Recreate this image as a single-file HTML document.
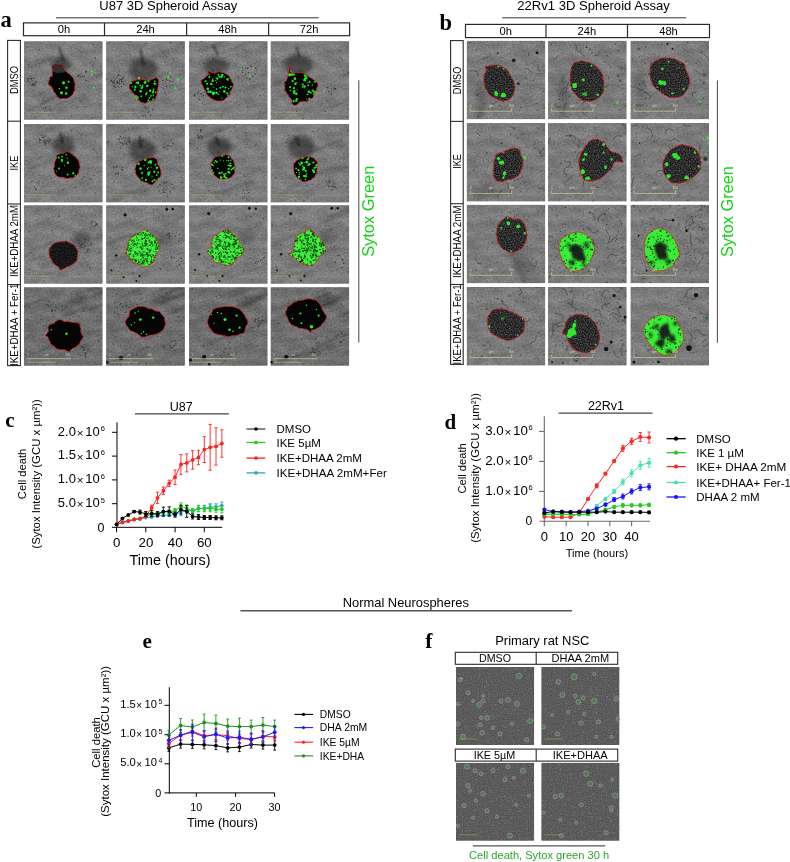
<!DOCTYPE html>
<html><head><meta charset="utf-8"><title>Spheroid assay figure</title>
<style>html,body{margin:0;padding:0;background:#fff;}#fig{position:relative;width:790px;height:862px;overflow:hidden;background:#fff;}svg{display:block;}</style>
</head><body><div id="fig">
<svg width="790" height="862" viewBox="0 0 790 862" font-family="'Liberation Sans', Arial, sans-serif">
<defs>
<filter id="blur2" x="-50%" y="-50%" width="200%" height="200%"><feGaussianBlur stdDeviation="2"/></filter>
<filter id="mtex" x="0" y="0" width="100%" height="100%" color-interpolation-filters="sRGB"><feTurbulence type="fractalNoise" baseFrequency="0.06 0.12" numOctaves="3" seed="2" result="n1"/><feTurbulence type="fractalNoise" baseFrequency="0.55" numOctaves="2" seed="5" result="n2"/><feColorMatrix in="n1" type="matrix" values="1 0 0 0 0 1 0 0 0 0 1 0 0 0 0 0 0 0 0 1" result="g1"/><feColorMatrix in="n2" type="matrix" values="1 0 0 0 0 1 0 0 0 0 1 0 0 0 0 0 0 0 0 1" result="g2"/><feComposite in="g1" in2="g2" operator="arithmetic" k2="0.45" k3="0.55" result="g3"/><feGaussianBlur in="g3" stdDeviation="0.45" result="g"/><feComposite in="SourceGraphic" in2="g" operator="arithmetic" k2="1" k3="0.34" k4="-0.17"/></filter>
<filter id="ntex" x="0" y="0" width="100%" height="100%" color-interpolation-filters="sRGB"><feTurbulence type="fractalNoise" baseFrequency="0.8" numOctaves="1" seed="11" result="n"/><feColorMatrix in="n" type="matrix" values="1 0 0 0 0 1 0 0 0 0 1 0 0 0 0 0 0 0 0 1" result="g"/><feComposite in="SourceGraphic" in2="g" operator="arithmetic" k2="1" k3="0.22" k4="-0.11"/></filter>
<filter id="blur3" x="-50%" y="-50%" width="200%" height="200%"><feGaussianBlur stdDeviation="3"/></filter>
<filter id="blur1" x="-50%" y="-50%" width="200%" height="200%"><feGaussianBlur stdDeviation="1"/></filter>
<filter id="blur03" x="-50%" y="-50%" width="200%" height="200%"><feGaussianBlur stdDeviation="0.3"/></filter>
<filter id="blur05" x="-50%" y="-50%" width="200%" height="200%"><feGaussianBlur stdDeviation="0.5"/></filter>
<filter id="grainA" x="0" y="0" width="100%" height="100%"><feTurbulence type="fractalNoise" baseFrequency="0.8" numOctaves="2" seed="4"/><feColorMatrix type="matrix" values="0 0 0 0 0  0 0 0 0 0  0 0 0 0 0  0 0 0 -1.6 0.75"/></filter>
<filter id="grainL" x="0" y="0" width="100%" height="100%" color-interpolation-filters="sRGB"><feTurbulence type="fractalNoise" baseFrequency="0.8" numOctaves="2" seed="7"/><feColorMatrix type="matrix" values="0 0 0 0 0.46  0 0 0 0 0.46  0 0 0 0 0.46  1.5 0 0 0 -0.5"/></filter>
<filter id="grainK" x="0" y="0" width="100%" height="100%" color-interpolation-filters="sRGB"><feTurbulence type="fractalNoise" baseFrequency="0.7" numOctaves="2" seed="3"/><feGaussianBlur stdDeviation="0.35"/><feColorMatrix type="matrix" values="0 0 0 0 0.03  0 0 0 0 0.1  0 0 0 0 0.03  -4.5 0 0 0 2.45"/></filter>
<filter id="grainD" x="0" y="0" width="100%" height="100%"><feTurbulence type="fractalNoise" baseFrequency="1.1" numOctaves="1" seed="9"/><feColorMatrix type="matrix" values="0 0 0 0 0.7  0 0 0 0 0.7  0 0 0 0 0.7  0 0 0 4 -2.3"/></filter>
<clipPath id="c1"><rect x="0" y="0" width="78.6" height="78.5"/></clipPath><clipPath id="c2"><rect x="0" y="0" width="78.6" height="78.5"/></clipPath><clipPath id="c3"><rect x="0" y="0" width="78.6" height="78.5"/></clipPath><clipPath id="c4"><rect x="0" y="0" width="78.6" height="78.5"/></clipPath><clipPath id="c5"><rect x="0" y="0" width="78.6" height="78.5"/></clipPath><clipPath id="c6"><rect x="0" y="0" width="78.6" height="78.5"/></clipPath><clipPath id="c7"><rect x="0" y="0" width="78.6" height="78.5"/></clipPath><clipPath id="c8"><rect x="0" y="0" width="78.6" height="78.5"/></clipPath><clipPath id="c9"><rect x="0" y="0" width="78.6" height="78.5"/></clipPath><clipPath id="c10"><path d="M32.3,37.23 L34.05,36.85 L36.8,36.52 L39.82,36.22 L41.6,35.83 L43.57,36.45 L45.73,37.56 L47,37.94 L49.11,39.3 L50.99,40.78 L52.05,42.52 L53.21,44.68 L53.9,46.78 L53.53,49.68 L53.3,52.27 L53.02,55.16 L52.13,56.21 L50.04,58.17 L48.49,59.35 L46.76,60.16 L44.4,61.58 L42.74,61.76 L39.99,63.45 L38.49,63.99 L36.34,64.94 L35.5,63.75 L34.92,62.22 L33.15,61.15 L31.46,59.73 L29.7,58.39 L28.18,56.58 L27.53,54.52 L25.93,52.19 L25.08,49.27 L25,46.88 L25.04,45.07 L25.43,42.81 L27.31,41.16 L27.68,39.81 L28.94,39.01 L30.49,38.01 L30.62,37.94Z"/></clipPath><clipPath id="c11"><rect x="0" y="0" width="78.6" height="78.5"/></clipPath><clipPath id="c12"><rect x="0" y="0" width="78.6" height="78.5"/></clipPath><clipPath id="c13"><rect x="0" y="0" width="78.6" height="78.5"/></clipPath><clipPath id="c14"><rect x="0" y="0" width="78.6" height="78.5"/></clipPath><clipPath id="c15"><rect x="0" y="0" width="78.6" height="78.5"/></clipPath><clipPath id="c16"><rect x="0" y="0" width="78.6" height="78.5"/></clipPath><clipPath id="c17"><rect x="0" y="0" width="78.6" height="78.5"/></clipPath><clipPath id="c18"><rect x="0" y="0" width="78.5" height="78.4"/></clipPath><clipPath id="c19"><path d="M18.77,25.58 L19.93,25.65 L21.38,25.39 L23.38,24.49 L25.23,24.33 L27.95,24.1 L29.58,23.78 L31.73,24.53 L33.91,24.87 L35.5,25.88 L37.52,27.19 L38.89,28.05 L41.15,30.07 L42.27,31.94 L43.37,33.79 L44.76,36.1 L45.63,37.85 L47.12,39.95 L47.6,41.86 L47.71,44.14 L48.38,45.86 L48.05,48.04 L47.77,49.96 L47.5,51.27 L46.59,53.54 L46.13,54.75 L44.42,56.73 L42.88,58.33 L41.25,59.22 L38.83,59.69 L36.45,60.69 L34.2,59.93 L31.8,59 L30.06,58.12 L27.85,56.96 L25.32,55.87 L23.39,54.22 L21.65,52.59 L20.81,50.68 L19.73,49.08 L18.36,47.05 L17.7,44.87 L17.47,41.87 L17.22,39.34 L17.23,36.07 L17.53,34.02 L18.66,31.9 L19.21,30.58 L19.53,28.79 L18.86,27.35 L18.22,26.6Z"/></clipPath><clipPath id="c20"><rect x="0" y="0" width="78.5" height="78.4"/></clipPath><clipPath id="c21"><path d="M25.27,22.41 L26.99,21.53 L29.12,20.99 L30.91,20.76 L33.03,19.98 L35.23,20.1 L36.98,21.01 L38.98,21.31 L41.6,21.89 L43.55,23.06 L45.13,23.57 L47.74,25.53 L49.68,26.97 L51,29.01 L52.55,30.93 L53.83,32.54 L54.59,35.22 L54.67,37.33 L55.67,40.02 L55.77,42.53 L55.78,45.81 L55.88,48.14 L55.24,50.03 L54.11,52.44 L53.76,53.9 L52.08,55.76 L50.84,56.8 L49.13,58.14 L47.75,58.86 L45.64,59.49 L43.1,60.43 L40.86,60.39 L38.95,60.32 L37.61,60.03 L35.67,60.15 L33.58,59.41 L32.06,58.42 L30.85,56.93 L29.81,55.84 L28.06,54.26 L26.6,52.48 L25.67,51.37 L23.83,49.43 L23.37,46.53 L22.23,44.46 L22.41,42.3 L21.72,39.26 L22.29,36.26 L21.78,33.83 L22.47,31.98 L22.96,29.29 L22.84,27.5 L23.62,25.88 L24.43,24.33Z"/></clipPath><clipPath id="c22"><rect x="0" y="0" width="78.5" height="78.4"/></clipPath><clipPath id="c23"><path d="M21.16,23.41 L22.91,21.35 L24.94,20.26 L27.89,18.8 L29.87,17.65 L32.33,17.32 L34.81,17.33 L37.62,17.11 L39.37,17.09 L42.26,17.47 L44.49,18.27 L46.08,18.77 L47.73,20.17 L49.61,20.67 L51.98,22.02 L53.54,22.62 L54.19,23.92 L54.9,25.72 L54.95,28.02 L55.91,30.4 L57.22,32.65 L57.94,35.21 L58.73,36.86 L59.49,38.76 L59.23,41.27 L58.8,43.64 L58.13,45.45 L57.43,48.44 L55.95,49.65 L54.39,52.07 L53.59,53.49 L51.85,54.81 L50.16,55.76 L47.71,56.4 L46.1,56.51 L44.37,56.85 L42.04,56.92 L39.99,56.73 L37.62,56.41 L36.2,54.97 L34.07,54.24 L31.8,52.69 L30.08,51.26 L27.83,49.71 L26.05,48.6 L24.78,46.84 L22.95,45.49 L22.05,42.9 L21.16,41.14 L20.06,38.33 L19.57,36.01 L19.39,32.69 L19.48,29.9 L19.61,26.55Z"/></clipPath><clipPath id="c24"><rect x="0" y="0" width="78.5" height="78.4"/></clipPath><clipPath id="c25"><path d="M29.44,31.38 L31.85,30.42 L33.95,29.5 L37.06,28.68 L38.65,27.56 L40.54,27.24 L42.73,26.07 L44.54,25.63 L46.73,25.34 L48.71,24.97 L50.46,25.6 L52.03,26.35 L53.07,27.54 L53.46,28.93 L54.14,31.23 L54.62,33.79 L55.82,35 L56.19,37.14 L56.32,39.27 L56.2,41.49 L55.41,44.63 L55.24,46.55 L54.14,48.43 L53.33,50.21 L52.27,51.59 L51.45,52.94 L49.93,53.56 L47.74,55.01 L46.1,55.66 L44.18,56.4 L41.54,56.36 L39.78,57.48 L37.44,57.86 L35.96,59.09 L33.67,58.46 L32.26,58.52 L30.6,58.04 L29.21,57.29 L28.42,55.86 L27.37,54.64 L26.81,53.07 L26.9,50 L26.21,47.69 L26.97,44.56 L27.22,41.81 L27.15,39.14 L27.58,37.12 L28.33,36.04 L28.7,34.62 L28.82,33.09 L28.67,32.55Z"/></clipPath><clipPath id="c26"><rect x="0" y="0" width="78.5" height="78.4"/></clipPath><clipPath id="c27"><path d="M39.47,20.4 L41.04,18.62 L43.57,16.9 L45.24,16.14 L47.47,16.4 L49.61,16.06 L51.23,17.27 L53.84,18.39 L55.88,19.42 L57.31,21.15 L58.7,23.48 L60.42,25.67 L61.76,27.45 L62.56,28.35 L64.3,28.71 L65.39,29.68 L66.63,29.32 L68.64,30.19 L69.63,30.31 L71.4,31.57 L72.54,32.77 L73.8,34.37 L74.25,36.64 L74.88,38.09 L74.87,39.25 L73.52,39.53 L71.85,38.85 L70.37,38.7 L69.37,38.81 L67.61,38.5 L66.67,39.58 L65.41,40.55 L64.63,43.14 L63.8,44.28 L62.52,46.48 L60.87,47.61 L59.71,49.22 L57.69,51 L55.87,52.99 L53.55,54.83 L51.54,56.08 L49.15,56.59 L47.58,57.33 L45.03,58.32 L43.47,58.34 L41.15,58.31 L39.68,58.1 L37.66,57.57 L35.85,57.05 L34.73,54.96 L34.19,53.27 L33.04,51.48 L32.13,49.45 L31.68,46.41 L30.84,43.6 L30.96,40.65 L30.69,38.19 L31.12,35.3 L32.09,33.1 L32.65,30.63 L33.94,28.4 L36.01,25.73 L37.5,22.39Z"/></clipPath><clipPath id="c28"><rect x="0" y="0" width="78.5" height="78.4"/></clipPath><clipPath id="c29"><path d="M39.93,27.03 L41.57,25.73 L43.73,24.58 L46.41,23.16 L48.3,22.61 L50.14,21.57 L52.58,21.55 L54.16,22.16 L57.26,22.79 L59.33,23.16 L61.79,24.1 L63.7,25.32 L65.22,26.69 L66.52,27.88 L67.33,29.19 L68.39,31.12 L69.41,33.67 L69.85,37.08 L70.69,39.85 L70.66,41.84 L70.01,44.57 L69.44,46.94 L68.38,48.74 L65.95,51.17 L64.55,52.72 L62.45,54.38 L60.27,55.38 L58.12,57.01 L56.49,58.06 L54.55,58.61 L52.07,59.59 L49.78,60.07 L47.77,60.2 L45.76,59.96 L43.66,59.9 L41.84,59.74 L39.93,58.94 L38.82,57.99 L37.05,56.62 L35.78,54.64 L35.12,52.91 L33.47,50.71 L32.75,48.93 L32.61,46.72 L32.45,44.37 L32.24,41.45 L32.73,38.78 L33.8,36.29 L35,33.5 L36.42,31.44 L38.41,28.96Z"/></clipPath><clipPath id="c30"><rect x="0" y="0" width="78.5" height="78.4"/></clipPath><clipPath id="c31"><path d="M36.63,14.57 L38.38,12.83 L39.33,11.86 L40.57,11.41 L42.75,12.43 L43.85,13 L46.27,14.12 L47.5,14.37 L50.19,14.36 L52.11,14.06 L54.19,15.28 L55.38,16.78 L57.2,18.29 L58.23,20.7 L58.85,23.02 L59.87,25.6 L59.78,27.91 L60.57,30 L60.07,32.22 L59.68,34.83 L58.67,37.76 L57.71,39.42 L57.1,41.18 L55.67,43.03 L53.71,44.44 L52.12,45.28 L50.81,46.08 L48.92,46.69 L47.39,47.27 L45.92,47.94 L43.77,47.58 L42.6,47.17 L40.31,46.65 L39.06,45.53 L37.05,45.01 L35.24,43.16 L33.39,41.44 L32.72,39.9 L31.3,37.76 L30.66,35.94 L30.51,32.83 L29.4,29.96 L30.07,27.33 L30.27,24.7 L31.05,21.6 L32.06,19.45 L33.33,17.52 L34.69,15.85Z"/></clipPath><clipPath id="c32"><rect x="0" y="0" width="78.5" height="78.4"/></clipPath><clipPath id="c33"><rect x="0" y="0" width="78.5" height="78.4"/></clipPath><clipPath id="c34"><rect x="0" y="0" width="78.5" height="78.4"/></clipPath><clipPath id="c35"><path d="M24.64,24.05 L25.86,23.09 L27.6,22.36 L29.66,21.82 L31.66,22.16 L33.94,21.48 L35.88,21.83 L38.12,22.34 L40.12,22.97 L41.84,23.84 L44.05,24.97 L46.14,25.26 L47.61,26.6 L49.97,27.21 L51.35,28.5 L52.9,29.3 L54.14,29.78 L56.16,30.11 L57.05,31.25 L57.44,32.97 L57.91,34.82 L58.2,37.16 L57.72,39.53 L57.53,41.93 L57.05,43.8 L56.22,45.58 L54.29,47.16 L52.83,48.66 L51.22,49.63 L48.99,50.86 L47.21,52.05 L44.54,52.91 L42.84,53.18 L40.7,53.14 L38.52,53.01 L36.59,52.03 L34.45,51.3 L32.77,50.64 L30.32,49.51 L28.88,48.41 L26.49,47.45 L25.01,46.25 L23.27,44.71 L22.97,42.92 L21.7,41.08 L21.39,39.08 L20.85,37.46 L20.65,35.77 L20.8,34.56 L20.73,32.52 L21.2,30.71 L21.36,29.45 L22.6,27.54 L23.59,26.03Z"/></clipPath><clipPath id="c36"><rect x="0" y="0" width="78.5" height="78.4"/></clipPath><clipPath id="c37"><path d="M23.15,29.45 L24.92,28.41 L27.01,27.46 L28.94,27.06 L31.64,27.21 L34.11,27.32 L35.94,28.03 L38.67,28.87 L40.44,29.92 L42.31,31.17 L43.88,32.82 L45.92,34.82 L47.17,36.31 L48.65,38.88 L49.29,41.35 L50.34,43.78 L51.04,46.26 L51.45,48.74 L51.75,51.89 L50.76,54.26 L50.7,56.74 L49.19,58.59 L47.8,60.53 L46.47,61.78 L44,63.5 L42.67,64.52 L40.71,65.27 L38.25,65.94 L36.15,65.33 L33.16,65.16 L31.27,64.42 L28.96,64.09 L27,62.54 L25.39,61.42 L23.91,60.49 L22.53,58.67 L21.42,56.25 L20.03,54.87 L19.75,52.06 L18.81,50.75 L18.27,49 L18,47.96 L17.16,47.73 L16.04,46.87 L14.38,46.39 L13.69,45.72 L14.6,45.27 L14.88,43.56 L15.95,42.07 L16.73,40.67 L17.18,38.68 L17.61,36.1 L18.14,35.08 L18.8,33.77 L20.17,31.97 L20.98,31.1 L21.58,30.3Z"/></clipPath><clipPath id="c38"><rect x="0" y="0" width="78.5" height="78.4"/></clipPath><clipPath id="c39"><rect x="0" y="0" width="78.2" height="78.1"/></clipPath><clipPath id="c40"><rect x="0" y="0" width="78.2" height="78.1"/></clipPath><clipPath id="c41"><rect x="0" y="0" width="78.2" height="78.1"/></clipPath><clipPath id="c42"><rect x="0" y="0" width="78.2" height="78.1"/></clipPath>
</defs>
<text x="0.5" y="26.5" font-size="22.5" text-anchor="start" fill="#000" font-family="'Liberation Serif', 'Times New Roman', serif" font-weight="bold">a</text>
<text x="99.3" y="10.2" font-size="13" text-anchor="start" fill="#000" >U87 3D Spheroid Assay</text>
<line x1="56" y1="17.8" x2="318.7" y2="17.8" stroke="#333" stroke-width="1" />
<rect x="23.5" y="22.9" width="326.1" height="12.8" fill="#fff" stroke="#2a2a2a" stroke-width="1.2" />
<line x1="104.5" y1="22.9" x2="104.5" y2="35.7" stroke="#2a2a2a" stroke-width="1.2" />
<line x1="186.6" y1="22.9" x2="186.6" y2="35.7" stroke="#2a2a2a" stroke-width="1.2" />
<line x1="268.6" y1="22.9" x2="268.6" y2="35.7" stroke="#2a2a2a" stroke-width="1.2" />
<text x="64" y="33.4" font-size="11.2" text-anchor="middle" fill="#000" >0h</text>
<text x="145.5" y="33.4" font-size="11.2" text-anchor="middle" fill="#000" >24h</text>
<text x="227.6" y="33.4" font-size="11.2" text-anchor="middle" fill="#000" >48h</text>
<text x="309.1" y="33.4" font-size="11.2" text-anchor="middle" fill="#000" >72h</text>
<rect x="7.6" y="40.4" width="12.8" height="325.2" fill="#fff" stroke="#2a2a2a" stroke-width="1.1" />
<line x1="7.6" y1="121.2" x2="20.4" y2="121.2" stroke="#2a2a2a" stroke-width="1.1" />
<line x1="7.6" y1="204" x2="20.4" y2="204" stroke="#2a2a2a" stroke-width="1.1" />
<line x1="7.6" y1="284.6" x2="20.4" y2="284.6" stroke="#2a2a2a" stroke-width="1.1" />
<text transform="translate(17.8,79.9) rotate(-90)" font-size="10" text-anchor="middle" fill="#000" textLength="28" lengthAdjust="spacingAndGlyphs" >DMSO</text>
<text transform="translate(17.8,163.1) rotate(-90)" font-size="10" text-anchor="middle" fill="#000" textLength="14.8" lengthAdjust="spacingAndGlyphs" >IKE</text>
<text transform="translate(17.8,241) rotate(-90)" font-size="10" text-anchor="middle" fill="#000" textLength="72" lengthAdjust="spacingAndGlyphs" >IKE+DHAA 2mM</text>
<text transform="translate(17.8,324.8) rotate(-90)" font-size="10" text-anchor="middle" fill="#000" textLength="82.5" lengthAdjust="spacingAndGlyphs" >IKE+DHAA + Fer-1</text>
<line x1="358.8" y1="80.3" x2="358.8" y2="342.6" stroke="#555" stroke-width="1.1" />
<text transform="translate(374.3,211.3) rotate(-90)" font-size="16.4" text-anchor="middle" fill="#14d214" >Sytox Green</text>
<g transform="translate(24,41.2)" clip-path="url(#c1)">
<rect x="0" y="0" width="78.6" height="78.5" fill="#7c7c7c" filter="url(#mtex)"/>
<ellipse cx="37.3" cy="23" rx="9" ry="8.05" fill="#000" opacity="0.4" filter="url(#blur2)" transform="rotate(0 37.3 23)"/>
<line x1="56" y1="59.12" x2="96" y2="42.91" stroke="#000" stroke-width="2.017833500585927" opacity="0.1009019777094887" filter="url(#blur1)"/>
<line x1="16.44" y1="61.14" x2="56.44" y2="46.1" stroke="#000" stroke-width="2.4531939083047116" opacity="0.1066705631564025" filter="url(#blur1)"/>
<line x1="61.73" y1="39.37" x2="101.73" y2="24.55" stroke="#000" stroke-width="3.011608408314448" opacity="0.10946951973402654" filter="url(#blur1)"/>
<line x1="2.55" y1="70.96" x2="42.55" y2="49.13" stroke="#000" stroke-width="3.120434471993179" opacity="0.13217327603516663" filter="url(#blur1)"/>
<line x1="7.91" y1="56.93" x2="47.91" y2="35.94" stroke="#000" stroke-width="2.8679678638308825" opacity="0.09777141723621707" filter="url(#blur1)"/>
<line x1="-10.94" y1="33.87" x2="29.06" y2="15.76" stroke="#000" stroke-width="3.326022106475796" opacity="0.13732850942166072" filter="url(#blur1)"/>
<line x1="22.93" y1="67.49" x2="62.93" y2="52.89" stroke="#000" stroke-width="3.110055654026045" opacity="0.10389594430684715" filter="url(#blur1)"/>
<line x1="35.4" y1="6" x2="39.5" y2="20" stroke="#000" stroke-width="2.2" opacity="0.5" filter="url(#blur1)"/>
<g fill="#151515" opacity="0.7"><circle cx="11.06" cy="43.44" r="0.64"/><circle cx="7.89" cy="43.52" r="0.5"/><circle cx="5.43" cy="36.38" r="0.34"/><circle cx="12.5" cy="40.81" r="0.49"/><circle cx="8.02" cy="39.77" r="0.5"/><circle cx="7.57" cy="37.65" r="0.73"/><circle cx="8.71" cy="39.49" r="0.31"/><circle cx="3.32" cy="38.75" r="0.47"/><circle cx="8.68" cy="43.18" r="0.31"/><circle cx="8.59" cy="43.26" r="0.52"/><circle cx="8.25" cy="42.39" r="0.4"/><circle cx="5.39" cy="40.68" r="0.31"/><circle cx="9.95" cy="36.82" r="0.59"/><circle cx="9.95" cy="44.58" r="0.69"/><circle cx="10.09" cy="41.99" r="0.62"/><circle cx="6.83" cy="35.3" r="0.49"/><circle cx="9.97" cy="36.41" r="0.44"/><circle cx="4" cy="37.54" r="0.68"/><circle cx="4.16" cy="39.87" r="0.32"/><circle cx="8.2" cy="44.46" r="0.49"/><circle cx="9.72" cy="43.28" r="0.62"/><circle cx="6.6" cy="37.28" r="0.5"/><circle cx="3.59" cy="39.77" r="0.53"/><circle cx="5.26" cy="42.17" r="0.31"/><circle cx="12.04" cy="41.13" r="0.74"/></g>
<g fill="#151515" opacity="0.7"><circle cx="56.86" cy="32.92" r="0.38"/><circle cx="54.05" cy="34.92" r="0.65"/><circle cx="54.61" cy="33.63" r="0.4"/><circle cx="54.17" cy="34.49" r="0.56"/><circle cx="56.99" cy="35.79" r="0.55"/><circle cx="60.44" cy="34.88" r="0.65"/><circle cx="62.42" cy="29.9" r="0.63"/><circle cx="61.57" cy="30.97" r="0.55"/><circle cx="58.73" cy="35.64" r="0.69"/><circle cx="57.57" cy="33.86" r="0.53"/><circle cx="56.43" cy="35.34" r="0.46"/><circle cx="55.4" cy="33.87" r="0.58"/><circle cx="59.03" cy="35.26" r="0.4"/><circle cx="62.03" cy="39.12" r="0.69"/><circle cx="61.6" cy="29.89" r="0.67"/></g>
<g fill="#151515" opacity="0.7"><circle cx="19.76" cy="67.34" r="0.6"/><circle cx="20.9" cy="60.52" r="0.31"/><circle cx="20.14" cy="56.01" r="0.35"/><circle cx="16.68" cy="56.68" r="0.33"/><circle cx="23.12" cy="64.9" r="0.38"/><circle cx="19.03" cy="66.68" r="0.5"/><circle cx="17.59" cy="64.95" r="0.31"/><circle cx="16.07" cy="63.39" r="0.38"/><circle cx="25.88" cy="64.79" r="0.53"/><circle cx="21.58" cy="66.02" r="0.67"/><circle cx="21.06" cy="60.14" r="0.37"/><circle cx="19.38" cy="56.86" r="0.62"/></g>
<g fill="#222" opacity="0.7"><circle cx="53.3" cy="42.76" r="0.39"/><circle cx="76.68" cy="62.63" r="0.51"/><circle cx="17.54" cy="50.91" r="0.46"/><circle cx="45.26" cy="25.22" r="0.55"/><circle cx="4.62" cy="23.44" r="0.69"/><circle cx="68.82" cy="24.05" r="0.64"/><circle cx="24.39" cy="73.73" r="0.6"/><circle cx="32.71" cy="19.81" r="0.3"/><circle cx="69.07" cy="2.98" r="0.63"/><circle cx="75.63" cy="44.77" r="0.37"/><circle cx="68.21" cy="76.44" r="0.58"/><circle cx="40" cy="29.67" r="0.44"/><circle cx="16.17" cy="52.92" r="0.47"/><circle cx="15.26" cy="8.2" r="0.57"/><circle cx="23.27" cy="39.23" r="0.43"/><circle cx="68.51" cy="70.62" r="0.31"/><circle cx="15.79" cy="25.73" r="0.69"/><circle cx="61.52" cy="26.62" r="0.39"/><circle cx="53.01" cy="65.76" r="0.67"/><circle cx="27.03" cy="69.27" r="0.57"/><circle cx="38.08" cy="77.36" r="0.39"/><circle cx="57.02" cy="6.65" r="0.37"/><circle cx="71.6" cy="16.72" r="0.6"/><circle cx="47.18" cy="66.03" r="0.45"/><circle cx="26.75" cy="22.86" r="0.65"/><circle cx="47.47" cy="74.91" r="0.65"/><circle cx="10.64" cy="43.27" r="0.34"/><circle cx="3.08" cy="5.75" r="0.65"/><circle cx="61.95" cy="65.04" r="0.44"/><circle cx="48.35" cy="61.38" r="0.45"/><circle cx="44.86" cy="17.56" r="0.33"/><circle cx="20.96" cy="69.93" r="0.53"/><circle cx="72.71" cy="35.93" r="0.41"/><circle cx="61.86" cy="64.98" r="0.3"/><circle cx="52.69" cy="7.2" r="0.35"/><circle cx="69.57" cy="3.14" r="0.4"/><circle cx="77.67" cy="33.05" r="0.35"/><circle cx="13.16" cy="18.95" r="0.6"/><circle cx="8.08" cy="71.5" r="0.45"/><circle cx="76.26" cy="71.37" r="0.42"/></g>
<path d="M28.15,24.28 L29.29,23.76 L31.08,22.87 L33.88,23.1 L35.34,23.23 L36.91,23 L38.91,24.37 L39.53,24.45 L38.89,26.2 L39.98,27.34 L40.46,28.45 L41.03,29.28 L42.31,30.15 L43.7,31.7 L46.46,33.6 L47.75,35.54 L49.31,36.87 L49.71,38.4 L50.42,40.85 L51.29,42.89 L50.69,46.06 L50.68,48.7 L49.94,50.12 L49.31,51.84 L48.65,53.27 L46.74,55.07 L45.17,56.22 L43.49,57.06 L41.15,57.29 L39.69,57.24 L37.95,57.37 L36.23,57.82 L34.94,56.45 L33.01,55.71 L32.7,54.28 L31.68,52.68 L30.81,51.13 L29.48,50.63 L29.34,49.26 L28.74,47.85 L27.91,46.16 L26.96,45.12 L26.51,44.77 L25.13,43.56 L24.89,43.85 L23.95,42.94 L24.47,41.83 L24.65,40.51 L25.06,39.02 L25.64,38.35 L25.66,36.98 L25.75,36.14 L26.31,35.6 L28.01,35.18 L28.3,34.51 L28.32,32.46 L28.52,31.18 L28.55,29.34 L28.4,27.79 L27.77,25.7Z" fill="#050505"/>
<path d="M28.59,24.44 L30.62,23.73 L33.64,23.85 L35.95,23.73 L38.03,23.94 L38.94,25.88 L39.1,27.56 L41.32,28.86 L42.12,30.51 L39.53,31.26 L36.14,31.56 L32.36,31.68 L29.28,30.54 L27.87,27.4Z" fill="#303030"/>
<path d="M28.15,24.28 L29.29,23.76 L31.08,22.87 L33.88,23.1 L35.34,23.23 L36.91,23 L38.91,24.37 L39.53,24.45 L38.89,26.2 L39.98,27.34 L40.46,28.45 L41.03,29.28 L42.31,30.15 L43.7,31.7 L46.46,33.6 L47.75,35.54 L49.31,36.87 L49.71,38.4 L50.42,40.85 L51.29,42.89 L50.69,46.06 L50.68,48.7 L49.94,50.12 L49.31,51.84 L48.65,53.27 L46.74,55.07 L45.17,56.22 L43.49,57.06 L41.15,57.29 L39.69,57.24 L37.95,57.37 L36.23,57.82 L34.94,56.45 L33.01,55.71 L32.7,54.28 L31.68,52.68 L30.81,51.13 L29.48,50.63 L29.34,49.26 L28.74,47.85 L27.91,46.16 L26.96,45.12 L26.51,44.77 L25.13,43.56 L24.89,43.85 L23.95,42.94 L24.47,41.83 L24.65,40.51 L25.06,39.02 L25.64,38.35 L25.66,36.98 L25.75,36.14 L26.31,35.6 L28.01,35.18 L28.3,34.51 L28.32,32.46 L28.52,31.18 L28.55,29.34 L28.4,27.79 L27.77,25.7Z" fill="none" stroke="#d81c1c" stroke-width="0.72" stroke-linejoin="round"/>
<circle cx="39.5" cy="41.5" r="1.5" fill="#2af02a"/>
<circle cx="44.6" cy="40.5" r="1" fill="#2af02a"/>
<circle cx="42.5" cy="46.6" r="1.2" fill="#2af02a"/>
<circle cx="37.5" cy="51.6" r="1.5" fill="#2af02a"/>
<circle cx="42.1" cy="52.3" r="1.2" fill="#2af02a"/>
<circle cx="35.4" cy="47.6" r="0.8" fill="#2af02a"/>
<circle cx="67.8" cy="30" r="0.9" fill="#2af02a"/>
<circle cx="67.8" cy="33.4" r="1.1" fill="#2af02a"/>
<circle cx="69.9" cy="46.2" r="1" fill="#2af02a"/>
<g stroke="#c8c070" stroke-width="0.5" opacity="0.8"><line x1="3" y1="71" x2="33" y2="71"/><line x1="3" y1="73.5" x2="24" y2="73.5" stroke-dasharray="1 1"/></g>
</g>
<g transform="translate(106.2,41.2)" clip-path="url(#c2)">
<rect x="0" y="0" width="78.6" height="78.5" fill="#7c7c7c" filter="url(#mtex)"/>
<ellipse cx="37" cy="28" rx="14.4" ry="11.5" fill="#000" opacity="0.4" filter="url(#blur2)" transform="rotate(0 37 28)"/>
<line x1="-7.91" y1="66.1" x2="32.09" y2="46.46" stroke="#000" stroke-width="2.0101380514788434" opacity="0.09963480696735527" filter="url(#blur1)"/>
<line x1="20.45" y1="50.82" x2="60.45" y2="30.94" stroke="#000" stroke-width="1.6877191735484698" opacity="0.062267798121760504" filter="url(#blur1)"/>
<line x1="55.22" y1="33.76" x2="95.22" y2="14.13" stroke="#000" stroke-width="1.5042121067022214" opacity="0.09563097552438413" filter="url(#blur1)"/>
<line x1="44.94" y1="17.84" x2="84.94" y2="-3.61" stroke="#000" stroke-width="3.302854915222967" opacity="0.06244719864268428" filter="url(#blur1)"/>
<line x1="-17.71" y1="42.23" x2="22.29" y2="20.84" stroke="#000" stroke-width="2.262408475376425" opacity="0.07732795177044907" filter="url(#blur1)"/>
<line x1="17.99" y1="2.27" x2="57.99" y2="-11.95" stroke="#000" stroke-width="2.3757751873011443" opacity="0.09966497931054806" filter="url(#blur1)"/>
<line x1="0.98" y1="18.01" x2="40.98" y2="3.82" stroke="#000" stroke-width="2.4192069314754674" opacity="0.08318252916723885" filter="url(#blur1)"/>
<line x1="34.2" y1="8" x2="37.3" y2="24" stroke="#000" stroke-width="2.2" opacity="0.5" filter="url(#blur1)"/>
<g fill="#151515" opacity="0.7"><circle cx="18.56" cy="38.14" r="0.33"/><circle cx="17.51" cy="43.25" r="0.63"/><circle cx="10.12" cy="36.6" r="0.57"/><circle cx="7.82" cy="36.68" r="0.37"/><circle cx="8.02" cy="41.85" r="0.63"/><circle cx="18.82" cy="39.78" r="0.54"/><circle cx="8.59" cy="41.23" r="0.32"/><circle cx="16.7" cy="40.82" r="0.44"/><circle cx="7.18" cy="44.53" r="0.54"/><circle cx="8.84" cy="38.74" r="0.31"/><circle cx="10.82" cy="42.31" r="0.53"/><circle cx="17.75" cy="39.95" r="0.38"/><circle cx="16.9" cy="36.13" r="0.63"/><circle cx="17.09" cy="36.61" r="0.66"/><circle cx="7.79" cy="45.51" r="0.73"/><circle cx="15.22" cy="45.16" r="0.62"/><circle cx="7.05" cy="41.22" r="0.52"/><circle cx="16.41" cy="37.75" r="0.67"/><circle cx="8" cy="45.22" r="0.7"/><circle cx="6.88" cy="41.28" r="0.71"/><circle cx="11.2" cy="35.18" r="0.4"/><circle cx="9.35" cy="45.22" r="0.37"/><circle cx="15.03" cy="38.02" r="0.71"/><circle cx="9.5" cy="46.38" r="0.62"/><circle cx="6.96" cy="39.87" r="0.59"/><circle cx="8.67" cy="37.95" r="0.39"/><circle cx="5.25" cy="39.5" r="0.58"/><circle cx="17.64" cy="42.89" r="0.63"/><circle cx="14.56" cy="38.32" r="0.64"/><circle cx="17.28" cy="42.04" r="0.42"/><circle cx="12.96" cy="46.48" r="0.35"/><circle cx="5.6" cy="39.09" r="0.41"/><circle cx="13.61" cy="46.37" r="0.49"/><circle cx="11.74" cy="38.78" r="0.46"/><circle cx="14.71" cy="45.06" r="0.34"/><circle cx="13.07" cy="39.69" r="0.63"/><circle cx="15.51" cy="40.47" r="0.67"/><circle cx="13.65" cy="42.5" r="0.61"/><circle cx="10.91" cy="40.96" r="0.75"/><circle cx="12.77" cy="41.09" r="0.45"/><circle cx="7.48" cy="36" r="0.35"/><circle cx="11.36" cy="41.05" r="0.5"/><circle cx="12.6" cy="34.01" r="0.71"/><circle cx="12.23" cy="33.5" r="0.62"/><circle cx="8.72" cy="40.57" r="0.6"/><circle cx="11.1" cy="42.04" r="0.5"/><circle cx="13.76" cy="38.23" r="0.56"/><circle cx="8.07" cy="43.13" r="0.36"/><circle cx="15.45" cy="39.11" r="0.57"/><circle cx="11.18" cy="40.45" r="0.55"/><circle cx="13.06" cy="41.29" r="0.32"/><circle cx="13.15" cy="41.84" r="0.59"/><circle cx="5.07" cy="39.64" r="0.72"/><circle cx="15.37" cy="39.88" r="0.5"/><circle cx="11.97" cy="45.38" r="0.58"/><circle cx="13.83" cy="34.39" r="0.42"/><circle cx="7.5" cy="42.36" r="0.3"/><circle cx="16.36" cy="40.99" r="0.35"/><circle cx="11.44" cy="36.61" r="0.34"/><circle cx="13.4" cy="43.06" r="0.4"/></g>
<g fill="#151515" opacity="0.7"><circle cx="57.95" cy="39.47" r="0.44"/><circle cx="60.26" cy="37.85" r="0.71"/><circle cx="66.99" cy="38.82" r="0.5"/><circle cx="57.44" cy="39.67" r="0.32"/><circle cx="58.22" cy="42.14" r="0.38"/><circle cx="66.47" cy="42.99" r="0.46"/><circle cx="56.28" cy="39.31" r="0.57"/><circle cx="60.54" cy="45.77" r="0.47"/><circle cx="66.93" cy="40.59" r="0.35"/><circle cx="60.11" cy="45.17" r="0.6"/><circle cx="66.01" cy="40.4" r="0.48"/><circle cx="59.27" cy="40.24" r="0.56"/><circle cx="64.86" cy="41.43" r="0.47"/><circle cx="63.52" cy="39.34" r="0.64"/><circle cx="63.61" cy="44.24" r="0.48"/><circle cx="56.93" cy="41.19" r="0.48"/><circle cx="63.51" cy="41.45" r="0.34"/><circle cx="64.82" cy="36.11" r="0.73"/><circle cx="61.67" cy="39.12" r="0.6"/><circle cx="62.87" cy="34.97" r="0.52"/></g>
<g fill="#151515" opacity="0.7"><circle cx="36.62" cy="74.22" r="0.66"/><circle cx="39.31" cy="75.76" r="0.51"/><circle cx="46.89" cy="67.98" r="0.72"/><circle cx="42.24" cy="66.26" r="0.4"/><circle cx="35.94" cy="70.29" r="0.49"/><circle cx="36.7" cy="63.08" r="0.56"/><circle cx="41.02" cy="67.74" r="0.46"/><circle cx="43.06" cy="69.96" r="0.49"/><circle cx="42.14" cy="70.96" r="0.7"/><circle cx="46.42" cy="69.54" r="0.36"/><circle cx="38.89" cy="73.69" r="0.6"/><circle cx="37.78" cy="65.19" r="0.54"/><circle cx="44.48" cy="73.81" r="0.73"/><circle cx="40.09" cy="67.52" r="0.53"/><circle cx="39.12" cy="66.04" r="0.7"/></g>
<g fill="#222" opacity="0.7"><circle cx="36.23" cy="55.2" r="0.46"/><circle cx="78.22" cy="61.45" r="0.53"/><circle cx="11.38" cy="34.63" r="0.31"/><circle cx="46.78" cy="69.22" r="0.37"/><circle cx="40.1" cy="37.87" r="0.46"/><circle cx="55.84" cy="73.53" r="0.58"/><circle cx="37.14" cy="75.52" r="0.43"/><circle cx="58.61" cy="51.69" r="0.6"/><circle cx="66.97" cy="17.66" r="0.55"/><circle cx="31.65" cy="52.36" r="0.69"/><circle cx="49.9" cy="0.91" r="0.49"/><circle cx="55.93" cy="69.33" r="0.56"/><circle cx="64.14" cy="1.35" r="0.68"/><circle cx="57.34" cy="47.61" r="0.66"/><circle cx="69.54" cy="7.89" r="0.63"/><circle cx="60.29" cy="15.66" r="0.6"/><circle cx="46.08" cy="15.03" r="0.62"/><circle cx="10.84" cy="48.07" r="0.47"/><circle cx="19.94" cy="44.44" r="0.49"/><circle cx="16.11" cy="75.89" r="0.33"/><circle cx="0.24" cy="38.11" r="0.63"/><circle cx="51.75" cy="59.24" r="0.49"/><circle cx="53.04" cy="26.29" r="0.41"/><circle cx="39.53" cy="2.16" r="0.33"/><circle cx="59.26" cy="13.64" r="0.6"/><circle cx="61.65" cy="31.75" r="0.57"/><circle cx="61.89" cy="67.83" r="0.35"/><circle cx="12.78" cy="29.96" r="0.49"/><circle cx="23.17" cy="0.82" r="0.52"/><circle cx="76" cy="28.77" r="0.52"/><circle cx="30.05" cy="34.76" r="0.65"/><circle cx="24.24" cy="50.95" r="0.49"/><circle cx="42.33" cy="71.8" r="0.33"/><circle cx="64.8" cy="23.88" r="0.56"/><circle cx="62.55" cy="51.29" r="0.46"/><circle cx="66.08" cy="7.3" r="0.55"/><circle cx="30.74" cy="41.64" r="0.64"/><circle cx="62.71" cy="49.36" r="0.42"/><circle cx="18.31" cy="35.92" r="0.39"/><circle cx="21.81" cy="75.18" r="0.34"/></g>
<path d="M23.42,43.38 L23.85,41.79 L25,40.53 L26.77,39.44 L28.77,39.29 L31.51,38.56 L33.34,38.93 L35.06,38.16 L37,38.46 L39.48,38.77 L41.3,39.18 L43.33,39.09 L45.53,38.4 L46.95,37.68 L47.89,37.43 L48.4,36.69 L49.94,36.55 L50.84,36.82 L51.84,37.75 L52.3,39.84 L52.1,43.66 L51.77,46.5 L51.2,49.35 L50.79,50.84 L50.79,52.39 L50.64,54.19 L49.54,56.15 L49.26,58.12 L48.42,58.85 L46.16,59.18 L44.14,60.03 L42.6,60.29 L41.14,60.98 L39.12,62.23 L37.12,61.45 L35.45,61.23 L34.12,60.55 L32.89,59.41 L31.86,58.28 L31.04,56.57 L30.51,54.92 L28.93,54.39 L28.13,52.98 L26.43,51.4 L25.62,49.88 L24.37,48.71 L23.25,47.43 L22.84,45.13Z" fill="#050505"/>
<g fill="#22f022"><circle cx="41.09" cy="44.69" r="1.17"/><circle cx="40.45" cy="51.65" r="0.93"/><circle cx="47.61" cy="48.22" r="0.83"/><circle cx="42.87" cy="60.05" r="0.56"/><circle cx="31.85" cy="57.04" r="0.51"/><circle cx="25.96" cy="45.56" r="0.64"/><circle cx="49.32" cy="42.75" r="0.89"/><circle cx="39.3" cy="40.11" r="0.9"/><circle cx="24.62" cy="41.68" r="1.23"/><circle cx="47.06" cy="49.98" r="1.05"/><circle cx="48.64" cy="40.15" r="0.89"/><circle cx="26.72" cy="39.55" r="0.59"/><circle cx="29.18" cy="46.29" r="1"/><circle cx="43.98" cy="49.57" r="1.23"/><circle cx="46.94" cy="52.65" r="0.67"/><circle cx="33.96" cy="44.19" r="0.84"/><circle cx="35.44" cy="46.78" r="1.14"/><circle cx="46.75" cy="50.99" r="0.88"/><circle cx="31.22" cy="56.2" r="1.29"/><circle cx="29.59" cy="54.6" r="1.06"/><circle cx="39.1" cy="41.74" r="0.66"/><circle cx="39.92" cy="53.11" r="1"/><circle cx="44.71" cy="54.59" r="0.88"/><circle cx="47.09" cy="58" r="0.98"/><circle cx="38.88" cy="41.34" r="1.26"/><circle cx="36.51" cy="44.04" r="0.67"/><circle cx="47.12" cy="54.55" r="0.72"/><circle cx="49.43" cy="51.16" r="0.83"/><circle cx="35.08" cy="55.05" r="0.86"/><circle cx="42.27" cy="39.69" r="1.06"/><circle cx="29.16" cy="45.11" r="0.93"/><circle cx="34.4" cy="50.04" r="1.24"/><circle cx="43.27" cy="56.74" r="0.86"/><circle cx="36.23" cy="45.43" r="0.88"/><circle cx="30.34" cy="41.45" r="0.88"/><circle cx="28.5" cy="48.6" r="0.96"/><circle cx="31.96" cy="40.93" r="0.98"/><circle cx="48.19" cy="42.26" r="0.99"/><circle cx="42.25" cy="59.27" r="1.05"/><circle cx="31.91" cy="41.88" r="1.17"/></g>
<path d="M23.42,43.38 L23.85,41.79 L25,40.53 L26.77,39.44 L28.77,39.29 L31.51,38.56 L33.34,38.93 L35.06,38.16 L37,38.46 L39.48,38.77 L41.3,39.18 L43.33,39.09 L45.53,38.4 L46.95,37.68 L47.89,37.43 L48.4,36.69 L49.94,36.55 L50.84,36.82 L51.84,37.75 L52.3,39.84 L52.1,43.66 L51.77,46.5 L51.2,49.35 L50.79,50.84 L50.79,52.39 L50.64,54.19 L49.54,56.15 L49.26,58.12 L48.42,58.85 L46.16,59.18 L44.14,60.03 L42.6,60.29 L41.14,60.98 L39.12,62.23 L37.12,61.45 L35.45,61.23 L34.12,60.55 L32.89,59.41 L31.86,58.28 L31.04,56.57 L30.51,54.92 L28.93,54.39 L28.13,52.98 L26.43,51.4 L25.62,49.88 L24.37,48.71 L23.25,47.43 L22.84,45.13Z" fill="none" stroke="#d81c1c" stroke-width="0.72" stroke-linejoin="round"/>
<circle cx="63.6" cy="32" r="1.1" fill="#2af02a"/>
<circle cx="62.2" cy="36" r="1.1" fill="#2af02a"/>
<circle cx="71.7" cy="38.5" r="1.2" fill="#2af02a"/>
<circle cx="69.3" cy="47" r="1.1" fill="#2af02a"/>
<circle cx="32.8" cy="36.9" r="1" fill="#c8c030"/>
<g stroke="#c8c070" stroke-width="0.5" opacity="0.8"><line x1="3" y1="71" x2="33" y2="71"/><line x1="3" y1="73.5" x2="24" y2="73.5" stroke-dasharray="1 1"/></g>
</g>
<g transform="translate(189,41.2)" clip-path="url(#c3)">
<rect x="0" y="0" width="78.6" height="78.5" fill="#7c7c7c" filter="url(#mtex)"/>
<ellipse cx="27" cy="25" rx="12.6" ry="8.05" fill="#000" opacity="0.4" filter="url(#blur2)" transform="rotate(0 27 25)"/>
<line x1="66.04" y1="73.93" x2="106.04" y2="61.37" stroke="#000" stroke-width="1.6697439903178433" opacity="0.12683991025035596" filter="url(#blur1)"/>
<line x1="46.24" y1="52.24" x2="86.24" y2="37.16" stroke="#000" stroke-width="2.711888331356925" opacity="0.10854413869126704" filter="url(#blur1)"/>
<line x1="32.31" y1="12.35" x2="72.31" y2="-3.95" stroke="#000" stroke-width="2.287063640410743" opacity="0.11784096649899728" filter="url(#blur1)"/>
<line x1="69.53" y1="74.05" x2="109.53" y2="56.61" stroke="#000" stroke-width="2.389708377451707" opacity="0.08145925933194625" filter="url(#blur1)"/>
<line x1="-16.77" y1="2.14" x2="23.23" y2="-14.51" stroke="#000" stroke-width="2.136930255707355" opacity="0.09040119375205694" filter="url(#blur1)"/>
<line x1="60.26" y1="41.01" x2="100.26" y2="23.4" stroke="#000" stroke-width="1.9722468142301242" opacity="0.06190864633126257" filter="url(#blur1)"/>
<line x1="9.26" y1="10.66" x2="49.26" y2="-6.44" stroke="#000" stroke-width="3.4973671363851038" opacity="0.11395837578766962" filter="url(#blur1)"/>
<line x1="24" y1="4" x2="29" y2="14" stroke="#000" stroke-width="2.2" opacity="0.5" filter="url(#blur1)"/>
<g fill="#151515" opacity="0.7"><circle cx="60.45" cy="35.88" r="0.47"/><circle cx="54.97" cy="26.16" r="0.33"/><circle cx="67.3" cy="30.61" r="0.42"/><circle cx="60.78" cy="37.94" r="0.51"/><circle cx="62.85" cy="25.27" r="0.59"/><circle cx="63.73" cy="35.17" r="0.69"/><circle cx="53.19" cy="29" r="0.6"/><circle cx="66.41" cy="32.73" r="0.57"/><circle cx="59.55" cy="31.34" r="0.69"/><circle cx="53.32" cy="31.16" r="0.7"/><circle cx="58.28" cy="22.52" r="0.48"/><circle cx="61.68" cy="24.94" r="0.72"/><circle cx="61.81" cy="28.28" r="0.36"/><circle cx="61.62" cy="37.69" r="0.5"/><circle cx="56.93" cy="26.86" r="0.53"/><circle cx="56.43" cy="33.11" r="0.56"/><circle cx="53.43" cy="26.16" r="0.61"/><circle cx="66.68" cy="26.8" r="0.75"/><circle cx="58.47" cy="27.16" r="0.69"/><circle cx="67.42" cy="28.32" r="0.56"/><circle cx="59.17" cy="26.42" r="0.67"/><circle cx="56.18" cy="28.1" r="0.33"/><circle cx="64.84" cy="23.68" r="0.34"/><circle cx="61.6" cy="25.13" r="0.37"/><circle cx="58.09" cy="36.75" r="0.69"/></g>
<g fill="#151515" opacity="0.7"><circle cx="14.52" cy="56.29" r="0.32"/><circle cx="9.32" cy="51.62" r="0.7"/><circle cx="14.23" cy="54.48" r="0.75"/><circle cx="9.39" cy="56.55" r="0.57"/><circle cx="12.61" cy="55.52" r="0.48"/><circle cx="8.18" cy="53.48" r="0.32"/><circle cx="12.27" cy="52.52" r="0.73"/><circle cx="12.94" cy="52.77" r="0.51"/><circle cx="5.22" cy="54.39" r="0.57"/><circle cx="5.6" cy="53.28" r="0.72"/><circle cx="6.06" cy="54.83" r="0.62"/><circle cx="10.26" cy="58.28" r="0.74"/><circle cx="5.6" cy="54.41" r="0.31"/><circle cx="6.06" cy="57.32" r="0.31"/><circle cx="6.44" cy="51.83" r="0.33"/></g>
<g fill="#222" opacity="0.7"><circle cx="49.31" cy="36.6" r="0.57"/><circle cx="27.71" cy="55.5" r="0.6"/><circle cx="1.74" cy="4.76" r="0.57"/><circle cx="75.72" cy="19.71" r="0.48"/><circle cx="46.58" cy="25.12" r="0.45"/><circle cx="24.58" cy="28.98" r="0.54"/><circle cx="23.61" cy="29.61" r="0.61"/><circle cx="2.12" cy="44.69" r="0.59"/><circle cx="24.37" cy="17.47" r="0.62"/><circle cx="18.76" cy="14.71" r="0.47"/><circle cx="54.87" cy="7.99" r="0.43"/><circle cx="26.23" cy="65.43" r="0.48"/><circle cx="67.25" cy="13.29" r="0.43"/><circle cx="51.11" cy="69.46" r="0.48"/><circle cx="17.69" cy="9.49" r="0.51"/><circle cx="15" cy="63.33" r="0.64"/><circle cx="14.43" cy="21.87" r="0.62"/><circle cx="50.46" cy="63.29" r="0.44"/><circle cx="10.19" cy="22.92" r="0.62"/><circle cx="21.31" cy="27.19" r="0.47"/><circle cx="32.99" cy="32.15" r="0.67"/><circle cx="12.26" cy="0.37" r="0.68"/><circle cx="69.17" cy="77.47" r="0.47"/><circle cx="74.68" cy="72.8" r="0.39"/><circle cx="58.6" cy="65.68" r="0.57"/><circle cx="40.79" cy="22.69" r="0.44"/><circle cx="17.88" cy="5.34" r="0.54"/><circle cx="22.56" cy="63.6" r="0.32"/><circle cx="71.02" cy="54.46" r="0.67"/><circle cx="70.47" cy="70.62" r="0.53"/><circle cx="1.03" cy="58.51" r="0.37"/><circle cx="23.57" cy="52.04" r="0.51"/><circle cx="32.52" cy="73.71" r="0.54"/><circle cx="26.83" cy="19.82" r="0.64"/><circle cx="37.51" cy="61.41" r="0.44"/><circle cx="15.51" cy="41.97" r="0.63"/><circle cx="13.46" cy="62.15" r="0.67"/><circle cx="63.36" cy="64.64" r="0.3"/><circle cx="49.41" cy="67.71" r="0.32"/><circle cx="21.33" cy="21.08" r="0.51"/></g>
<path d="M19.12,30.37 L20.76,30.2 L21.89,31.13 L23.92,31.57 L26.73,32.06 L27.92,31.1 L30.22,30.61 L32.36,31.22 L34.71,31.52 L36.19,32.23 L37.69,33.27 L39.61,34.07 L40.08,35.08 L41.18,37.13 L42.18,38.76 L42.8,40.62 L43.32,41.38 L44.28,42.48 L44.52,43.69 L43.87,45.42 L42.68,48.5 L41.07,50.52 L40.79,52.57 L40.79,53.33 L39.9,54.99 L37.83,56.12 L35.9,57.91 L34.56,59.09 L32.76,59.53 L30.67,59.76 L28,59.79 L25.8,59.01 L24.46,58.24 L21.89,57.3 L21.12,55.9 L18.93,54.75 L17.82,53.04 L17.26,51.64 L16.54,50.09 L15.5,48.14 L14.69,46.94 L13.97,44.76 L13.45,43.93 L12.17,41.87 L12.19,41.05 L11.94,39.18 L12.95,38.55 L15.01,37.36 L16.07,36.4 L17.24,35.39 L18.04,34.43 L19.67,33.31 L19.48,31.88 L19.12,31.31Z" fill="#050505"/>
<g fill="#22f022"><circle cx="33.9" cy="45.5" r="0.89"/><circle cx="32.89" cy="56.75" r="0.62"/><circle cx="41.8" cy="45.5" r="0.85"/><circle cx="35.36" cy="35.71" r="0.71"/><circle cx="18.43" cy="47.53" r="0.75"/><circle cx="19.51" cy="50.65" r="1.26"/><circle cx="21.58" cy="51.07" r="0.83"/><circle cx="39.75" cy="47.5" r="0.71"/><circle cx="27.56" cy="41.52" r="0.64"/><circle cx="23.69" cy="39.73" r="1.12"/><circle cx="27.57" cy="47.92" r="0.87"/><circle cx="39.13" cy="54.51" r="0.95"/><circle cx="27.62" cy="51.52" r="1.19"/><circle cx="24.98" cy="51.9" r="1.27"/><circle cx="27.17" cy="36.99" r="0.69"/><circle cx="35.32" cy="50.18" r="1.27"/><circle cx="39.76" cy="37.36" r="0.65"/><circle cx="20.37" cy="35.74" r="1.06"/><circle cx="22.15" cy="42.72" r="1.08"/><circle cx="39.11" cy="38.83" r="0.79"/><circle cx="30.85" cy="50.19" r="0.51"/><circle cx="22.85" cy="43.11" r="0.89"/><circle cx="18.79" cy="47.51" r="1.26"/><circle cx="24.68" cy="46.31" r="0.6"/><circle cx="20.89" cy="49.89" r="0.59"/><circle cx="24.13" cy="53.05" r="1.11"/><circle cx="21.57" cy="50.2" r="1.02"/><circle cx="38.2" cy="38.06" r="1.1"/><circle cx="29.41" cy="33.55" r="0.9"/><circle cx="23.41" cy="51.45" r="1.04"/><circle cx="30.39" cy="35.58" r="1.02"/><circle cx="32.5" cy="35.5" r="1.21"/><circle cx="33.29" cy="33.84" r="1.25"/><circle cx="16.55" cy="40.01" r="1.08"/><circle cx="31.41" cy="46.62" r="1.02"/><circle cx="26.85" cy="39.44" r="0.64"/><circle cx="36.52" cy="46.27" r="1.09"/><circle cx="23.65" cy="38.06" r="0.81"/><circle cx="28.38" cy="37.51" r="1.12"/><circle cx="23.48" cy="40.05" r="0.82"/><circle cx="29.58" cy="53.03" r="0.78"/><circle cx="20.75" cy="33.15" r="0.59"/><circle cx="37.32" cy="51.72" r="0.65"/><circle cx="18.1" cy="42.53" r="1.09"/><circle cx="38.52" cy="52.35" r="0.97"/></g>
<path d="M19.12,30.37 L20.76,30.2 L21.89,31.13 L23.92,31.57 L26.73,32.06 L27.92,31.1 L30.22,30.61 L32.36,31.22 L34.71,31.52 L36.19,32.23 L37.69,33.27 L39.61,34.07 L40.08,35.08 L41.18,37.13 L42.18,38.76 L42.8,40.62 L43.32,41.38 L44.28,42.48 L44.52,43.69 L43.87,45.42 L42.68,48.5 L41.07,50.52 L40.79,52.57 L40.79,53.33 L39.9,54.99 L37.83,56.12 L35.9,57.91 L34.56,59.09 L32.76,59.53 L30.67,59.76 L28,59.79 L25.8,59.01 L24.46,58.24 L21.89,57.3 L21.12,55.9 L18.93,54.75 L17.82,53.04 L17.26,51.64 L16.54,50.09 L15.5,48.14 L14.69,46.94 L13.97,44.76 L13.45,43.93 L12.17,41.87 L12.19,41.05 L11.94,39.18 L12.95,38.55 L15.01,37.36 L16.07,36.4 L17.24,35.39 L18.04,34.43 L19.67,33.31 L19.48,31.88 L19.12,31.31Z" fill="none" stroke="#d81c1c" stroke-width="0.72" stroke-linejoin="round"/>
<circle cx="52.2" cy="28.4" r="0.9" fill="#2af02a"/>
<circle cx="60.8" cy="34.8" r="1" fill="#2af02a"/>
<circle cx="59.7" cy="42.5" r="0.8" fill="#2af02a"/>
<g stroke="#c8c070" stroke-width="0.5" opacity="0.8"><line x1="3" y1="71" x2="33" y2="71"/><line x1="3" y1="73.5" x2="24" y2="73.5" stroke-dasharray="1 1"/></g>
</g>
<g transform="translate(270.6,41.2)" clip-path="url(#c4)">
<rect x="0" y="0" width="78.6" height="78.5" fill="#7c7c7c" filter="url(#mtex)"/>
<ellipse cx="27.7" cy="23.3" rx="14.4" ry="10.35" fill="#000" opacity="0.4" filter="url(#blur2)" transform="rotate(0 27.7 23.3)"/>
<line x1="1.42" y1="42.45" x2="41.42" y2="26.75" stroke="#000" stroke-width="2.707840077192389" opacity="0.11005762432864433" filter="url(#blur1)"/>
<line x1="-14.1" y1="1.03" x2="25.9" y2="-19.35" stroke="#000" stroke-width="2.0187080286560155" opacity="0.0787464768837357" filter="url(#blur1)"/>
<line x1="69.61" y1="36.68" x2="109.61" y2="16.32" stroke="#000" stroke-width="2.45270641739867" opacity="0.11112545124353296" filter="url(#blur1)"/>
<line x1="-6.44" y1="49.52" x2="33.56" y2="28.84" stroke="#000" stroke-width="2.5463624207666027" opacity="0.11930014849611922" filter="url(#blur1)"/>
<line x1="40.43" y1="4.99" x2="80.43" y2="-14.59" stroke="#000" stroke-width="2.6821991658626354" opacity="0.08410141276125699" filter="url(#blur1)"/>
<line x1="-17.21" y1="67.51" x2="22.79" y2="50.78" stroke="#000" stroke-width="2.937647848131606" opacity="0.13030502402043853" filter="url(#blur1)"/>
<line x1="44.27" y1="71.85" x2="84.27" y2="55.9" stroke="#000" stroke-width="3.1018175419704566" opacity="0.09556968448406086" filter="url(#blur1)"/>
<line x1="25.7" y1="6" x2="28.8" y2="16" stroke="#000" stroke-width="2.2" opacity="0.5" filter="url(#blur1)"/>
<g fill="#151515" opacity="0.7"><circle cx="60.17" cy="51.92" r="0.48"/><circle cx="60.87" cy="51.28" r="0.48"/><circle cx="64.67" cy="47.35" r="0.64"/><circle cx="60.77" cy="54.33" r="0.42"/><circle cx="60.91" cy="51.73" r="0.4"/><circle cx="64.9" cy="47.6" r="0.66"/><circle cx="60.82" cy="47.49" r="0.44"/><circle cx="56.42" cy="46.33" r="0.68"/><circle cx="61.29" cy="48.79" r="0.57"/><circle cx="57.98" cy="46.24" r="0.38"/><circle cx="58.23" cy="50.3" r="0.72"/><circle cx="62.95" cy="46.68" r="0.44"/><circle cx="63.81" cy="47.54" r="0.7"/><circle cx="62.47" cy="46.51" r="0.49"/><circle cx="56.8" cy="47.71" r="0.37"/></g>
<g fill="#151515" opacity="0.7"><circle cx="8.16" cy="25.09" r="0.32"/><circle cx="14.55" cy="21.36" r="0.43"/><circle cx="5.98" cy="19.11" r="0.45"/><circle cx="12.65" cy="19.95" r="0.49"/><circle cx="11.4" cy="24.56" r="0.42"/><circle cx="6.8" cy="24.08" r="0.44"/><circle cx="4.68" cy="17.95" r="0.35"/><circle cx="12.66" cy="21.08" r="0.64"/><circle cx="7.81" cy="18.06" r="0.45"/><circle cx="11.79" cy="23.65" r="0.32"/></g>
<g fill="#222" opacity="0.7"><circle cx="54.81" cy="70.33" r="0.68"/><circle cx="57.76" cy="75.35" r="0.31"/><circle cx="22.72" cy="75.83" r="0.61"/><circle cx="32.26" cy="74.05" r="0.55"/><circle cx="64.29" cy="23.03" r="0.38"/><circle cx="34.91" cy="10.71" r="0.45"/><circle cx="75.6" cy="26.01" r="0.3"/><circle cx="3.52" cy="13.31" r="0.61"/><circle cx="28.51" cy="22.79" r="0.34"/><circle cx="77.17" cy="33.28" r="0.38"/><circle cx="4.66" cy="4.34" r="0.37"/><circle cx="53.2" cy="11.75" r="0.32"/><circle cx="38.57" cy="19.55" r="0.7"/><circle cx="9.61" cy="41.55" r="0.61"/><circle cx="32.17" cy="77.53" r="0.49"/><circle cx="19.01" cy="32.23" r="0.31"/><circle cx="33.11" cy="19.51" r="0.66"/><circle cx="65.32" cy="39.14" r="0.31"/><circle cx="20" cy="19.03" r="0.38"/><circle cx="18.19" cy="68.27" r="0.36"/><circle cx="4.03" cy="72.85" r="0.53"/><circle cx="77.86" cy="31.63" r="0.66"/><circle cx="51.4" cy="62.08" r="0.6"/><circle cx="38.85" cy="7.29" r="0.38"/><circle cx="68.68" cy="70.63" r="0.67"/><circle cx="26.46" cy="51.57" r="0.62"/><circle cx="50.5" cy="63.96" r="0.51"/><circle cx="51.46" cy="53.85" r="0.41"/><circle cx="72.53" cy="75.07" r="0.33"/><circle cx="76.33" cy="75.5" r="0.57"/><circle cx="3.5" cy="70.57" r="0.35"/><circle cx="76.13" cy="52.37" r="0.32"/><circle cx="13.15" cy="49.86" r="0.53"/><circle cx="58.67" cy="72.81" r="0.39"/><circle cx="0.26" cy="72.41" r="0.31"/><circle cx="68.89" cy="9.1" r="0.62"/><circle cx="61.54" cy="68.91" r="0.52"/><circle cx="69.07" cy="15.83" r="0.57"/><circle cx="25.99" cy="70" r="0.61"/><circle cx="37.06" cy="41.32" r="0.31"/></g>
<path d="M19.13,24.39 L19.95,26.2 L20.22,29.26 L20.56,32.67 L21.99,32.18 L24,32.25 L25.29,31.44 L28.13,31.76 L30.94,31.5 L33.79,32.87 L35.62,33.19 L38.14,35.49 L39.91,36.43 L42.11,37.78 L43.06,38.77 L44.6,39.3 L46.31,40.93 L47.02,42.42 L47.37,44.28 L46.29,46.52 L45.66,48.6 L45.3,50.81 L43.59,52.55 L43.21,54.88 L42.12,56.68 L39.71,57.75 L38.36,58.81 L36.07,60.19 L33.52,60.31 L30.99,60.18 L29.21,60.77 L27.92,61.61 L27.02,63.31 L25.81,63.74 L23.93,64.15 L22.63,63.67 L21.33,62.38 L21.2,61.97 L21.53,60.58 L21.57,58.78 L20.45,57.56 L18.63,56.09 L18.04,54.38 L16.6,52.65 L15.21,50.23 L14.12,49.05 L14.3,46.86 L13.87,44.98 L13.26,42.58 L14.3,40.8 L15.89,39.22 L17.07,36.12 L17.82,32.32 L18.99,27.21Z" fill="#050505"/>
<g fill="#22f022"><circle cx="44.91" cy="40.54" r="0.98"/><circle cx="23.82" cy="33.55" r="0.76"/><circle cx="43.93" cy="40.3" r="0.82"/><circle cx="19.53" cy="45.87" r="1.05"/><circle cx="34.23" cy="38.88" r="1.26"/><circle cx="33.86" cy="36.81" r="0.57"/><circle cx="22.06" cy="33.23" r="1.24"/><circle cx="18.33" cy="33.87" r="0.74"/><circle cx="40.23" cy="51.46" r="0.94"/><circle cx="23.12" cy="59.79" r="1.06"/><circle cx="38.21" cy="50.44" r="1.26"/><circle cx="43.23" cy="53" r="0.95"/><circle cx="36.93" cy="53.16" r="0.94"/><circle cx="42.06" cy="43.64" r="0.55"/><circle cx="21.99" cy="39.95" r="1.05"/><circle cx="26.45" cy="41.21" r="0.52"/><circle cx="32.14" cy="43.35" r="1.07"/><circle cx="26.2" cy="58.09" r="1.17"/><circle cx="23.67" cy="50.11" r="1.22"/><circle cx="34.82" cy="34.56" r="1.19"/><circle cx="35.84" cy="36.61" r="1.22"/><circle cx="34.58" cy="37.88" r="1.17"/><circle cx="43.39" cy="50.57" r="1.06"/><circle cx="33.89" cy="45.35" r="1.29"/><circle cx="37.6" cy="44.2" r="0.94"/><circle cx="33.66" cy="34.33" r="0.66"/><circle cx="41.46" cy="44.64" r="0.5"/><circle cx="42.05" cy="49.18" r="1"/><circle cx="14.43" cy="43.4" r="0.62"/><circle cx="25.53" cy="59.78" r="1.1"/><circle cx="26.51" cy="48.44" r="0.53"/><circle cx="23.45" cy="51.85" r="1.13"/><circle cx="37.3" cy="41.78" r="0.64"/><circle cx="39.04" cy="40.58" r="1"/><circle cx="34.41" cy="34.57" r="0.91"/><circle cx="23.05" cy="60.75" r="0.61"/><circle cx="45.09" cy="50.98" r="1.21"/><circle cx="24.87" cy="42.51" r="1.29"/><circle cx="18.94" cy="34.1" r="1.17"/><circle cx="23.38" cy="46.95" r="1.03"/><circle cx="24.33" cy="37.44" r="1.29"/><circle cx="33.96" cy="38.88" r="1.29"/><circle cx="19.12" cy="32.94" r="1.26"/><circle cx="36.05" cy="57.91" r="0.58"/><circle cx="20.07" cy="29.87" r="0.88"/><circle cx="31.89" cy="45.89" r="0.79"/><circle cx="38.63" cy="57.73" r="1.11"/><circle cx="20.74" cy="33.87" r="0.96"/><circle cx="19.9" cy="49.23" r="0.78"/><circle cx="25.67" cy="52.54" r="1.26"/></g>
<path d="M19.13,24.39 L19.95,26.2 L20.22,29.26 L20.56,32.67 L21.99,32.18 L24,32.25 L25.29,31.44 L28.13,31.76 L30.94,31.5 L33.79,32.87 L35.62,33.19 L38.14,35.49 L39.91,36.43 L42.11,37.78 L43.06,38.77 L44.6,39.3 L46.31,40.93 L47.02,42.42 L47.37,44.28 L46.29,46.52 L45.66,48.6 L45.3,50.81 L43.59,52.55 L43.21,54.88 L42.12,56.68 L39.71,57.75 L38.36,58.81 L36.07,60.19 L33.52,60.31 L30.99,60.18 L29.21,60.77 L27.92,61.61 L27.02,63.31 L25.81,63.74 L23.93,64.15 L22.63,63.67 L21.33,62.38 L21.2,61.97 L21.53,60.58 L21.57,58.78 L20.45,57.56 L18.63,56.09 L18.04,54.38 L16.6,52.65 L15.21,50.23 L14.12,49.05 L14.3,46.86 L13.87,44.98 L13.26,42.58 L14.3,40.8 L15.89,39.22 L17.07,36.12 L17.82,32.32 L18.99,27.21Z" fill="none" stroke="#d81c1c" stroke-width="0.72" stroke-linejoin="round"/>
<circle cx="53.9" cy="49.2" r="0.9" fill="#2af02a"/>
<g stroke="#c8c070" stroke-width="0.5" opacity="0.8"><line x1="3" y1="71" x2="33" y2="71"/><line x1="3" y1="73.5" x2="24" y2="73.5" stroke-dasharray="1 1"/></g>
</g>
<g transform="translate(24,124)" clip-path="url(#c5)">
<rect x="0" y="0" width="78.6" height="78.5" fill="#7c7c7c" filter="url(#mtex)"/>
<ellipse cx="39.5" cy="21" rx="10.8" ry="10.35" fill="#000" opacity="0.4" filter="url(#blur2)" transform="rotate(0 39.5 21)"/>
<line x1="9.14" y1="11.77" x2="49.14" y2="-6.74" stroke="#000" stroke-width="1.6448725733350855" opacity="0.10287056034453515" filter="url(#blur1)"/>
<line x1="12.91" y1="4.52" x2="52.91" y2="-12.55" stroke="#000" stroke-width="1.5749913168839698" opacity="0.09469165469299087" filter="url(#blur1)"/>
<line x1="-13.71" y1="7.08" x2="26.29" y2="-9.17" stroke="#000" stroke-width="3.1537042493440763" opacity="0.06990415689197164" filter="url(#blur1)"/>
<line x1="0.09" y1="48.94" x2="40.09" y2="27.46" stroke="#000" stroke-width="2.6542058972349976" opacity="0.09173443797206242" filter="url(#blur1)"/>
<line x1="67.86" y1="3.63" x2="107.86" y2="-16.95" stroke="#000" stroke-width="2.0792185726633523" opacity="0.071540406668595" filter="url(#blur1)"/>
<line x1="-9.4" y1="24.06" x2="30.6" y2="3.9" stroke="#000" stroke-width="1.861452759847875" opacity="0.10652801309299731" filter="url(#blur1)"/>
<line x1="37.5" y1="29.05" x2="77.5" y2="11.57" stroke="#000" stroke-width="1.6255779499466463" opacity="0.06476809359729861" filter="url(#blur1)"/>
<line x1="36.5" y1="8" x2="38.5" y2="20" stroke="#000" stroke-width="2.2" opacity="0.5" filter="url(#blur1)"/>
<g fill="#151515" opacity="0.7"><circle cx="15.71" cy="16.32" r="0.72"/><circle cx="15.82" cy="15.92" r="0.56"/><circle cx="21.71" cy="18.94" r="0.58"/><circle cx="20.49" cy="13.23" r="0.44"/><circle cx="24.55" cy="17.91" r="0.61"/><circle cx="25.74" cy="16.55" r="0.73"/><circle cx="17.33" cy="11.12" r="0.37"/><circle cx="24.34" cy="15.41" r="0.33"/><circle cx="21.08" cy="17.75" r="0.31"/><circle cx="16.12" cy="15.9" r="0.68"/><circle cx="15.23" cy="14.42" r="0.52"/><circle cx="17.88" cy="11.54" r="0.43"/><circle cx="25.99" cy="14.91" r="0.68"/><circle cx="19.12" cy="11.75" r="0.4"/><circle cx="19.61" cy="16.54" r="0.64"/><circle cx="15.53" cy="18.23" r="0.47"/><circle cx="25.33" cy="13.56" r="0.3"/><circle cx="21.43" cy="20.54" r="0.51"/><circle cx="23.75" cy="14.53" r="0.33"/><circle cx="16.36" cy="11.15" r="0.42"/><circle cx="22.95" cy="16.8" r="0.73"/><circle cx="20.1" cy="12.94" r="0.41"/><circle cx="21.18" cy="15.87" r="0.66"/><circle cx="21.97" cy="19.03" r="0.5"/><circle cx="21.87" cy="19.78" r="0.36"/><circle cx="18.73" cy="13.39" r="0.49"/><circle cx="20.72" cy="18.03" r="0.74"/><circle cx="21.09" cy="11.88" r="0.7"/><circle cx="20.92" cy="18.65" r="0.68"/><circle cx="18.81" cy="13.52" r="0.75"/></g>
<g fill="#151515" opacity="0.7"><circle cx="10.7" cy="62.97" r="0.65"/><circle cx="8.45" cy="62.87" r="0.33"/><circle cx="13.87" cy="62.46" r="0.41"/><circle cx="7.06" cy="57.83" r="0.5"/><circle cx="14.04" cy="58.94" r="0.56"/><circle cx="11.71" cy="58.09" r="0.37"/><circle cx="14.55" cy="57.05" r="0.41"/><circle cx="11.91" cy="64.79" r="0.72"/><circle cx="11.93" cy="65.52" r="0.7"/><circle cx="6.9" cy="57.64" r="0.35"/><circle cx="15.71" cy="61.42" r="0.41"/><circle cx="9.14" cy="57.08" r="0.67"/></g>
<g fill="#151515" opacity="0.7"><circle cx="62.33" cy="53.15" r="0.38"/><circle cx="64.71" cy="53.45" r="0.4"/><circle cx="59.84" cy="52.98" r="0.58"/><circle cx="63.92" cy="60.64" r="0.39"/><circle cx="68.1" cy="55.32" r="0.5"/><circle cx="67.34" cy="55.93" r="0.47"/><circle cx="63.04" cy="54.05" r="0.46"/><circle cx="69.6" cy="51.24" r="0.6"/><circle cx="63.34" cy="50.72" r="0.36"/><circle cx="65.78" cy="55.18" r="0.71"/></g>
<g fill="#222" opacity="0.7"><circle cx="55.1" cy="75.58" r="0.31"/><circle cx="50" cy="37.86" r="0.59"/><circle cx="25.07" cy="78.45" r="0.33"/><circle cx="42.92" cy="57.85" r="0.66"/><circle cx="57.94" cy="55.24" r="0.62"/><circle cx="71.92" cy="27.62" r="0.57"/><circle cx="70.81" cy="68.38" r="0.47"/><circle cx="62.14" cy="67.78" r="0.53"/><circle cx="49.12" cy="30.01" r="0.53"/><circle cx="47.86" cy="6.3" r="0.56"/><circle cx="78.08" cy="69.06" r="0.59"/><circle cx="30.53" cy="57.7" r="0.53"/><circle cx="34.63" cy="65.81" r="0.33"/><circle cx="58.97" cy="2.34" r="0.54"/><circle cx="37.8" cy="18.07" r="0.58"/><circle cx="39.08" cy="48.24" r="0.67"/><circle cx="20.11" cy="0.89" r="0.42"/><circle cx="53.3" cy="15.9" r="0.37"/><circle cx="71.19" cy="51.81" r="0.48"/><circle cx="70.09" cy="25.67" r="0.57"/><circle cx="15.6" cy="33.83" r="0.62"/><circle cx="71.86" cy="69.1" r="0.45"/><circle cx="45.83" cy="24.84" r="0.35"/><circle cx="39.02" cy="65.71" r="0.64"/><circle cx="55.9" cy="74.58" r="0.41"/><circle cx="13.29" cy="35.38" r="0.41"/><circle cx="16.83" cy="32.5" r="0.55"/><circle cx="38.82" cy="24.76" r="0.64"/><circle cx="77.19" cy="35.52" r="0.33"/><circle cx="2.47" cy="68.52" r="0.32"/><circle cx="55.7" cy="44.79" r="0.42"/><circle cx="62.21" cy="1.5" r="0.35"/><circle cx="35.75" cy="1.94" r="0.63"/><circle cx="18.66" cy="11.06" r="0.32"/><circle cx="49.45" cy="35.05" r="0.55"/><circle cx="51.49" cy="63.38" r="0.68"/><circle cx="53.8" cy="15.65" r="0.49"/><circle cx="14.04" cy="0.85" r="0.49"/><circle cx="56.13" cy="14.06" r="0.41"/><circle cx="27.18" cy="54.74" r="0.51"/></g>
<path d="M33.51,30.66 L35.03,30.18 L37.84,29.29 L39.93,29.62 L40.62,28.54 L42.36,28.07 L43.38,27.37 L45.22,28.25 L46.63,29.15 L47.75,30.1 L49.39,31.57 L50.95,32.32 L52.01,33.8 L54.17,35.9 L54.98,38.2 L55.52,40.91 L56.16,43.11 L55.01,46.07 L54.75,48.87 L53.62,50.02 L52.53,51.54 L50.9,52.77 L48.58,54.1 L46.32,53.8 L44.62,54.52 L42.91,54.48 L40.98,54.07 L38.95,53.29 L36.05,53.25 L33.95,52.8 L32.54,51.62 L31.57,50.29 L30.27,48.41 L30.35,47 L29.57,44.67 L30.51,41.82 L30.47,39.2 L31.02,37.61 L31.85,35.47 L32.87,34.42 L32.52,33.18 L32.79,31.46Z" fill="#050505"/>
<g fill="#22f022"><circle cx="43.9" cy="38.6" r="1.17"/><circle cx="42.16" cy="30.82" r="0.8"/><circle cx="51.26" cy="51.82" r="0.83"/><circle cx="38.01" cy="32.57" r="0.93"/><circle cx="34.74" cy="33.54" r="0.98"/><circle cx="38.14" cy="37.02" r="0.93"/><circle cx="32.36" cy="47.22" r="0.59"/><circle cx="43.15" cy="34.17" r="0.64"/><circle cx="43.68" cy="39.23" r="0.76"/><circle cx="40.57" cy="41.74" r="0.61"/><circle cx="35.01" cy="44.51" r="0.95"/><circle cx="43.66" cy="50.48" r="0.93"/><circle cx="49.27" cy="49.38" r="1.13"/><circle cx="37.97" cy="35.92" r="1.15"/></g>
<path d="M33.51,30.66 L35.03,30.18 L37.84,29.29 L39.93,29.62 L40.62,28.54 L42.36,28.07 L43.38,27.37 L45.22,28.25 L46.63,29.15 L47.75,30.1 L49.39,31.57 L50.95,32.32 L52.01,33.8 L54.17,35.9 L54.98,38.2 L55.52,40.91 L56.16,43.11 L55.01,46.07 L54.75,48.87 L53.62,50.02 L52.53,51.54 L50.9,52.77 L48.58,54.1 L46.32,53.8 L44.62,54.52 L42.91,54.48 L40.98,54.07 L38.95,53.29 L36.05,53.25 L33.95,52.8 L32.54,51.62 L31.57,50.29 L30.27,48.41 L30.35,47 L29.57,44.67 L30.51,41.82 L30.47,39.2 L31.02,37.61 L31.85,35.47 L32.87,34.42 L32.52,33.18 L32.79,31.46Z" fill="none" stroke="#d81c1c" stroke-width="0.72" stroke-linejoin="round"/>
<g stroke="#c8c070" stroke-width="0.5" opacity="0.8"><line x1="3" y1="71" x2="33" y2="71"/><line x1="3" y1="73.5" x2="24" y2="73.5" stroke-dasharray="1 1"/></g>
</g>
<g transform="translate(106.2,124)" clip-path="url(#c6)">
<rect x="0" y="0" width="78.6" height="78.5" fill="#7c7c7c" filter="url(#mtex)"/>
<ellipse cx="36" cy="26" rx="13.2" ry="11.5" fill="#000" opacity="0.4" filter="url(#blur2)" transform="rotate(0 36 26)"/>
<line x1="0.4" y1="75.06" x2="40.4" y2="61.8" stroke="#000" stroke-width="2.909633845743216" opacity="0.06681482144406022" filter="url(#blur1)"/>
<line x1="2.27" y1="77.93" x2="42.27" y2="63.84" stroke="#000" stroke-width="2.783736870144214" opacity="0.09673070102179174" filter="url(#blur1)"/>
<line x1="20.78" y1="38.61" x2="60.78" y2="24.69" stroke="#000" stroke-width="3.1610425472659434" opacity="0.06716524987524716" filter="url(#blur1)"/>
<line x1="1.08" y1="1.56" x2="41.08" y2="-13.11" stroke="#000" stroke-width="2.3153277259219145" opacity="0.13216514403293028" filter="url(#blur1)"/>
<line x1="14.12" y1="8.87" x2="54.12" y2="-5.71" stroke="#000" stroke-width="3.483204794142136" opacity="0.06504709445617748" filter="url(#blur1)"/>
<line x1="35.82" y1="29.42" x2="75.82" y2="10.81" stroke="#000" stroke-width="2.1768771742942805" opacity="0.11530404572847779" filter="url(#blur1)"/>
<line x1="24.78" y1="50.68" x2="64.78" y2="29.66" stroke="#000" stroke-width="2.6630730898438797" opacity="0.0713710383216837" filter="url(#blur1)"/>
<line x1="33.2" y1="12" x2="35.2" y2="24" stroke="#000" stroke-width="2.2" opacity="0.5" filter="url(#blur1)"/>
<g fill="#151515" opacity="0.7"><circle cx="13.2" cy="15.77" r="0.6"/><circle cx="18.39" cy="15.49" r="0.47"/><circle cx="17.19" cy="20.34" r="0.61"/><circle cx="14.4" cy="12.33" r="0.6"/><circle cx="20.43" cy="18.15" r="0.37"/><circle cx="19.21" cy="14.19" r="0.67"/><circle cx="22.44" cy="17.25" r="0.45"/><circle cx="13.45" cy="18.11" r="0.31"/><circle cx="23.33" cy="17.14" r="0.53"/><circle cx="23.01" cy="18.22" r="0.73"/><circle cx="20.97" cy="17.54" r="0.36"/><circle cx="16.19" cy="19.37" r="0.37"/><circle cx="17.55" cy="13.72" r="0.38"/><circle cx="19.52" cy="11.52" r="0.49"/><circle cx="14.59" cy="12.65" r="0.47"/><circle cx="23.02" cy="15.97" r="0.74"/><circle cx="22.83" cy="14.27" r="0.46"/><circle cx="14.75" cy="18.78" r="0.6"/><circle cx="20.2" cy="16.91" r="0.46"/><circle cx="12.61" cy="14.62" r="0.53"/><circle cx="23.36" cy="15.96" r="0.49"/><circle cx="15.19" cy="14.66" r="0.49"/><circle cx="13.98" cy="18.41" r="0.35"/><circle cx="15.59" cy="14.22" r="0.61"/><circle cx="21.07" cy="15.72" r="0.45"/><circle cx="17.11" cy="13.96" r="0.51"/><circle cx="18.82" cy="18.08" r="0.51"/><circle cx="22.02" cy="13.93" r="0.73"/><circle cx="20.86" cy="20.01" r="0.46"/><circle cx="19.93" cy="19.82" r="0.71"/></g>
<g fill="#151515" opacity="0.7"><circle cx="15.1" cy="45.13" r="0.65"/><circle cx="10.39" cy="47.47" r="0.3"/><circle cx="16.57" cy="46.17" r="0.74"/><circle cx="16.26" cy="44.96" r="0.31"/><circle cx="9.66" cy="49.78" r="0.67"/><circle cx="10.16" cy="42.79" r="0.54"/><circle cx="7.3" cy="45.67" r="0.42"/><circle cx="17.36" cy="43.13" r="0.37"/><circle cx="10.56" cy="50.42" r="0.43"/><circle cx="16.04" cy="43.51" r="0.61"/><circle cx="11.22" cy="42.34" r="0.43"/><circle cx="11.85" cy="49.96" r="0.61"/><circle cx="15.82" cy="49.16" r="0.49"/><circle cx="12.22" cy="48.95" r="0.74"/><circle cx="7.59" cy="43.26" r="0.71"/></g>
<g fill="#151515" opacity="0.7"><circle cx="66.78" cy="63.35" r="0.49"/><circle cx="53.55" cy="61" r="0.66"/><circle cx="55.87" cy="62.72" r="0.47"/><circle cx="59.47" cy="59.02" r="0.31"/><circle cx="58.11" cy="57.63" r="0.66"/><circle cx="66.1" cy="60.41" r="0.54"/><circle cx="61.2" cy="60.22" r="0.34"/><circle cx="57.3" cy="68.56" r="0.72"/><circle cx="57.8" cy="59.54" r="0.58"/><circle cx="64.14" cy="69.13" r="0.62"/><circle cx="56.88" cy="67.45" r="0.48"/><circle cx="57.05" cy="70.93" r="0.36"/><circle cx="63.77" cy="67.41" r="0.61"/><circle cx="60.39" cy="58.52" r="0.72"/><circle cx="59.08" cy="66.03" r="0.52"/><circle cx="56.82" cy="66.17" r="0.6"/><circle cx="57.88" cy="68.28" r="0.45"/><circle cx="60.66" cy="64.76" r="0.46"/><circle cx="59.33" cy="68.53" r="0.49"/><circle cx="61.42" cy="72.54" r="0.53"/><circle cx="58.97" cy="61.95" r="0.51"/><circle cx="54.24" cy="60.44" r="0.41"/><circle cx="52.84" cy="66.86" r="0.67"/><circle cx="60.83" cy="70.81" r="0.64"/><circle cx="54.81" cy="69.01" r="0.6"/></g>
<g fill="#151515" opacity="0.7"><circle cx="66.4" cy="19.23" r="0.61"/><circle cx="58.98" cy="24.15" r="0.45"/><circle cx="58.4" cy="20" r="0.44"/><circle cx="63.87" cy="22.15" r="0.54"/><circle cx="61.99" cy="21.29" r="0.66"/><circle cx="60.71" cy="25.66" r="0.57"/><circle cx="57.7" cy="23.6" r="0.7"/><circle cx="61.08" cy="21.92" r="0.59"/><circle cx="64.57" cy="16.09" r="0.65"/><circle cx="57.98" cy="22.47" r="0.42"/><circle cx="58.92" cy="22.04" r="0.47"/><circle cx="57.65" cy="23.18" r="0.38"/></g>
<g fill="#222" opacity="0.7"><circle cx="16.12" cy="19.99" r="0.69"/><circle cx="41.09" cy="4.15" r="0.63"/><circle cx="68.66" cy="64.46" r="0.44"/><circle cx="57.74" cy="23.98" r="0.35"/><circle cx="68.01" cy="65.39" r="0.38"/><circle cx="69.15" cy="1.93" r="0.42"/><circle cx="1.02" cy="13.43" r="0.37"/><circle cx="56.26" cy="23.28" r="0.38"/><circle cx="14.47" cy="24.49" r="0.64"/><circle cx="47.7" cy="8.03" r="0.57"/><circle cx="42.15" cy="35.2" r="0.51"/><circle cx="51.21" cy="62.86" r="0.5"/><circle cx="49.95" cy="36.68" r="0.55"/><circle cx="30.53" cy="32.57" r="0.51"/><circle cx="56.2" cy="21.86" r="0.67"/><circle cx="38.64" cy="67.16" r="0.58"/><circle cx="75.17" cy="53.57" r="0.47"/><circle cx="31.9" cy="47.7" r="0.6"/><circle cx="65.95" cy="10.15" r="0.32"/><circle cx="8.5" cy="6.61" r="0.32"/><circle cx="0.66" cy="19.59" r="0.35"/><circle cx="53.86" cy="48.34" r="0.69"/><circle cx="75.5" cy="58.62" r="0.68"/><circle cx="2.21" cy="17.89" r="0.67"/><circle cx="37.37" cy="16.22" r="0.6"/><circle cx="33.29" cy="42.63" r="0.43"/><circle cx="19" cy="6.84" r="0.54"/><circle cx="74.89" cy="77.46" r="0.61"/><circle cx="73.37" cy="28.43" r="0.42"/><circle cx="72.59" cy="47.11" r="0.57"/><circle cx="0.99" cy="17.94" r="0.49"/><circle cx="57.46" cy="64.83" r="0.6"/><circle cx="26.7" cy="29.96" r="0.64"/><circle cx="77.78" cy="38.07" r="0.38"/><circle cx="49.08" cy="42.07" r="0.44"/><circle cx="18.12" cy="30.25" r="0.54"/><circle cx="9.97" cy="42.46" r="0.68"/><circle cx="58.55" cy="19.79" r="0.47"/><circle cx="8.04" cy="57.86" r="0.55"/><circle cx="13.58" cy="43.02" r="0.54"/></g>
<path d="M31.68,38.38 L33.09,37.19 L35.93,36.1 L37.7,35.36 L39.74,34.64 L42.26,34.09 L44.67,33.85 L47.17,33.59 L48.26,33.94 L49.7,34.42 L50.83,35.58 L51.41,37.86 L51.65,40.81 L53.47,42.71 L53.83,44.5 L54.68,46.94 L54.71,48.41 L54.75,50.96 L53.99,52.68 L53.22,54.14 L51.71,55.33 L49.77,56.56 L48.75,58.54 L47.02,59.91 L46.03,60.8 L44.08,60.71 L42.03,59.55 L39.51,58.22 L37.99,58.21 L35.4,57.5 L34,55.35 L32.16,53.52 L30.05,50.8 L29.11,48.15 L28.54,46.03 L29.13,44 L29.42,42.83 L30.03,40.97 L30.74,40.12Z" fill="#050505"/>
<g fill="#22f022"><circle cx="32.37" cy="39.79" r="1.19"/><circle cx="42.39" cy="43.58" r="0.65"/><circle cx="52.41" cy="54.41" r="0.94"/><circle cx="49.28" cy="40.68" r="0.93"/><circle cx="44.72" cy="38.63" r="1.17"/><circle cx="50.54" cy="51.11" r="0.85"/><circle cx="29.1" cy="47.03" r="0.79"/><circle cx="39.02" cy="35.7" r="1.24"/><circle cx="42.22" cy="48.87" r="1.17"/><circle cx="52.03" cy="48.55" r="0.94"/><circle cx="50.74" cy="43.72" r="1.22"/><circle cx="42.37" cy="50.52" r="1.29"/><circle cx="34.3" cy="44.67" r="1.14"/><circle cx="48.11" cy="47.85" r="1.12"/><circle cx="46.29" cy="57.24" r="1.02"/><circle cx="38.06" cy="41.39" r="0.57"/><circle cx="44.34" cy="37.24" r="1.27"/><circle cx="42.5" cy="38.4" r="1.16"/><circle cx="34.39" cy="44.54" r="1.03"/><circle cx="35.94" cy="49.08" r="1.06"/><circle cx="48.24" cy="56.01" r="1.1"/><circle cx="36.02" cy="54.15" r="0.85"/><circle cx="44.85" cy="43.33" r="0.58"/><circle cx="41.38" cy="44.88" r="0.76"/><circle cx="43.38" cy="48.25" r="0.92"/><circle cx="36.37" cy="57.32" r="0.75"/><circle cx="45.87" cy="52.81" r="0.66"/><circle cx="39.83" cy="55.88" r="1.04"/></g>
<path d="M31.68,38.38 L33.09,37.19 L35.93,36.1 L37.7,35.36 L39.74,34.64 L42.26,34.09 L44.67,33.85 L47.17,33.59 L48.26,33.94 L49.7,34.42 L50.83,35.58 L51.41,37.86 L51.65,40.81 L53.47,42.71 L53.83,44.5 L54.68,46.94 L54.71,48.41 L54.75,50.96 L53.99,52.68 L53.22,54.14 L51.71,55.33 L49.77,56.56 L48.75,58.54 L47.02,59.91 L46.03,60.8 L44.08,60.71 L42.03,59.55 L39.51,58.22 L37.99,58.21 L35.4,57.5 L34,55.35 L32.16,53.52 L30.05,50.8 L29.11,48.15 L28.54,46.03 L29.13,44 L29.42,42.83 L30.03,40.97 L30.74,40.12Z" fill="none" stroke="#d81c1c" stroke-width="0.72" stroke-linejoin="round"/>
<g stroke="#c8c070" stroke-width="0.5" opacity="0.8"><line x1="3" y1="71" x2="33" y2="71"/><line x1="3" y1="73.5" x2="24" y2="73.5" stroke-dasharray="1 1"/></g>
</g>
<g transform="translate(189,124)" clip-path="url(#c7)">
<rect x="0" y="0" width="78.6" height="78.5" fill="#7c7c7c" filter="url(#mtex)"/>
<ellipse cx="30.4" cy="23.3" rx="12" ry="10.35" fill="#000" opacity="0.4" filter="url(#blur2)" transform="rotate(0 30.4 23.3)"/>
<line x1="21.67" y1="29.12" x2="61.67" y2="15.73" stroke="#000" stroke-width="3.2331236999726825" opacity="0.06051480432648986" filter="url(#blur1)"/>
<line x1="25.25" y1="70.07" x2="65.25" y2="57.26" stroke="#000" stroke-width="2.6085409363565724" opacity="0.10933200341468949" filter="url(#blur1)"/>
<line x1="-16.32" y1="29.56" x2="23.68" y2="10.53" stroke="#000" stroke-width="2.4040418409000512" opacity="0.11800522948657674" filter="url(#blur1)"/>
<line x1="-5.86" y1="18.56" x2="34.14" y2="5.46" stroke="#000" stroke-width="2.5125381033379646" opacity="0.13390638291298365" filter="url(#blur1)"/>
<line x1="33.14" y1="60.39" x2="73.14" y2="44.55" stroke="#000" stroke-width="2.992190433848857" opacity="0.06813355500635827" filter="url(#blur1)"/>
<line x1="6.21" y1="52.59" x2="46.21" y2="33.33" stroke="#000" stroke-width="2.34351079001391" opacity="0.06701699064527764" filter="url(#blur1)"/>
<line x1="4.01" y1="16.37" x2="44.01" y2="1.56" stroke="#000" stroke-width="3.1190214014529394" opacity="0.07595865768718763" filter="url(#blur1)"/>
<line x1="26.3" y1="12" x2="30.4" y2="22" stroke="#000" stroke-width="2.2" opacity="0.5" filter="url(#blur1)"/>
<g fill="#151515" opacity="0.7"><circle cx="9.77" cy="14.13" r="0.61"/><circle cx="11.26" cy="8.25" r="0.4"/><circle cx="11.43" cy="11.89" r="0.63"/><circle cx="12.49" cy="12.66" r="0.4"/><circle cx="9.09" cy="13.16" r="0.68"/><circle cx="9.53" cy="9.62" r="0.42"/><circle cx="12.82" cy="13.72" r="0.66"/><circle cx="11.57" cy="5.73" r="0.64"/><circle cx="14.23" cy="8.6" r="0.42"/><circle cx="12.05" cy="7.18" r="0.64"/><circle cx="6.99" cy="8.72" r="0.46"/><circle cx="7.47" cy="11.2" r="0.35"/><circle cx="11.89" cy="5.95" r="0.74"/><circle cx="8.65" cy="6.53" r="0.64"/><circle cx="12.72" cy="13.08" r="0.5"/><circle cx="11" cy="12.02" r="0.54"/><circle cx="9.93" cy="13.39" r="0.57"/><circle cx="8.57" cy="11.1" r="0.52"/><circle cx="10.22" cy="12.42" r="0.39"/><circle cx="9.1" cy="11.01" r="0.59"/></g>
<g fill="#151515" opacity="0.7"><circle cx="59.78" cy="68.57" r="0.62"/><circle cx="56.52" cy="69.32" r="0.36"/><circle cx="57.53" cy="63.13" r="0.59"/><circle cx="57.76" cy="74.34" r="0.69"/><circle cx="60.41" cy="65.3" r="0.39"/><circle cx="57.97" cy="66.1" r="0.62"/><circle cx="60.14" cy="75.98" r="0.57"/><circle cx="54.37" cy="66.37" r="0.58"/><circle cx="49.63" cy="67.01" r="0.46"/><circle cx="54.35" cy="65.37" r="0.43"/><circle cx="58.39" cy="75.68" r="0.35"/><circle cx="55.32" cy="72.08" r="0.59"/><circle cx="49.47" cy="67.96" r="0.32"/><circle cx="50.65" cy="71.74" r="0.34"/><circle cx="62.99" cy="70.15" r="0.35"/><circle cx="53.68" cy="73.93" r="0.57"/><circle cx="59.85" cy="72.56" r="0.47"/><circle cx="55.31" cy="69.48" r="0.45"/><circle cx="47.12" cy="70.17" r="0.53"/><circle cx="48.54" cy="71.06" r="0.43"/></g>
<g fill="#222" opacity="0.7"><circle cx="2.49" cy="39.36" r="0.66"/><circle cx="58.04" cy="20.28" r="0.57"/><circle cx="66.74" cy="20.3" r="0.54"/><circle cx="27.95" cy="19.17" r="0.41"/><circle cx="16.02" cy="27.54" r="0.32"/><circle cx="31.25" cy="6.81" r="0.6"/><circle cx="47.14" cy="0.32" r="0.61"/><circle cx="14.97" cy="37.74" r="0.52"/><circle cx="26.16" cy="22.72" r="0.47"/><circle cx="10.77" cy="67.79" r="0.34"/><circle cx="64.73" cy="17.13" r="0.42"/><circle cx="30.52" cy="2.62" r="0.35"/><circle cx="28.38" cy="34.69" r="0.65"/><circle cx="77.8" cy="3.42" r="0.51"/><circle cx="10.17" cy="63.09" r="0.43"/><circle cx="70.18" cy="42.81" r="0.35"/><circle cx="0.39" cy="19.48" r="0.65"/><circle cx="11.77" cy="37.6" r="0.45"/><circle cx="27.11" cy="62.94" r="0.39"/><circle cx="56.46" cy="52.33" r="0.67"/><circle cx="40.86" cy="72.25" r="0.48"/><circle cx="45.06" cy="48.72" r="0.64"/><circle cx="70.55" cy="9.06" r="0.35"/><circle cx="41.96" cy="63.78" r="0.51"/><circle cx="23.54" cy="75.51" r="0.42"/><circle cx="6.83" cy="4.09" r="0.31"/><circle cx="57.14" cy="8.41" r="0.59"/><circle cx="68.09" cy="78.47" r="0.62"/><circle cx="33.35" cy="48.84" r="0.63"/><circle cx="56.28" cy="22.8" r="0.6"/><circle cx="8.6" cy="24.21" r="0.7"/><circle cx="37.04" cy="21.02" r="0.61"/><circle cx="35.38" cy="0.29" r="0.31"/><circle cx="20.36" cy="26.06" r="0.67"/><circle cx="19.44" cy="66.73" r="0.64"/><circle cx="32.71" cy="77.97" r="0.6"/><circle cx="38.05" cy="20.52" r="0.48"/><circle cx="70.9" cy="42.13" r="0.38"/><circle cx="29.52" cy="37.37" r="0.38"/><circle cx="45.03" cy="2.68" r="0.63"/></g>
<path d="M25.98,33 L28.19,32.39 L30.64,31.87 L32.42,31.73 L34.23,31.39 L36.77,31.03 L38.96,30.92 L40.38,31.74 L41.65,32.79 L42.05,34.4 L44.12,35.66 L44.77,37.76 L45.34,39.53 L45.62,41.41 L46.6,43.38 L45.92,45.15 L45.83,47.66 L45.11,50.09 L43.1,52.01 L42.48,53.13 L40.66,53.84 L38.72,54.47 L36.6,54.57 L34.03,55.34 L32.5,54.66 L30.73,54.84 L28.89,54.33 L27.68,52.98 L26.1,51.84 L24.47,50.22 L23.73,48.54 L22.99,46.52 L22.24,45 L22.08,42.38 L21.68,40.36 L22.53,38.6 L23.58,36.99 L24.01,35.12 L25.08,34.49Z" fill="#050505"/>
<g fill="#22f022"><circle cx="25.31" cy="38.85" r="0.74"/><circle cx="31.31" cy="36.11" r="0.63"/><circle cx="35.77" cy="52.49" r="1.03"/><circle cx="39.34" cy="48.03" r="1.14"/><circle cx="23.02" cy="46.08" r="0.92"/><circle cx="34.66" cy="50.01" r="0.64"/><circle cx="39.27" cy="41.33" r="0.84"/><circle cx="27.78" cy="37.8" r="0.96"/><circle cx="35.48" cy="53.06" r="0.72"/><circle cx="39.51" cy="33.29" r="1.02"/><circle cx="41.82" cy="36.28" r="0.74"/><circle cx="24.25" cy="41.7" r="0.58"/><circle cx="39.23" cy="44.97" r="0.84"/><circle cx="39.37" cy="36.62" r="0.77"/><circle cx="42.07" cy="41.85" r="0.84"/><circle cx="34.65" cy="36.87" r="0.62"/><circle cx="30.71" cy="49.27" r="1.1"/><circle cx="24.34" cy="49.04" r="0.95"/><circle cx="37.38" cy="53.95" r="1.14"/><circle cx="36.61" cy="49.72" r="0.89"/><circle cx="35.42" cy="50.88" r="1"/><circle cx="41.36" cy="39.23" r="0.84"/><circle cx="28.84" cy="44.48" r="0.82"/><circle cx="42.46" cy="45.43" r="0.95"/><circle cx="41.19" cy="41.68" r="0.93"/><circle cx="40.38" cy="48.56" r="1.09"/><circle cx="43.88" cy="44.55" r="0.94"/><circle cx="26.37" cy="36.81" r="0.85"/><circle cx="34.11" cy="52.88" r="0.53"/><circle cx="30.39" cy="48.99" r="0.87"/><circle cx="40.89" cy="41.45" r="0.95"/><circle cx="23.1" cy="40.76" r="1.14"/><circle cx="40" cy="44.69" r="0.84"/><circle cx="32.8" cy="48.6" r="0.99"/><circle cx="31.7" cy="52.28" r="0.61"/><circle cx="45.83" cy="45.25" r="0.86"/><circle cx="45" cy="43.43" r="0.91"/><circle cx="37.61" cy="36.77" r="0.59"/><circle cx="32.15" cy="53.75" r="1.2"/><circle cx="33.28" cy="31.8" r="1.16"/></g>
<path d="M25.98,33 L28.19,32.39 L30.64,31.87 L32.42,31.73 L34.23,31.39 L36.77,31.03 L38.96,30.92 L40.38,31.74 L41.65,32.79 L42.05,34.4 L44.12,35.66 L44.77,37.76 L45.34,39.53 L45.62,41.41 L46.6,43.38 L45.92,45.15 L45.83,47.66 L45.11,50.09 L43.1,52.01 L42.48,53.13 L40.66,53.84 L38.72,54.47 L36.6,54.57 L34.03,55.34 L32.5,54.66 L30.73,54.84 L28.89,54.33 L27.68,52.98 L26.1,51.84 L24.47,50.22 L23.73,48.54 L22.99,46.52 L22.24,45 L22.08,42.38 L21.68,40.36 L22.53,38.6 L23.58,36.99 L24.01,35.12 L25.08,34.49Z" fill="none" stroke="#d81c1c" stroke-width="0.72" stroke-linejoin="round"/>
<circle cx="52" cy="51.5" r="0.7" fill="#2af02a"/>
<g stroke="#c8c070" stroke-width="0.5" opacity="0.8"><line x1="3" y1="71" x2="33" y2="71"/><line x1="3" y1="73.5" x2="24" y2="73.5" stroke-dasharray="1 1"/></g>
</g>
<g transform="translate(270.6,124)" clip-path="url(#c8)">
<rect x="0" y="0" width="78.6" height="78.5" fill="#7c7c7c" filter="url(#mtex)"/>
<ellipse cx="30.7" cy="22.8" rx="13.2" ry="11.5" fill="#000" opacity="0.4" filter="url(#blur2)" transform="rotate(0 30.7 22.8)"/>
<line x1="31.43" y1="33.45" x2="71.43" y2="15.67" stroke="#000" stroke-width="1.9121964642790035" opacity="0.12506570010858561" filter="url(#blur1)"/>
<line x1="54.12" y1="50.97" x2="94.12" y2="37.37" stroke="#000" stroke-width="2.541338719279849" opacity="0.08622182492976746" filter="url(#blur1)"/>
<line x1="2.5" y1="74.32" x2="42.5" y2="52.35" stroke="#000" stroke-width="1.589112764900866" opacity="0.12881288298290328" filter="url(#blur1)"/>
<line x1="34.29" y1="29.77" x2="74.29" y2="14.93" stroke="#000" stroke-width="2.849929694269912" opacity="0.09654649208466445" filter="url(#blur1)"/>
<line x1="41.73" y1="51.62" x2="81.73" y2="38.29" stroke="#000" stroke-width="3.035675627887981" opacity="0.13859305992089527" filter="url(#blur1)"/>
<line x1="67.24" y1="47.84" x2="107.24" y2="35.4" stroke="#000" stroke-width="1.508110288316815" opacity="0.07071780216393071" filter="url(#blur1)"/>
<line x1="64.69" y1="23.62" x2="104.69" y2="7.96" stroke="#000" stroke-width="3.296392489078377" opacity="0.08514910439651606" filter="url(#blur1)"/>
<line x1="25.7" y1="12" x2="28.8" y2="22" stroke="#000" stroke-width="2.2" opacity="0.5" filter="url(#blur1)"/>
<g fill="#151515" opacity="0.7"><circle cx="63.94" cy="63.13" r="0.59"/><circle cx="62.91" cy="58.86" r="0.42"/><circle cx="59.51" cy="55.16" r="0.44"/><circle cx="58.48" cy="56.54" r="0.65"/><circle cx="62.09" cy="61.92" r="0.71"/><circle cx="58.08" cy="62.38" r="0.66"/><circle cx="58.43" cy="58.29" r="0.55"/><circle cx="58.75" cy="57.91" r="0.59"/><circle cx="62.49" cy="62.43" r="0.34"/><circle cx="61.68" cy="65.69" r="0.48"/><circle cx="63.97" cy="59.76" r="0.57"/><circle cx="63.46" cy="56.43" r="0.35"/><circle cx="55.95" cy="57.46" r="0.38"/><circle cx="64.65" cy="63.14" r="0.53"/><circle cx="61.4" cy="63.79" r="0.4"/></g>
<g fill="#151515" opacity="0.7"><circle cx="21.06" cy="11.62" r="0.35"/><circle cx="20.62" cy="13.64" r="0.43"/><circle cx="24.24" cy="15.75" r="0.35"/><circle cx="18.5" cy="14.75" r="0.52"/><circle cx="18.56" cy="11.64" r="0.5"/><circle cx="16.71" cy="15.31" r="0.57"/><circle cx="22.85" cy="16.93" r="0.41"/><circle cx="23.21" cy="11.37" r="0.33"/><circle cx="22.61" cy="18.29" r="0.56"/><circle cx="24.17" cy="15.5" r="0.72"/></g>
<g fill="#222" opacity="0.7"><circle cx="33.26" cy="27.28" r="0.53"/><circle cx="73.82" cy="20.69" r="0.42"/><circle cx="14.83" cy="49.33" r="0.49"/><circle cx="20.13" cy="30.45" r="0.31"/><circle cx="24.56" cy="77.16" r="0.53"/><circle cx="22.21" cy="73.49" r="0.44"/><circle cx="19.77" cy="2.76" r="0.36"/><circle cx="15.64" cy="18.06" r="0.65"/><circle cx="20.79" cy="19.52" r="0.54"/><circle cx="72.09" cy="22.87" r="0.6"/><circle cx="28.98" cy="44.05" r="0.54"/><circle cx="74.07" cy="59.44" r="0.5"/><circle cx="66.13" cy="28.77" r="0.45"/><circle cx="75.45" cy="42.86" r="0.61"/><circle cx="24.72" cy="71.85" r="0.55"/><circle cx="19.44" cy="73.29" r="0.49"/><circle cx="26.68" cy="20.63" r="0.34"/><circle cx="15.77" cy="54.34" r="0.36"/><circle cx="20.34" cy="35.12" r="0.52"/><circle cx="29.91" cy="61.63" r="0.4"/><circle cx="28.97" cy="33.36" r="0.35"/><circle cx="17.47" cy="11.5" r="0.59"/><circle cx="11.52" cy="52.44" r="0.39"/><circle cx="50.85" cy="51.54" r="0.44"/><circle cx="73.34" cy="51.56" r="0.52"/><circle cx="3.64" cy="31.91" r="0.41"/><circle cx="36.93" cy="73.27" r="0.65"/><circle cx="4.87" cy="53.39" r="0.67"/><circle cx="42.64" cy="7.6" r="0.65"/><circle cx="33.51" cy="76.97" r="0.65"/><circle cx="65.15" cy="73.1" r="0.33"/><circle cx="62.39" cy="23.96" r="0.35"/><circle cx="29.8" cy="46.23" r="0.3"/><circle cx="35.34" cy="61.56" r="0.5"/><circle cx="41.51" cy="23.26" r="0.69"/><circle cx="19.51" cy="53.47" r="0.56"/><circle cx="0.05" cy="78.22" r="0.39"/><circle cx="77.72" cy="72.87" r="0.66"/><circle cx="67.22" cy="31.22" r="0.48"/><circle cx="27.18" cy="73.48" r="0.31"/></g>
<path d="M27.34,35.86 L29.88,34.73 L32.16,33.91 L34.14,33.34 L36.27,32.55 L37.89,32.79 L40.19,32.72 L41.94,33.8 L43.41,33.93 L44.43,35.76 L45.91,36.69 L46.66,38.11 L46.72,40.24 L46.7,43.45 L46.27,45.6 L46.27,48.66 L44.64,50.78 L44.3,52.42 L43.17,53.62 L41.07,55.17 L39.7,56.13 L37.58,56.57 L36.69,57.18 L35.3,57.64 L34.05,57.55 L32.16,57.66 L30.24,56.31 L28.94,55.33 L27.65,54.33 L26.28,53.22 L24.35,51.62 L23.95,49.73 L23.2,47.55 L23.16,45.27 L23,43.02 L23.04,40.96 L23.33,39.59 L25.14,37.72 L26,36.51Z" fill="#050505"/>
<g fill="#22f022"><circle cx="37.35" cy="41.35" r="0.78"/><circle cx="43.25" cy="46.5" r="0.78"/><circle cx="30.24" cy="55.1" r="0.64"/><circle cx="27.71" cy="52.45" r="0.59"/><circle cx="43.15" cy="38.23" r="0.81"/><circle cx="37.1" cy="35.36" r="1.12"/><circle cx="33.4" cy="51.89" r="1.11"/><circle cx="42.47" cy="38.62" r="0.97"/><circle cx="27.87" cy="46.07" r="1.1"/><circle cx="31.94" cy="45.93" r="0.61"/><circle cx="43.47" cy="48.28" r="1.16"/><circle cx="24.91" cy="51.27" r="0.57"/><circle cx="36.2" cy="38.34" r="1.22"/><circle cx="25.52" cy="44.43" r="0.88"/><circle cx="32.15" cy="34.17" r="1.03"/><circle cx="46.06" cy="41.61" r="1.22"/><circle cx="31.03" cy="39.41" r="0.86"/><circle cx="38" cy="33.54" r="0.86"/><circle cx="31.93" cy="38.68" r="0.58"/><circle cx="35.14" cy="52.2" r="1.24"/><circle cx="44.73" cy="43.25" r="0.64"/><circle cx="45.86" cy="43.18" r="0.77"/><circle cx="42.55" cy="46.56" r="1.26"/><circle cx="35.85" cy="50.04" r="0.74"/><circle cx="28.79" cy="40" r="0.64"/><circle cx="28.76" cy="48.46" r="0.66"/><circle cx="28.07" cy="38.9" r="0.69"/><circle cx="38.64" cy="40.34" r="1.22"/><circle cx="36.27" cy="38.07" r="1.27"/><circle cx="28.45" cy="52.88" r="1.15"/><circle cx="32.98" cy="45.16" r="1.26"/><circle cx="33.71" cy="38.62" r="0.54"/><circle cx="44.01" cy="43.97" r="1.07"/><circle cx="34.97" cy="55.41" r="0.75"/><circle cx="25.94" cy="48.61" r="0.52"/><circle cx="46.07" cy="40.71" r="0.84"/><circle cx="29.9" cy="40.66" r="0.93"/><circle cx="31.14" cy="38.74" r="1.27"/><circle cx="33.41" cy="43.71" r="1.25"/><circle cx="32.18" cy="42.2" r="0.82"/><circle cx="28.61" cy="50.23" r="0.73"/><circle cx="35.08" cy="46.9" r="1.11"/></g>
<path d="M27.34,35.86 L29.88,34.73 L32.16,33.91 L34.14,33.34 L36.27,32.55 L37.89,32.79 L40.19,32.72 L41.94,33.8 L43.41,33.93 L44.43,35.76 L45.91,36.69 L46.66,38.11 L46.72,40.24 L46.7,43.45 L46.27,45.6 L46.27,48.66 L44.64,50.78 L44.3,52.42 L43.17,53.62 L41.07,55.17 L39.7,56.13 L37.58,56.57 L36.69,57.18 L35.3,57.64 L34.05,57.55 L32.16,57.66 L30.24,56.31 L28.94,55.33 L27.65,54.33 L26.28,53.22 L24.35,51.62 L23.95,49.73 L23.2,47.55 L23.16,45.27 L23,43.02 L23.04,40.96 L23.33,39.59 L25.14,37.72 L26,36.51Z" fill="none" stroke="#d81c1c" stroke-width="0.72" stroke-linejoin="round"/>
<g stroke="#c8c070" stroke-width="0.5" opacity="0.8"><line x1="3" y1="71" x2="33" y2="71"/><line x1="3" y1="73.5" x2="24" y2="73.5" stroke-dasharray="1 1"/></g>
</g>
<g transform="translate(24,205.2)" clip-path="url(#c9)">
<rect x="0" y="0" width="78.6" height="78.5" fill="#7c7c7c" filter="url(#mtex)"/>
<ellipse cx="58" cy="33" rx="9" ry="8" fill="#000" opacity="0.3" filter="url(#blur2)" transform="rotate(0 58 33)"/>
<line x1="-10.39" y1="54.8" x2="29.61" y2="36.28" stroke="#000" stroke-width="3.3807047791322358" opacity="0.08168921812482585" filter="url(#blur1)"/>
<line x1="3.02" y1="57.26" x2="43.02" y2="38.67" stroke="#000" stroke-width="2.1059759477767104" opacity="0.11473865024615645" filter="url(#blur1)"/>
<line x1="15.7" y1="60.65" x2="55.7" y2="47.46" stroke="#000" stroke-width="1.9465322326244991" opacity="0.1321170469019759" filter="url(#blur1)"/>
<line x1="12.22" y1="20.31" x2="52.22" y2="0.27" stroke="#000" stroke-width="2.7633278446833596" opacity="0.07197628448072105" filter="url(#blur1)"/>
<line x1="29.62" y1="51.79" x2="69.62" y2="38.14" stroke="#000" stroke-width="2.803396583645594" opacity="0.069842107650533" filter="url(#blur1)"/>
<line x1="10.34" y1="6.49" x2="50.34" y2="-7.55" stroke="#000" stroke-width="3.4559990671557155" opacity="0.09229406391578038" filter="url(#blur1)"/>
<line x1="69.14" y1="34.21" x2="109.14" y2="16.14" stroke="#000" stroke-width="3.24519076408242" opacity="0.11495068006882364" filter="url(#blur1)"/>
<g fill="#151515" opacity="0.7"><circle cx="63.38" cy="45.72" r="0.59"/><circle cx="56.31" cy="40.49" r="0.66"/><circle cx="62.04" cy="34.65" r="0.53"/><circle cx="60.04" cy="40.45" r="0.47"/><circle cx="58.19" cy="38.92" r="0.66"/><circle cx="60.43" cy="43.84" r="0.32"/><circle cx="66.87" cy="39.89" r="0.69"/><circle cx="58.9" cy="39.02" r="0.45"/><circle cx="57.28" cy="40.04" r="0.73"/><circle cx="57.87" cy="42.32" r="0.67"/><circle cx="65.45" cy="45.44" r="0.5"/><circle cx="55.56" cy="38.5" r="0.52"/><circle cx="60.6" cy="41.42" r="0.69"/><circle cx="60.67" cy="47.03" r="0.39"/><circle cx="67.42" cy="38.52" r="0.64"/><circle cx="60.49" cy="33.92" r="0.63"/><circle cx="63.97" cy="43.84" r="0.67"/><circle cx="62.33" cy="47.33" r="0.7"/><circle cx="55.92" cy="42.6" r="0.5"/><circle cx="53.99" cy="45.25" r="0.47"/></g>
<g fill="#151515" opacity="0.7"><circle cx="71.51" cy="20.26" r="0.62"/><circle cx="73.52" cy="19.84" r="0.52"/><circle cx="65.89" cy="18.65" r="0.4"/><circle cx="67.11" cy="17.64" r="0.58"/><circle cx="70.87" cy="21.87" r="0.46"/><circle cx="72.64" cy="18.7" r="0.57"/><circle cx="69.44" cy="21.51" r="0.33"/><circle cx="71.72" cy="15.94" r="0.47"/><circle cx="68.33" cy="16.24" r="0.7"/><circle cx="73.08" cy="19.17" r="0.75"/></g>
<g fill="#222" opacity="0.7"><circle cx="75.57" cy="46.36" r="0.65"/><circle cx="38.59" cy="29.48" r="0.4"/><circle cx="68.86" cy="12.74" r="0.33"/><circle cx="63.3" cy="60.75" r="0.49"/><circle cx="65.79" cy="4.1" r="0.4"/><circle cx="22.78" cy="32.93" r="0.37"/><circle cx="5.46" cy="26.54" r="0.66"/><circle cx="77.3" cy="58.55" r="0.49"/><circle cx="19.82" cy="75.27" r="0.51"/><circle cx="57.27" cy="2.22" r="0.38"/><circle cx="65.89" cy="62.42" r="0.65"/><circle cx="47.27" cy="33.45" r="0.53"/><circle cx="66.76" cy="24.18" r="0.51"/><circle cx="21.69" cy="60.31" r="0.3"/><circle cx="53.86" cy="74.89" r="0.31"/><circle cx="46.66" cy="50.54" r="0.64"/><circle cx="45.93" cy="20.19" r="0.46"/><circle cx="75.35" cy="71.09" r="0.35"/><circle cx="7.45" cy="7.37" r="0.31"/><circle cx="35.12" cy="11.05" r="0.65"/><circle cx="51.51" cy="9.93" r="0.52"/><circle cx="25.49" cy="38.77" r="0.39"/><circle cx="13.05" cy="14.44" r="0.45"/><circle cx="55.8" cy="43.18" r="0.32"/><circle cx="55.87" cy="68.6" r="0.61"/><circle cx="62.15" cy="0.61" r="0.49"/><circle cx="4.99" cy="59.97" r="0.37"/><circle cx="55.92" cy="19.85" r="0.58"/><circle cx="24.65" cy="3.29" r="0.46"/><circle cx="24.32" cy="70.71" r="0.42"/><circle cx="39.55" cy="43.12" r="0.68"/><circle cx="7.75" cy="47.19" r="0.5"/><circle cx="57.74" cy="75.92" r="0.42"/><circle cx="54.98" cy="41.27" r="0.52"/><circle cx="5.01" cy="63.95" r="0.69"/><circle cx="27.92" cy="24.97" r="0.7"/><circle cx="8.46" cy="5.97" r="0.33"/><circle cx="64.01" cy="59.65" r="0.48"/><circle cx="48.84" cy="1.55" r="0.56"/><circle cx="34.79" cy="40.62" r="0.46"/></g>
<path d="M32.3,37.23 L34.05,36.85 L36.8,36.52 L39.82,36.22 L41.6,35.83 L43.57,36.45 L45.73,37.56 L47,37.94 L49.11,39.3 L50.99,40.78 L52.05,42.52 L53.21,44.68 L53.9,46.78 L53.53,49.68 L53.3,52.27 L53.02,55.16 L52.13,56.21 L50.04,58.17 L48.49,59.35 L46.76,60.16 L44.4,61.58 L42.74,61.76 L39.99,63.45 L38.49,63.99 L36.34,64.94 L35.5,63.75 L34.92,62.22 L33.15,61.15 L31.46,59.73 L29.7,58.39 L28.18,56.58 L27.53,54.52 L25.93,52.19 L25.08,49.27 L25,46.88 L25.04,45.07 L25.43,42.81 L27.31,41.16 L27.68,39.81 L28.94,39.01 L30.49,38.01 L30.62,37.94Z" fill="#0c0c0c"/>
<g clip-path="url(#c10)"><rect x="0" y="0" width="78.6" height="78.5" fill="#000" opacity="0.45" filter="url(#grainL)"/></g>
<g fill="#1a7a1a"><circle cx="27.73" cy="44.82" r="0.54"/><circle cx="50.85" cy="46.6" r="0.44"/><circle cx="40.3" cy="37.26" r="0.46"/></g>
<path d="M32.3,37.23 L34.05,36.85 L36.8,36.52 L39.82,36.22 L41.6,35.83 L43.57,36.45 L45.73,37.56 L47,37.94 L49.11,39.3 L50.99,40.78 L52.05,42.52 L53.21,44.68 L53.9,46.78 L53.53,49.68 L53.3,52.27 L53.02,55.16 L52.13,56.21 L50.04,58.17 L48.49,59.35 L46.76,60.16 L44.4,61.58 L42.74,61.76 L39.99,63.45 L38.49,63.99 L36.34,64.94 L35.5,63.75 L34.92,62.22 L33.15,61.15 L31.46,59.73 L29.7,58.39 L28.18,56.58 L27.53,54.52 L25.93,52.19 L25.08,49.27 L25,46.88 L25.04,45.07 L25.43,42.81 L27.31,41.16 L27.68,39.81 L28.94,39.01 L30.49,38.01 L30.62,37.94Z" fill="none" stroke="#d81c1c" stroke-width="0.72" stroke-linejoin="round"/>
<g stroke="#c8c070" stroke-width="0.5" opacity="0.8"><line x1="3" y1="71" x2="33" y2="71"/><line x1="3" y1="73.5" x2="24" y2="73.5" stroke-dasharray="1 1"/></g>
</g>
<g transform="translate(106.2,205.2)" clip-path="url(#c11)">
<rect x="0" y="0" width="78.6" height="78.5" fill="#7c7c7c" filter="url(#mtex)"/>
<ellipse cx="58" cy="33" rx="9" ry="8" fill="#000" opacity="0.2" filter="url(#blur2)" transform="rotate(0 58 33)"/>
<line x1="66.87" y1="0.91" x2="106.87" y2="-18.45" stroke="#000" stroke-width="1.8160254495294963" opacity="0.1389071561330259" filter="url(#blur1)"/>
<line x1="-18.48" y1="68.6" x2="21.52" y2="49.79" stroke="#000" stroke-width="3.2146847649630494" opacity="0.13998529873328958" filter="url(#blur1)"/>
<line x1="1.57" y1="26.37" x2="41.57" y2="7.29" stroke="#000" stroke-width="2.0611633716862743" opacity="0.08106514057179685" filter="url(#blur1)"/>
<line x1="0.57" y1="66.91" x2="40.57" y2="46.17" stroke="#000" stroke-width="3.0952319847549616" opacity="0.07787129658796696" filter="url(#blur1)"/>
<line x1="63.24" y1="39.89" x2="103.24" y2="25.57" stroke="#000" stroke-width="2.4110736227136425" opacity="0.09359002619363152" filter="url(#blur1)"/>
<line x1="-12.89" y1="44.05" x2="27.11" y2="28.45" stroke="#000" stroke-width="2.6392314182990058" opacity="0.13441738944889653" filter="url(#blur1)"/>
<line x1="38.1" y1="31.6" x2="78.1" y2="10.96" stroke="#000" stroke-width="3.4903458217656462" opacity="0.09922052202177703" filter="url(#blur1)"/>
<circle cx="18.9" cy="9.7" r="1.6" fill="#111"/>
<circle cx="60.6" cy="4" r="1.5" fill="#111"/>
<circle cx="66.6" cy="4" r="1.3" fill="#111"/>
<circle cx="10" cy="50.2" r="1.2" fill="#111"/>
<circle cx="5.3" cy="65.2" r="0.9" fill="#111"/>
<circle cx="17.4" cy="71.9" r="1.1" fill="#111"/>
<circle cx="33.2" cy="70.9" r="1.2" fill="#111"/>
<circle cx="30.2" cy="75.9" r="1" fill="#111"/>
<g fill="#151515" opacity="0.7"><circle cx="72.17" cy="54.42" r="0.31"/><circle cx="72.58" cy="54.98" r="0.35"/><circle cx="67.95" cy="52.13" r="0.7"/><circle cx="70.67" cy="60.84" r="0.44"/><circle cx="65.34" cy="51.56" r="0.61"/><circle cx="74.48" cy="52.67" r="0.32"/><circle cx="73.38" cy="51.87" r="0.44"/><circle cx="72.03" cy="60.14" r="0.56"/><circle cx="74.88" cy="52.99" r="0.73"/><circle cx="65.41" cy="52.97" r="0.58"/><circle cx="69.69" cy="60.86" r="0.44"/><circle cx="71.14" cy="49.25" r="0.59"/><circle cx="73.42" cy="59.25" r="0.6"/><circle cx="70.53" cy="56.22" r="0.54"/><circle cx="75.65" cy="56.16" r="0.53"/></g>
<g fill="#151515" opacity="0.7"><circle cx="61.18" cy="29.58" r="0.6"/><circle cx="67.88" cy="28.33" r="0.47"/><circle cx="62.16" cy="28.38" r="0.57"/><circle cx="61.19" cy="28.94" r="0.6"/><circle cx="63.25" cy="29.69" r="0.75"/><circle cx="62.57" cy="33.1" r="0.48"/><circle cx="70.29" cy="27.49" r="0.53"/><circle cx="63.49" cy="31.09" r="0.7"/><circle cx="67.1" cy="33.91" r="0.46"/><circle cx="63.31" cy="33.16" r="0.39"/><circle cx="69.27" cy="31.01" r="0.66"/><circle cx="63.38" cy="27.85" r="0.61"/></g>
<g fill="#222" opacity="0.7"><circle cx="4.09" cy="32.24" r="0.63"/><circle cx="72.39" cy="36.16" r="0.64"/><circle cx="39.18" cy="41.13" r="0.53"/><circle cx="77.91" cy="58.38" r="0.49"/><circle cx="57.16" cy="50.5" r="0.44"/><circle cx="61.64" cy="64.35" r="0.54"/><circle cx="74.1" cy="1.43" r="0.5"/><circle cx="49.88" cy="26.74" r="0.37"/><circle cx="54.4" cy="34.1" r="0.41"/><circle cx="3.29" cy="75.92" r="0.44"/><circle cx="9.28" cy="16.98" r="0.4"/><circle cx="68.08" cy="14.18" r="0.41"/><circle cx="7.65" cy="36.89" r="0.38"/><circle cx="27.05" cy="57.69" r="0.67"/><circle cx="65.56" cy="3.01" r="0.45"/><circle cx="66.73" cy="2.59" r="0.38"/><circle cx="38.51" cy="30.02" r="0.6"/><circle cx="56.45" cy="36.46" r="0.4"/><circle cx="18.14" cy="20.9" r="0.33"/><circle cx="52.33" cy="12.39" r="0.66"/><circle cx="50.77" cy="4.46" r="0.5"/><circle cx="47.45" cy="3.32" r="0.49"/><circle cx="2.35" cy="60.15" r="0.3"/><circle cx="49.67" cy="77.37" r="0.64"/><circle cx="18.34" cy="41.96" r="0.36"/><circle cx="26.9" cy="67.81" r="0.63"/><circle cx="0.72" cy="29.82" r="0.56"/><circle cx="13.79" cy="63.01" r="0.66"/><circle cx="43.34" cy="28.42" r="0.64"/><circle cx="40.31" cy="14.79" r="0.41"/><circle cx="12.51" cy="65.84" r="0.5"/><circle cx="54.76" cy="64.16" r="0.69"/><circle cx="14.97" cy="31.85" r="0.65"/><circle cx="59.87" cy="30.36" r="0.56"/><circle cx="15.33" cy="12.7" r="0.32"/><circle cx="29.84" cy="18.52" r="0.51"/><circle cx="76.2" cy="12" r="0.52"/><circle cx="67.96" cy="46.97" r="0.51"/><circle cx="60.35" cy="1.71" r="0.68"/><circle cx="53.96" cy="63.32" r="0.63"/></g>
<path d="M25.7,30.97 L27.95,29.94 L31.23,28.99 L33.11,27.42 L35.59,25.65 L37.86,24.86 L39.53,24.3 L41.35,24.99 L42.49,26.43 L44.04,27.96 L46.5,29.53 L47.38,30.82 L49,32.35 L50.46,33.66 L51.6,35.61 L52.25,37.81 L52.87,39.47 L53.89,41.92 L53.37,43.04 L53.22,45.54 L51.3,47.19 L50.14,49.41 L49.11,51.22 L49.05,54.06 L47.01,55.68 L46.15,57.65 L43.64,59.31 L42.18,61.21 L40.75,61.41 L39.18,61.16 L37.49,61.71 L35.48,60.62 L32.99,59.25 L30.78,58.35 L29.34,58.08 L27.4,56.84 L26.24,55.83 L24.17,54.5 L23.41,52.03 L21.84,50.79 L21.24,49.36 L19.51,48.73 L18.67,47.51 L19.77,46.15 L20.61,44.11 L21.47,42.78 L21.13,40.56 L21.77,38.54 L22.2,36.24 L23.15,34.55 L24.72,32.87Z" fill="#3cf03c"/>
<g fill="#0a200a" opacity="0.85"><circle cx="26.7" cy="39.85" r="0.42"/><circle cx="39.98" cy="35.82" r="0.78"/><circle cx="23.14" cy="49.75" r="0.74"/><circle cx="31.79" cy="48.58" r="0.49"/><circle cx="51.8" cy="43.31" r="0.44"/><circle cx="22.2" cy="38.17" r="0.61"/><circle cx="36.33" cy="33.8" r="0.59"/><circle cx="34.55" cy="50.39" r="0.67"/><circle cx="26.72" cy="31.02" r="0.82"/><circle cx="37.73" cy="58.86" r="0.69"/><circle cx="30.49" cy="40.4" r="0.75"/><circle cx="26.82" cy="54.34" r="0.57"/><circle cx="38.41" cy="29.78" r="0.85"/><circle cx="51.29" cy="43.43" r="0.85"/><circle cx="42.97" cy="44.43" r="0.44"/><circle cx="34.59" cy="38.7" r="0.39"/><circle cx="40.48" cy="56.28" r="0.56"/><circle cx="28.84" cy="47.23" r="0.79"/><circle cx="24.65" cy="34.86" r="0.7"/><circle cx="29.79" cy="55.43" r="0.6"/><circle cx="45.36" cy="54" r="0.7"/><circle cx="29.49" cy="49.14" r="0.75"/><circle cx="35.19" cy="32.61" r="0.45"/><circle cx="50.3" cy="34.8" r="0.84"/><circle cx="37.18" cy="57.38" r="0.61"/><circle cx="29.61" cy="56.4" r="0.81"/><circle cx="22.83" cy="37.39" r="0.41"/><circle cx="26.72" cy="37.47" r="0.58"/><circle cx="23.95" cy="48.9" r="0.48"/><circle cx="50.02" cy="42.31" r="0.59"/><circle cx="45.64" cy="37.2" r="0.49"/><circle cx="22.99" cy="35.33" r="0.48"/><circle cx="44.57" cy="37.58" r="0.74"/><circle cx="29.41" cy="38.99" r="0.85"/><circle cx="25.69" cy="32.22" r="0.44"/><circle cx="39.26" cy="28.48" r="0.58"/><circle cx="43.98" cy="49.92" r="0.78"/><circle cx="35.82" cy="41.66" r="0.64"/><circle cx="23.48" cy="43.52" r="0.48"/><circle cx="37.73" cy="33.14" r="0.66"/><circle cx="36.41" cy="33.02" r="0.42"/><circle cx="39.66" cy="49.61" r="0.73"/><circle cx="36.55" cy="46" r="0.36"/><circle cx="29.46" cy="54.25" r="0.56"/><circle cx="22.34" cy="40.05" r="0.81"/><circle cx="36.22" cy="56.94" r="0.56"/><circle cx="27.41" cy="53.03" r="0.4"/><circle cx="29.08" cy="46.68" r="0.82"/><circle cx="49" cy="36.49" r="0.5"/><circle cx="31.47" cy="28.85" r="0.5"/><circle cx="46.64" cy="39.74" r="0.76"/><circle cx="45.46" cy="52.13" r="0.62"/><circle cx="26.95" cy="40.41" r="0.4"/><circle cx="31.87" cy="54.87" r="0.62"/><circle cx="37.14" cy="53.44" r="0.4"/><circle cx="31.13" cy="42.38" r="0.62"/><circle cx="42.79" cy="59.35" r="0.79"/><circle cx="37.89" cy="49.88" r="0.65"/><circle cx="39.6" cy="39.11" r="0.58"/><circle cx="45.58" cy="38.25" r="0.85"/><circle cx="43.56" cy="45.62" r="0.55"/><circle cx="45.14" cy="51.35" r="0.77"/><circle cx="28.53" cy="38.84" r="0.83"/><circle cx="32.94" cy="41.77" r="0.38"/><circle cx="26.25" cy="43.85" r="0.38"/><circle cx="45.09" cy="43.56" r="0.42"/><circle cx="21.38" cy="43.43" r="0.82"/><circle cx="29.62" cy="56.6" r="0.53"/><circle cx="47.44" cy="31.64" r="0.63"/><circle cx="37.86" cy="51.32" r="0.48"/><circle cx="39" cy="34.93" r="0.45"/><circle cx="34.51" cy="54.36" r="0.65"/><circle cx="31.16" cy="32.75" r="0.55"/><circle cx="32.73" cy="34.46" r="0.52"/><circle cx="26.68" cy="35.3" r="0.72"/><circle cx="40.69" cy="47.74" r="0.86"/><circle cx="42.13" cy="29.17" r="0.57"/><circle cx="37.14" cy="52.22" r="0.64"/><circle cx="21.95" cy="42.11" r="0.71"/><circle cx="46.33" cy="40.98" r="0.47"/><circle cx="37.09" cy="46.63" r="0.66"/><circle cx="50.26" cy="39.99" r="0.89"/><circle cx="47.71" cy="46.14" r="0.59"/><circle cx="38.48" cy="55.72" r="0.53"/><circle cx="40.9" cy="38.43" r="0.57"/><circle cx="22.24" cy="45.52" r="0.78"/><circle cx="36.24" cy="50.39" r="0.76"/><circle cx="30.33" cy="48.16" r="0.88"/><circle cx="43.87" cy="31.15" r="0.71"/><circle cx="41.38" cy="53.31" r="0.74"/><circle cx="26.05" cy="42.24" r="0.38"/><circle cx="33.69" cy="47.36" r="0.59"/><circle cx="24.72" cy="43.09" r="0.47"/><circle cx="35.93" cy="51.05" r="0.51"/><circle cx="34.4" cy="47.94" r="0.64"/><circle cx="35.67" cy="28.72" r="0.73"/><circle cx="32.62" cy="56.08" r="0.62"/><circle cx="40.27" cy="39.77" r="0.81"/><circle cx="42.89" cy="36.51" r="0.59"/><circle cx="40.64" cy="55.45" r="0.81"/><circle cx="48.88" cy="41.03" r="0.51"/><circle cx="36.82" cy="57.76" r="0.84"/><circle cx="35.51" cy="58.22" r="0.77"/><circle cx="20.1" cy="48" r="0.79"/><circle cx="41.4" cy="43.27" r="0.64"/><circle cx="49.27" cy="37.36" r="0.61"/><circle cx="39.47" cy="34.87" r="0.58"/><circle cx="36.48" cy="56.8" r="0.81"/><circle cx="24.9" cy="43.13" r="0.76"/><circle cx="50.25" cy="44.15" r="0.7"/><circle cx="41.41" cy="49.27" r="0.84"/><circle cx="23.06" cy="51.11" r="0.56"/><circle cx="37.29" cy="42.92" r="0.46"/><circle cx="24.56" cy="45.77" r="0.9"/><circle cx="27.95" cy="38.26" r="0.55"/><circle cx="31.77" cy="28.7" r="0.7"/><circle cx="27.3" cy="49.75" r="0.61"/><circle cx="48.36" cy="52.23" r="0.82"/><circle cx="24.14" cy="54.02" r="0.78"/><circle cx="27.24" cy="39.35" r="0.39"/><circle cx="41.26" cy="56.39" r="0.81"/><circle cx="46.34" cy="30.14" r="0.82"/><circle cx="45.13" cy="54.85" r="0.64"/><circle cx="36.27" cy="29.85" r="0.42"/><circle cx="43.25" cy="35.21" r="0.83"/><circle cx="34.95" cy="50.94" r="0.38"/><circle cx="46.02" cy="31.76" r="0.59"/><circle cx="35.79" cy="36.45" r="0.48"/><circle cx="48.75" cy="35.97" r="0.89"/><circle cx="34.27" cy="42.37" r="0.72"/><circle cx="35.94" cy="34.14" r="0.75"/><circle cx="26.41" cy="38.68" r="0.36"/><circle cx="30.08" cy="54.46" r="0.43"/><circle cx="25.36" cy="39.09" r="0.51"/><circle cx="25.76" cy="53.96" r="0.78"/><circle cx="47.07" cy="50.31" r="0.9"/><circle cx="27.76" cy="50.78" r="0.6"/><circle cx="52.5" cy="40.86" r="0.75"/><circle cx="45.61" cy="36.55" r="0.71"/><circle cx="27.37" cy="51.62" r="0.75"/><circle cx="38.47" cy="46.69" r="0.53"/><circle cx="40.45" cy="29.83" r="0.66"/><circle cx="37.5" cy="55.4" r="0.75"/><circle cx="21.48" cy="45.12" r="0.42"/><circle cx="37.21" cy="49.68" r="0.74"/><circle cx="24.83" cy="43.26" r="0.62"/><circle cx="35.87" cy="52.87" r="0.51"/><circle cx="35.45" cy="33.51" r="0.46"/><circle cx="40.93" cy="30.23" r="0.79"/><circle cx="31.87" cy="28.54" r="0.78"/><circle cx="43.37" cy="45.33" r="0.89"/><circle cx="29.68" cy="55.32" r="0.89"/><circle cx="36.25" cy="27.16" r="0.54"/><circle cx="40.98" cy="43.78" r="0.76"/><circle cx="22.7" cy="39.88" r="0.52"/><circle cx="38.37" cy="32.43" r="0.56"/><circle cx="34.5" cy="58.82" r="0.37"/><circle cx="28.67" cy="29.83" r="0.74"/><circle cx="46.25" cy="57.26" r="0.6"/><circle cx="39.65" cy="53.95" r="0.86"/><circle cx="26.61" cy="50.78" r="0.39"/><circle cx="31.51" cy="58.37" r="0.7"/><circle cx="37.47" cy="40.97" r="0.6"/><circle cx="19.89" cy="47.67" r="0.8"/><circle cx="33.81" cy="27.44" r="0.7"/><circle cx="41.8" cy="32.99" r="0.8"/><circle cx="37.8" cy="53.72" r="0.48"/><circle cx="31.43" cy="49.09" r="0.72"/><circle cx="35.07" cy="49.22" r="0.78"/><circle cx="39.12" cy="31.52" r="0.63"/><circle cx="49.62" cy="48.34" r="0.43"/><circle cx="37.96" cy="55.19" r="0.7"/><circle cx="32.15" cy="28.93" r="0.73"/><circle cx="35.6" cy="54.9" r="0.59"/><circle cx="43.99" cy="29.68" r="0.77"/><circle cx="45.98" cy="49.41" r="0.44"/><circle cx="30.28" cy="34.8" r="0.51"/><circle cx="39.26" cy="37.87" r="0.71"/><circle cx="39.08" cy="40.47" r="0.75"/><circle cx="49.68" cy="33.47" r="0.7"/><circle cx="24.25" cy="40.77" r="0.54"/><circle cx="49.33" cy="43.84" r="0.74"/><circle cx="41.59" cy="44.55" r="0.42"/><circle cx="39.64" cy="28.61" r="0.55"/><circle cx="32.08" cy="35.22" r="0.36"/><circle cx="36.13" cy="59.04" r="0.6"/><circle cx="32.76" cy="38.57" r="0.5"/><circle cx="30.19" cy="31.57" r="0.59"/><circle cx="50.92" cy="37.98" r="0.83"/><circle cx="36.25" cy="48.11" r="0.62"/><circle cx="32.48" cy="57.41" r="0.68"/><circle cx="25.38" cy="35.78" r="0.57"/><circle cx="38.61" cy="38.41" r="0.5"/><circle cx="44.72" cy="56.61" r="0.84"/><circle cx="23.66" cy="44.36" r="0.75"/><circle cx="35.82" cy="44.11" r="0.7"/><circle cx="40.96" cy="30.88" r="0.38"/><circle cx="22.37" cy="48.87" r="0.46"/><circle cx="43.81" cy="39.98" r="0.81"/><circle cx="38.32" cy="56.9" r="0.58"/><circle cx="33.42" cy="59.04" r="0.73"/><circle cx="33.76" cy="56.9" r="0.75"/><circle cx="41.39" cy="25.33" r="0.84"/><circle cx="30.61" cy="31.56" r="0.48"/><circle cx="35.77" cy="43.13" r="0.72"/><circle cx="49.16" cy="50.29" r="0.83"/><circle cx="33.84" cy="29.84" r="0.74"/><circle cx="40.29" cy="38.78" r="0.89"/><circle cx="31.3" cy="38.11" r="0.76"/><circle cx="52.73" cy="41.5" r="0.36"/><circle cx="40.45" cy="48.87" r="0.86"/><circle cx="28" cy="36.19" r="0.73"/><circle cx="30.86" cy="38.35" r="0.37"/><circle cx="31.8" cy="50.52" r="0.46"/><circle cx="33.01" cy="46.29" r="0.68"/><circle cx="41.44" cy="44.37" r="0.73"/><circle cx="46.87" cy="55.72" r="0.35"/><circle cx="51.44" cy="42.24" r="0.9"/><circle cx="45.52" cy="41.59" r="0.37"/><circle cx="43.28" cy="47.01" r="0.72"/><circle cx="38.74" cy="36.51" r="0.48"/><circle cx="40.3" cy="61.07" r="0.37"/><circle cx="24.73" cy="45.31" r="0.59"/><circle cx="28.5" cy="54.79" r="0.79"/><circle cx="44.42" cy="45.22" r="0.81"/><circle cx="47.67" cy="54.89" r="0.83"/><circle cx="37.41" cy="27.55" r="0.69"/><circle cx="44.98" cy="57.81" r="0.85"/><circle cx="38.72" cy="40.52" r="0.59"/><circle cx="36.16" cy="39.8" r="0.75"/><circle cx="27.7" cy="40.61" r="0.71"/><circle cx="38.22" cy="38.32" r="0.71"/><circle cx="32.29" cy="34.91" r="0.78"/><circle cx="50.26" cy="39.57" r="0.43"/><circle cx="43.5" cy="29.45" r="0.59"/><circle cx="41.83" cy="40.82" r="0.51"/><circle cx="34.64" cy="41.51" r="0.67"/><circle cx="39.45" cy="36.13" r="0.72"/><circle cx="40.47" cy="35.31" r="0.35"/><circle cx="25.5" cy="31.89" r="0.44"/><circle cx="26.02" cy="54.84" r="0.65"/><circle cx="28.08" cy="41.27" r="0.38"/><circle cx="41.02" cy="58.12" r="0.53"/><circle cx="31.13" cy="50.31" r="0.47"/><circle cx="35.95" cy="30.37" r="0.45"/><circle cx="23.96" cy="48.63" r="0.84"/><circle cx="39.74" cy="32.85" r="0.65"/><circle cx="45.64" cy="56.45" r="0.65"/><circle cx="50.22" cy="46.61" r="0.78"/><circle cx="35.93" cy="38.62" r="0.5"/><circle cx="38.43" cy="53.15" r="0.37"/><circle cx="41.35" cy="51.07" r="0.85"/><circle cx="41.66" cy="48.67" r="0.73"/><circle cx="42.4" cy="50.26" r="0.72"/><circle cx="48.52" cy="37.66" r="0.87"/><circle cx="20.49" cy="44.82" r="0.82"/><circle cx="36.26" cy="49.13" r="0.44"/><circle cx="53.64" cy="41.63" r="0.48"/><circle cx="40.61" cy="26" r="0.71"/><circle cx="27.58" cy="34.56" r="0.46"/></g>
<path d="M25.7,30.97 L27.95,29.94 L31.23,28.99 L33.11,27.42 L35.59,25.65 L37.86,24.86 L39.53,24.3 L41.35,24.99 L42.49,26.43 L44.04,27.96 L46.5,29.53 L47.38,30.82 L49,32.35 L50.46,33.66 L51.6,35.61 L52.25,37.81 L52.87,39.47 L53.89,41.92 L53.37,43.04 L53.22,45.54 L51.3,47.19 L50.14,49.41 L49.11,51.22 L49.05,54.06 L47.01,55.68 L46.15,57.65 L43.64,59.31 L42.18,61.21 L40.75,61.41 L39.18,61.16 L37.49,61.71 L35.48,60.62 L32.99,59.25 L30.78,58.35 L29.34,58.08 L27.4,56.84 L26.24,55.83 L24.17,54.5 L23.41,52.03 L21.84,50.79 L21.24,49.36 L19.51,48.73 L18.67,47.51 L19.77,46.15 L20.61,44.11 L21.47,42.78 L21.13,40.56 L21.77,38.54 L22.2,36.24 L23.15,34.55 L24.72,32.87Z" fill="none" stroke="#d81c1c" stroke-width="0.72" stroke-linejoin="round"/>
<g stroke="#c8c070" stroke-width="0.5" opacity="0.8"><line x1="3" y1="71" x2="33" y2="71"/><line x1="3" y1="73.5" x2="24" y2="73.5" stroke-dasharray="1 1"/></g>
</g>
<g transform="translate(189,205.2)" clip-path="url(#c12)">
<rect x="0" y="0" width="78.6" height="78.5" fill="#7c7c7c" filter="url(#mtex)"/>
<ellipse cx="58" cy="30" rx="9" ry="8" fill="#000" opacity="0.2" filter="url(#blur2)" transform="rotate(0 58 30)"/>
<line x1="12.54" y1="37.48" x2="52.54" y2="21.31" stroke="#000" stroke-width="2.3935185075678467" opacity="0.0927612583959917" filter="url(#blur1)"/>
<line x1="39.19" y1="20.19" x2="79.19" y2="1.84" stroke="#000" stroke-width="1.52025674725469" opacity="0.08416349638397166" filter="url(#blur1)"/>
<line x1="10.16" y1="11.07" x2="50.16" y2="-8.36" stroke="#000" stroke-width="2.120216504069891" opacity="0.12313935948631208" filter="url(#blur1)"/>
<line x1="66.06" y1="19.77" x2="106.06" y2="-1.16" stroke="#000" stroke-width="3.1152736485905663" opacity="0.11339351751265288" filter="url(#blur1)"/>
<line x1="-17.54" y1="35.63" x2="22.46" y2="17.36" stroke="#000" stroke-width="2.0924513039802" opacity="0.07794684099117005" filter="url(#blur1)"/>
<line x1="7.88" y1="20.14" x2="47.88" y2="0.26" stroke="#000" stroke-width="2.1955610885365724" opacity="0.09384986192985964" filter="url(#blur1)"/>
<line x1="37.87" y1="73.97" x2="77.87" y2="59.04" stroke="#000" stroke-width="1.5880132061660108" opacity="0.13791074996209451" filter="url(#blur1)"/>
<circle cx="19.8" cy="8.5" r="1.6" fill="#111"/>
<circle cx="60.4" cy="3" r="1.5" fill="#111"/>
<circle cx="66.8" cy="3.6" r="1.3" fill="#111"/>
<circle cx="10.1" cy="49" r="1.2" fill="#111"/>
<circle cx="6.1" cy="64.8" r="0.9" fill="#111"/>
<circle cx="18.2" cy="70.9" r="1.1" fill="#111"/>
<circle cx="33.4" cy="70.9" r="1.2" fill="#111"/>
<circle cx="30.4" cy="75.9" r="1" fill="#111"/>
<g fill="#151515" opacity="0.7"><circle cx="75.2" cy="52.34" r="0.7"/><circle cx="73.99" cy="57.31" r="0.49"/><circle cx="67.87" cy="54.59" r="0.39"/><circle cx="67.35" cy="55.96" r="0.5"/><circle cx="71.74" cy="55.27" r="0.62"/><circle cx="66.22" cy="57.04" r="0.63"/><circle cx="69.09" cy="56.11" r="0.65"/><circle cx="65.88" cy="52.42" r="0.58"/><circle cx="73.55" cy="54.34" r="0.64"/><circle cx="66.92" cy="58.33" r="0.6"/><circle cx="69.31" cy="56.62" r="0.51"/><circle cx="69.08" cy="50.48" r="0.5"/><circle cx="68.4" cy="53" r="0.38"/><circle cx="67.59" cy="59.85" r="0.39"/><circle cx="71.42" cy="56.24" r="0.32"/></g>
<g fill="#222" opacity="0.7"><circle cx="21.66" cy="44.97" r="0.63"/><circle cx="26" cy="29.02" r="0.42"/><circle cx="23.96" cy="61.04" r="0.52"/><circle cx="20.31" cy="8.41" r="0.61"/><circle cx="55.58" cy="65.04" r="0.4"/><circle cx="42.87" cy="72.12" r="0.54"/><circle cx="74.31" cy="13.13" r="0.69"/><circle cx="4.4" cy="32.67" r="0.31"/><circle cx="63.63" cy="53.95" r="0.69"/><circle cx="63.27" cy="74.48" r="0.52"/><circle cx="77.67" cy="58.8" r="0.44"/><circle cx="76.59" cy="29.59" r="0.38"/><circle cx="5.96" cy="36.58" r="0.38"/><circle cx="73.38" cy="74.61" r="0.39"/><circle cx="8.14" cy="41.52" r="0.37"/><circle cx="42.73" cy="63.81" r="0.4"/><circle cx="33.15" cy="70.72" r="0.48"/><circle cx="26.94" cy="70.05" r="0.63"/><circle cx="70.36" cy="53.99" r="0.47"/><circle cx="54.47" cy="65.14" r="0.56"/><circle cx="18.74" cy="23.18" r="0.46"/><circle cx="60.65" cy="43.73" r="0.52"/><circle cx="64.97" cy="8.51" r="0.55"/><circle cx="26.13" cy="43.91" r="0.63"/><circle cx="19.52" cy="74.69" r="0.33"/><circle cx="44.17" cy="42.53" r="0.39"/><circle cx="44.08" cy="36.95" r="0.48"/><circle cx="56.46" cy="0.31" r="0.45"/><circle cx="61.75" cy="11.14" r="0.65"/><circle cx="16" cy="53.47" r="0.37"/><circle cx="35.32" cy="33.17" r="0.33"/><circle cx="54.99" cy="37.69" r="0.58"/><circle cx="42.38" cy="43.64" r="0.51"/><circle cx="23.41" cy="70.55" r="0.33"/><circle cx="68.9" cy="67.78" r="0.5"/><circle cx="61.07" cy="52.86" r="0.54"/><circle cx="22.92" cy="25.09" r="0.44"/><circle cx="23.75" cy="75.34" r="0.44"/><circle cx="30.46" cy="32.94" r="0.63"/><circle cx="37.55" cy="43.47" r="0.4"/></g>
<path d="M24.08,31.99 L25.9,30.4 L29.09,28.88 L31.01,27.26 L33.8,25.78 L37.01,24.67 L39.26,24.25 L40.84,25.61 L42.37,26.89 L43.81,29.18 L45.06,30.45 L47.35,31.63 L48.84,33.3 L49.93,34.77 L50.25,37.1 L51.75,38.17 L53.29,40.91 L53.72,42.13 L54.81,44.24 L54.76,46.35 L53.99,48.11 L52.97,49.92 L51.3,51.09 L49.17,51.93 L47.19,54.06 L45.9,55.35 L44.71,57.36 L43.53,59.06 L41.88,59.5 L40.43,60.45 L38.93,60.21 L36.97,60.59 L35.03,59.07 L32.28,58.97 L30.25,57.58 L27.22,57.52 L25.56,56.34 L24.04,54.75 L23.49,52.94 L23.23,51.92 L22.08,50.47 L20.19,49.51 L19.37,48.55 L17.99,47.23 L17.81,45.44 L17.84,43.62 L18.92,43.12 L21.26,43.46 L22.46,42.43 L22.46,41.47 L22.99,39.2 L22.86,37.03 L23.3,36.28 L23.76,34.31Z" fill="#3cf03c"/>
<g fill="#0a200a" opacity="0.85"><circle cx="42.54" cy="34.17" r="0.44"/><circle cx="40.1" cy="26.56" r="0.67"/><circle cx="36.84" cy="43.97" r="0.42"/><circle cx="23.19" cy="47.56" r="0.52"/><circle cx="40.77" cy="51.51" r="0.68"/><circle cx="37.48" cy="31.42" r="0.54"/><circle cx="28.33" cy="42.18" r="0.65"/><circle cx="47.07" cy="34.98" r="0.88"/><circle cx="38.89" cy="57" r="0.43"/><circle cx="43.31" cy="58.67" r="0.72"/><circle cx="41.19" cy="42.85" r="0.5"/><circle cx="41.74" cy="56.07" r="0.46"/><circle cx="45" cy="50.84" r="0.39"/><circle cx="42.33" cy="29.42" r="0.89"/><circle cx="45.9" cy="44.94" r="0.66"/><circle cx="47.34" cy="47.38" r="0.43"/><circle cx="47.29" cy="37.11" r="0.67"/><circle cx="36.77" cy="57.11" r="0.58"/><circle cx="29.88" cy="48.62" r="0.69"/><circle cx="47.56" cy="53.17" r="0.43"/><circle cx="22.98" cy="45.45" r="0.89"/><circle cx="40.52" cy="39.8" r="0.63"/><circle cx="47.76" cy="43.23" r="0.65"/><circle cx="39.76" cy="58.12" r="0.79"/><circle cx="48.86" cy="33.93" r="0.68"/><circle cx="48.26" cy="50.35" r="0.87"/><circle cx="36.61" cy="37.25" r="0.46"/><circle cx="36.34" cy="60" r="0.77"/><circle cx="31.48" cy="56.42" r="0.6"/><circle cx="23.71" cy="44.25" r="0.49"/><circle cx="19.22" cy="45.79" r="0.89"/><circle cx="46.52" cy="51.01" r="0.43"/><circle cx="38.59" cy="47.4" r="0.77"/><circle cx="34.34" cy="26.19" r="0.86"/><circle cx="27.63" cy="51.09" r="0.61"/><circle cx="46.64" cy="36.52" r="0.4"/><circle cx="33.64" cy="41.7" r="0.79"/><circle cx="32.75" cy="48.47" r="0.56"/><circle cx="44.92" cy="30.58" r="0.83"/><circle cx="44.93" cy="52.29" r="0.69"/><circle cx="41.25" cy="57.87" r="0.43"/><circle cx="28.84" cy="43.51" r="0.64"/><circle cx="53.07" cy="47.36" r="0.69"/><circle cx="40.8" cy="58.61" r="0.57"/><circle cx="45.17" cy="46.06" r="0.57"/><circle cx="30.35" cy="29.84" r="0.36"/><circle cx="30.24" cy="35.16" r="0.39"/><circle cx="35.77" cy="37" r="0.86"/><circle cx="46.69" cy="48.42" r="0.82"/><circle cx="40.37" cy="32.52" r="0.89"/><circle cx="33.53" cy="56.45" r="0.49"/><circle cx="21.27" cy="47.04" r="0.73"/><circle cx="23.29" cy="50.79" r="0.76"/><circle cx="44.89" cy="36.59" r="0.65"/><circle cx="39.57" cy="55.14" r="0.38"/><circle cx="31.69" cy="35.69" r="0.79"/><circle cx="33.91" cy="55.71" r="0.55"/><circle cx="21.55" cy="48.6" r="0.53"/><circle cx="38.94" cy="51.42" r="0.6"/><circle cx="44.94" cy="46.77" r="0.82"/><circle cx="45.42" cy="34.51" r="0.63"/><circle cx="46.38" cy="52.77" r="0.75"/><circle cx="37.83" cy="47.53" r="0.37"/><circle cx="35.47" cy="50.66" r="0.85"/><circle cx="49.2" cy="40.22" r="0.48"/><circle cx="50.58" cy="48.14" r="0.46"/><circle cx="39.15" cy="28.23" r="0.89"/><circle cx="39.54" cy="51.82" r="0.79"/><circle cx="27.28" cy="43.24" r="0.44"/><circle cx="40.47" cy="40.04" r="0.78"/><circle cx="26.67" cy="47.42" r="0.51"/><circle cx="37.79" cy="31.96" r="0.75"/><circle cx="33.03" cy="36.1" r="0.62"/><circle cx="41.07" cy="27.16" r="0.83"/><circle cx="27.8" cy="52.31" r="0.42"/><circle cx="49.33" cy="43.46" r="0.62"/><circle cx="36.61" cy="53.71" r="0.38"/><circle cx="19.48" cy="48.46" r="0.35"/><circle cx="36.52" cy="46.96" r="0.82"/><circle cx="29.39" cy="45.33" r="0.37"/><circle cx="38.11" cy="48.46" r="0.81"/><circle cx="35.84" cy="27.44" r="0.79"/><circle cx="49.03" cy="49.72" r="0.52"/><circle cx="53.88" cy="46.89" r="0.52"/><circle cx="46.9" cy="32.4" r="0.48"/><circle cx="49.99" cy="38.67" r="0.66"/><circle cx="43.38" cy="57.05" r="0.47"/><circle cx="26.1" cy="39.66" r="0.41"/><circle cx="21.14" cy="44.87" r="0.38"/><circle cx="27.67" cy="38.36" r="0.4"/><circle cx="24.31" cy="50.76" r="0.38"/><circle cx="27.39" cy="30.25" r="0.54"/><circle cx="24.9" cy="43.75" r="0.48"/><circle cx="25.88" cy="37.25" r="0.6"/><circle cx="51.77" cy="45.37" r="0.66"/><circle cx="44.42" cy="31.1" r="0.79"/><circle cx="46.03" cy="53.84" r="0.6"/><circle cx="37.86" cy="26.97" r="0.6"/><circle cx="41.63" cy="58.77" r="0.84"/><circle cx="30.36" cy="51.74" r="0.82"/><circle cx="53.38" cy="48.98" r="0.53"/><circle cx="38.81" cy="40.9" r="0.84"/><circle cx="40.79" cy="31.54" r="0.44"/><circle cx="46.79" cy="37.82" r="0.47"/><circle cx="38.44" cy="31.36" r="0.64"/><circle cx="30.52" cy="35.85" r="0.73"/><circle cx="27.01" cy="36.3" r="0.66"/><circle cx="29.15" cy="34.16" r="0.52"/><circle cx="35.85" cy="54.06" r="0.45"/><circle cx="44.4" cy="39.95" r="0.66"/><circle cx="36.41" cy="46.16" r="0.45"/><circle cx="40.6" cy="38.86" r="0.78"/><circle cx="39.85" cy="39.08" r="0.89"/><circle cx="22.36" cy="49.32" r="0.4"/><circle cx="28.81" cy="46.87" r="0.36"/><circle cx="44.74" cy="38.4" r="0.85"/><circle cx="38.87" cy="53.72" r="0.54"/><circle cx="31.93" cy="49.71" r="0.77"/><circle cx="43.44" cy="29.71" r="0.58"/><circle cx="29.58" cy="32.66" r="0.41"/><circle cx="43.89" cy="46.98" r="0.39"/><circle cx="45.56" cy="53.53" r="0.74"/><circle cx="41.43" cy="45.74" r="0.55"/><circle cx="45.5" cy="32.76" r="0.5"/><circle cx="49.29" cy="42.06" r="0.76"/><circle cx="49.92" cy="48.47" r="0.55"/><circle cx="33.09" cy="56.41" r="0.73"/><circle cx="30.89" cy="54.31" r="0.77"/><circle cx="44.58" cy="33.94" r="0.72"/><circle cx="42.07" cy="54.78" r="0.63"/><circle cx="52.19" cy="50.42" r="0.47"/><circle cx="39.21" cy="31.39" r="0.69"/><circle cx="30.47" cy="52.95" r="0.81"/><circle cx="31.62" cy="45.66" r="0.48"/><circle cx="31.7" cy="40.21" r="0.74"/><circle cx="36.61" cy="30.1" r="0.71"/><circle cx="36.9" cy="43.34" r="0.6"/><circle cx="49.88" cy="48.03" r="0.71"/><circle cx="36.36" cy="38.85" r="0.58"/><circle cx="42.93" cy="40.17" r="0.39"/><circle cx="31.79" cy="40.84" r="0.46"/><circle cx="26.43" cy="40.5" r="0.51"/><circle cx="27.46" cy="42.12" r="0.77"/><circle cx="34.38" cy="56.75" r="0.7"/><circle cx="42.93" cy="54.25" r="0.81"/><circle cx="47.07" cy="38.47" r="0.85"/><circle cx="40.77" cy="39.2" r="0.81"/><circle cx="37.62" cy="40.95" r="0.45"/><circle cx="34.97" cy="34.66" r="0.48"/><circle cx="37.83" cy="36.34" r="0.38"/><circle cx="26.57" cy="48.21" r="0.67"/><circle cx="27" cy="43.81" r="0.5"/><circle cx="27.99" cy="40.73" r="0.37"/><circle cx="46.31" cy="36.3" r="0.9"/><circle cx="29.98" cy="55.19" r="0.53"/><circle cx="50.89" cy="40.68" r="0.83"/><circle cx="30.56" cy="52.66" r="0.83"/><circle cx="28.97" cy="39.91" r="0.85"/><circle cx="41.93" cy="51.9" r="0.53"/><circle cx="29.71" cy="39.22" r="0.48"/><circle cx="36.46" cy="32.68" r="0.77"/><circle cx="44.63" cy="41.05" r="0.43"/><circle cx="31.49" cy="47.01" r="0.61"/><circle cx="39.45" cy="38.06" r="0.82"/><circle cx="29.2" cy="44.65" r="0.39"/><circle cx="31" cy="37.86" r="0.89"/><circle cx="37.9" cy="41.81" r="0.68"/><circle cx="27.89" cy="34.27" r="0.87"/><circle cx="39.86" cy="44.27" r="0.73"/><circle cx="45.64" cy="30.75" r="0.78"/><circle cx="35.67" cy="29.72" r="0.52"/><circle cx="51.23" cy="42.44" r="0.7"/><circle cx="32.47" cy="50.95" r="0.64"/><circle cx="36.34" cy="25.72" r="0.8"/><circle cx="34.57" cy="31.94" r="0.6"/><circle cx="34.08" cy="43.52" r="0.71"/><circle cx="30.12" cy="40.86" r="0.82"/><circle cx="23.57" cy="51.17" r="0.82"/><circle cx="54.3" cy="45.17" r="0.38"/><circle cx="28.44" cy="40.09" r="0.72"/><circle cx="41.92" cy="31.78" r="0.67"/><circle cx="36.65" cy="44.06" r="0.54"/><circle cx="31.16" cy="30.13" r="0.51"/><circle cx="22.72" cy="47.49" r="0.36"/><circle cx="26.79" cy="53.61" r="0.82"/><circle cx="30.38" cy="50.95" r="0.8"/><circle cx="41.86" cy="46.82" r="0.76"/><circle cx="29.63" cy="36.28" r="0.49"/><circle cx="26.35" cy="42.91" r="0.65"/><circle cx="23.58" cy="46.82" r="0.8"/><circle cx="37.58" cy="47.65" r="0.58"/><circle cx="29.3" cy="49.06" r="0.74"/><circle cx="23.87" cy="38.32" r="0.56"/><circle cx="38" cy="54.06" r="0.43"/><circle cx="31.72" cy="57.78" r="0.45"/><circle cx="24.34" cy="52.82" r="0.69"/><circle cx="35.42" cy="40.91" r="0.38"/><circle cx="41.52" cy="33.86" r="0.59"/><circle cx="52.18" cy="42.27" r="0.57"/><circle cx="30.85" cy="34.6" r="0.69"/><circle cx="23.93" cy="46.01" r="0.44"/><circle cx="36.47" cy="41.5" r="0.89"/><circle cx="29.65" cy="33.78" r="0.54"/><circle cx="42.2" cy="32.99" r="0.48"/><circle cx="44.12" cy="43.5" r="0.39"/><circle cx="28.77" cy="44.1" r="0.6"/><circle cx="42.03" cy="30.76" r="0.41"/><circle cx="43.67" cy="52.45" r="0.41"/><circle cx="39.07" cy="25.4" r="0.87"/><circle cx="47.59" cy="38.21" r="0.8"/><circle cx="24.3" cy="52.42" r="0.67"/><circle cx="24.14" cy="51.41" r="0.63"/><circle cx="36.07" cy="41.45" r="0.36"/><circle cx="52.07" cy="44.93" r="0.67"/><circle cx="36.1" cy="56.4" r="0.61"/><circle cx="37.75" cy="53.27" r="0.43"/><circle cx="48.36" cy="46.95" r="0.53"/><circle cx="23.3" cy="42.97" r="0.51"/><circle cx="46.02" cy="39" r="0.85"/><circle cx="26.7" cy="33.62" r="0.61"/><circle cx="42.89" cy="27.86" r="0.38"/><circle cx="45.28" cy="41.3" r="0.88"/><circle cx="49.6" cy="41.12" r="0.65"/><circle cx="43.6" cy="33.75" r="0.36"/><circle cx="54.48" cy="44.01" r="0.79"/><circle cx="37.72" cy="27.01" r="0.41"/><circle cx="48" cy="34.89" r="0.6"/><circle cx="53.63" cy="42.62" r="0.52"/><circle cx="37.37" cy="30.38" r="0.66"/><circle cx="45.75" cy="42.6" r="0.44"/><circle cx="32.56" cy="56.51" r="0.55"/><circle cx="27.91" cy="41.7" r="0.84"/><circle cx="40.6" cy="41.46" r="0.7"/><circle cx="27.88" cy="32.2" r="0.62"/><circle cx="47.44" cy="52.31" r="0.71"/><circle cx="25.07" cy="32.19" r="0.42"/><circle cx="23.19" cy="42.5" r="0.73"/><circle cx="34.99" cy="43.89" r="0.73"/><circle cx="43.94" cy="42.31" r="0.38"/><circle cx="28.7" cy="31.25" r="0.88"/><circle cx="30.31" cy="39.58" r="0.7"/><circle cx="43.67" cy="39.25" r="0.85"/><circle cx="36.35" cy="52.11" r="0.67"/><circle cx="44.44" cy="51.69" r="0.56"/><circle cx="34.32" cy="46.8" r="0.74"/><circle cx="39.74" cy="37.32" r="0.62"/><circle cx="36.67" cy="38.11" r="0.53"/><circle cx="32.63" cy="57.41" r="0.73"/><circle cx="52.24" cy="47.93" r="0.88"/><circle cx="30.42" cy="48.02" r="0.87"/><circle cx="54.32" cy="43.33" r="0.53"/><circle cx="39.66" cy="49.58" r="0.4"/><circle cx="32.16" cy="54.91" r="0.84"/><circle cx="34.64" cy="39.69" r="0.61"/><circle cx="36.93" cy="32.15" r="0.55"/><circle cx="38.97" cy="26.59" r="0.66"/><circle cx="34.76" cy="51.87" r="0.89"/><circle cx="46.14" cy="53.99" r="0.59"/><circle cx="36.97" cy="44.12" r="0.88"/><circle cx="43.34" cy="50.4" r="0.84"/></g>
<path d="M24.08,31.99 L25.9,30.4 L29.09,28.88 L31.01,27.26 L33.8,25.78 L37.01,24.67 L39.26,24.25 L40.84,25.61 L42.37,26.89 L43.81,29.18 L45.06,30.45 L47.35,31.63 L48.84,33.3 L49.93,34.77 L50.25,37.1 L51.75,38.17 L53.29,40.91 L53.72,42.13 L54.81,44.24 L54.76,46.35 L53.99,48.11 L52.97,49.92 L51.3,51.09 L49.17,51.93 L47.19,54.06 L45.9,55.35 L44.71,57.36 L43.53,59.06 L41.88,59.5 L40.43,60.45 L38.93,60.21 L36.97,60.59 L35.03,59.07 L32.28,58.97 L30.25,57.58 L27.22,57.52 L25.56,56.34 L24.04,54.75 L23.49,52.94 L23.23,51.92 L22.08,50.47 L20.19,49.51 L19.37,48.55 L17.99,47.23 L17.81,45.44 L17.84,43.62 L18.92,43.12 L21.26,43.46 L22.46,42.43 L22.46,41.47 L22.99,39.2 L22.86,37.03 L23.3,36.28 L23.76,34.31Z" fill="none" stroke="#d81c1c" stroke-width="0.72" stroke-linejoin="round"/>
<g stroke="#c8c070" stroke-width="0.5" opacity="0.8"><line x1="3" y1="71" x2="33" y2="71"/><line x1="3" y1="73.5" x2="24" y2="73.5" stroke-dasharray="1 1"/></g>
</g>
<g transform="translate(270.6,205.2)" clip-path="url(#c13)">
<rect x="0" y="0" width="78.6" height="78.5" fill="#7c7c7c" filter="url(#mtex)"/>
<ellipse cx="58" cy="30" rx="9" ry="8" fill="#000" opacity="0.2" filter="url(#blur2)" transform="rotate(0 58 30)"/>
<line x1="26.98" y1="62.92" x2="66.98" y2="41.32" stroke="#000" stroke-width="2.079250755528931" opacity="0.12128859502383622" filter="url(#blur1)"/>
<line x1="43.38" y1="51.59" x2="83.38" y2="38.49" stroke="#000" stroke-width="1.5538735575810536" opacity="0.0907336883635438" filter="url(#blur1)"/>
<line x1="47.18" y1="19.69" x2="87.18" y2="2.67" stroke="#000" stroke-width="2.1348701810914994" opacity="0.12770622473027393" filter="url(#blur1)"/>
<line x1="65.07" y1="31.32" x2="105.07" y2="9.34" stroke="#000" stroke-width="1.6243855825048934" opacity="0.12500872003532926" filter="url(#blur1)"/>
<line x1="58.78" y1="11.77" x2="98.78" y2="-7.28" stroke="#000" stroke-width="2.6177837372093498" opacity="0.1364150289808695" filter="url(#blur1)"/>
<line x1="-1.1" y1="42.12" x2="38.9" y2="21.29" stroke="#000" stroke-width="2.777546362119593" opacity="0.08473596239666602" filter="url(#blur1)"/>
<line x1="-12.63" y1="73.3" x2="27.37" y2="56.56" stroke="#000" stroke-width="3.4926523655644464" opacity="0.07132857124961083" filter="url(#blur1)"/>
<circle cx="20.1" cy="8.5" r="1.6" fill="#111"/>
<circle cx="61.2" cy="3" r="1.5" fill="#111"/>
<circle cx="67.2" cy="3" r="1.3" fill="#111"/>
<circle cx="10.5" cy="49" r="1.2" fill="#111"/>
<circle cx="6.5" cy="65.2" r="0.9" fill="#111"/>
<circle cx="18.8" cy="70.9" r="1.1" fill="#111"/>
<circle cx="33.8" cy="70.9" r="1.2" fill="#111"/>
<circle cx="30.2" cy="75.3" r="1" fill="#111"/>
<g fill="#151515" opacity="0.7"><circle cx="68.71" cy="49.65" r="0.38"/><circle cx="72.64" cy="54.97" r="0.6"/><circle cx="74.38" cy="57.85" r="0.37"/><circle cx="68.62" cy="50.08" r="0.64"/><circle cx="64.79" cy="57.01" r="0.74"/><circle cx="73.23" cy="57.86" r="0.73"/><circle cx="69.73" cy="51.01" r="0.44"/><circle cx="71.67" cy="54.49" r="0.64"/><circle cx="71.32" cy="53.01" r="0.45"/><circle cx="68.49" cy="59.15" r="0.47"/><circle cx="74.53" cy="51.43" r="0.44"/><circle cx="71.25" cy="54.03" r="0.34"/><circle cx="67.27" cy="50.38" r="0.67"/><circle cx="75.56" cy="54.72" r="0.42"/><circle cx="69.74" cy="49.24" r="0.34"/></g>
<g fill="#222" opacity="0.7"><circle cx="38.86" cy="12.11" r="0.36"/><circle cx="37.69" cy="52.62" r="0.69"/><circle cx="10.32" cy="39.68" r="0.7"/><circle cx="60.13" cy="41.77" r="0.4"/><circle cx="49.59" cy="20.49" r="0.56"/><circle cx="50.99" cy="30.71" r="0.62"/><circle cx="31.72" cy="36.81" r="0.63"/><circle cx="19.69" cy="14.56" r="0.53"/><circle cx="34.16" cy="68.62" r="0.4"/><circle cx="29.19" cy="4.53" r="0.48"/><circle cx="24.57" cy="35.22" r="0.61"/><circle cx="2.95" cy="77.66" r="0.58"/><circle cx="63.77" cy="42.3" r="0.53"/><circle cx="32.19" cy="31.1" r="0.39"/><circle cx="23.81" cy="23.07" r="0.43"/><circle cx="71.31" cy="62.68" r="0.56"/><circle cx="1.35" cy="20.59" r="0.52"/><circle cx="54.4" cy="32.91" r="0.55"/><circle cx="71.14" cy="21" r="0.45"/><circle cx="59.76" cy="25.01" r="0.59"/><circle cx="31.22" cy="1.52" r="0.49"/><circle cx="5.35" cy="61.6" r="0.64"/><circle cx="41.62" cy="70.6" r="0.39"/><circle cx="35.03" cy="13.79" r="0.32"/><circle cx="64.8" cy="4.1" r="0.67"/><circle cx="43.76" cy="55" r="0.32"/><circle cx="71.31" cy="62.31" r="0.34"/><circle cx="14.37" cy="11.05" r="0.5"/><circle cx="6.19" cy="62.68" r="0.5"/><circle cx="55.34" cy="19.99" r="0.56"/><circle cx="35.65" cy="50.9" r="0.46"/><circle cx="77.79" cy="66.43" r="0.63"/><circle cx="26.82" cy="15" r="0.36"/><circle cx="10.34" cy="75.94" r="0.41"/><circle cx="68.43" cy="18.23" r="0.55"/><circle cx="19.59" cy="24.11" r="0.6"/><circle cx="47.82" cy="74.25" r="0.39"/><circle cx="21.26" cy="4.93" r="0.39"/><circle cx="77.08" cy="44.26" r="0.49"/><circle cx="26.79" cy="59.64" r="0.58"/></g>
<path d="M25.36,30.95 L27.36,30.09 L30.48,28.2 L32.53,27.11 L35.42,26.17 L37.43,24.49 L39.64,24.75 L41.77,25.88 L43.05,27.61 L44.97,29.83 L46.5,30.5 L48.69,32.48 L49.91,33.23 L50.7,34.97 L52.54,36.62 L52.95,38.56 L53.7,39.78 L54.84,42.3 L55.47,43.3 L54.77,45.56 L53.38,46.83 L51.7,48.8 L50.85,49.72 L48.86,50.92 L48.23,53.09 L46.91,54.5 L46.21,55.83 L44.92,57.65 L43.79,58.6 L42.07,59.55 L40.01,60.79 L37.52,60.17 L35.38,59.49 L33.79,59.16 L31.67,58.41 L29.81,57.56 L27.55,55.9 L26.35,54.75 L25.09,53.51 L23.8,52.97 L22.69,51.59 L20.42,51.16 L20.07,50.35 L18.82,49.84 L18,49.38 L18.41,48.57 L19.94,47.99 L21.12,47.09 L22.74,45.86 L22.73,43.32 L23.58,41.08 L23.7,38.53 L24.22,36.26 L24.95,33.82Z" fill="#3cf03c"/>
<g fill="#0a200a" opacity="0.85"><circle cx="51.97" cy="45.39" r="0.44"/><circle cx="31.85" cy="55.78" r="0.77"/><circle cx="41.22" cy="29.12" r="0.44"/><circle cx="42.58" cy="39.82" r="0.45"/><circle cx="52.72" cy="47.05" r="0.88"/><circle cx="47.04" cy="31.79" r="0.48"/><circle cx="50.33" cy="40.25" r="0.63"/><circle cx="46.01" cy="46.37" r="0.75"/><circle cx="37.54" cy="34.49" r="0.75"/><circle cx="22.74" cy="50.77" r="0.79"/><circle cx="37.98" cy="35.01" r="0.43"/><circle cx="40.97" cy="42.55" r="0.41"/><circle cx="33.64" cy="43.43" r="0.83"/><circle cx="28.6" cy="51.13" r="0.68"/><circle cx="34.26" cy="38.63" r="0.44"/><circle cx="23.3" cy="45.41" r="0.86"/><circle cx="43.07" cy="46.12" r="0.85"/><circle cx="39.65" cy="46.01" r="0.42"/><circle cx="31.33" cy="43.16" r="0.77"/><circle cx="43.48" cy="47.77" r="0.74"/><circle cx="31.22" cy="36.66" r="0.89"/><circle cx="43.13" cy="44.81" r="0.88"/><circle cx="52.68" cy="45.43" r="0.58"/><circle cx="23.88" cy="47.53" r="0.36"/><circle cx="45.04" cy="45.82" r="0.7"/><circle cx="43.3" cy="28" r="0.84"/><circle cx="26.65" cy="32.76" r="0.75"/><circle cx="52.56" cy="45.15" r="0.48"/><circle cx="34.54" cy="33.23" r="0.62"/><circle cx="50.87" cy="39.13" r="0.35"/><circle cx="42.99" cy="36.26" r="0.42"/><circle cx="52.06" cy="39.02" r="0.44"/><circle cx="31.16" cy="41.62" r="0.49"/><circle cx="34.16" cy="50.04" r="0.81"/><circle cx="38.91" cy="29.68" r="0.51"/><circle cx="32.5" cy="38.75" r="0.81"/><circle cx="33.92" cy="30.3" r="0.68"/><circle cx="40.8" cy="57.06" r="0.48"/><circle cx="45.89" cy="50.75" r="0.88"/><circle cx="49.93" cy="47.31" r="0.58"/><circle cx="31.79" cy="28.92" r="0.38"/><circle cx="42.14" cy="34.78" r="0.44"/><circle cx="35.92" cy="29.76" r="0.7"/><circle cx="29.72" cy="56.73" r="0.87"/><circle cx="40.71" cy="38.89" r="0.4"/><circle cx="27.75" cy="51.1" r="0.73"/><circle cx="42.5" cy="49.49" r="0.48"/><circle cx="40.55" cy="25.23" r="0.78"/><circle cx="40.11" cy="45.13" r="0.55"/><circle cx="41.5" cy="26.83" r="0.35"/><circle cx="49.98" cy="35.91" r="0.55"/><circle cx="49.12" cy="37.92" r="0.81"/><circle cx="27.89" cy="46.01" r="0.89"/><circle cx="47.8" cy="50.63" r="0.43"/><circle cx="52.75" cy="40.21" r="0.78"/><circle cx="32.48" cy="35.12" r="0.82"/><circle cx="42.96" cy="39.05" r="0.6"/><circle cx="45.68" cy="38.3" r="0.64"/><circle cx="36.64" cy="38.97" r="0.54"/><circle cx="27.67" cy="53.28" r="0.71"/><circle cx="32.72" cy="46.07" r="0.63"/><circle cx="42.24" cy="49.94" r="0.51"/><circle cx="20.5" cy="48.4" r="0.65"/><circle cx="30.59" cy="56.67" r="0.43"/><circle cx="22.36" cy="47.31" r="0.56"/><circle cx="42.45" cy="27.8" r="0.62"/><circle cx="41.04" cy="40.24" r="0.43"/><circle cx="28.93" cy="56.52" r="0.39"/><circle cx="37.45" cy="30.56" r="0.69"/><circle cx="52.73" cy="39.41" r="0.75"/><circle cx="25.84" cy="33.91" r="0.54"/><circle cx="40.82" cy="58.6" r="0.44"/><circle cx="42.2" cy="49.28" r="0.65"/><circle cx="45.04" cy="41.96" r="0.44"/><circle cx="27.7" cy="50.52" r="0.51"/><circle cx="24.51" cy="49.46" r="0.71"/><circle cx="42.63" cy="34.2" r="0.85"/><circle cx="42.09" cy="41.53" r="0.85"/><circle cx="26.91" cy="35.35" r="0.67"/><circle cx="39.68" cy="44.69" r="0.4"/><circle cx="31.5" cy="54.6" r="0.42"/><circle cx="53.01" cy="45.01" r="0.48"/><circle cx="27.91" cy="52.06" r="0.44"/><circle cx="31.08" cy="52.23" r="0.58"/><circle cx="29.97" cy="56.6" r="0.82"/><circle cx="34.8" cy="52.64" r="0.39"/><circle cx="29.66" cy="56.33" r="0.62"/><circle cx="51.35" cy="38.52" r="0.9"/><circle cx="54.62" cy="45.68" r="0.82"/><circle cx="31.31" cy="53.23" r="0.38"/><circle cx="41.56" cy="26.19" r="0.81"/><circle cx="34.56" cy="29.7" r="0.77"/><circle cx="40.05" cy="26.24" r="0.62"/><circle cx="41.07" cy="52.56" r="0.69"/><circle cx="33.31" cy="38.61" r="0.85"/><circle cx="36.82" cy="54.49" r="0.72"/><circle cx="44.33" cy="55.09" r="0.82"/><circle cx="43.99" cy="42.43" r="0.82"/><circle cx="27.4" cy="33.89" r="0.42"/><circle cx="24.94" cy="35.99" r="0.74"/><circle cx="44.58" cy="43.97" r="0.43"/><circle cx="45.23" cy="45.76" r="0.6"/><circle cx="32.05" cy="45.38" r="0.63"/><circle cx="29.05" cy="33.82" r="0.59"/><circle cx="47.13" cy="31.09" r="0.57"/><circle cx="45.1" cy="34.26" r="0.72"/><circle cx="36.4" cy="33.83" r="0.71"/><circle cx="36.38" cy="31.5" r="0.5"/><circle cx="36.77" cy="33.15" r="0.62"/><circle cx="33.03" cy="57.08" r="0.51"/><circle cx="32.13" cy="55.44" r="0.79"/><circle cx="44.65" cy="36.93" r="0.86"/><circle cx="36.16" cy="59.68" r="0.79"/><circle cx="49.73" cy="34.08" r="0.47"/><circle cx="45.64" cy="41.78" r="0.9"/><circle cx="45.12" cy="53.88" r="0.56"/><circle cx="36.56" cy="45.83" r="0.89"/><circle cx="46.53" cy="31.55" r="0.66"/><circle cx="50.64" cy="41.34" r="0.87"/><circle cx="31.38" cy="54.51" r="0.44"/><circle cx="49.2" cy="38.31" r="0.85"/><circle cx="35.43" cy="34.49" r="0.5"/><circle cx="30.93" cy="56.33" r="0.61"/><circle cx="36.91" cy="58.64" r="0.57"/><circle cx="45.7" cy="51.94" r="0.71"/><circle cx="33.5" cy="40.18" r="0.41"/><circle cx="46.23" cy="37.96" r="0.49"/><circle cx="35.13" cy="47.12" r="0.66"/><circle cx="36.87" cy="39.53" r="0.6"/><circle cx="42.25" cy="35.67" r="0.89"/><circle cx="42.65" cy="55.1" r="0.71"/><circle cx="28.95" cy="44.5" r="0.86"/><circle cx="34.55" cy="31.79" r="0.68"/><circle cx="29.35" cy="46.15" r="0.72"/><circle cx="36.74" cy="37.18" r="0.88"/><circle cx="34.67" cy="32.08" r="0.35"/><circle cx="41.4" cy="32.41" r="0.65"/><circle cx="36.04" cy="47.91" r="0.58"/><circle cx="42.66" cy="49.71" r="0.84"/><circle cx="34.14" cy="58.45" r="0.49"/><circle cx="40.65" cy="38.38" r="0.59"/><circle cx="41" cy="52.04" r="0.67"/><circle cx="44.26" cy="40.3" r="0.87"/><circle cx="26.73" cy="42.37" r="0.55"/><circle cx="50.14" cy="38.32" r="0.41"/><circle cx="45.38" cy="48.67" r="0.51"/><circle cx="49.79" cy="44.24" r="0.51"/><circle cx="35.49" cy="53.12" r="0.44"/><circle cx="49.3" cy="40.17" r="0.76"/><circle cx="32.71" cy="46.37" r="0.74"/><circle cx="44.74" cy="50.17" r="0.83"/><circle cx="37.32" cy="33.16" r="0.59"/><circle cx="40.25" cy="57.93" r="0.41"/><circle cx="37.04" cy="40.38" r="0.81"/><circle cx="54.77" cy="45.27" r="0.59"/><circle cx="44.16" cy="43.95" r="0.73"/><circle cx="26.59" cy="35.19" r="0.69"/><circle cx="40.72" cy="44.71" r="0.46"/><circle cx="29.24" cy="47.39" r="0.59"/><circle cx="36.88" cy="45.28" r="0.89"/><circle cx="40.1" cy="56.54" r="0.83"/><circle cx="51.15" cy="39.77" r="0.7"/><circle cx="34.68" cy="51.33" r="0.55"/><circle cx="44.96" cy="34.23" r="0.82"/><circle cx="42.03" cy="27.93" r="0.68"/><circle cx="29.68" cy="31.58" r="0.86"/><circle cx="23.46" cy="44.85" r="0.55"/><circle cx="39.03" cy="41.2" r="0.57"/><circle cx="43.93" cy="31.15" r="0.67"/><circle cx="40.05" cy="35.79" r="0.4"/><circle cx="45.96" cy="46.11" r="0.85"/><circle cx="36.73" cy="35.77" r="0.68"/><circle cx="44.37" cy="34.69" r="0.49"/><circle cx="40.67" cy="42.86" r="0.66"/><circle cx="25.16" cy="46.04" r="0.86"/><circle cx="37.27" cy="29.8" r="0.81"/><circle cx="23.07" cy="47.3" r="0.58"/><circle cx="34.86" cy="29.13" r="0.41"/><circle cx="42.46" cy="49.04" r="0.6"/><circle cx="30.91" cy="51.58" r="0.59"/><circle cx="50.3" cy="47.41" r="0.38"/><circle cx="18.38" cy="48.89" r="0.83"/><circle cx="49.11" cy="44.45" r="0.67"/><circle cx="51.91" cy="37.08" r="0.86"/><circle cx="45.58" cy="54.2" r="0.44"/><circle cx="31.09" cy="55.19" r="0.87"/><circle cx="52.28" cy="43.51" r="0.68"/><circle cx="52.91" cy="45.58" r="0.49"/><circle cx="34.1" cy="51.66" r="0.79"/><circle cx="34.65" cy="26.67" r="0.42"/><circle cx="26.45" cy="35.68" r="0.55"/><circle cx="34.07" cy="39.37" r="0.52"/><circle cx="30.47" cy="52.43" r="0.81"/><circle cx="42.52" cy="27.71" r="0.58"/><circle cx="39.97" cy="32.87" r="0.49"/><circle cx="38.09" cy="32.79" r="0.66"/><circle cx="33.53" cy="27.59" r="0.68"/><circle cx="50.93" cy="48.24" r="0.86"/><circle cx="42.17" cy="29.51" r="0.86"/><circle cx="27.36" cy="32.97" r="0.46"/><circle cx="39.25" cy="39.46" r="0.49"/><circle cx="31.12" cy="31.09" r="0.37"/><circle cx="33.96" cy="45.15" r="0.67"/><circle cx="43.49" cy="40.81" r="0.54"/><circle cx="50.48" cy="47.29" r="0.43"/><circle cx="42.44" cy="51" r="0.66"/><circle cx="29.74" cy="56.85" r="0.66"/><circle cx="47.34" cy="51.41" r="0.63"/><circle cx="32.49" cy="58.4" r="0.59"/><circle cx="38.68" cy="44.84" r="0.61"/><circle cx="45.92" cy="49.42" r="0.49"/><circle cx="34.56" cy="27.71" r="0.59"/><circle cx="34.99" cy="45.5" r="0.63"/><circle cx="37.65" cy="44.38" r="0.46"/><circle cx="26.83" cy="35.01" r="0.73"/><circle cx="39.32" cy="56.67" r="0.53"/><circle cx="36.74" cy="39.45" r="0.71"/><circle cx="44.84" cy="34.73" r="0.49"/><circle cx="37.97" cy="42.94" r="0.8"/><circle cx="36.39" cy="42.97" r="0.55"/><circle cx="39.98" cy="50.14" r="0.74"/><circle cx="24.58" cy="44.45" r="0.35"/><circle cx="26.44" cy="46.18" r="0.83"/><circle cx="39.55" cy="38.64" r="0.85"/><circle cx="31.51" cy="54.68" r="0.76"/><circle cx="40.18" cy="41.93" r="0.62"/><circle cx="31.28" cy="37.42" r="0.49"/><circle cx="40.75" cy="31.56" r="0.72"/><circle cx="36.1" cy="44.13" r="0.81"/><circle cx="25.22" cy="35.81" r="0.9"/><circle cx="30.2" cy="40.04" r="0.46"/><circle cx="34.74" cy="41.81" r="0.6"/><circle cx="30.42" cy="55.87" r="0.88"/><circle cx="43.49" cy="30.71" r="0.88"/><circle cx="45.39" cy="49.93" r="0.57"/><circle cx="30.63" cy="38.06" r="0.44"/><circle cx="30.74" cy="30.28" r="0.44"/><circle cx="41.82" cy="43" r="0.55"/><circle cx="35.25" cy="45.2" r="0.64"/><circle cx="45.75" cy="45.76" r="0.78"/><circle cx="32.78" cy="43.14" r="0.66"/><circle cx="33.28" cy="53.13" r="0.82"/><circle cx="42.84" cy="29.05" r="0.88"/><circle cx="34.74" cy="29" r="0.56"/><circle cx="40.53" cy="53.33" r="0.36"/><circle cx="29.6" cy="51.34" r="0.44"/><circle cx="42.09" cy="52.33" r="0.51"/><circle cx="41.04" cy="60.01" r="0.89"/><circle cx="41.17" cy="48.16" r="0.5"/><circle cx="25.86" cy="53.52" r="0.6"/><circle cx="26.67" cy="37.97" r="0.58"/><circle cx="39.86" cy="50.9" r="0.56"/><circle cx="24.16" cy="41.38" r="0.8"/><circle cx="28.71" cy="49.89" r="0.82"/><circle cx="29.83" cy="35.18" r="0.89"/><circle cx="21.89" cy="49.82" r="0.67"/><circle cx="46.73" cy="45.35" r="0.74"/><circle cx="44.55" cy="44.66" r="0.36"/><circle cx="37.73" cy="37.7" r="0.78"/><circle cx="34.25" cy="28.04" r="0.59"/></g>
<path d="M25.36,30.95 L27.36,30.09 L30.48,28.2 L32.53,27.11 L35.42,26.17 L37.43,24.49 L39.64,24.75 L41.77,25.88 L43.05,27.61 L44.97,29.83 L46.5,30.5 L48.69,32.48 L49.91,33.23 L50.7,34.97 L52.54,36.62 L52.95,38.56 L53.7,39.78 L54.84,42.3 L55.47,43.3 L54.77,45.56 L53.38,46.83 L51.7,48.8 L50.85,49.72 L48.86,50.92 L48.23,53.09 L46.91,54.5 L46.21,55.83 L44.92,57.65 L43.79,58.6 L42.07,59.55 L40.01,60.79 L37.52,60.17 L35.38,59.49 L33.79,59.16 L31.67,58.41 L29.81,57.56 L27.55,55.9 L26.35,54.75 L25.09,53.51 L23.8,52.97 L22.69,51.59 L20.42,51.16 L20.07,50.35 L18.82,49.84 L18,49.38 L18.41,48.57 L19.94,47.99 L21.12,47.09 L22.74,45.86 L22.73,43.32 L23.58,41.08 L23.7,38.53 L24.22,36.26 L24.95,33.82Z" fill="none" stroke="#d81c1c" stroke-width="0.72" stroke-linejoin="round"/>
<g stroke="#c8c070" stroke-width="0.5" opacity="0.8"><line x1="3" y1="71" x2="33" y2="71"/><line x1="3" y1="73.5" x2="24" y2="73.5" stroke-dasharray="1 1"/></g>
</g>
<g transform="translate(24,287.2)" clip-path="url(#c14)">
<rect x="0" y="0" width="78.6" height="78.5" fill="#6f6f6f" filter="url(#mtex)"/>
<ellipse cx="50" cy="15" rx="14" ry="4" fill="#000" opacity="0.2" filter="url(#blur2)" transform="rotate(-25 50 15)"/>
<line x1="-5.15" y1="53.8" x2="34.85" y2="35.45" stroke="#000" stroke-width="2.4582009441149024" opacity="0.07728114783151223" filter="url(#blur1)"/>
<line x1="51.34" y1="63.01" x2="91.34" y2="45.89" stroke="#000" stroke-width="2.5101683069400234" opacity="0.07888450907969684" filter="url(#blur1)"/>
<line x1="-19.71" y1="28.94" x2="20.29" y2="11.09" stroke="#000" stroke-width="1.6385295263666226" opacity="0.12350008174855721" filter="url(#blur1)"/>
<line x1="0.9" y1="18.15" x2="40.9" y2="5.73" stroke="#000" stroke-width="3.4951224177386315" opacity="0.11909502015751688" filter="url(#blur1)"/>
<line x1="58.75" y1="48.04" x2="98.75" y2="35.7" stroke="#000" stroke-width="2.1578586927078565" opacity="0.09980418544645037" filter="url(#blur1)"/>
<line x1="-9.58" y1="74.25" x2="30.42" y2="58.57" stroke="#000" stroke-width="1.8096261134895946" opacity="0.12540075545815463" filter="url(#blur1)"/>
<line x1="-8.76" y1="72.38" x2="31.24" y2="55.85" stroke="#000" stroke-width="2.6040057499476976" opacity="0.0874337139137645" filter="url(#blur1)"/>
<line x1="51.81" y1="7.23" x2="76.81" y2="-2.77" stroke="#000" stroke-width="1.0371395533527583" opacity="0.3" filter="url(#blur1)"/>
<line x1="68.96" y1="8.58" x2="93.96" y2="-1.42" stroke="#000" stroke-width="1.7802593499226673" opacity="0.3" filter="url(#blur1)"/>
<line x1="39.39" y1="29.13" x2="64.39" y2="19.13" stroke="#000" stroke-width="1.8939658303409488" opacity="0.3" filter="url(#blur1)"/>
<line x1="63.97" y1="23.36" x2="88.97" y2="13.36" stroke="#000" stroke-width="1.5807657091976637" opacity="0.3" filter="url(#blur1)"/>
<line x1="62.84" y1="5.43" x2="87.84" y2="-4.57" stroke="#000" stroke-width="1.4763253894369497" opacity="0.3" filter="url(#blur1)"/>
<g fill="#151515" opacity="0.7"><circle cx="32.67" cy="20.21" r="0.48"/><circle cx="28.8" cy="17.27" r="0.35"/><circle cx="30.79" cy="26.92" r="0.37"/><circle cx="29.62" cy="13.5" r="0.36"/><circle cx="24.78" cy="18.81" r="0.49"/><circle cx="32.44" cy="19.94" r="0.31"/><circle cx="34.72" cy="18.12" r="0.39"/><circle cx="27.66" cy="24.23" r="0.73"/><circle cx="30.92" cy="23.61" r="0.56"/><circle cx="22.53" cy="17.71" r="0.68"/><circle cx="27.78" cy="22.85" r="0.68"/><circle cx="31.39" cy="19.9" r="0.63"/><circle cx="34.37" cy="15.25" r="0.4"/><circle cx="31.97" cy="13.46" r="0.39"/><circle cx="27.63" cy="17.1" r="0.32"/><circle cx="27.62" cy="23.97" r="0.48"/><circle cx="25.58" cy="14.17" r="0.73"/><circle cx="37.89" cy="18.82" r="0.66"/><circle cx="28.84" cy="23.15" r="0.58"/><circle cx="23.7" cy="18.14" r="0.34"/></g>
<g fill="#151515" opacity="0.7"><circle cx="62.03" cy="70.39" r="0.57"/><circle cx="59.38" cy="63.25" r="0.48"/><circle cx="64.08" cy="62.41" r="0.75"/><circle cx="61.33" cy="68.82" r="0.66"/><circle cx="54.99" cy="66.82" r="0.55"/><circle cx="61.39" cy="66.27" r="0.74"/><circle cx="61.93" cy="66.8" r="0.45"/><circle cx="58.74" cy="59.6" r="0.51"/><circle cx="54.67" cy="65.06" r="0.43"/><circle cx="56.73" cy="68.38" r="0.59"/><circle cx="61.95" cy="65.48" r="0.36"/><circle cx="59.22" cy="60.07" r="0.74"/><circle cx="60.33" cy="61.99" r="0.64"/><circle cx="63.53" cy="64.67" r="0.31"/><circle cx="57.74" cy="67.25" r="0.38"/></g>
<g fill="#222" opacity="0.7"><circle cx="3.54" cy="9.8" r="0.65"/><circle cx="3.93" cy="48.2" r="0.38"/><circle cx="15.19" cy="64.43" r="0.42"/><circle cx="14.45" cy="35.71" r="0.58"/><circle cx="41.22" cy="67.49" r="0.46"/><circle cx="41.19" cy="56.29" r="0.48"/><circle cx="56.36" cy="36.65" r="0.35"/><circle cx="9.71" cy="61.47" r="0.6"/><circle cx="74.1" cy="54.18" r="0.53"/><circle cx="13.06" cy="66.97" r="0.35"/><circle cx="33.4" cy="11.04" r="0.45"/><circle cx="24.15" cy="33.4" r="0.58"/><circle cx="42.57" cy="19.06" r="0.61"/><circle cx="57.78" cy="64.94" r="0.31"/><circle cx="48.32" cy="70.29" r="0.4"/><circle cx="15.89" cy="63.89" r="0.45"/><circle cx="31.54" cy="64.18" r="0.45"/><circle cx="15.6" cy="16.83" r="0.44"/><circle cx="54.85" cy="28.91" r="0.61"/><circle cx="5.18" cy="19.55" r="0.55"/><circle cx="37.69" cy="39.24" r="0.67"/><circle cx="21.8" cy="14.25" r="0.31"/><circle cx="37.92" cy="23.33" r="0.49"/><circle cx="0.44" cy="0.02" r="0.45"/><circle cx="59.55" cy="23.59" r="0.67"/><circle cx="45.54" cy="31.67" r="0.61"/><circle cx="18.33" cy="47.51" r="0.64"/><circle cx="42.52" cy="25.1" r="0.34"/><circle cx="45.13" cy="14.73" r="0.45"/><circle cx="42.64" cy="73.88" r="0.57"/><circle cx="40.82" cy="67.38" r="0.42"/><circle cx="30.47" cy="53.16" r="0.52"/><circle cx="17.42" cy="32.24" r="0.63"/><circle cx="19.05" cy="55.41" r="0.32"/><circle cx="75.03" cy="53.7" r="0.43"/><circle cx="77.28" cy="62.53" r="0.32"/><circle cx="19.52" cy="38.6" r="0.7"/><circle cx="11.06" cy="3.74" r="0.43"/><circle cx="3.52" cy="32.1" r="0.52"/><circle cx="34.62" cy="11.1" r="0.31"/></g>
<path d="M24.6,38.44 L25.9,37.22 L28.41,36.72 L30.73,35.63 L31.98,33.88 L33.36,33.38 L34.96,32.47 L37.43,32.58 L38.54,33.58 L40.94,34.58 L43.06,34.16 L45.39,34.62 L47.5,35.12 L50.39,35.39 L52.95,35.66 L54.63,36.06 L56.07,37.45 L55.93,39.55 L57.07,41.87 L56.7,43.52 L57.06,45.69 L58.16,47.52 L58.29,48.27 L59.31,49.1 L59.54,49.29 L58.8,50.54 L58.29,51.86 L56.95,53.31 L56.1,55.14 L55.21,57.07 L53.28,58.29 L52.04,59.93 L49.43,60.73 L47.79,61.78 L46.31,62.98 L46.16,64.24 L45.65,64.67 L43.82,64.23 L42.57,63.48 L40.88,62.45 L38.3,62.49 L35.45,62.25 L33.69,61.89 L31.55,61.04 L30.32,58.95 L27.97,57.81 L26.8,56.83 L26.08,55.07 L25.62,54.07 L24.53,52.18 L24.38,50.7 L23.93,49.98 L23.08,49.04 L22.33,49.36 L21.14,48.6 L22.13,47.25 L22.94,46.56 L23.96,44.81 L24.53,42.7 L23.81,40.75Z" fill="#050505"/>
<path d="M24.6,38.44 L25.9,37.22 L28.41,36.72 L30.73,35.63 L31.98,33.88 L33.36,33.38 L34.96,32.47 L37.43,32.58 L38.54,33.58 L40.94,34.58 L43.06,34.16 L45.39,34.62 L47.5,35.12 L50.39,35.39 L52.95,35.66 L54.63,36.06 L56.07,37.45 L55.93,39.55 L57.07,41.87 L56.7,43.52 L57.06,45.69 L58.16,47.52 L58.29,48.27 L59.31,49.1 L59.54,49.29 L58.8,50.54 L58.29,51.86 L56.95,53.31 L56.1,55.14 L55.21,57.07 L53.28,58.29 L52.04,59.93 L49.43,60.73 L47.79,61.78 L46.31,62.98 L46.16,64.24 L45.65,64.67 L43.82,64.23 L42.57,63.48 L40.88,62.45 L38.3,62.49 L35.45,62.25 L33.69,61.89 L31.55,61.04 L30.32,58.95 L27.97,57.81 L26.8,56.83 L26.08,55.07 L25.62,54.07 L24.53,52.18 L24.38,50.7 L23.93,49.98 L23.08,49.04 L22.33,49.36 L21.14,48.6 L22.13,47.25 L22.94,46.56 L23.96,44.81 L24.53,42.7 L23.81,40.75Z" fill="none" stroke="#d81c1c" stroke-width="0.72" stroke-linejoin="round"/>
<circle cx="42.5" cy="46.6" r="1.2" fill="#2af02a"/>
<circle cx="27.3" cy="42.5" r="0.8" fill="#2af02a"/>
<g stroke="#d0d0a8" stroke-width="0.8" opacity="0.85"><line x1="3" y1="71.5" x2="47" y2="71.5"/><line x1="4" y1="75" x2="32" y2="75" stroke-dasharray="1 0.6" stroke-width="0.9"/></g>
<g font-size="2.6" fill="#d0d0a8" font-family="'Liberation Sans', Arial, sans-serif"><text x="3" y="69">0</text><text x="21" y="69">µm</text><text x="41" y="69">300</text></g>
</g>
<g transform="translate(106.2,287.2)" clip-path="url(#c15)">
<rect x="0" y="0" width="78.6" height="78.5" fill="#6f6f6f" filter="url(#mtex)"/>
<ellipse cx="55" cy="12" rx="14" ry="4" fill="#000" opacity="0.2" filter="url(#blur2)" transform="rotate(-25 55 12)"/>
<line x1="66.24" y1="10.95" x2="106.24" y2="-1.29" stroke="#000" stroke-width="3.4972613073458287" opacity="0.07474029165622825" filter="url(#blur1)"/>
<line x1="-9.15" y1="50.81" x2="30.85" y2="35.35" stroke="#000" stroke-width="3.2791018795916056" opacity="0.07853931919888608" filter="url(#blur1)"/>
<line x1="66.35" y1="24.92" x2="106.35" y2="6.91" stroke="#000" stroke-width="3.3641752086877563" opacity="0.1148208294708302" filter="url(#blur1)"/>
<line x1="63.15" y1="55.23" x2="103.15" y2="42.75" stroke="#000" stroke-width="3.2627347710925125" opacity="0.10716446534631997" filter="url(#blur1)"/>
<line x1="7.96" y1="14.83" x2="47.96" y2="-5.67" stroke="#000" stroke-width="2.665647782844938" opacity="0.13503911240630434" filter="url(#blur1)"/>
<line x1="49.66" y1="74.97" x2="89.66" y2="57.31" stroke="#000" stroke-width="2.896770616269615" opacity="0.10898596962381195" filter="url(#blur1)"/>
<line x1="3.26" y1="74.62" x2="43.26" y2="59.5" stroke="#000" stroke-width="3.0622191856907457" opacity="0.13637074706319957" filter="url(#blur1)"/>
<line x1="59.29" y1="5.98" x2="84.29" y2="-4.02" stroke="#000" stroke-width="1.8252259587541504" opacity="0.3" filter="url(#blur1)"/>
<line x1="60.04" y1="7.18" x2="85.04" y2="-2.82" stroke="#000" stroke-width="1.049125107693808" opacity="0.3" filter="url(#blur1)"/>
<line x1="53.93" y1="2.9" x2="78.93" y2="-7.1" stroke="#000" stroke-width="1.9250808972983409" opacity="0.3" filter="url(#blur1)"/>
<line x1="52.78" y1="16.48" x2="77.78" y2="6.48" stroke="#000" stroke-width="1.40944212226026" opacity="0.3" filter="url(#blur1)"/>
<line x1="59.74" y1="27.66" x2="84.74" y2="17.66" stroke="#000" stroke-width="1.3073063013201347" opacity="0.3" filter="url(#blur1)"/>
<circle cx="14.8" cy="70.9" r="2.2" fill="#111"/>
<circle cx="0.8" cy="75" r="1.5" fill="#111"/>
<g fill="#151515" opacity="0.7"><circle cx="68.27" cy="61.73" r="0.44"/><circle cx="69.56" cy="56.69" r="0.62"/><circle cx="69.61" cy="63.36" r="0.68"/><circle cx="57.3" cy="58.89" r="0.7"/><circle cx="64.85" cy="60.16" r="0.64"/><circle cx="65.54" cy="60.55" r="0.63"/><circle cx="69.03" cy="53.89" r="0.73"/><circle cx="65.68" cy="62.18" r="0.35"/><circle cx="67.65" cy="59.63" r="0.37"/><circle cx="66.76" cy="60.22" r="0.32"/><circle cx="63.05" cy="62.58" r="0.44"/><circle cx="67.95" cy="58.58" r="0.67"/><circle cx="64.56" cy="53.98" r="0.56"/><circle cx="65.77" cy="53.92" r="0.4"/><circle cx="63.11" cy="63.47" r="0.48"/><circle cx="70.21" cy="59.58" r="0.33"/><circle cx="57.87" cy="61.05" r="0.5"/><circle cx="64.29" cy="57.7" r="0.33"/><circle cx="64.07" cy="58.51" r="0.44"/><circle cx="62.37" cy="62.33" r="0.32"/></g>
<g fill="#151515" opacity="0.7"><circle cx="22.8" cy="20.33" r="0.61"/><circle cx="20.35" cy="18.33" r="0.73"/><circle cx="19.09" cy="15.22" r="0.54"/><circle cx="11.21" cy="19.79" r="0.47"/><circle cx="14.4" cy="16.52" r="0.68"/><circle cx="8.79" cy="19.62" r="0.67"/><circle cx="13.2" cy="17.64" r="0.41"/><circle cx="16.32" cy="20.01" r="0.73"/><circle cx="8.43" cy="15.66" r="0.65"/><circle cx="11.84" cy="27.2" r="0.72"/></g>
<g fill="#222" opacity="0.7"><circle cx="35.87" cy="6.54" r="0.43"/><circle cx="13.07" cy="28.7" r="0.33"/><circle cx="56.06" cy="76.9" r="0.38"/><circle cx="61.31" cy="45.88" r="0.49"/><circle cx="71.31" cy="29.62" r="0.63"/><circle cx="2.73" cy="75.78" r="0.37"/><circle cx="0.29" cy="69.18" r="0.59"/><circle cx="53.04" cy="60.13" r="0.45"/><circle cx="8.99" cy="24.98" r="0.68"/><circle cx="77.14" cy="18.06" r="0.48"/><circle cx="35.42" cy="70.98" r="0.3"/><circle cx="65.18" cy="19.9" r="0.52"/><circle cx="10.15" cy="6.6" r="0.65"/><circle cx="39.53" cy="76.29" r="0.65"/><circle cx="59.14" cy="5.86" r="0.54"/><circle cx="77.99" cy="39.49" r="0.33"/><circle cx="14.52" cy="77.55" r="0.69"/><circle cx="19.42" cy="25" r="0.59"/><circle cx="39.9" cy="14.56" r="0.69"/><circle cx="48.79" cy="28.66" r="0.31"/><circle cx="40.12" cy="59.03" r="0.37"/><circle cx="6.86" cy="56.84" r="0.67"/><circle cx="29.63" cy="37.13" r="0.55"/><circle cx="40.87" cy="10.08" r="0.41"/><circle cx="16.2" cy="15.48" r="0.34"/><circle cx="30.75" cy="17.21" r="0.64"/><circle cx="25.31" cy="75.61" r="0.62"/><circle cx="21.16" cy="12.1" r="0.53"/><circle cx="37.26" cy="42" r="0.35"/><circle cx="41.75" cy="59.6" r="0.48"/><circle cx="20.06" cy="72.4" r="0.42"/><circle cx="78.23" cy="54.07" r="0.3"/><circle cx="35.17" cy="11.71" r="0.61"/><circle cx="33.09" cy="6.71" r="0.68"/><circle cx="62.82" cy="47.71" r="0.53"/><circle cx="5.84" cy="77.13" r="0.42"/><circle cx="41.18" cy="38.47" r="0.49"/><circle cx="1.43" cy="70.12" r="0.5"/><circle cx="30.92" cy="67.56" r="0.64"/><circle cx="56.51" cy="71.24" r="0.44"/></g>
<path d="M24.1,23.15 L26.02,22.29 L27.95,21.17 L29.7,20.47 L31.57,19.19 L33.53,19.03 L35.17,19.31 L38.26,19.45 L40.54,20.61 L42.88,21.67 L45.04,21.55 L46.99,22.49 L48.72,23.47 L50.29,23.98 L52.76,23.98 L54.25,25.51 L55.33,27 L56.41,28.17 L58.4,30.52 L58.23,31.99 L58.85,34.48 L59.39,36.19 L58.67,38.56 L57.88,41.16 L56.52,42.84 L55.95,43.56 L53.93,45 L53.25,45.45 L51.25,46.44 L50.49,46.91 L48.71,47.2 L46.55,47.71 L45.06,47.88 L42.4,48.56 L40.33,48.98 L38.79,49.69 L36.76,49.78 L35.21,49.84 L33.84,48.31 L32.13,47.38 L31.21,46.33 L29.94,45.87 L28.16,45.16 L27.36,44.42 L25.03,43.77 L23.94,42.95 L22.73,41.55 L21.72,40.16 L20.32,38.13 L19.82,37.38 L19.14,35.7 L18.98,33.94 L19.99,33.19 L21.11,30.83 L22.6,29.87 L23.01,26.88 L23.26,24.99Z" fill="#050505"/>
<path d="M24.1,23.15 L26.02,22.29 L27.95,21.17 L29.7,20.47 L31.57,19.19 L33.53,19.03 L35.17,19.31 L38.26,19.45 L40.54,20.61 L42.88,21.67 L45.04,21.55 L46.99,22.49 L48.72,23.47 L50.29,23.98 L52.76,23.98 L54.25,25.51 L55.33,27 L56.41,28.17 L58.4,30.52 L58.23,31.99 L58.85,34.48 L59.39,36.19 L58.67,38.56 L57.88,41.16 L56.52,42.84 L55.95,43.56 L53.93,45 L53.25,45.45 L51.25,46.44 L50.49,46.91 L48.71,47.2 L46.55,47.71 L45.06,47.88 L42.4,48.56 L40.33,48.98 L38.79,49.69 L36.76,49.78 L35.21,49.84 L33.84,48.31 L32.13,47.38 L31.21,46.33 L29.94,45.87 L28.16,45.16 L27.36,44.42 L25.03,43.77 L23.94,42.95 L22.73,41.55 L21.72,40.16 L20.32,38.13 L19.82,37.38 L19.14,35.7 L18.98,33.94 L19.99,33.19 L21.11,30.83 L22.6,29.87 L23.01,26.88 L23.26,24.99Z" fill="none" stroke="#d81c1c" stroke-width="0.72" stroke-linejoin="round"/>
<circle cx="34.2" cy="32.4" r="1.3" fill="#2af02a"/>
<circle cx="47" cy="30.4" r="1.2" fill="#2af02a"/>
<circle cx="28.8" cy="25.9" r="0.8" fill="#2af02a"/>
<circle cx="32.2" cy="23.9" r="0.7" fill="#2af02a"/>
<circle cx="25.1" cy="37.5" r="0.7" fill="#2af02a"/>
<circle cx="28.2" cy="35.4" r="0.7" fill="#2af02a"/>
<circle cx="37.3" cy="44.6" r="0.8" fill="#2af02a"/>
<circle cx="40.3" cy="47" r="0.8" fill="#2af02a"/>
<circle cx="35.2" cy="46.2" r="0.7" fill="#2af02a"/>
<g stroke="#d0d0a8" stroke-width="0.8" opacity="0.85"><line x1="3" y1="71.5" x2="47" y2="71.5"/><line x1="4" y1="75" x2="32" y2="75" stroke-dasharray="1 0.6" stroke-width="0.9"/></g>
<g font-size="2.6" fill="#d0d0a8" font-family="'Liberation Sans', Arial, sans-serif"><text x="3" y="69">0</text><text x="21" y="69">µm</text><text x="41" y="69">300</text></g>
</g>
<g transform="translate(189,287.2)" clip-path="url(#c16)">
<rect x="0" y="0" width="78.6" height="78.5" fill="#6f6f6f" filter="url(#mtex)"/>
<ellipse cx="60" cy="15" rx="14" ry="4" fill="#000" opacity="0.2" filter="url(#blur2)" transform="rotate(-25 60 15)"/>
<line x1="63.24" y1="73.99" x2="103.24" y2="53.07" stroke="#000" stroke-width="1.6671013536613672" opacity="0.10736217815085883" filter="url(#blur1)"/>
<line x1="18.14" y1="41.35" x2="58.14" y2="28.04" stroke="#000" stroke-width="1.8839943150785854" opacity="0.09556588590984105" filter="url(#blur1)"/>
<line x1="-0.11" y1="35.49" x2="39.89" y2="23.24" stroke="#000" stroke-width="1.6715481725525023" opacity="0.11680065601959282" filter="url(#blur1)"/>
<line x1="17.91" y1="39.99" x2="57.91" y2="20.64" stroke="#000" stroke-width="2.2179927195723996" opacity="0.06460436237193748" filter="url(#blur1)"/>
<line x1="50.48" y1="45.95" x2="90.48" y2="27.37" stroke="#000" stroke-width="2.7419829102761337" opacity="0.1376588182063166" filter="url(#blur1)"/>
<line x1="12.65" y1="59.26" x2="52.65" y2="43.58" stroke="#000" stroke-width="2.6440935623835617" opacity="0.11284256874002545" filter="url(#blur1)"/>
<line x1="8.3" y1="6.69" x2="48.3" y2="-10.05" stroke="#000" stroke-width="2.9358280075055982" opacity="0.10724877583473362" filter="url(#blur1)"/>
<line x1="50.14" y1="19.99" x2="75.14" y2="9.99" stroke="#000" stroke-width="1.1820292159840893" opacity="0.3" filter="url(#blur1)"/>
<line x1="38.03" y1="11.06" x2="63.03" y2="1.06" stroke="#000" stroke-width="1.8158734926586413" opacity="0.3" filter="url(#blur1)"/>
<line x1="38.8" y1="5.2" x2="63.8" y2="-4.8" stroke="#000" stroke-width="1.098604197994936" opacity="0.3" filter="url(#blur1)"/>
<line x1="31.75" y1="9.72" x2="56.75" y2="-0.28" stroke="#000" stroke-width="1.5728218948884378" opacity="0.3" filter="url(#blur1)"/>
<line x1="66.93" y1="11.26" x2="91.93" y2="1.26" stroke="#000" stroke-width="1.3696539320060992" opacity="0.3" filter="url(#blur1)"/>
<circle cx="15.2" cy="69.9" r="2.2" fill="#111"/>
<circle cx="1.5" cy="72.9" r="1.5" fill="#111"/>
<circle cx="20.3" cy="77" r="1.2" fill="#111"/>
<g fill="#151515" opacity="0.7"><circle cx="65.69" cy="32.96" r="0.67"/><circle cx="69.17" cy="39.77" r="0.7"/><circle cx="72.18" cy="33.6" r="0.59"/><circle cx="66.84" cy="32.14" r="0.73"/><circle cx="66.06" cy="34.29" r="0.72"/><circle cx="67.83" cy="32.52" r="0.44"/><circle cx="68.62" cy="35.03" r="0.57"/><circle cx="69.65" cy="31.1" r="0.68"/><circle cx="74.02" cy="33.04" r="0.61"/><circle cx="71.05" cy="35.95" r="0.74"/><circle cx="69.41" cy="37.71" r="0.7"/><circle cx="70" cy="32.89" r="0.44"/><circle cx="70.14" cy="38.13" r="0.3"/><circle cx="66.73" cy="34.49" r="0.48"/><circle cx="70.79" cy="36.83" r="0.31"/></g>
<g fill="#151515" opacity="0.7"><circle cx="46.03" cy="58.8" r="0.55"/><circle cx="42.75" cy="67.71" r="0.35"/><circle cx="39.03" cy="67.19" r="0.42"/><circle cx="41.28" cy="69.2" r="0.59"/><circle cx="33.36" cy="66.8" r="0.46"/><circle cx="31.4" cy="62.85" r="0.44"/><circle cx="46.27" cy="67.96" r="0.47"/><circle cx="40.63" cy="61.73" r="0.69"/><circle cx="47.33" cy="65.68" r="0.5"/><circle cx="36.24" cy="73.65" r="0.62"/><circle cx="43.65" cy="71.01" r="0.58"/><circle cx="42.89" cy="65.62" r="0.57"/><circle cx="39.13" cy="58.25" r="0.49"/><circle cx="34.9" cy="64.78" r="0.69"/><circle cx="46.74" cy="63.35" r="0.31"/><circle cx="32.85" cy="70.4" r="0.45"/><circle cx="43.39" cy="67.65" r="0.62"/><circle cx="36.15" cy="61.29" r="0.58"/><circle cx="40.66" cy="55.19" r="0.67"/><circle cx="31.77" cy="68.63" r="0.72"/></g>
<g fill="#222" opacity="0.7"><circle cx="68.3" cy="58.91" r="0.53"/><circle cx="40.2" cy="66.75" r="0.55"/><circle cx="56.69" cy="17.89" r="0.34"/><circle cx="21.25" cy="45.79" r="0.53"/><circle cx="15.61" cy="14.81" r="0.68"/><circle cx="5.62" cy="72.72" r="0.61"/><circle cx="45.09" cy="78.15" r="0.57"/><circle cx="0.53" cy="73.72" r="0.47"/><circle cx="72.05" cy="63.89" r="0.36"/><circle cx="3.12" cy="1.63" r="0.61"/><circle cx="62.21" cy="17.9" r="0.35"/><circle cx="28.81" cy="62.75" r="0.6"/><circle cx="68.15" cy="75.99" r="0.6"/><circle cx="65.68" cy="1.29" r="0.3"/><circle cx="67.79" cy="48.57" r="0.43"/><circle cx="10.08" cy="26.1" r="0.44"/><circle cx="38.96" cy="35.31" r="0.38"/><circle cx="6.45" cy="15.94" r="0.35"/><circle cx="7.88" cy="32.54" r="0.35"/><circle cx="62.88" cy="42.76" r="0.48"/><circle cx="50.24" cy="18.44" r="0.31"/><circle cx="6.18" cy="26.47" r="0.44"/><circle cx="19.85" cy="24.06" r="0.63"/><circle cx="0.68" cy="35.25" r="0.45"/><circle cx="22.17" cy="56.9" r="0.39"/><circle cx="3.32" cy="12.52" r="0.69"/><circle cx="27.18" cy="9.19" r="0.69"/><circle cx="50.7" cy="75.08" r="0.43"/><circle cx="63.66" cy="3.25" r="0.4"/><circle cx="62.46" cy="40.5" r="0.62"/><circle cx="30.33" cy="68.79" r="0.33"/><circle cx="49.01" cy="14.8" r="0.38"/><circle cx="69.41" cy="33.76" r="0.63"/><circle cx="22.32" cy="57.32" r="0.66"/><circle cx="49.27" cy="18.41" r="0.57"/><circle cx="74.74" cy="62.89" r="0.48"/><circle cx="31.4" cy="7.74" r="0.61"/><circle cx="12.44" cy="17.15" r="0.31"/><circle cx="12.89" cy="30.12" r="0.49"/><circle cx="13.77" cy="33.32" r="0.6"/></g>
<path d="M23.9,21.94 L26.13,21.46 L28.56,20.39 L29.99,20.17 L33.44,19.8 L35.76,19.09 L38.59,19.49 L41.81,19.36 L44.14,19.54 L46.64,20.34 L48.31,21.04 L50.53,21.81 L51.35,23.1 L53.43,24.58 L54.78,26.91 L56.08,28.7 L56.66,30.61 L58.43,32.88 L58.8,35.77 L58.84,37.09 L57.17,38.4 L56.52,40.55 L55.97,42.64 L55.82,44.25 L55.03,45.43 L53.19,46.37 L50.72,46.71 L48.89,48 L45.58,48.41 L42.84,48.64 L40.32,49.4 L37.7,48.97 L34.88,48.44 L32.14,47.76 L29.36,47.57 L27.64,46.81 L25.06,46.09 L23.27,44.33 L22.26,42.71 L21.76,41.72 L19.77,39.49 L19.44,37.84 L18.4,35.8 L18.58,33.99 L19.21,31.77 L19.86,29.44 L21.47,26.72 L23.09,24.77Z" fill="#050505"/>
<path d="M23.9,21.94 L26.13,21.46 L28.56,20.39 L29.99,20.17 L33.44,19.8 L35.76,19.09 L38.59,19.49 L41.81,19.36 L44.14,19.54 L46.64,20.34 L48.31,21.04 L50.53,21.81 L51.35,23.1 L53.43,24.58 L54.78,26.91 L56.08,28.7 L56.66,30.61 L58.43,32.88 L58.8,35.77 L58.84,37.09 L57.17,38.4 L56.52,40.55 L55.97,42.64 L55.82,44.25 L55.03,45.43 L53.19,46.37 L50.72,46.71 L48.89,48 L45.58,48.41 L42.84,48.64 L40.32,49.4 L37.7,48.97 L34.88,48.44 L32.14,47.76 L29.36,47.57 L27.64,46.81 L25.06,46.09 L23.27,44.33 L22.26,42.71 L21.76,41.72 L19.77,39.49 L19.44,37.84 L18.4,35.8 L18.58,33.99 L19.21,31.77 L19.86,29.44 L21.47,26.72 L23.09,24.77Z" fill="none" stroke="#d81c1c" stroke-width="0.72" stroke-linejoin="round"/>
<circle cx="36" cy="32.4" r="1.5" fill="#2af02a"/>
<circle cx="47.6" cy="28.4" r="1.1" fill="#2af02a"/>
<circle cx="40.5" cy="42.5" r="1.3" fill="#2af02a"/>
<circle cx="50.6" cy="40.5" r="1.1" fill="#2af02a"/>
<circle cx="28.4" cy="25.3" r="0.8" fill="#2af02a"/>
<circle cx="32.4" cy="26.3" r="0.8" fill="#2af02a"/>
<circle cx="22.3" cy="27.3" r="0.7" fill="#2af02a"/>
<circle cx="25" cy="36" r="0.6" fill="#2af02a"/>
<circle cx="44" cy="44" r="0.8" fill="#2af02a"/>
<g stroke="#d0d0a8" stroke-width="0.8" opacity="0.85"><line x1="3" y1="71.5" x2="47" y2="71.5"/><line x1="4" y1="75" x2="32" y2="75" stroke-dasharray="1 0.6" stroke-width="0.9"/></g>
<g font-size="2.6" fill="#d0d0a8" font-family="'Liberation Sans', Arial, sans-serif"><text x="3" y="69">0</text><text x="21" y="69">µm</text><text x="41" y="69">300</text></g>
</g>
<g transform="translate(270.6,287.2)" clip-path="url(#c17)">
<rect x="0" y="0" width="78.6" height="78.5" fill="#6f6f6f" filter="url(#mtex)"/>
<ellipse cx="60" cy="15" rx="14" ry="4" fill="#000" opacity="0.2" filter="url(#blur2)" transform="rotate(-25 60 15)"/>
<line x1="44.11" y1="65.5" x2="84.11" y2="51.68" stroke="#000" stroke-width="3.496565255035901" opacity="0.0755276382978998" filter="url(#blur1)"/>
<line x1="40.38" y1="7.16" x2="80.38" y2="-12.42" stroke="#000" stroke-width="1.8026005149838875" opacity="0.1165251751442978" filter="url(#blur1)"/>
<line x1="45.2" y1="59.74" x2="85.2" y2="43.33" stroke="#000" stroke-width="3.231544788495135" opacity="0.1390327159376007" filter="url(#blur1)"/>
<line x1="-9.6" y1="40.32" x2="30.4" y2="18.74" stroke="#000" stroke-width="2.9782991386237017" opacity="0.0955365840684489" filter="url(#blur1)"/>
<line x1="7.41" y1="74.34" x2="47.41" y2="61.49" stroke="#000" stroke-width="3.021111894457171" opacity="0.12746038056097603" filter="url(#blur1)"/>
<line x1="-5.81" y1="25.5" x2="34.19" y2="10.44" stroke="#000" stroke-width="2.5841722883132485" opacity="0.08935978988454162" filter="url(#blur1)"/>
<line x1="60.43" y1="72.12" x2="100.43" y2="56.96" stroke="#000" stroke-width="3.2895597777219225" opacity="0.06556883413242011" filter="url(#blur1)"/>
<line x1="34.36" y1="20.62" x2="59.36" y2="10.62" stroke="#000" stroke-width="1.7990711044738574" opacity="0.3" filter="url(#blur1)"/>
<line x1="66.86" y1="29.78" x2="91.86" y2="19.78" stroke="#000" stroke-width="1.8597267440269967" opacity="0.3" filter="url(#blur1)"/>
<line x1="41.99" y1="22.8" x2="66.99" y2="12.8" stroke="#000" stroke-width="1.9246538072681143" opacity="0.3" filter="url(#blur1)"/>
<line x1="34.21" y1="15.84" x2="59.21" y2="5.84" stroke="#000" stroke-width="1.154277597761351" opacity="0.3" filter="url(#blur1)"/>
<line x1="36.44" y1="15.43" x2="61.44" y2="5.43" stroke="#000" stroke-width="1.6703811481917417" opacity="0.3" filter="url(#blur1)"/>
<circle cx="15.6" cy="69.9" r="2.2" fill="#111"/>
<circle cx="0.8" cy="75" r="1.5" fill="#111"/>
<g fill="#151515" opacity="0.7"><circle cx="65.48" cy="49.17" r="0.68"/><circle cx="74.53" cy="46.65" r="0.46"/><circle cx="73.71" cy="48.76" r="0.44"/><circle cx="73.56" cy="52.4" r="0.37"/><circle cx="69.29" cy="54.63" r="0.65"/><circle cx="70.03" cy="48.24" r="0.33"/><circle cx="69.85" cy="54.46" r="0.68"/><circle cx="71.81" cy="44.49" r="0.56"/><circle cx="67.88" cy="47.55" r="0.44"/><circle cx="71.2" cy="54.22" r="0.57"/><circle cx="66.63" cy="48.33" r="0.49"/><circle cx="70.05" cy="55.42" r="0.56"/><circle cx="69.95" cy="44.59" r="0.43"/><circle cx="72.37" cy="52.14" r="0.71"/><circle cx="70.99" cy="46.31" r="0.65"/></g>
<g fill="#151515" opacity="0.7"><circle cx="40.94" cy="66.23" r="0.34"/><circle cx="44.55" cy="52.09" r="0.49"/><circle cx="42.19" cy="60.69" r="0.42"/><circle cx="45.44" cy="64.33" r="0.33"/><circle cx="44.21" cy="62.46" r="0.54"/><circle cx="41.83" cy="62.12" r="0.72"/><circle cx="42.87" cy="65.43" r="0.7"/><circle cx="45.41" cy="52.15" r="0.57"/><circle cx="46.4" cy="58.52" r="0.63"/><circle cx="42.67" cy="63.88" r="0.65"/><circle cx="44.76" cy="55.33" r="0.46"/><circle cx="43.62" cy="67.61" r="0.58"/><circle cx="44.64" cy="65.83" r="0.33"/><circle cx="44.31" cy="65.62" r="0.74"/><circle cx="48.72" cy="55.39" r="0.64"/><circle cx="44.92" cy="66.67" r="0.75"/><circle cx="49.38" cy="66.36" r="0.74"/><circle cx="40.13" cy="65.32" r="0.74"/><circle cx="48.27" cy="64.37" r="0.57"/><circle cx="46.12" cy="56.03" r="0.64"/></g>
<g fill="#222" opacity="0.7"><circle cx="55.33" cy="67.34" r="0.59"/><circle cx="67.67" cy="47.42" r="0.52"/><circle cx="36.29" cy="31.93" r="0.49"/><circle cx="38.78" cy="30.77" r="0.36"/><circle cx="31.26" cy="74.19" r="0.42"/><circle cx="77.24" cy="65.35" r="0.48"/><circle cx="17.13" cy="69" r="0.68"/><circle cx="24.42" cy="52.5" r="0.6"/><circle cx="48.81" cy="9.45" r="0.39"/><circle cx="56.72" cy="49.84" r="0.57"/><circle cx="22.07" cy="69.06" r="0.61"/><circle cx="38.12" cy="67.1" r="0.42"/><circle cx="41.9" cy="40.85" r="0.69"/><circle cx="73.68" cy="26.77" r="0.61"/><circle cx="23.38" cy="69.33" r="0.66"/><circle cx="53.58" cy="2.77" r="0.42"/><circle cx="13.45" cy="39.6" r="0.31"/><circle cx="4.93" cy="7.81" r="0.65"/><circle cx="47.29" cy="68.02" r="0.68"/><circle cx="44.69" cy="66.46" r="0.47"/><circle cx="47.87" cy="13.12" r="0.48"/><circle cx="7.57" cy="36.26" r="0.69"/><circle cx="77.97" cy="58.87" r="0.32"/><circle cx="77.76" cy="41.69" r="0.57"/><circle cx="32" cy="60.84" r="0.43"/><circle cx="8.63" cy="36.04" r="0.37"/><circle cx="17.63" cy="15.51" r="0.58"/><circle cx="53.54" cy="17.36" r="0.57"/><circle cx="2.21" cy="74.15" r="0.39"/><circle cx="40.21" cy="29.06" r="0.64"/><circle cx="34.56" cy="13.16" r="0.64"/><circle cx="45.76" cy="20.89" r="0.59"/><circle cx="70.41" cy="58.39" r="0.62"/><circle cx="27.75" cy="18.46" r="0.32"/><circle cx="70.46" cy="18.27" r="0.45"/><circle cx="63.14" cy="8.8" r="0.67"/><circle cx="44.12" cy="13.37" r="0.62"/><circle cx="52.63" cy="4.98" r="0.49"/><circle cx="55.82" cy="21.39" r="0.43"/><circle cx="67.32" cy="11.07" r="0.4"/></g>
<path d="M19.22,18.19 L21.35,16.69 L23.15,15.05 L25.96,14.28 L27.96,13.06 L30.07,13.14 L31.88,12.93 L33.93,12.36 L36.93,11.57 L40.16,11.73 L43.02,12.65 L46.02,13.48 L47.98,15.68 L49.41,16.83 L50.2,18.55 L50.9,20.06 L51.86,22.64 L52.97,24.61 L54.54,26.73 L55.38,28.17 L56,29.08 L55.71,29.97 L55.32,31.98 L54.36,33.21 L53.08,35.25 L51.37,36.8 L50.02,39.33 L48.15,40.11 L45.34,41.81 L43.75,42.31 L41.81,42.8 L40.55,43.26 L40.6,45.16 L39.76,45.63 L39.51,44.68 L38.37,43.57 L37.67,42.96 L35.86,42.08 L33.71,41.75 L31.5,41.22 L29.97,41.15 L27.81,40.7 L26.16,39.52 L24.26,39.13 L22.46,38.14 L21.13,37.69 L19.12,35.57 L18.38,34.44 L17.43,32.28 L16.86,30.19 L15.23,28.29 L15.05,26.45 L14.93,24.5 L16.36,22.25 L16.61,20.01 L16.91,19.56 L18.75,18.71Z" fill="#050505"/>
<path d="M19.22,18.19 L21.35,16.69 L23.15,15.05 L25.96,14.28 L27.96,13.06 L30.07,13.14 L31.88,12.93 L33.93,12.36 L36.93,11.57 L40.16,11.73 L43.02,12.65 L46.02,13.48 L47.98,15.68 L49.41,16.83 L50.2,18.55 L50.9,20.06 L51.86,22.64 L52.97,24.61 L54.54,26.73 L55.38,28.17 L56,29.08 L55.71,29.97 L55.32,31.98 L54.36,33.21 L53.08,35.25 L51.37,36.8 L50.02,39.33 L48.15,40.11 L45.34,41.81 L43.75,42.31 L41.81,42.8 L40.55,43.26 L40.6,45.16 L39.76,45.63 L39.51,44.68 L38.37,43.57 L37.67,42.96 L35.86,42.08 L33.71,41.75 L31.5,41.22 L29.97,41.15 L27.81,40.7 L26.16,39.52 L24.26,39.13 L22.46,38.14 L21.13,37.69 L19.12,35.57 L18.38,34.44 L17.43,32.28 L16.86,30.19 L15.23,28.29 L15.05,26.45 L14.93,24.5 L16.36,22.25 L16.61,20.01 L16.91,19.56 L18.75,18.71Z" fill="none" stroke="#d81c1c" stroke-width="0.72" stroke-linejoin="round"/>
<circle cx="40.9" cy="39.5" r="1.8" fill="#2af02a"/>
<circle cx="30.8" cy="36" r="1" fill="#2af02a"/>
<circle cx="29.8" cy="26.3" r="1.1" fill="#2af02a"/>
<circle cx="48" cy="28.4" r="1.1" fill="#2af02a"/>
<circle cx="21.9" cy="31.4" r="0.8" fill="#2af02a"/>
<circle cx="45.8" cy="22.3" r="0.7" fill="#2af02a"/>
<circle cx="36" cy="18" r="0.7" fill="#2af02a"/>
<g stroke="#d0d0a8" stroke-width="0.8" opacity="0.85"><line x1="3" y1="71.5" x2="47" y2="71.5"/><line x1="4" y1="75" x2="32" y2="75" stroke-dasharray="1 0.6" stroke-width="0.9"/></g>
<g font-size="2.6" fill="#d0d0a8" font-family="'Liberation Sans', Arial, sans-serif"><text x="3" y="69">0</text><text x="21" y="69">µm</text><text x="41" y="69">300</text></g>
</g>
<text x="439.6" y="30" font-size="22.5" text-anchor="start" fill="#000" font-family="'Liberation Serif', 'Times New Roman', serif" font-weight="bold">b</text>
<text x="517.3" y="10.2" font-size="13" text-anchor="start" fill="#000" textLength="152.5" lengthAdjust="spacingAndGlyphs" >22Rv1 3D Spheroid Assay</text>
<line x1="502.2" y1="17.8" x2="686.2" y2="17.8" stroke="#333" stroke-width="1" />
<rect x="465.5" y="24.4" width="244" height="13.2" fill="#fff" stroke="#2a2a2a" stroke-width="1.2" />
<line x1="546" y1="24.4" x2="546" y2="37.6" stroke="#2a2a2a" stroke-width="1.2" />
<line x1="627.5" y1="24.4" x2="627.5" y2="37.6" stroke="#2a2a2a" stroke-width="1.2" />
<text x="505.8" y="35.2" font-size="11.2" text-anchor="middle" fill="#000" >0h</text>
<text x="586.8" y="35.2" font-size="11.2" text-anchor="middle" fill="#000" >24h</text>
<text x="668.5" y="35.2" font-size="11.2" text-anchor="middle" fill="#000" >48h</text>
<rect x="450.6" y="40.6" width="12.6" height="323.8" fill="#fff" stroke="#2a2a2a" stroke-width="1.1" />
<line x1="450.6" y1="121.4" x2="463.2" y2="121.4" stroke="#2a2a2a" stroke-width="1.1" />
<line x1="450.6" y1="203.7" x2="463.2" y2="203.7" stroke="#2a2a2a" stroke-width="1.1" />
<line x1="450.6" y1="284.5" x2="463.2" y2="284.5" stroke="#2a2a2a" stroke-width="1.1" />
<text transform="translate(460.7,80.45) rotate(-90)" font-size="10" text-anchor="middle" fill="#000" textLength="27.6" lengthAdjust="spacingAndGlyphs" >DMSO</text>
<text transform="translate(460.7,161.4) rotate(-90)" font-size="10" text-anchor="middle" fill="#000" textLength="14.6" lengthAdjust="spacingAndGlyphs" >IKE</text>
<text transform="translate(460.7,241.7) rotate(-90)" font-size="10" text-anchor="middle" fill="#000" textLength="72.5" lengthAdjust="spacingAndGlyphs" >IKE+DHAA 2mM</text>
<text transform="translate(460.7,324.4) rotate(-90)" font-size="10" text-anchor="middle" fill="#000" textLength="80" lengthAdjust="spacingAndGlyphs" >IKE+DHAA + Fer-1</text>
<line x1="717.4" y1="80.5" x2="717.4" y2="342.7" stroke="#555" stroke-width="1.1" />
<text transform="translate(732.5,211.6) rotate(-90)" font-size="16.4" text-anchor="middle" fill="#14d214" textLength="91" lengthAdjust="spacingAndGlyphs" >Sytox Green</text>
<g transform="translate(466.7,40.8)" clip-path="url(#c18)">
<rect x="0" y="0" width="78.5" height="78.4" fill="#7b7b7b" filter="url(#mtex)"/>
<ellipse cx="14" cy="60" rx="5" ry="20" fill="#000" opacity="0.18" filter="url(#blur2)" transform="rotate(0 14 60)"/>
<circle cx="31" cy="12.5" r="0.9" fill="#111"/>
<circle cx="47" cy="19.5" r="1.9" fill="#222"/>
<circle cx="70.3" cy="12" r="1.4" fill="#111"/>
<circle cx="51.5" cy="42.8" r="1.2" fill="#111"/>
<circle cx="59" cy="37" r="0.6" fill="#111"/>
<circle cx="62" cy="14" r="0.6" fill="#111"/>
<path d="M11.44,35.67 L11.33,34.07 L10.81,32.56 L10.3,31.04 L8.93,30.21 L7.35,30.43 L5.81,29.97 L4.23,30.18 L2.65,29.94 L1.18,29.3 M16.05,18.01 L17.62,17.71 L18.7,16.53 L20.29,16.33 L21.79,15.77 L23.18,14.97 M65.54,31.6 L64.12,30.87 L63.32,29.48 L61.87,28.8 L60.65,27.77 L59.05,27.72 L58.01,28.93 M31.05,60.64 L29.48,60.94 L28.66,62.32 L27.48,63.4 L25.89,63.23 L24.61,62.26 M72.4,30.39 L71.5,29.07 L71.17,27.5 L71.63,25.97 L72.1,24.44 M22.75,46.29 L21.2,45.89 L20.41,44.5 L21,43.01 L21.31,41.44 L20.42,40.11 L18.88,39.69" fill="none" stroke="#1a1a1a" stroke-width="0.55" opacity="0.75"/>
<g fill="#222" opacity="0.7"><circle cx="23.54" cy="34.06" r="0.4"/><circle cx="64.68" cy="55.42" r="0.47"/><circle cx="69.7" cy="62.81" r="0.66"/><circle cx="19.96" cy="4.56" r="0.53"/><circle cx="25.65" cy="4.28" r="0.41"/><circle cx="54.63" cy="56.28" r="0.61"/><circle cx="69.58" cy="69.46" r="0.51"/><circle cx="16.99" cy="63.06" r="0.59"/><circle cx="28.04" cy="35.73" r="0.58"/><circle cx="37.33" cy="64.45" r="0.35"/><circle cx="46.76" cy="3.45" r="0.59"/><circle cx="8.17" cy="53.17" r="0.36"/><circle cx="77.06" cy="50.45" r="0.67"/><circle cx="3.05" cy="34.91" r="0.32"/><circle cx="37.2" cy="59.2" r="0.7"/><circle cx="73.32" cy="12.35" r="0.32"/><circle cx="16.62" cy="7.07" r="0.4"/><circle cx="53.97" cy="57.49" r="0.31"/><circle cx="33.47" cy="35.32" r="0.58"/><circle cx="41.1" cy="47.55" r="0.64"/><circle cx="32.79" cy="64.79" r="0.63"/><circle cx="6.08" cy="78.39" r="0.41"/><circle cx="77.64" cy="66.54" r="0.64"/><circle cx="7.45" cy="17.85" r="0.32"/><circle cx="74.92" cy="0.22" r="0.62"/><circle cx="2.96" cy="2.05" r="0.63"/><circle cx="23.12" cy="31.57" r="0.56"/><circle cx="17.24" cy="50.5" r="0.59"/><circle cx="1.81" cy="6.81" r="0.53"/><circle cx="25.44" cy="69.85" r="0.31"/><circle cx="60.47" cy="70.91" r="0.33"/><circle cx="54.4" cy="66.83" r="0.64"/><circle cx="43.48" cy="12.46" r="0.58"/><circle cx="53.57" cy="1.07" r="0.43"/><circle cx="31.11" cy="29.84" r="0.59"/><circle cx="15.34" cy="71.3" r="0.54"/><circle cx="45.26" cy="72.46" r="0.33"/><circle cx="35.91" cy="58.5" r="0.47"/><circle cx="67.18" cy="39.55" r="0.56"/><circle cx="9.87" cy="8.72" r="0.55"/><circle cx="3.7" cy="63.01" r="0.47"/><circle cx="27.59" cy="75.84" r="0.33"/><circle cx="71.26" cy="32.63" r="0.53"/><circle cx="37.73" cy="54.02" r="0.42"/><circle cx="52.82" cy="43.51" r="0.63"/><circle cx="11.54" cy="75.6" r="0.52"/><circle cx="11.52" cy="73.59" r="0.44"/><circle cx="44.41" cy="56.09" r="0.59"/><circle cx="50.69" cy="37.98" r="0.43"/><circle cx="52.86" cy="69.53" r="0.49"/></g>
<path d="M18.77,25.58 L19.93,25.65 L21.38,25.39 L23.38,24.49 L25.23,24.33 L27.95,24.1 L29.58,23.78 L31.73,24.53 L33.91,24.87 L35.5,25.88 L37.52,27.19 L38.89,28.05 L41.15,30.07 L42.27,31.94 L43.37,33.79 L44.76,36.1 L45.63,37.85 L47.12,39.95 L47.6,41.86 L47.71,44.14 L48.38,45.86 L48.05,48.04 L47.77,49.96 L47.5,51.27 L46.59,53.54 L46.13,54.75 L44.42,56.73 L42.88,58.33 L41.25,59.22 L38.83,59.69 L36.45,60.69 L34.2,59.93 L31.8,59 L30.06,58.12 L27.85,56.96 L25.32,55.87 L23.39,54.22 L21.65,52.59 L20.81,50.68 L19.73,49.08 L18.36,47.05 L17.7,44.87 L17.47,41.87 L17.22,39.34 L17.23,36.07 L17.53,34.02 L18.66,31.9 L19.21,30.58 L19.53,28.79 L18.86,27.35 L18.22,26.6Z" fill="#151515"/>
<g clip-path="url(#c19)"><rect x="0" y="0" width="78.5" height="78.4" fill="#000" opacity="1" filter="url(#grainL)"/></g>
<path d="M31.42,52.86 L31.26,53.76 L30.95,54.81 L30.56,55.51 L30.02,55.6 L29.4,55.33 L28.86,55.01 L28.47,54.78 L28.18,54.49 L27.95,54.05 L27.78,53.35 L27.68,52.49 L27.71,51.7 L27.88,50.94 L28.18,50.24 L28.65,49.92 L29.4,50.23 L30.32,50.93 L31.01,51.58 L31.34,51.98 L31.45,52.34Z" fill="#2ee82e" filter="url(#blur05)"/>
<path d="M39.26,53.86 L39.29,54.69 L39.08,55.62 L38.65,56.29 L37.9,56.53 L36.92,56.52 L36.04,56.45 L35.29,56.43 L34.64,56.36 L34.19,56.08 L34.02,55.48 L34.07,54.68 L34.27,53.91 L34.64,53.2 L35.16,52.51 L35.74,52.06 L36.39,51.94 L37.09,52.04 L37.73,52.29 L38.36,52.68 L38.92,53.22Z" fill="#2ee82e" filter="url(#blur05)"/>
<path d="M32.76,25.43 L32.63,25.87 L32.4,26.43 L32.14,26.79 L31.89,26.81 L31.62,26.64 L31.35,26.48 L31.08,26.43 L30.81,26.4 L30.63,26.28 L30.57,25.96 L30.6,25.55 L30.71,25.2 L30.93,24.94 L31.23,24.73 L31.54,24.64 L31.86,24.72 L32.2,24.91 L32.46,25.1 L32.64,25.18 L32.75,25.25Z" fill="#2ee82e" filter="url(#blur05)"/>
<path d="M48.59,41.07 L48.66,41.29 L48.69,41.49 L48.61,41.68 L48.33,41.89 L47.93,42.08 L47.63,42.14 L47.49,42 L47.45,41.72 L47.41,41.44 L47.37,41.15 L47.34,40.85 L47.35,40.61 L47.44,40.46 L47.58,40.37 L47.74,40.31 L47.92,40.23 L48.13,40.17 L48.3,40.22 L48.43,40.44 L48.53,40.77Z" fill="#2ee82e" filter="url(#blur05)"/>
<path d="M37.54,28.14 L37.54,28.32 L37.53,28.48 L37.43,28.59 L37.21,28.62 L36.91,28.6 L36.63,28.57 L36.37,28.57 L36.12,28.55 L35.98,28.48 L36,28.3 L36.12,28.06 L36.26,27.82 L36.41,27.57 L36.58,27.33 L36.77,27.18 L37.02,27.17 L37.29,27.26 L37.49,27.41 L37.56,27.62 L37.56,27.9Z" fill="#2ee82e" filter="url(#blur05)"/>
<path d="M18.77,25.58 L19.93,25.65 L21.38,25.39 L23.38,24.49 L25.23,24.33 L27.95,24.1 L29.58,23.78 L31.73,24.53 L33.91,24.87 L35.5,25.88 L37.52,27.19 L38.89,28.05 L41.15,30.07 L42.27,31.94 L43.37,33.79 L44.76,36.1 L45.63,37.85 L47.12,39.95 L47.6,41.86 L47.71,44.14 L48.38,45.86 L48.05,48.04 L47.77,49.96 L47.5,51.27 L46.59,53.54 L46.13,54.75 L44.42,56.73 L42.88,58.33 L41.25,59.22 L38.83,59.69 L36.45,60.69 L34.2,59.93 L31.8,59 L30.06,58.12 L27.85,56.96 L25.32,55.87 L23.39,54.22 L21.65,52.59 L20.81,50.68 L19.73,49.08 L18.36,47.05 L17.7,44.87 L17.47,41.87 L17.22,39.34 L17.23,36.07 L17.53,34.02 L18.66,31.9 L19.21,30.58 L19.53,28.79 L18.86,27.35 L18.22,26.6Z" fill="none" stroke="#d81c1c" stroke-width="0.75" stroke-linejoin="round"/>
<circle cx="10.8" cy="54" r="1.2" fill="#2a5a2a"/>
<g stroke="#d8d098" stroke-width="0.7" fill="none"><path d="M3.5,67.4 V70.4 H45 V67.4"/></g>
<g font-size="3.2" fill="#d8d098" font-family="'Liberation Sans', Arial, sans-serif"><text x="3" y="66.4">0</text><text x="22" y="66.4">µm</text><text x="42" y="66.4">300</text></g>
</g>
<g transform="translate(548.1,40.8)" clip-path="url(#c20)">
<rect x="0" y="0" width="78.5" height="78.4" fill="#7b7b7b" filter="url(#mtex)"/>
<ellipse cx="15" cy="55" rx="5" ry="22" fill="#000" opacity="0.18" filter="url(#blur2)" transform="rotate(0 15 55)"/>
<circle cx="38.5" cy="6.5" r="0.8" fill="#111"/>
<circle cx="42" cy="9" r="0.6" fill="#111"/>
<circle cx="70" cy="35" r="1.5" fill="#555"/>
<circle cx="72" cy="40" r="1.5" fill="#555"/>
<path d="M45.62,15.27 L47.16,14.83 L48.76,14.85 L50.16,14.08 L51.02,12.73 L51.33,11.16 L52.14,9.79 M16.67,76.13 L18.25,75.87 L19.79,75.44 L21.36,75.13 L22.53,74.03 L24.08,73.65 M18.75,62.03 L17.44,62.95 L16.53,64.27 L16.69,65.86 L15.94,67.28 M53.39,52.12 L54.95,51.75 L56.15,50.69 L56.29,49.1 L57.1,47.72 L57.69,46.23 L59.08,45.44 L59.91,44.07 M7.43,62.38 L7.63,63.96 L7.65,65.56 L8.59,66.85 L10.18,67.01 L11.61,66.28 L12.1,64.76 M11.83,53.69 L12.7,52.35 L13.73,51.13 L13.89,49.53 L14.94,48.33 L16.02,47.14 L17.59,46.87 M14.22,41.6 L14.2,40 L14.4,38.41 L14.7,36.84 L15.54,35.47 M34.72,64.07 L34.76,62.47 L35.64,61.13 L37.07,60.42 L37.78,58.99 L37.6,57.4 L38.23,55.93 L39.42,54.86 L41.02,54.82 M35.05,69.74 L35.05,71.34 L35.52,72.87 L36.93,73.64 L38.26,74.52 L39.22,75.8 M27.5,4.51 L28.35,5.87 L27.99,7.42 L28.34,8.98 L29.43,10.15 L31.02,10.34 L31.9,11.68 M70.73,25.02 L70.91,26.61 L71.93,27.84 L73.53,27.84 L75.11,27.55 L76.71,27.58 L78.24,28.04 L79.62,27.25 L80.72,26.08 L82.25,25.62 M36.99,15.35 L35.46,14.9 L34.69,13.49 L33.46,12.48 L32.61,11.12 L32.85,9.54 L32.81,7.94 M4.27,17.28 L5.48,18.33 L7.07,18.45 L8.39,17.54 L8.56,15.95 L9.66,14.78 M15.89,52.63 L16.98,51.46 L18.17,50.39 L18.44,48.81 L18.84,47.27 L18.72,45.67 L19.11,44.12 L20.09,42.86 L20.41,41.29" fill="none" stroke="#1a1a1a" stroke-width="0.55" opacity="0.75"/>
<g fill="#222" opacity="0.7"><circle cx="34.16" cy="35.66" r="0.42"/><circle cx="3.18" cy="3.89" r="0.7"/><circle cx="58.08" cy="34.4" r="0.57"/><circle cx="21.12" cy="55.69" r="0.68"/><circle cx="60.7" cy="36.47" r="0.69"/><circle cx="72.38" cy="4.57" r="0.46"/><circle cx="35.49" cy="21.49" r="0.55"/><circle cx="11.26" cy="58.58" r="0.64"/><circle cx="4.83" cy="54.26" r="0.41"/><circle cx="50.1" cy="54.19" r="0.69"/><circle cx="62.65" cy="26.57" r="0.59"/><circle cx="11.52" cy="55.95" r="0.47"/><circle cx="20.82" cy="18.7" r="0.39"/><circle cx="62.51" cy="7.53" r="0.39"/><circle cx="15.09" cy="12.39" r="0.59"/><circle cx="46.11" cy="52.12" r="0.66"/><circle cx="35.23" cy="2.96" r="0.38"/><circle cx="40.55" cy="56.08" r="0.67"/><circle cx="40.13" cy="17.78" r="0.54"/><circle cx="73.38" cy="26.11" r="0.67"/><circle cx="70.95" cy="45.23" r="0.49"/><circle cx="10.12" cy="8.66" r="0.32"/><circle cx="47.99" cy="55.88" r="0.7"/><circle cx="47.3" cy="77.91" r="0.46"/><circle cx="10.51" cy="4.67" r="0.42"/><circle cx="41.66" cy="77.32" r="0.42"/><circle cx="18.46" cy="56.7" r="0.46"/><circle cx="43.83" cy="11.87" r="0.64"/><circle cx="72.17" cy="59.2" r="0.67"/><circle cx="26.1" cy="2.54" r="0.42"/><circle cx="70.48" cy="36.8" r="0.38"/><circle cx="11.87" cy="12.88" r="0.48"/><circle cx="72.67" cy="69.3" r="0.6"/><circle cx="59.36" cy="14.96" r="0.61"/><circle cx="17.59" cy="41.21" r="0.31"/><circle cx="70.05" cy="10.07" r="0.54"/><circle cx="51.98" cy="50.49" r="0.57"/><circle cx="28.99" cy="62.11" r="0.68"/><circle cx="48.44" cy="76.81" r="0.64"/><circle cx="4.36" cy="52.66" r="0.34"/><circle cx="51.91" cy="29.11" r="0.64"/><circle cx="3.51" cy="74.21" r="0.32"/><circle cx="4.45" cy="0.2" r="0.35"/><circle cx="77.41" cy="65.48" r="0.67"/><circle cx="14.63" cy="53.91" r="0.62"/><circle cx="57.06" cy="21.14" r="0.69"/><circle cx="57.17" cy="53.65" r="0.41"/><circle cx="31.19" cy="59.42" r="0.51"/><circle cx="38.3" cy="72.11" r="0.47"/><circle cx="67.43" cy="3.67" r="0.51"/></g>
<path d="M25.27,22.41 L26.99,21.53 L29.12,20.99 L30.91,20.76 L33.03,19.98 L35.23,20.1 L36.98,21.01 L38.98,21.31 L41.6,21.89 L43.55,23.06 L45.13,23.57 L47.74,25.53 L49.68,26.97 L51,29.01 L52.55,30.93 L53.83,32.54 L54.59,35.22 L54.67,37.33 L55.67,40.02 L55.77,42.53 L55.78,45.81 L55.88,48.14 L55.24,50.03 L54.11,52.44 L53.76,53.9 L52.08,55.76 L50.84,56.8 L49.13,58.14 L47.75,58.86 L45.64,59.49 L43.1,60.43 L40.86,60.39 L38.95,60.32 L37.61,60.03 L35.67,60.15 L33.58,59.41 L32.06,58.42 L30.85,56.93 L29.81,55.84 L28.06,54.26 L26.6,52.48 L25.67,51.37 L23.83,49.43 L23.37,46.53 L22.23,44.46 L22.41,42.3 L21.72,39.26 L22.29,36.26 L21.78,33.83 L22.47,31.98 L22.96,29.29 L22.84,27.5 L23.62,25.88 L24.43,24.33Z" fill="#151515"/>
<g clip-path="url(#c21)"><rect x="0" y="0" width="78.5" height="78.4" fill="#000" opacity="1" filter="url(#grainL)"/></g>
<path d="M28.78,44.71 L28.81,45.44 L28.74,46.14 L28.35,46.7 L27.36,47.15 L26.04,47.45 L25.02,47.42 L24.59,46.83 L24.46,45.9 L24.37,45.11 L24.16,44.69 L23.99,44.41 L24.07,44.05 L24.54,43.42 L25.25,42.72 L26.02,42.24 L26.85,42.08 L27.73,42.15 L28.39,42.45 L28.7,43.06 L28.79,43.9Z" fill="#2ee82e" filter="url(#blur05)"/>
<path d="M36.54,39.16 L36.59,39.5 L36.58,39.79 L36.44,40.02 L36.1,40.22 L35.64,40.36 L35.16,40.36 L34.67,40.14 L34.17,39.78 L33.79,39.43 L33.6,39.12 L33.53,38.81 L33.61,38.53 L33.89,38.23 L34.33,37.96 L34.78,37.77 L35.24,37.66 L35.72,37.64 L36.1,37.78 L36.34,38.16 L36.47,38.69Z" fill="#2ee82e" filter="url(#blur05)"/>
<path d="M44.31,24.46 L44.29,24.93 L44.19,25.47 L44.02,25.86 L43.76,26.05 L43.44,26.09 L43.15,26 L42.92,25.73 L42.72,25.33 L42.58,24.95 L42.5,24.64 L42.48,24.35 L42.52,24.13 L42.63,23.99 L42.8,23.91 L43.01,23.84 L43.28,23.71 L43.6,23.58 L43.86,23.58 L44.07,23.77 L44.23,24.08Z" fill="#2ee82e" filter="url(#blur05)"/>
<path d="M57.71,47.74 L57.6,48.09 L57.33,48.49 L57.03,48.81 L56.72,49.02 L56.38,49.14 L56.11,49.13 L55.93,48.9 L55.8,48.54 L55.74,48.2 L55.75,47.96 L55.82,47.74 L55.9,47.54 L55.94,47.32 L56,47.11 L56.13,46.98 L56.36,46.96 L56.66,47.02 L56.96,47.13 L57.27,47.28 L57.57,47.48Z" fill="#2ee82e" filter="url(#blur05)"/>
<path d="M50.73,54.26 L50.66,54.6 L50.45,54.88 L50.18,55.08 L49.81,55.18 L49.38,55.19 L49.02,55.11 L48.81,54.91 L48.68,54.61 L48.55,54.33 L48.35,54.1 L48.16,53.89 L48.11,53.7 L48.3,53.52 L48.64,53.36 L49,53.22 L49.36,53.03 L49.75,52.86 L50.08,52.88 L50.37,53.23 L50.62,53.77Z" fill="#2ee82e" filter="url(#blur05)"/>
<path d="M39.18,53.87 L39.05,54.35 L38.77,54.64 L38.42,54.87 L38.1,55.12 L37.73,55.29 L37.16,55.3 L36.19,55.06 L35.03,54.65 L34.19,54.2 L33.88,53.74 L33.89,53.24 L34.1,52.79 L34.49,52.4 L35.08,52.06 L35.78,51.76 L36.67,51.42 L37.67,51.13 L38.45,51.2 L38.89,51.91 L39.12,52.98Z" fill="#2ab02a" filter="url(#blur05)"/>
<path d="M25.27,22.41 L26.99,21.53 L29.12,20.99 L30.91,20.76 L33.03,19.98 L35.23,20.1 L36.98,21.01 L38.98,21.31 L41.6,21.89 L43.55,23.06 L45.13,23.57 L47.74,25.53 L49.68,26.97 L51,29.01 L52.55,30.93 L53.83,32.54 L54.59,35.22 L54.67,37.33 L55.67,40.02 L55.77,42.53 L55.78,45.81 L55.88,48.14 L55.24,50.03 L54.11,52.44 L53.76,53.9 L52.08,55.76 L50.84,56.8 L49.13,58.14 L47.75,58.86 L45.64,59.49 L43.1,60.43 L40.86,60.39 L38.95,60.32 L37.61,60.03 L35.67,60.15 L33.58,59.41 L32.06,58.42 L30.85,56.93 L29.81,55.84 L28.06,54.26 L26.6,52.48 L25.67,51.37 L23.83,49.43 L23.37,46.53 L22.23,44.46 L22.41,42.3 L21.72,39.26 L22.29,36.26 L21.78,33.83 L22.47,31.98 L22.96,29.29 L22.84,27.5 L23.62,25.88 L24.43,24.33Z" fill="none" stroke="#d81c1c" stroke-width="0.75" stroke-linejoin="round"/>
<circle cx="69.2" cy="62.3" r="1.2" fill="#2af02a"/>
<g stroke="#d8d098" stroke-width="0.7" fill="none"><path d="M3.5,67.4 V70.4 H45 V67.4"/></g>
<g font-size="3.2" fill="#d8d098" font-family="'Liberation Sans', Arial, sans-serif"><text x="3" y="66.4">0</text><text x="22" y="66.4">µm</text><text x="42" y="66.4">300</text></g>
</g>
<g transform="translate(630.5,40.8)" clip-path="url(#c22)">
<rect x="0" y="0" width="78.5" height="78.4" fill="#7b7b7b" filter="url(#mtex)"/>
<ellipse cx="10" cy="50" rx="5" ry="20" fill="#000" opacity="0.12" filter="url(#blur2)" transform="rotate(0 10 50)"/>
<circle cx="37" cy="3" r="1" fill="#111"/>
<circle cx="42" cy="8" r="0.9" fill="#111"/>
<circle cx="74" cy="34" r="2" fill="#555"/>
<circle cx="73" cy="42" r="1.5" fill="#555"/>
<circle cx="8" cy="8" r="1.5" fill="#555"/>
<path d="M11.63,48.29 L11.97,49.85 L13.11,50.98 L14.57,51.62 L16.11,52.07 L17.56,52.74 L18.64,53.92 L19.62,55.18 L19.97,56.75 L19.23,58.17 M14.55,62 L13.74,63.38 L12.32,64.12 L10.73,64.34 L9.14,64.25 L7.54,64.32 L5.94,64.39 L4.57,65.22 L3.16,65.98 M11.41,48.69 L9.81,48.63 L8.26,48.25 L7.18,47.07 L5.87,46.15 L4.27,46.06 L2.67,46.17 L1.08,45.99 L-0.11,44.92 L-1.71,44.81 M63.17,28.49 L64.41,29.51 L65.76,30.37 L67.01,31.36 L68.37,32.22 L69.4,33.44 M69.77,64.68 L69.08,63.24 L68.48,61.76 L68.94,60.22 L70.41,59.6 L71.9,59.01 L72.88,57.75 L73.21,56.18 M16.09,46.02 L14.57,45.5 L13.97,44.02 L13.44,42.51 L12.64,41.13 L13.06,39.58 M74.11,13.49 L74.77,14.94 L75.72,16.23 L77.13,16.99 L78.21,18.17 L78.14,19.76 L78.86,21.19 L79.71,22.55 L80.14,24.09 M17.33,32.52 L18.26,33.83 L19.85,33.95 L21.33,33.34 L22.45,32.19 L22.58,30.6 L23.46,29.26 L22.97,27.74 M21.47,20.92 L20.36,22.07 L20.04,23.64 L20.3,25.22 L19.87,26.76 L20.29,28.3 L20.8,29.82 L20.44,31.38 L19.27,32.47 L18.17,33.64 M66.15,50.36 L65.19,51.64 L63.62,51.98 L62.05,51.7 L60.63,50.96" fill="none" stroke="#1a1a1a" stroke-width="0.55" opacity="0.75"/>
<g fill="#222" opacity="0.7"><circle cx="60" cy="72.56" r="0.57"/><circle cx="10.94" cy="19.97" r="0.46"/><circle cx="14.51" cy="33.47" r="0.68"/><circle cx="18.55" cy="12.45" r="0.33"/><circle cx="9.61" cy="8.82" r="0.36"/><circle cx="54.15" cy="12.81" r="0.37"/><circle cx="61.87" cy="54.5" r="0.57"/><circle cx="72.22" cy="10.66" r="0.58"/><circle cx="31.63" cy="58.08" r="0.33"/><circle cx="59.76" cy="42.6" r="0.49"/><circle cx="61.87" cy="53.43" r="0.62"/><circle cx="56.09" cy="20.45" r="0.69"/><circle cx="70.67" cy="11.83" r="0.7"/><circle cx="77.4" cy="15.39" r="0.34"/><circle cx="43.82" cy="15.88" r="0.48"/><circle cx="20.19" cy="37.7" r="0.53"/><circle cx="12.73" cy="19.91" r="0.34"/><circle cx="54.47" cy="58.81" r="0.37"/><circle cx="20.39" cy="70.96" r="0.62"/><circle cx="54.61" cy="9.56" r="0.63"/><circle cx="51.62" cy="72.09" r="0.61"/><circle cx="55.11" cy="68" r="0.46"/><circle cx="50.11" cy="33.04" r="0.62"/><circle cx="58.92" cy="21.53" r="0.4"/><circle cx="35.05" cy="16.31" r="0.57"/><circle cx="30.87" cy="3.16" r="0.57"/><circle cx="27.27" cy="42.08" r="0.59"/><circle cx="46.79" cy="60.37" r="0.48"/><circle cx="16.63" cy="74.32" r="0.31"/><circle cx="8.87" cy="74.81" r="0.42"/><circle cx="57.04" cy="1.72" r="0.67"/><circle cx="75.81" cy="55.47" r="0.32"/><circle cx="15.47" cy="57.31" r="0.69"/><circle cx="74.57" cy="50.02" r="0.4"/><circle cx="14.34" cy="21.67" r="0.68"/><circle cx="54" cy="71.81" r="0.38"/><circle cx="8.76" cy="15.92" r="0.56"/><circle cx="8.95" cy="43.34" r="0.63"/><circle cx="65.71" cy="22.71" r="0.51"/><circle cx="15.13" cy="6.3" r="0.59"/><circle cx="42.72" cy="18.62" r="0.54"/><circle cx="21.33" cy="70.93" r="0.3"/><circle cx="16.12" cy="64.87" r="0.54"/><circle cx="31.54" cy="47.94" r="0.54"/><circle cx="54.84" cy="56.99" r="0.5"/><circle cx="40.18" cy="63.41" r="0.31"/><circle cx="70.38" cy="39.49" r="0.68"/><circle cx="18.66" cy="32.91" r="0.61"/><circle cx="72.3" cy="75.33" r="0.47"/><circle cx="58.14" cy="39.2" r="0.39"/></g>
<path d="M21.16,23.41 L22.91,21.35 L24.94,20.26 L27.89,18.8 L29.87,17.65 L32.33,17.32 L34.81,17.33 L37.62,17.11 L39.37,17.09 L42.26,17.47 L44.49,18.27 L46.08,18.77 L47.73,20.17 L49.61,20.67 L51.98,22.02 L53.54,22.62 L54.19,23.92 L54.9,25.72 L54.95,28.02 L55.91,30.4 L57.22,32.65 L57.94,35.21 L58.73,36.86 L59.49,38.76 L59.23,41.27 L58.8,43.64 L58.13,45.45 L57.43,48.44 L55.95,49.65 L54.39,52.07 L53.59,53.49 L51.85,54.81 L50.16,55.76 L47.71,56.4 L46.1,56.51 L44.37,56.85 L42.04,56.92 L39.99,56.73 L37.62,56.41 L36.2,54.97 L34.07,54.24 L31.8,52.69 L30.08,51.26 L27.83,49.71 L26.05,48.6 L24.78,46.84 L22.95,45.49 L22.05,42.9 L21.16,41.14 L20.06,38.33 L19.57,36.01 L19.39,32.69 L19.48,29.9 L19.61,26.55Z" fill="#151515"/>
<g clip-path="url(#c23)"><rect x="0" y="0" width="78.5" height="78.4" fill="#000" opacity="1" filter="url(#grainL)"/></g>
<path d="M32.25,41.58 L32.2,42.42 L32.03,43.38 L31.76,44.07 L31.42,44.32 L30.98,44.32 L30.44,44.19 L29.71,44 L28.88,43.69 L28.24,43.22 L27.86,42.5 L27.67,41.63 L27.74,40.84 L28.14,40.12 L28.78,39.47 L29.48,39.12 L30.23,39.23 L31.03,39.64 L31.65,40.1 L32.01,40.52 L32.19,40.99Z" fill="#2ee82e" filter="url(#blur05)"/>
<path d="M35.67,42.42 L35.78,42.97 L35.8,43.43 L35.61,43.83 L35.14,44.28 L34.46,44.68 L33.74,44.75 L32.94,44.3 L32.09,43.51 L31.5,42.74 L31.3,42.04 L31.36,41.35 L31.52,40.83 L31.72,40.57 L32.03,40.47 L32.49,40.41 L33.21,40.23 L34.09,40.09 L34.8,40.21 L35.23,40.8 L35.5,41.66Z" fill="#2ee82e" filter="url(#blur05)"/>
<path d="M33.08,28 L33.05,28.31 L32.96,28.64 L32.77,28.93 L32.4,29.21 L31.93,29.44 L31.52,29.55 L31.22,29.49 L30.98,29.3 L30.83,29.02 L30.78,28.58 L30.82,28.04 L30.93,27.57 L31.1,27.21 L31.34,26.92 L31.65,26.78 L32.07,26.85 L32.56,27.07 L32.92,27.31 L33.07,27.52 L33.11,27.75Z" fill="#2ee82e" filter="url(#blur05)"/>
<path d="M39.16,20.47 L39.06,20.75 L38.81,21.1 L38.54,21.41 L38.29,21.68 L38.01,21.9 L37.77,21.98 L37.54,21.82 L37.33,21.52 L37.19,21.22 L37.12,20.97 L37.12,20.74 L37.16,20.52 L37.26,20.33 L37.42,20.17 L37.62,20.07 L37.89,20.07 L38.21,20.12 L38.5,20.2 L38.79,20.25 L39.05,20.33Z" fill="#2ee82e" filter="url(#blur05)"/>
<path d="M54.25,47.92 L54.18,48.36 L53.98,48.86 L53.75,49.23 L53.5,49.41 L53.21,49.46 L52.95,49.4 L52.72,49.25 L52.52,49.01 L52.36,48.69 L52.26,48.26 L52.21,47.76 L52.25,47.36 L52.44,47.13 L52.73,46.99 L53,46.92 L53.21,46.92 L53.41,46.99 L53.61,47.13 L53.86,47.33 L54.12,47.6Z" fill="#2ee82e" filter="url(#blur05)"/>
<path d="M43.33,52.35 L43.29,52.7 L43.13,53.1 L42.87,53.4 L42.47,53.54 L41.98,53.59 L41.55,53.58 L41.22,53.52 L40.96,53.4 L40.78,53.21 L40.69,52.92 L40.68,52.55 L40.82,52.23 L41.17,51.97 L41.66,51.75 L42.08,51.62 L42.33,51.6 L42.52,51.67 L42.7,51.79 L42.95,51.93 L43.2,52.11Z" fill="#2ee82e" filter="url(#blur05)"/>
<path d="M27.48,46.55 L27.42,46.83 L27.28,47.13 L27.13,47.31 L27.01,47.32 L26.89,47.22 L26.74,47.09 L26.55,46.98 L26.32,46.84 L26.17,46.69 L26.1,46.53 L26.09,46.36 L26.14,46.18 L26.26,45.95 L26.43,45.71 L26.6,45.58 L26.75,45.62 L26.89,45.76 L27.03,45.94 L27.21,46.12 L27.39,46.33Z" fill="#2ee82e" filter="url(#blur05)"/>
<path d="M21.16,23.41 L22.91,21.35 L24.94,20.26 L27.89,18.8 L29.87,17.65 L32.33,17.32 L34.81,17.33 L37.62,17.11 L39.37,17.09 L42.26,17.47 L44.49,18.27 L46.08,18.77 L47.73,20.17 L49.61,20.67 L51.98,22.02 L53.54,22.62 L54.19,23.92 L54.9,25.72 L54.95,28.02 L55.91,30.4 L57.22,32.65 L57.94,35.21 L58.73,36.86 L59.49,38.76 L59.23,41.27 L58.8,43.64 L58.13,45.45 L57.43,48.44 L55.95,49.65 L54.39,52.07 L53.59,53.49 L51.85,54.81 L50.16,55.76 L47.71,56.4 L46.1,56.51 L44.37,56.85 L42.04,56.92 L39.99,56.73 L37.62,56.41 L36.2,54.97 L34.07,54.24 L31.8,52.69 L30.08,51.26 L27.83,49.71 L26.05,48.6 L24.78,46.84 L22.95,45.49 L22.05,42.9 L21.16,41.14 L20.06,38.33 L19.57,36.01 L19.39,32.69 L19.48,29.9 L19.61,26.55Z" fill="none" stroke="#d81c1c" stroke-width="0.75" stroke-linejoin="round"/>
<circle cx="69.4" cy="60.7" r="1.2" fill="#2af02a"/>
<g stroke="#d8d098" stroke-width="0.7" fill="none"><path d="M3.5,67.4 V70.4 H45 V67.4"/></g>
<g font-size="3.2" fill="#d8d098" font-family="'Liberation Sans', Arial, sans-serif"><text x="3" y="66.4">0</text><text x="22" y="66.4">µm</text><text x="42" y="66.4">300</text></g>
</g>
<g transform="translate(466.7,123)" clip-path="url(#c24)">
<rect x="0" y="0" width="78.5" height="78.4" fill="#7b7b7b" filter="url(#mtex)"/>
<ellipse cx="18" cy="68" rx="12" ry="8" fill="#000" opacity="0.15" filter="url(#blur2)" transform="rotate(0 18 68)"/>
<circle cx="35" cy="20" r="0.7" fill="#111"/>
<circle cx="7" cy="47" r="0.6" fill="#111"/>
<circle cx="55" cy="11" r="0.6" fill="#111"/>
<circle cx="68" cy="25" r="0.6" fill="#111"/>
<path d="M73.34,30.42 L73.79,28.89 L74.79,27.64 L76.06,26.67 L77.59,26.18 L79.15,25.82 M39.34,58.44 L39.5,60.03 L40.56,61.23 L41.32,62.64 L41.99,64.09 L42.86,65.43 L43.5,66.9 L43.69,68.49 L44.49,69.88 M28.47,39.77 L29.91,40.47 L31.4,41.06 L32.1,42.5 L31.47,43.97 L30.05,44.7 L29.21,46.07 L28.61,47.55 L28.78,49.14 M35.44,66.98 L34.02,67.72 L32.95,68.91 L32.63,70.47 L31.58,71.68 L31.09,73.2 L31.51,74.75 M46.84,58.23 L48.27,57.52 L49.69,56.78 L51.04,55.92 L52.55,55.39 L54.07,54.91 L55.6,54.43 L56.29,52.99 M74,33.48 L74.93,32.18 L74.72,30.6 L73.49,29.57 L72.31,28.49 L72.27,26.89 L71.38,25.56 M42.43,2.74 L43.84,3.48 L45.01,4.58 L46.61,4.68 L48.08,5.29 L48.58,6.81 M78.06,66.25 L76.46,66.07 L75.19,65.11 L73.63,65.48 L72.06,65.19 L70.72,64.32" fill="none" stroke="#1a1a1a" stroke-width="0.55" opacity="0.75"/>
<g fill="#222" opacity="0.7"><circle cx="52.52" cy="24.93" r="0.52"/><circle cx="6.51" cy="75.16" r="0.3"/><circle cx="8.14" cy="38.54" r="0.63"/><circle cx="14.76" cy="77.94" r="0.46"/><circle cx="67.41" cy="21.32" r="0.48"/><circle cx="76.92" cy="63.82" r="0.37"/><circle cx="18.35" cy="49.14" r="0.54"/><circle cx="38.2" cy="43.45" r="0.5"/><circle cx="74.85" cy="19.53" r="0.51"/><circle cx="35.71" cy="61.48" r="0.32"/><circle cx="10.5" cy="31.77" r="0.52"/><circle cx="33.75" cy="23.03" r="0.4"/><circle cx="19.34" cy="30.8" r="0.38"/><circle cx="61.29" cy="17.13" r="0.45"/><circle cx="72.38" cy="5.17" r="0.33"/><circle cx="32.41" cy="6.98" r="0.34"/><circle cx="53.36" cy="26.89" r="0.61"/><circle cx="30.86" cy="45.8" r="0.4"/><circle cx="53.66" cy="68.59" r="0.55"/><circle cx="53.45" cy="60.64" r="0.65"/><circle cx="43.97" cy="11.27" r="0.67"/><circle cx="77.09" cy="32.72" r="0.58"/><circle cx="12.88" cy="12.62" r="0.68"/><circle cx="25.32" cy="70.05" r="0.53"/><circle cx="68.66" cy="19.14" r="0.46"/><circle cx="58.56" cy="59.16" r="0.58"/><circle cx="19.81" cy="36.07" r="0.52"/><circle cx="28.99" cy="55.12" r="0.41"/><circle cx="20.25" cy="29.47" r="0.6"/><circle cx="77.88" cy="12.37" r="0.4"/><circle cx="30.49" cy="21.95" r="0.4"/><circle cx="42.57" cy="29.95" r="0.31"/><circle cx="26.02" cy="9.81" r="0.31"/><circle cx="8.19" cy="29.43" r="0.31"/><circle cx="3.31" cy="49.68" r="0.53"/><circle cx="56.76" cy="55.45" r="0.36"/><circle cx="16.75" cy="37.95" r="0.56"/><circle cx="51.36" cy="14.93" r="0.59"/><circle cx="11.19" cy="10.54" r="0.69"/><circle cx="34.6" cy="68.42" r="0.35"/><circle cx="3.97" cy="36.92" r="0.53"/><circle cx="65.33" cy="45.49" r="0.51"/><circle cx="50.55" cy="63.94" r="0.58"/><circle cx="40.16" cy="3.46" r="0.31"/><circle cx="2.78" cy="67.14" r="0.43"/><circle cx="7.93" cy="70.97" r="0.39"/><circle cx="32.88" cy="46.19" r="0.47"/><circle cx="39.31" cy="45.71" r="0.61"/><circle cx="54.29" cy="24.53" r="0.37"/><circle cx="55.82" cy="16.96" r="0.3"/></g>
<path d="M29.44,31.38 L31.85,30.42 L33.95,29.5 L37.06,28.68 L38.65,27.56 L40.54,27.24 L42.73,26.07 L44.54,25.63 L46.73,25.34 L48.71,24.97 L50.46,25.6 L52.03,26.35 L53.07,27.54 L53.46,28.93 L54.14,31.23 L54.62,33.79 L55.82,35 L56.19,37.14 L56.32,39.27 L56.2,41.49 L55.41,44.63 L55.24,46.55 L54.14,48.43 L53.33,50.21 L52.27,51.59 L51.45,52.94 L49.93,53.56 L47.74,55.01 L46.1,55.66 L44.18,56.4 L41.54,56.36 L39.78,57.48 L37.44,57.86 L35.96,59.09 L33.67,58.46 L32.26,58.52 L30.6,58.04 L29.21,57.29 L28.42,55.86 L27.37,54.64 L26.81,53.07 L26.9,50 L26.21,47.69 L26.97,44.56 L27.22,41.81 L27.15,39.14 L27.58,37.12 L28.33,36.04 L28.7,34.62 L28.82,33.09 L28.67,32.55Z" fill="#151515"/>
<g clip-path="url(#c25)"><rect x="0" y="0" width="78.5" height="78.4" fill="#000" opacity="1" filter="url(#grainL)"/></g>
<path d="M37.33,39.09 L37.43,39.82 L37.42,40.63 L37.06,41.23 L36.09,41.53 L34.77,41.63 L33.68,41.58 L33.04,41.37 L32.64,41 L32.34,40.55 L32.05,39.98 L31.87,39.32 L31.99,38.76 L32.6,38.37 L33.51,38.07 L34.4,37.85 L35.2,37.65 L35.98,37.52 L36.6,37.59 L36.99,37.94 L37.21,38.48Z" fill="#2ee82e" filter="url(#blur05)"/>
<path d="M33.29,35.39 L33.36,35.81 L33.31,36.24 L33.11,36.57 L32.72,36.8 L32.18,36.94 L31.6,36.91 L30.92,36.64 L30.21,36.2 L29.78,35.8 L29.83,35.52 L30.16,35.27 L30.49,34.97 L30.7,34.5 L30.91,33.97 L31.18,33.65 L31.55,33.67 L31.99,33.91 L32.39,34.21 L32.75,34.56 L33.08,34.97Z" fill="#2ee82e" filter="url(#blur05)"/>
<path d="M39.65,50.12 L39.44,50.75 L39.06,51.41 L38.65,51.95 L38.27,52.37 L37.86,52.69 L37.43,52.71 L36.9,52.28 L36.36,51.57 L36.03,50.91 L36.07,50.44 L36.32,50.02 L36.6,49.6 L36.81,49.07 L37.05,48.54 L37.4,48.2 L37.95,48.16 L38.62,48.31 L39.14,48.6 L39.46,49.01 L39.64,49.55Z" fill="#2ee82e" filter="url(#blur05)"/>
<path d="M37.81,54.3 L37.71,54.63 L37.55,54.95 L37.36,55.25 L37.18,55.6 L36.97,55.93 L36.72,56.04 L36.35,55.76 L35.93,55.25 L35.64,54.79 L35.54,54.49 L35.57,54.24 L35.68,53.99 L35.88,53.7 L36.16,53.41 L36.48,53.21 L36.87,53.15 L37.3,53.19 L37.62,53.33 L37.78,53.59 L37.83,53.95Z" fill="#2ee82e" filter="url(#blur05)"/>
<path d="M37.67,29.54 L37.55,29.71 L37.31,29.84 L37.07,29.97 L36.86,30.15 L36.65,30.31 L36.46,30.35 L36.29,30.18 L36.15,29.88 L36.04,29.62 L35.97,29.46 L35.94,29.34 L35.97,29.21 L36.09,29.04 L36.29,28.87 L36.5,28.76 L36.74,28.72 L37,28.74 L37.23,28.84 L37.44,29.03 L37.61,29.3Z" fill="#2ee82e" filter="url(#blur05)"/>
<path d="M29.44,31.38 L31.85,30.42 L33.95,29.5 L37.06,28.68 L38.65,27.56 L40.54,27.24 L42.73,26.07 L44.54,25.63 L46.73,25.34 L48.71,24.97 L50.46,25.6 L52.03,26.35 L53.07,27.54 L53.46,28.93 L54.14,31.23 L54.62,33.79 L55.82,35 L56.19,37.14 L56.32,39.27 L56.2,41.49 L55.41,44.63 L55.24,46.55 L54.14,48.43 L53.33,50.21 L52.27,51.59 L51.45,52.94 L49.93,53.56 L47.74,55.01 L46.1,55.66 L44.18,56.4 L41.54,56.36 L39.78,57.48 L37.44,57.86 L35.96,59.09 L33.67,58.46 L32.26,58.52 L30.6,58.04 L29.21,57.29 L28.42,55.86 L27.37,54.64 L26.81,53.07 L26.9,50 L26.21,47.69 L26.97,44.56 L27.22,41.81 L27.15,39.14 L27.58,37.12 L28.33,36.04 L28.7,34.62 L28.82,33.09 L28.67,32.55Z" fill="none" stroke="#d81c1c" stroke-width="0.75" stroke-linejoin="round"/>
<circle cx="58" cy="34.4" r="1.6" fill="#2af02a"/>
<g stroke="#d8d098" stroke-width="0.7" fill="none"><path d="M3.5,67.4 V70.4 H45 V67.4"/></g>
<g font-size="3.2" fill="#d8d098" font-family="'Liberation Sans', Arial, sans-serif"><text x="3" y="66.4">0</text><text x="22" y="66.4">µm</text><text x="42" y="66.4">300</text></g>
</g>
<g transform="translate(548.1,123)" clip-path="url(#c26)">
<rect x="0" y="0" width="78.5" height="78.4" fill="#7b7b7b" filter="url(#mtex)"/>
<circle cx="22" cy="13" r="0.7" fill="#111"/>
<circle cx="27" cy="29" r="0.6" fill="#111"/>
<circle cx="13" cy="40" r="0.6" fill="#111"/>
<path d="M64.93,16.68 L65.91,15.41 L66.69,14.01 L68.09,13.24 L69.63,12.82 L71.22,12.96 L72.79,13.26 L74.28,12.67 M36.35,64.41 L35.28,63.21 L34.75,61.7 L35.35,60.22 L35.54,58.63 L36.53,57.37 L37.04,55.86 L38.18,54.74 M18.74,44.59 L17.15,44.77 L16.06,45.93 L16.01,47.53 L16.08,49.13 L16.92,50.49 L18.28,51.32 L18.62,52.89 M73.84,1.37 L75.42,1.6 L76.87,2.29 L77.36,3.82 L78.36,5.07 L79.36,6.31 L79.41,7.91 L78.31,9.07 L77.12,10.15 L75.64,10.73 M60.34,48.49 L61.46,47.34 L63.06,47.41 L64.45,48.21 L65.9,48.89 M45.84,76.35 L44.9,77.64 L44.9,79.24 L43.76,80.37 L42.47,81.31 L41.12,82.17 M46.35,44.3 L47.92,44.6 L49.3,45.41 L50.9,45.44 L52.31,46.19 L53.22,47.51 L53.23,49.11 L53.14,50.71 L52.51,52.18 M28.91,35.47 L28.87,33.87 L29.09,32.29 L30.24,31.18 L31.08,29.82 L32.39,28.89 L33.83,28.19 L35.43,28.22 L37.03,28.2 L38.08,29.4 M31.33,16.65 L31.2,18.25 L31.28,19.85 L30.13,20.96 L29.74,22.51 L30.5,23.92 L31.32,25.29 M21.59,0.71 L22.6,-0.53 L24.08,-1.13 L24.86,-2.53 L24.39,-4.05 L23.54,-5.41 M27.52,16.1 L27.2,14.53 L26.27,13.23 L24.78,12.64 L23.19,12.45 L21.68,11.92 L20.13,12.3 L18.57,12.65 L16.98,12.8 M51.08,64.58 L49.49,64.4 L47.91,64.12 L46.41,63.59 L44.97,62.89 L43.41,63.27 L41.96,62.59 L40.52,63.27 M15.16,37.95 L16.71,38.34 L18.2,38.92 L19.8,38.84 L21.38,39.07 L22.23,40.42 L22.12,42.02 L21.33,43.41 L19.83,43.96 L18.28,43.57 M24.01,52.82 L23.11,54.14 L22.03,55.32 L21,56.54 L19.42,56.81 L17.98,57.5 L16.96,58.73 L16.46,60.26 L17.16,61.69 M1.41,21.3 L0.66,19.88 L-0,18.43 L0.67,16.98 L1.64,15.7 L2,14.14 M0.52,10.09 L-0.51,11.31 L-1.47,12.59 L-1.6,14.19 L-2.74,15.31 L-3.27,16.82 L-4.51,17.83 L-5.78,18.81 L-7.36,19.08" fill="none" stroke="#1a1a1a" stroke-width="0.55" opacity="0.75"/>
<g fill="#222" opacity="0.7"><circle cx="62.52" cy="67.56" r="0.66"/><circle cx="31.73" cy="52.86" r="0.67"/><circle cx="62.66" cy="34.67" r="0.63"/><circle cx="61.37" cy="34.74" r="0.48"/><circle cx="34.33" cy="73.49" r="0.39"/><circle cx="74.99" cy="10.71" r="0.4"/><circle cx="57.94" cy="55.5" r="0.42"/><circle cx="23.48" cy="44.38" r="0.6"/><circle cx="30.19" cy="36.81" r="0.47"/><circle cx="65.15" cy="70.85" r="0.55"/><circle cx="19.84" cy="33.21" r="0.47"/><circle cx="49.06" cy="24.73" r="0.54"/><circle cx="41.16" cy="42.53" r="0.69"/><circle cx="32.63" cy="19.85" r="0.3"/><circle cx="0.75" cy="53.93" r="0.66"/><circle cx="52.17" cy="16.35" r="0.31"/><circle cx="35.28" cy="5.4" r="0.33"/><circle cx="49.67" cy="12.07" r="0.49"/><circle cx="66.42" cy="38.22" r="0.45"/><circle cx="39.94" cy="71.95" r="0.37"/><circle cx="55.89" cy="18.4" r="0.55"/><circle cx="2.8" cy="3.8" r="0.38"/><circle cx="55.88" cy="18.48" r="0.59"/><circle cx="24.18" cy="66.69" r="0.66"/><circle cx="58.75" cy="16.12" r="0.33"/><circle cx="35.85" cy="21.01" r="0.31"/><circle cx="57.11" cy="64.97" r="0.64"/><circle cx="71.43" cy="45.08" r="0.5"/><circle cx="77.83" cy="29.95" r="0.61"/><circle cx="22.59" cy="73.75" r="0.55"/><circle cx="78.29" cy="66.72" r="0.55"/><circle cx="40.03" cy="12.93" r="0.38"/><circle cx="5.97" cy="47.8" r="0.39"/><circle cx="1.37" cy="46.43" r="0.57"/><circle cx="6.63" cy="19.09" r="0.66"/><circle cx="54.67" cy="61.68" r="0.4"/><circle cx="3.74" cy="51.68" r="0.53"/><circle cx="46.04" cy="4.67" r="0.55"/><circle cx="66.01" cy="38.03" r="0.51"/><circle cx="12.84" cy="29.67" r="0.39"/><circle cx="5.56" cy="75.79" r="0.41"/><circle cx="9.55" cy="45.57" r="0.38"/><circle cx="64.04" cy="16.39" r="0.44"/><circle cx="23.03" cy="3.26" r="0.62"/><circle cx="46.85" cy="48.23" r="0.68"/><circle cx="9.37" cy="62.72" r="0.42"/><circle cx="69.39" cy="75.89" r="0.46"/><circle cx="66.19" cy="30.99" r="0.34"/><circle cx="32.95" cy="49.06" r="0.51"/><circle cx="37.16" cy="8.35" r="0.55"/></g>
<path d="M39.47,20.4 L41.04,18.62 L43.57,16.9 L45.24,16.14 L47.47,16.4 L49.61,16.06 L51.23,17.27 L53.84,18.39 L55.88,19.42 L57.31,21.15 L58.7,23.48 L60.42,25.67 L61.76,27.45 L62.56,28.35 L64.3,28.71 L65.39,29.68 L66.63,29.32 L68.64,30.19 L69.63,30.31 L71.4,31.57 L72.54,32.77 L73.8,34.37 L74.25,36.64 L74.88,38.09 L74.87,39.25 L73.52,39.53 L71.85,38.85 L70.37,38.7 L69.37,38.81 L67.61,38.5 L66.67,39.58 L65.41,40.55 L64.63,43.14 L63.8,44.28 L62.52,46.48 L60.87,47.61 L59.71,49.22 L57.69,51 L55.87,52.99 L53.55,54.83 L51.54,56.08 L49.15,56.59 L47.58,57.33 L45.03,58.32 L43.47,58.34 L41.15,58.31 L39.68,58.1 L37.66,57.57 L35.85,57.05 L34.73,54.96 L34.19,53.27 L33.04,51.48 L32.13,49.45 L31.68,46.41 L30.84,43.6 L30.96,40.65 L30.69,38.19 L31.12,35.3 L32.09,33.1 L32.65,30.63 L33.94,28.4 L36.01,25.73 L37.5,22.39Z" fill="#151515"/>
<g clip-path="url(#c27)"><rect x="0" y="0" width="78.5" height="78.4" fill="#000" opacity="1" filter="url(#grainL)"/></g>
<path d="M39.45,31.22 L39.27,31.83 L38.88,32.51 L38.47,32.96 L38.07,32.98 L37.65,32.76 L37.24,32.56 L36.84,32.5 L36.45,32.46 L36.14,32.29 L35.9,31.89 L35.74,31.36 L35.72,30.86 L35.88,30.38 L36.19,29.92 L36.61,29.65 L37.23,29.67 L37.98,29.89 L38.59,30.16 L39.03,30.45 L39.34,30.8Z" fill="#2ee82e" filter="url(#blur05)"/>
<path d="M36.88,36.03 L36.72,36.51 L36.38,37.04 L35.98,37.48 L35.53,37.79 L35.03,38.02 L34.61,38.09 L34.33,37.95 L34.13,37.65 L34.01,37.28 L33.99,36.82 L34.05,36.3 L34.16,35.88 L34.3,35.68 L34.48,35.59 L34.75,35.49 L35.14,35.27 L35.61,35.04 L36.03,34.98 L36.41,35.2 L36.74,35.59Z" fill="#2ee82e" filter="url(#blur05)"/>
<path d="M37.14,48.89 L36.9,49.6 L36.36,50.23 L35.78,50.7 L35.23,50.94 L34.63,51.01 L34.08,51 L33.6,51 L33.17,50.92 L32.8,50.61 L32.44,49.92 L32.15,49 L32.16,48.12 L32.68,47.29 L33.5,46.5 L34.25,46 L34.81,45.89 L35.3,46.06 L35.78,46.45 L36.35,47.14 L36.89,48.05Z" fill="#2ee82e" filter="url(#blur05)"/>
<path d="M42.34,55.78 L42.04,56.29 L41.35,56.69 L40.64,56.92 L40.05,56.93 L39.44,56.78 L38.79,56.61 L37.95,56.51 L37.07,56.38 L36.57,56.12 L36.73,55.61 L37.27,54.97 L37.81,54.46 L38.21,54.21 L38.62,54.1 L39.05,53.99 L39.51,53.74 L40,53.49 L40.52,53.54 L41.23,54.13 L41.98,55.01Z" fill="#2ee82e" filter="url(#blur05)"/>
<path d="M57.03,21.15 L56.92,21.7 L56.61,22.33 L56.22,22.77 L55.75,22.92 L55.2,22.88 L54.74,22.73 L54.43,22.42 L54.22,22 L54.1,21.61 L54.05,21.33 L54.1,21.08 L54.27,20.8 L54.65,20.42 L55.17,20.01 L55.58,19.76 L55.76,19.78 L55.85,19.96 L56,20.19 L56.36,20.45 L56.8,20.76Z" fill="#2ee82e" filter="url(#blur05)"/>
<path d="M58.5,44.64 L58.38,45.09 L58.2,45.47 L57.97,45.76 L57.68,45.98 L57.36,46.11 L57.07,46.1 L56.84,45.9 L56.64,45.55 L56.48,45.16 L56.32,44.72 L56.19,44.24 L56.19,43.75 L56.38,43.2 L56.71,42.63 L57.08,42.3 L57.53,42.28 L58.03,42.49 L58.39,42.84 L58.54,43.37 L58.56,44.04Z" fill="#2ee82e" filter="url(#blur05)"/>
<path d="M64.83,36.67 L64.65,36.94 L64.29,37.15 L64,37.36 L63.89,37.67 L63.84,37.99 L63.69,38.1 L63.33,37.9 L62.87,37.49 L62.54,37.04 L62.42,36.51 L62.42,35.92 L62.49,35.48 L62.64,35.28 L62.87,35.23 L63.15,35.23 L63.48,35.23 L63.85,35.29 L64.19,35.45 L64.49,35.81 L64.74,36.27Z" fill="#2ee82e" filter="url(#blur05)"/>
<path d="M56.45,29.33 L56.42,29.63 L56.31,30 L56.14,30.29 L55.84,30.47 L55.47,30.57 L55.18,30.57 L55.05,30.44 L55,30.21 L54.91,29.97 L54.67,29.72 L54.39,29.46 L54.3,29.2 L54.56,28.88 L55,28.57 L55.4,28.41 L55.67,28.51 L55.88,28.76 L56.07,28.98 L56.24,29.09 L56.38,29.18Z" fill="#2ee82e" filter="url(#blur05)"/>
<path d="M39.47,20.4 L41.04,18.62 L43.57,16.9 L45.24,16.14 L47.47,16.4 L49.61,16.06 L51.23,17.27 L53.84,18.39 L55.88,19.42 L57.31,21.15 L58.7,23.48 L60.42,25.67 L61.76,27.45 L62.56,28.35 L64.3,28.71 L65.39,29.68 L66.63,29.32 L68.64,30.19 L69.63,30.31 L71.4,31.57 L72.54,32.77 L73.8,34.37 L74.25,36.64 L74.88,38.09 L74.87,39.25 L73.52,39.53 L71.85,38.85 L70.37,38.7 L69.37,38.81 L67.61,38.5 L66.67,39.58 L65.41,40.55 L64.63,43.14 L63.8,44.28 L62.52,46.48 L60.87,47.61 L59.71,49.22 L57.69,51 L55.87,52.99 L53.55,54.83 L51.54,56.08 L49.15,56.59 L47.58,57.33 L45.03,58.32 L43.47,58.34 L41.15,58.31 L39.68,58.1 L37.66,57.57 L35.85,57.05 L34.73,54.96 L34.19,53.27 L33.04,51.48 L32.13,49.45 L31.68,46.41 L30.84,43.6 L30.96,40.65 L30.69,38.19 L31.12,35.3 L32.09,33.1 L32.65,30.63 L33.94,28.4 L36.01,25.73 L37.5,22.39Z" fill="none" stroke="#d81c1c" stroke-width="0.75" stroke-linejoin="round"/>
<g stroke="#d8d098" stroke-width="0.7" fill="none"><path d="M3.5,67.4 V70.4 H45 V67.4"/></g>
<g font-size="3.2" fill="#d8d098" font-family="'Liberation Sans', Arial, sans-serif"><text x="3" y="66.4">0</text><text x="22" y="66.4">µm</text><text x="42" y="66.4">300</text></g>
</g>
<g transform="translate(630.5,123)" clip-path="url(#c28)">
<rect x="0" y="0" width="78.5" height="78.4" fill="#7b7b7b" filter="url(#mtex)"/>
<circle cx="9" cy="20" r="0.7" fill="#111"/>
<circle cx="14" cy="38" r="0.6" fill="#111"/>
<circle cx="75" cy="36" r="2" fill="#333"/>
<path d="M37.78,52.22 L36.54,51.21 L35.17,50.38 L34.11,49.18 L32.78,48.29 L31.5,47.33 L29.93,47.67 L28.33,47.73 L26.94,48.52 L25.61,49.42 M20.62,15.3 L21.6,14.04 L21.69,12.44 L21.65,10.84 L21.17,9.32 L20.99,7.73 L20.16,6.36 L18.6,5.99 L17.24,5.15 L15.67,4.82 M50.8,71.13 L49.26,71.57 L48.07,72.64 L46.62,73.32 L45.2,74.05 M0.37,64.41 L0.32,62.81 L1.34,61.57 L1.83,60.05 L2.14,58.48 L2.53,56.93 L3.24,55.5 L2.84,53.95 M48.97,18.42 L47.68,17.48 L46.22,16.81 L44.92,15.88 L43.32,15.85 L42.16,16.95 L40.64,17.44 L39.04,17.59 L37.45,17.51 M42.84,8.06 L41.59,7.07 L40.34,6.06 L38.8,5.65 L37.51,6.6 L35.97,7.05 L35.36,8.53 L35.22,10.12 M71.09,21.73 L69.89,22.79 L69.11,24.19 L69.5,25.75 L69.05,27.28 L69.63,28.77 L69.05,30.26 L68.71,31.83 L67.7,33.06 M10.81,31.73 L9.23,31.46 L7.63,31.5 L6.36,32.48 L5.22,33.6 L4.01,34.65 M61.19,3.21 L59.59,3.36 L58.2,2.58 L56.69,3.13 L55.15,2.71 L53.6,2.32 L52.79,0.94 M22.02,60.64 L23.23,59.59 L24.83,59.69 L26.12,60.64 L27.01,61.97" fill="none" stroke="#1a1a1a" stroke-width="0.55" opacity="0.75"/>
<g fill="#222" opacity="0.7"><circle cx="70.33" cy="34.6" r="0.54"/><circle cx="58.7" cy="34.47" r="0.35"/><circle cx="65.03" cy="42.07" r="0.48"/><circle cx="41.94" cy="22.81" r="0.64"/><circle cx="22.44" cy="19.22" r="0.55"/><circle cx="38.35" cy="24.58" r="0.33"/><circle cx="34.74" cy="32.44" r="0.52"/><circle cx="50.7" cy="21.53" r="0.33"/><circle cx="4.8" cy="43.15" r="0.67"/><circle cx="58.07" cy="72.84" r="0.36"/><circle cx="16.27" cy="56.04" r="0.46"/><circle cx="33.02" cy="65.27" r="0.33"/><circle cx="73.94" cy="14.73" r="0.53"/><circle cx="51.5" cy="43.91" r="0.58"/><circle cx="23.97" cy="18.04" r="0.56"/><circle cx="74.27" cy="4.94" r="0.34"/><circle cx="77.62" cy="4.08" r="0.35"/><circle cx="39.57" cy="25.26" r="0.58"/><circle cx="36.56" cy="62.47" r="0.34"/><circle cx="17.35" cy="15.09" r="0.62"/><circle cx="78.44" cy="29.58" r="0.39"/><circle cx="5.72" cy="14.36" r="0.69"/><circle cx="74.69" cy="72.47" r="0.37"/><circle cx="5.92" cy="77.88" r="0.59"/><circle cx="69.27" cy="70.21" r="0.65"/><circle cx="0.95" cy="68.31" r="0.53"/><circle cx="77.12" cy="15.45" r="0.46"/><circle cx="9.81" cy="59.86" r="0.54"/><circle cx="67.94" cy="43.69" r="0.62"/><circle cx="28.74" cy="4.87" r="0.33"/><circle cx="5.62" cy="2.17" r="0.59"/><circle cx="57.29" cy="77.47" r="0.61"/><circle cx="15.58" cy="13.89" r="0.45"/><circle cx="26.82" cy="10.37" r="0.61"/><circle cx="56.94" cy="32.97" r="0.53"/><circle cx="47.14" cy="44.33" r="0.54"/><circle cx="49.46" cy="77.18" r="0.42"/><circle cx="6.5" cy="10.68" r="0.54"/><circle cx="38.02" cy="72.87" r="0.52"/><circle cx="71.4" cy="65.86" r="0.44"/><circle cx="18.53" cy="52.45" r="0.47"/><circle cx="12.3" cy="3.66" r="0.63"/><circle cx="76.76" cy="57.27" r="0.35"/><circle cx="1.05" cy="48.41" r="0.46"/><circle cx="73.16" cy="35.59" r="0.58"/><circle cx="2.54" cy="3.35" r="0.6"/><circle cx="48.95" cy="69.41" r="0.45"/><circle cx="43.42" cy="37.1" r="0.61"/><circle cx="47.61" cy="66.32" r="0.36"/><circle cx="51.04" cy="29.09" r="0.62"/></g>
<path d="M39.93,27.03 L41.57,25.73 L43.73,24.58 L46.41,23.16 L48.3,22.61 L50.14,21.57 L52.58,21.55 L54.16,22.16 L57.26,22.79 L59.33,23.16 L61.79,24.1 L63.7,25.32 L65.22,26.69 L66.52,27.88 L67.33,29.19 L68.39,31.12 L69.41,33.67 L69.85,37.08 L70.69,39.85 L70.66,41.84 L70.01,44.57 L69.44,46.94 L68.38,48.74 L65.95,51.17 L64.55,52.72 L62.45,54.38 L60.27,55.38 L58.12,57.01 L56.49,58.06 L54.55,58.61 L52.07,59.59 L49.78,60.07 L47.77,60.2 L45.76,59.96 L43.66,59.9 L41.84,59.74 L39.93,58.94 L38.82,57.99 L37.05,56.62 L35.78,54.64 L35.12,52.91 L33.47,50.71 L32.75,48.93 L32.61,46.72 L32.45,44.37 L32.24,41.45 L32.73,38.78 L33.8,36.29 L35,33.5 L36.42,31.44 L38.41,28.96Z" fill="#151515"/>
<g clip-path="url(#c29)"><rect x="0" y="0" width="78.5" height="78.4" fill="#000" opacity="1" filter="url(#grainL)"/></g>
<path d="M47.34,32.48 L47.31,32.96 L47.1,33.33 L46.69,33.76 L45.96,34.49 L45.02,35.29 L44.14,35.58 L43.37,34.94 L42.65,33.79 L42.07,32.81 L41.62,32.27 L41.31,31.9 L41.3,31.53 L41.67,31.08 L42.34,30.62 L43.16,30.3 L44.24,30.11 L45.47,30.05 L46.44,30.24 L46.97,30.85 L47.24,31.72Z" fill="#2ee82e" filter="url(#blur05)"/>
<path d="M49.72,35.63 L49.53,35.91 L49.14,35.97 L48.69,36.08 L48.21,36.4 L47.67,36.77 L47.11,36.91 L46.47,36.68 L45.81,36.22 L45.42,35.71 L45.49,35.17 L45.82,34.58 L46.15,34.04 L46.3,33.57 L46.45,33.15 L46.78,32.9 L47.45,32.79 L48.3,32.85 L48.99,33.15 L49.41,33.89 L49.66,34.87Z" fill="#2ee82e" filter="url(#blur05)"/>
<path d="M37.99,41.71 L37.71,42.33 L37.25,42.93 L36.82,43.34 L36.52,43.46 L36.26,43.38 L35.91,43.17 L35.35,42.79 L34.7,42.27 L34.23,41.8 L34.01,41.51 L33.95,41.27 L34.12,40.94 L34.61,40.38 L35.31,39.73 L35.99,39.32 L36.58,39.3 L37.15,39.52 L37.58,39.88 L37.86,40.4 L38.01,41.06Z" fill="#2ee82e" filter="url(#blur05)"/>
<path d="M39.97,53.95 L39.62,54.35 L39.15,54.63 L38.69,54.92 L38.29,55.36 L37.9,55.81 L37.5,56.01 L37.04,55.8 L36.57,55.35 L36.23,54.79 L36.08,54.13 L36.07,53.37 L36.14,52.69 L36.23,52.09 L36.41,51.57 L36.88,51.28 L37.93,51.29 L39.28,51.53 L40.23,51.93 L40.45,52.54 L40.27,53.3Z" fill="#2ee82e" filter="url(#blur05)"/>
<path d="M58.74,55.02 L58.69,55.65 L58.42,56.29 L58.03,56.68 L57.57,56.64 L57,56.34 L56.31,56.06 L55.32,55.93 L54.22,55.81 L53.53,55.54 L53.59,55.01 L54.07,54.33 L54.56,53.7 L54.91,53.12 L55.28,52.59 L55.72,52.33 L56.31,52.49 L56.96,52.92 L57.55,53.42 L58.07,53.91 L58.51,54.46Z" fill="#2ee82e" filter="url(#blur05)"/>
<path d="M65.41,29.59 L65.39,30 L65.29,30.44 L65.13,30.74 L64.86,30.8 L64.53,30.72 L64.19,30.63 L63.84,30.64 L63.48,30.65 L63.25,30.49 L63.21,30.02 L63.29,29.38 L63.43,28.82 L63.59,28.42 L63.81,28.09 L64.07,27.95 L64.4,28.06 L64.77,28.35 L65.06,28.66 L65.25,28.95 L65.37,29.25Z" fill="#2ee82e" filter="url(#blur05)"/>
<path d="M69.51,43.47 L69.53,43.74 L69.52,44.03 L69.41,44.27 L69.11,44.52 L68.7,44.72 L68.31,44.78 L67.97,44.59 L67.66,44.25 L67.41,43.91 L67.22,43.62 L67.1,43.33 L67.12,43.03 L67.34,42.67 L67.7,42.3 L68.1,42.11 L68.56,42.2 L69.05,42.47 L69.4,42.75 L69.54,42.98 L69.53,43.22Z" fill="#2ee82e" filter="url(#blur05)"/>
<path d="M39.93,27.03 L41.57,25.73 L43.73,24.58 L46.41,23.16 L48.3,22.61 L50.14,21.57 L52.58,21.55 L54.16,22.16 L57.26,22.79 L59.33,23.16 L61.79,24.1 L63.7,25.32 L65.22,26.69 L66.52,27.88 L67.33,29.19 L68.39,31.12 L69.41,33.67 L69.85,37.08 L70.69,39.85 L70.66,41.84 L70.01,44.57 L69.44,46.94 L68.38,48.74 L65.95,51.17 L64.55,52.72 L62.45,54.38 L60.27,55.38 L58.12,57.01 L56.49,58.06 L54.55,58.61 L52.07,59.59 L49.78,60.07 L47.77,60.2 L45.76,59.96 L43.66,59.9 L41.84,59.74 L39.93,58.94 L38.82,57.99 L37.05,56.62 L35.78,54.64 L35.12,52.91 L33.47,50.71 L32.75,48.93 L32.61,46.72 L32.45,44.37 L32.24,41.45 L32.73,38.78 L33.8,36.29 L35,33.5 L36.42,31.44 L38.41,28.96Z" fill="none" stroke="#d81c1c" stroke-width="0.75" stroke-linejoin="round"/>
<circle cx="75.5" cy="31.5" r="1" fill="#2af02a"/>
<circle cx="77.5" cy="15" r="1.6" fill="#2af02a"/>
<g stroke="#d8d098" stroke-width="0.7" fill="none"><path d="M3.5,67.4 V70.4 H45 V67.4"/></g>
<g font-size="3.2" fill="#d8d098" font-family="'Liberation Sans', Arial, sans-serif"><text x="3" y="66.4">0</text><text x="22" y="66.4">µm</text><text x="42" y="66.4">300</text></g>
</g>
<g transform="translate(466.7,204.8)" clip-path="url(#c30)">
<rect x="0" y="0" width="78.5" height="78.4" fill="#7b7b7b" filter="url(#mtex)"/>
<ellipse cx="60" cy="60" rx="5" ry="22" fill="#000" opacity="0.12" filter="url(#blur3)" transform="rotate(-30 60 60)"/>
<ellipse cx="52" cy="62" rx="4" ry="18" fill="#000" opacity="0.22" filter="url(#blur2)" transform="rotate(-25 52 62)"/>
<path d="M40.42,14.79 L42.01,14.98 L43.47,15.65 L44.96,16.22 L46.56,16.27 L47.98,15.52 L49.56,15.77 L50.91,16.62 L52.42,17.15 L53.96,16.71 M8.55,52.71 L8.67,54.31 L9.55,55.64 L10.43,56.98 L11.29,58.33 L12.81,58.83 L14.37,58.49 M68.98,54.96 L69.44,56.49 L70.18,57.91 L69.82,59.47 L69.17,60.93 L67.72,61.61 L66.14,61.33 L65.27,59.99" fill="none" stroke="#1a1a1a" stroke-width="0.55" opacity="0.75"/>
<g fill="#222" opacity="0.7"><circle cx="63.61" cy="29.81" r="0.3"/><circle cx="30.84" cy="57.54" r="0.59"/><circle cx="56.01" cy="16.77" r="0.45"/><circle cx="71.21" cy="25.46" r="0.61"/><circle cx="27.35" cy="33.39" r="0.41"/><circle cx="52.2" cy="21.7" r="0.65"/><circle cx="39.82" cy="3.79" r="0.43"/><circle cx="17.3" cy="68.93" r="0.43"/><circle cx="77.3" cy="60.9" r="0.42"/><circle cx="42.94" cy="47.46" r="0.62"/><circle cx="0.53" cy="26.38" r="0.54"/><circle cx="63.27" cy="66.47" r="0.35"/><circle cx="50.61" cy="4.31" r="0.36"/><circle cx="36.5" cy="6.6" r="0.31"/><circle cx="46.57" cy="15.54" r="0.52"/><circle cx="25.79" cy="37.85" r="0.61"/><circle cx="60.45" cy="41.42" r="0.53"/><circle cx="47.67" cy="11.36" r="0.64"/><circle cx="71.21" cy="30.99" r="0.31"/><circle cx="70.12" cy="37.06" r="0.43"/><circle cx="65.95" cy="53.67" r="0.57"/><circle cx="35.99" cy="31.07" r="0.44"/><circle cx="1.48" cy="0.22" r="0.42"/><circle cx="29.94" cy="23.68" r="0.57"/><circle cx="56.72" cy="76.16" r="0.51"/><circle cx="50.06" cy="9.9" r="0.68"/><circle cx="63.76" cy="76.12" r="0.37"/><circle cx="0.49" cy="41.93" r="0.51"/><circle cx="0.62" cy="39.31" r="0.44"/><circle cx="9.61" cy="65.1" r="0.56"/><circle cx="6.95" cy="11.97" r="0.56"/><circle cx="20.07" cy="34.59" r="0.5"/><circle cx="22.52" cy="31.58" r="0.47"/><circle cx="45.7" cy="19.06" r="0.35"/><circle cx="25.89" cy="26.33" r="0.63"/><circle cx="13.55" cy="72.41" r="0.41"/><circle cx="71.64" cy="7.37" r="0.66"/><circle cx="61.32" cy="66.46" r="0.52"/><circle cx="47.95" cy="42.79" r="0.62"/><circle cx="60.76" cy="14.91" r="0.58"/><circle cx="0.65" cy="56.06" r="0.4"/><circle cx="70.51" cy="20.69" r="0.68"/><circle cx="33.24" cy="19.01" r="0.5"/><circle cx="31.02" cy="20.47" r="0.65"/><circle cx="52.41" cy="34.86" r="0.34"/><circle cx="77.71" cy="1.75" r="0.59"/><circle cx="5.61" cy="77.48" r="0.36"/><circle cx="50.86" cy="72.56" r="0.37"/><circle cx="54.46" cy="49.31" r="0.47"/><circle cx="43.97" cy="7.25" r="0.53"/></g>
<path d="M36.63,14.57 L38.38,12.83 L39.33,11.86 L40.57,11.41 L42.75,12.43 L43.85,13 L46.27,14.12 L47.5,14.37 L50.19,14.36 L52.11,14.06 L54.19,15.28 L55.38,16.78 L57.2,18.29 L58.23,20.7 L58.85,23.02 L59.87,25.6 L59.78,27.91 L60.57,30 L60.07,32.22 L59.68,34.83 L58.67,37.76 L57.71,39.42 L57.1,41.18 L55.67,43.03 L53.71,44.44 L52.12,45.28 L50.81,46.08 L48.92,46.69 L47.39,47.27 L45.92,47.94 L43.77,47.58 L42.6,47.17 L40.31,46.65 L39.06,45.53 L37.05,45.01 L35.24,43.16 L33.39,41.44 L32.72,39.9 L31.3,37.76 L30.66,35.94 L30.51,32.83 L29.4,29.96 L30.07,27.33 L30.27,24.7 L31.05,21.6 L32.06,19.45 L33.33,17.52 L34.69,15.85Z" fill="#151515"/>
<g clip-path="url(#c31)"><rect x="0" y="0" width="78.5" height="78.4" fill="#000" opacity="1" filter="url(#grainL)"/></g>
<path d="M43.5,18.75 L43.51,19.12 L43.45,19.47 L43.23,19.79 L42.76,20.2 L42.13,20.58 L41.53,20.67 L41,20.25 L40.51,19.54 L40.15,18.84 L39.92,18.22 L39.83,17.62 L39.95,17.13 L40.41,16.74 L41.1,16.47 L41.74,16.39 L42.28,16.6 L42.78,17.02 L43.16,17.46 L43.37,17.88 L43.47,18.33Z" fill="#2ee82e" filter="url(#blur05)"/>
<path d="M53.65,21.97 L53.3,22.42 L52.73,22.78 L52.21,23.09 L51.88,23.37 L51.6,23.59 L51.27,23.65 L50.78,23.51 L50.23,23.21 L49.87,22.75 L49.76,21.97 L49.83,21.03 L50.05,20.34 L50.45,20.09 L51,20.09 L51.54,20.12 L52.08,20.04 L52.61,19.99 L53.05,20.14 L53.39,20.64 L53.63,21.35Z" fill="#2ee82e" filter="url(#blur05)"/>
<path d="M59.14,28.38 L59.1,28.74 L58.94,29.11 L58.7,29.41 L58.36,29.63 L57.95,29.78 L57.61,29.82 L57.4,29.76 L57.27,29.6 L57.15,29.34 L56.99,28.95 L56.85,28.47 L56.85,28.05 L57.1,27.74 L57.49,27.5 L57.84,27.35 L58.08,27.26 L58.28,27.25 L58.48,27.35 L58.74,27.62 L59,28Z" fill="#2ee82e" filter="url(#blur05)"/>
<path d="M35.6,23.18 L35.46,23.41 L35.22,23.67 L34.99,23.89 L34.8,24.06 L34.62,24.2 L34.44,24.25 L34.23,24.23 L34.02,24.12 L33.88,23.91 L33.82,23.52 L33.84,23.01 L33.92,22.62 L34.07,22.42 L34.29,22.33 L34.52,22.32 L34.79,22.42 L35.07,22.59 L35.31,22.77 L35.48,22.9 L35.59,23.02Z" fill="#2ee82e" filter="url(#blur05)"/>
<path d="M45.83,46.18 L45.67,46.39 L45.36,46.63 L45.06,46.83 L44.86,46.98 L44.67,47.1 L44.42,47.11 L44,46.97 L43.51,46.72 L43.2,46.46 L43.22,46.19 L43.43,45.89 L43.63,45.65 L43.76,45.5 L43.88,45.4 L44.08,45.38 L44.42,45.47 L44.83,45.63 L45.19,45.79 L45.49,45.91 L45.74,46.03Z" fill="#2ee82e" filter="url(#blur05)"/>
<path d="M41.61,13.1 L41.57,13.44 L41.48,13.77 L41.33,13.99 L41.08,14 L40.77,13.89 L40.49,13.8 L40.28,13.78 L40.11,13.78 L39.99,13.66 L39.91,13.36 L39.89,12.95 L39.93,12.59 L40.05,12.35 L40.24,12.17 L40.48,12.06 L40.81,12.02 L41.2,12.06 L41.49,12.18 L41.61,12.43 L41.64,12.77Z" fill="#2ee82e" filter="url(#blur05)"/>
<path d="M36.63,14.57 L38.38,12.83 L39.33,11.86 L40.57,11.41 L42.75,12.43 L43.85,13 L46.27,14.12 L47.5,14.37 L50.19,14.36 L52.11,14.06 L54.19,15.28 L55.38,16.78 L57.2,18.29 L58.23,20.7 L58.85,23.02 L59.87,25.6 L59.78,27.91 L60.57,30 L60.07,32.22 L59.68,34.83 L58.67,37.76 L57.71,39.42 L57.1,41.18 L55.67,43.03 L53.71,44.44 L52.12,45.28 L50.81,46.08 L48.92,46.69 L47.39,47.27 L45.92,47.94 L43.77,47.58 L42.6,47.17 L40.31,46.65 L39.06,45.53 L37.05,45.01 L35.24,43.16 L33.39,41.44 L32.72,39.9 L31.3,37.76 L30.66,35.94 L30.51,32.83 L29.4,29.96 L30.07,27.33 L30.27,24.7 L31.05,21.6 L32.06,19.45 L33.33,17.52 L34.69,15.85Z" fill="none" stroke="#d81c1c" stroke-width="0.75" stroke-linejoin="round"/>
<g stroke="#d8d098" stroke-width="0.7" fill="none"><path d="M3.5,67.4 V70.4 H45 V67.4"/></g>
<g font-size="3.2" fill="#d8d098" font-family="'Liberation Sans', Arial, sans-serif"><text x="3" y="66.4">0</text><text x="22" y="66.4">µm</text><text x="42" y="66.4">300</text></g>
</g>
<g transform="translate(548.1,204.8)" clip-path="url(#c32)">
<rect x="0" y="0" width="78.5" height="78.4" fill="#7b7b7b" filter="url(#mtex)"/>
<path d="M47.88,45.54 L46.43,46.22 L44.96,46.83 L43.48,46.22 L41.88,46.21 L40.59,45.27 M58.93,52.73 L60.45,52.22 L61.33,50.89 L62.14,49.51 L63.71,49.2 L65.11,49.98 L66.67,50.32 L68.16,50.91 L69.71,50.5 M51.05,61.26 L50.01,62.48 L48.9,63.64 L48.6,65.21 L48.81,66.8 L49.27,68.33 M49.8,26.09 L48.53,27.06 L47.1,27.77 L45.59,28.31 L44.07,27.82 L43.05,26.59 L42.51,25.08 L41.79,23.66 L40.25,23.21 L38.74,23.75 M77.79,62.12 L77.81,63.72 L78.19,65.27 L78.59,66.82 L78.78,68.41 L78.53,69.99 M71.48,14.1 L71.69,15.69 L73.03,16.55 L73.57,18.06 L73.36,19.64 L73.51,21.24 M58.08,6.9 L57,8.09 L55.47,8.56 L54.17,9.48 L52.72,10.17 L51.67,11.37 L50.84,12.74 L50.33,14.26 L49.82,15.78 L50.69,17.12 M59.43,38.78 L60.77,37.91 L62.29,37.42 L63.69,36.64 L64.27,35.15 L65.19,33.84 L66.75,33.48 L67.63,32.14 L68.56,30.84 L70.03,30.21 M60.69,36.83 L61.25,35.33 L61.28,33.73 L61.55,32.15 L61.18,30.59 L60.02,29.49 L59.78,27.91 L58.5,26.94 L58.34,25.35 L57.51,23.98 M70.25,57.3 L70.87,55.82 L72.09,54.79 L73.68,55.02 L74.94,56 L76.17,57.03 L77.75,56.84 L78.65,55.51 L78.86,53.93 L79.68,52.55 M50.12,43.74 L49.4,42.31 L48.2,41.26 L47.47,39.83 L46.02,39.17 L45.54,37.65 L45.22,36.08 L44.65,34.58 L44.07,33.09 M47.12,16.17 L46.18,14.88 L45.96,13.29 L45.98,11.69 L45.65,10.13 L44.89,8.72 L43.38,8.19 L41.86,8.71 L40.37,8.12" fill="none" stroke="#1a1a1a" stroke-width="0.55" opacity="0.75"/>
<g fill="#222" opacity="0.7"><circle cx="13.34" cy="42.03" r="0.53"/><circle cx="58.98" cy="12.92" r="0.46"/><circle cx="10.56" cy="9.05" r="0.45"/><circle cx="41.64" cy="25.27" r="0.46"/><circle cx="43.79" cy="2.31" r="0.64"/><circle cx="1.43" cy="31.58" r="0.59"/><circle cx="0.6" cy="11.6" r="0.31"/><circle cx="10.81" cy="45.7" r="0.6"/><circle cx="75.84" cy="41.66" r="0.65"/><circle cx="32.69" cy="41.38" r="0.68"/><circle cx="2.08" cy="71.4" r="0.42"/><circle cx="34.53" cy="73.42" r="0.47"/><circle cx="72.29" cy="52.65" r="0.36"/><circle cx="76.65" cy="2.37" r="0.58"/><circle cx="25.14" cy="75.52" r="0.4"/><circle cx="14.39" cy="19.86" r="0.58"/><circle cx="31.27" cy="47.74" r="0.66"/><circle cx="56.07" cy="64.7" r="0.41"/><circle cx="6.67" cy="39.99" r="0.37"/><circle cx="59.6" cy="43.1" r="0.54"/><circle cx="16.71" cy="31.18" r="0.63"/><circle cx="50.03" cy="25.82" r="0.52"/><circle cx="40.74" cy="66.61" r="0.56"/><circle cx="8.1" cy="7.01" r="0.39"/><circle cx="64.62" cy="29.62" r="0.3"/><circle cx="50.58" cy="34.89" r="0.39"/><circle cx="5.65" cy="55.38" r="0.51"/><circle cx="72.97" cy="16.05" r="0.45"/><circle cx="65.21" cy="56.96" r="0.39"/><circle cx="19.58" cy="56.38" r="0.47"/><circle cx="0" cy="36.26" r="0.67"/><circle cx="39.08" cy="31.36" r="0.45"/><circle cx="6.32" cy="68.26" r="0.36"/><circle cx="33.14" cy="36.58" r="0.41"/><circle cx="3.69" cy="3.76" r="0.65"/><circle cx="73.71" cy="42.58" r="0.69"/><circle cx="68.21" cy="53.63" r="0.38"/><circle cx="17.6" cy="2.61" r="0.59"/><circle cx="1.46" cy="72.32" r="0.57"/><circle cx="67.07" cy="36" r="0.64"/><circle cx="35.22" cy="24.66" r="0.65"/><circle cx="2.49" cy="61.76" r="0.52"/><circle cx="69.14" cy="68" r="0.33"/><circle cx="30.35" cy="37.65" r="0.54"/><circle cx="7.1" cy="67.95" r="0.32"/><circle cx="2.24" cy="70.85" r="0.51"/><circle cx="70.49" cy="27.05" r="0.69"/><circle cx="73.53" cy="10.03" r="0.43"/><circle cx="5.8" cy="43.48" r="0.34"/><circle cx="58.66" cy="19.65" r="0.66"/><circle cx="32.86" cy="20.83" r="0.39"/><circle cx="68.4" cy="34.2" r="0.6"/><circle cx="32.47" cy="59.72" r="0.36"/><circle cx="56.72" cy="9.71" r="0.7"/><circle cx="7.93" cy="50.48" r="0.32"/><circle cx="3.03" cy="65.82" r="0.69"/><circle cx="2.44" cy="26.56" r="0.45"/><circle cx="4.29" cy="31.67" r="0.45"/><circle cx="31.64" cy="54.82" r="0.47"/><circle cx="2.87" cy="50.68" r="0.39"/><circle cx="36.85" cy="53.87" r="0.31"/><circle cx="73.99" cy="75.15" r="0.49"/><circle cx="9.9" cy="35.48" r="0.61"/><circle cx="54.85" cy="70.45" r="0.61"/><circle cx="61.77" cy="56.39" r="0.43"/><circle cx="18.39" cy="63.6" r="0.53"/><circle cx="25.88" cy="67.67" r="0.32"/><circle cx="68.91" cy="12.21" r="0.52"/><circle cx="43.25" cy="49.31" r="0.31"/><circle cx="49.53" cy="5.72" r="0.36"/><circle cx="22.97" cy="72.53" r="0.38"/><circle cx="57.22" cy="67.05" r="0.64"/><circle cx="46.25" cy="38.5" r="0.45"/><circle cx="25.65" cy="42.61" r="0.66"/><circle cx="58.68" cy="5.73" r="0.61"/><circle cx="1.1" cy="67.04" r="0.35"/><circle cx="2.98" cy="51.98" r="0.37"/><circle cx="41.52" cy="31.87" r="0.34"/><circle cx="11.82" cy="63.21" r="0.67"/><circle cx="75.51" cy="75.69" r="0.67"/><circle cx="3.91" cy="31.93" r="0.7"/><circle cx="67.94" cy="73.54" r="0.43"/><circle cx="9.32" cy="12.8" r="0.41"/><circle cx="7.49" cy="37.53" r="0.39"/><circle cx="30.17" cy="28.24" r="0.69"/><circle cx="74.99" cy="58.08" r="0.57"/><circle cx="16.01" cy="65.81" r="0.53"/><circle cx="12.17" cy="67.55" r="0.54"/><circle cx="30.95" cy="14.54" r="0.58"/><circle cx="8.65" cy="10.93" r="0.65"/><circle cx="14.09" cy="56.44" r="0.48"/><circle cx="36.51" cy="45.33" r="0.56"/><circle cx="11.13" cy="67.51" r="0.33"/><circle cx="59.99" cy="47.53" r="0.43"/><circle cx="74.34" cy="55.65" r="0.44"/><circle cx="70.61" cy="64.09" r="0.33"/><circle cx="9.83" cy="38.31" r="0.55"/><circle cx="59.14" cy="77.73" r="0.66"/><circle cx="26.98" cy="48.38" r="0.5"/><circle cx="49.92" cy="13.95" r="0.43"/><circle cx="42.88" cy="70.26" r="0.69"/><circle cx="75.04" cy="48.11" r="0.34"/><circle cx="78.22" cy="48.27" r="0.49"/><circle cx="45.23" cy="36.52" r="0.59"/><circle cx="76.3" cy="46.2" r="0.53"/><circle cx="64.03" cy="13.69" r="0.51"/><circle cx="16.74" cy="19.34" r="0.7"/><circle cx="30.44" cy="42.88" r="0.42"/><circle cx="33.97" cy="61.54" r="0.49"/><circle cx="38.56" cy="62.21" r="0.51"/><circle cx="78.37" cy="45.79" r="0.48"/><circle cx="23.53" cy="50.21" r="0.67"/><circle cx="4.28" cy="58.54" r="0.37"/><circle cx="31.12" cy="5.76" r="0.58"/><circle cx="57.9" cy="30.24" r="0.43"/><circle cx="42.16" cy="31.9" r="0.46"/><circle cx="19.84" cy="55.92" r="0.68"/><circle cx="17.96" cy="53.42" r="0.47"/><circle cx="30.29" cy="70.43" r="0.63"/><circle cx="68.41" cy="12.57" r="0.47"/><circle cx="28.75" cy="36.72" r="0.54"/><circle cx="13.44" cy="37.18" r="0.49"/><circle cx="8.66" cy="4.19" r="0.57"/><circle cx="13.71" cy="37.1" r="0.59"/><circle cx="25.01" cy="42.47" r="0.69"/><circle cx="41.31" cy="6.92" r="0.63"/><circle cx="16.23" cy="45.47" r="0.34"/><circle cx="29.23" cy="38.3" r="0.42"/><circle cx="45.25" cy="11.86" r="0.46"/><circle cx="43.18" cy="45.31" r="0.57"/><circle cx="35.7" cy="65.18" r="0.63"/><circle cx="37.04" cy="25.51" r="0.49"/><circle cx="26.4" cy="44.11" r="0.69"/><circle cx="25.57" cy="66.72" r="0.59"/><circle cx="12.37" cy="26.57" r="0.62"/><circle cx="40.93" cy="56.42" r="0.37"/><circle cx="74.97" cy="5.53" r="0.3"/><circle cx="49.97" cy="68.24" r="0.45"/><circle cx="59.6" cy="39.98" r="0.37"/><circle cx="8.57" cy="51.58" r="0.56"/><circle cx="11.89" cy="43.46" r="0.3"/><circle cx="46.36" cy="44.54" r="0.55"/><circle cx="66.83" cy="3.44" r="0.42"/><circle cx="68.7" cy="34.32" r="0.45"/><circle cx="35.1" cy="9.39" r="0.49"/><circle cx="76.62" cy="52.61" r="0.57"/><circle cx="0.32" cy="46.23" r="0.48"/><circle cx="15.77" cy="50.34" r="0.44"/><circle cx="40.63" cy="65.3" r="0.35"/><circle cx="20.96" cy="22.25" r="0.42"/><circle cx="55.49" cy="4.31" r="0.41"/><circle cx="6.25" cy="42.59" r="0.45"/><circle cx="4.51" cy="5.82" r="0.45"/><circle cx="78.38" cy="4.64" r="0.47"/><circle cx="49.05" cy="51.49" r="0.48"/><circle cx="16.89" cy="26.23" r="0.46"/><circle cx="34" cy="56.09" r="0.3"/><circle cx="54.75" cy="14.9" r="0.58"/><circle cx="60.34" cy="3.92" r="0.66"/><circle cx="67.68" cy="4.97" r="0.55"/></g>
<path d="M17.39,31.98 L18.67,30.22 L20.52,29.81 L23.33,28.35 L25.38,27.92 L28.11,27.37 L30.47,27.24 L31.99,27.5 L34.42,28.04 L36.12,29.02 L38.06,29.91 L39.87,31.36 L41.01,32.61 L43.13,34.33 L44.38,36.58 L45,38.54 L45.81,40.95 L46.38,42.97 L46.62,44.7 L45.73,46.84 L45.12,49.07 L44.64,51.07 L43.51,52.63 L43.13,54.76 L42.65,56.89 L40.54,58.49 L39.04,60.2 L37.36,61.63 L35.38,63.82 L32.25,65.09 L29.8,65.99 L27.37,66.13 L25.58,66.1 L22.88,65.34 L21.07,64.79 L19.63,63.63 L18.01,61.51 L16.53,59.83 L15.94,57.76 L14.25,55.7 L13.68,53.33 L12.65,51.31 L11.64,48.94 L11.64,46.32 L10.87,43.55 L11.03,40.92 L11.16,38.64 L12.4,37.23 L12.83,35.37 L14.15,33.76 L15.21,32.75Z" fill="#38ec38"/>
<path d="M35.54,47 L35.68,48.73 L35.46,50.56 L34.96,52.18 L34.25,53.65 L33.25,54.93 L31.87,55.62 L29.71,55.51 L27.15,54.82 L25.21,53.79 L24.4,52.44 L24.2,50.76 L24.04,48.92 L23.63,46.78 L23.26,44.49 L23.29,42.71 L23.9,41.78 L24.9,41.35 L26.08,41.01 L27.5,40.52 L29.1,40.12 L30.48,40.1 L31.45,40.6 L32.2,41.47 L32.96,42.57 L33.93,43.87 L34.91,45.39Z" fill="#1a1a1a" opacity="0.95" filter="url(#blur1)"/>
<path d="M29.58,44.46 L29.05,44.93 L28.19,45.12 L27.33,45.56 L26.56,46.74 L25.78,48.17 L25.05,48.98 L24.42,48.69 L23.84,47.78 L23.26,46.88 L22.63,46.16 L22,45.44 L21.51,44.76 L21.15,44.19 L20.92,43.67 L21.05,43.07 L21.76,42.28 L22.82,41.41 L23.74,40.74 L24.25,40.39 L24.62,40.24 L25.22,40.22 L26.37,40.25 L27.75,40.41 L28.81,40.89 L29.39,41.96 L29.65,43.35Z" fill="#1a1a1a" opacity="0.9" filter="url(#blur1)"/>
<path d="M37.83,52.7 L37.77,53.99 L37.42,55.54 L36.98,56.66 L36.54,57.02 L36.03,56.95 L35.4,56.75 L34.61,56.44 L33.71,56 L32.83,55.63 L31.92,55.53 L31.04,55.5 L30.48,55.23 L30.43,54.53 L30.71,53.6 L31.08,52.65 L31.46,51.7 L31.94,50.74 L32.49,49.96 L33.17,49.38 L33.92,48.99 L34.61,48.95 L35.13,49.44 L35.58,50.28 L36.06,51.06 L36.73,51.56 L37.43,52Z" fill="#1a1a1a" opacity="0.9" filter="url(#blur1)"/>
<path d="M26.91,58.26 L26.98,58.72 L27.02,59.2 L26.79,59.59 L26.11,59.88 L25.16,60.08 L24.22,60.2 L23.32,60.21 L22.42,60.14 L21.72,59.97 L21.28,59.68 L21.03,59.29 L20.91,58.88 L20.93,58.47 L21.08,58.04 L21.26,57.53 L21.36,56.82 L21.49,56.03 L21.87,55.45 L22.66,55.17 L23.71,55.09 L24.67,55.25 L25.49,55.75 L26.23,56.49 L26.76,57.14 L26.96,57.57 L26.95,57.9Z" fill="#1a1a1a" opacity="0.8" filter="url(#blur1)"/>
<path d="M41.19,40.81 L41.34,41.46 L41.37,41.85 L41.11,42.28 L40.35,42.98 L39.3,43.73 L38.4,44.13 L37.83,44.01 L37.41,43.54 L37.02,42.95 L36.6,42.24 L36.21,41.4 L35.82,40.62 L35.32,39.98 L34.83,39.39 L34.75,38.86 L35.4,38.32 L36.45,37.84 L37.29,37.5 L37.56,37.43 L37.6,37.51 L37.85,37.53 L38.56,37.23 L39.47,36.88 L40.22,37.01 L40.69,38.04 L41,39.55Z" fill="#1a1a1a" opacity="0.7" filter="url(#blur1)"/>
<path d="M22.24,39.36 L22.05,40.01 L21.68,40.79 L21.28,41.56 L20.87,42.41 L20.43,43.26 L20.01,43.67 L19.63,43.28 L19.27,42.44 L18.96,41.77 L18.71,41.63 L18.5,41.65 L18.39,41.41 L18.38,40.64 L18.46,39.62 L18.6,38.75 L18.81,38.15 L19.08,37.71 L19.38,37.44 L19.69,37.44 L20.03,37.62 L20.39,37.82 L20.77,37.95 L21.17,38.1 L21.53,38.31 L21.86,38.57 L22.14,38.9Z" fill="#1a1a1a" opacity="0.6" filter="url(#blur1)"/>
<path d="M39.06,59.68 L38.89,59.99 L38.49,60.37 L38.07,60.79 L37.75,61.32 L37.43,61.88 L36.97,62.18 L36.26,62 L35.41,61.56 L34.7,61.21 L34.2,61.16 L33.82,61.2 L33.58,61.08 L33.45,60.62 L33.45,59.99 L33.63,59.45 L34.07,59.12 L34.69,58.88 L35.29,58.68 L35.79,58.46 L36.27,58.28 L36.72,58.25 L37.13,58.48 L37.51,58.86 L37.89,59.19 L38.36,59.36 L38.83,59.49Z" fill="#1a1a1a" opacity="0.6" filter="url(#blur1)"/>
<g fill="#0a200a" opacity="0.85"><circle cx="42.74" cy="50.38" r="0.36"/><circle cx="23.03" cy="61.75" r="0.37"/><circle cx="32.03" cy="52.01" r="0.81"/><circle cx="15.69" cy="41.41" r="0.58"/><circle cx="36.37" cy="54.62" r="0.66"/><circle cx="30.96" cy="53.57" r="0.46"/><circle cx="18.37" cy="54.44" r="0.41"/><circle cx="24.59" cy="35.81" r="0.88"/><circle cx="26.24" cy="64.9" r="0.48"/><circle cx="28.19" cy="40.11" r="0.58"/><circle cx="24.25" cy="49.77" r="0.65"/><circle cx="24.98" cy="34.28" r="0.73"/><circle cx="24.29" cy="40.42" r="0.62"/><circle cx="44.73" cy="38.7" r="0.78"/><circle cx="24.61" cy="56.64" r="0.49"/><circle cx="21.22" cy="45.42" r="0.54"/><circle cx="17.38" cy="41.1" r="0.55"/><circle cx="16.89" cy="51.03" r="0.53"/><circle cx="21.04" cy="30.89" r="0.61"/><circle cx="35.79" cy="57.17" r="0.76"/><circle cx="42.85" cy="44.52" r="0.86"/><circle cx="35.63" cy="55.71" r="0.57"/><circle cx="18.38" cy="34.12" r="0.36"/><circle cx="39.26" cy="42.69" r="0.44"/><circle cx="40.75" cy="52.8" r="0.4"/><circle cx="25.81" cy="30.46" r="0.58"/><circle cx="33.5" cy="29.69" r="0.48"/><circle cx="27.68" cy="63.53" r="0.87"/><circle cx="32.11" cy="60.73" r="0.43"/><circle cx="25.9" cy="55.92" r="0.5"/><circle cx="21.74" cy="40.48" r="0.88"/><circle cx="25.63" cy="52.58" r="0.62"/><circle cx="32.84" cy="49.23" r="0.38"/><circle cx="44.29" cy="44.84" r="0.81"/><circle cx="27.61" cy="29.08" r="0.88"/><circle cx="44.64" cy="50.89" r="0.52"/><circle cx="42.48" cy="37.24" r="0.89"/><circle cx="42.29" cy="55.28" r="0.55"/><circle cx="40.32" cy="55.91" r="0.43"/><circle cx="37.58" cy="37.27" r="0.54"/><circle cx="14.98" cy="43.3" r="0.75"/><circle cx="23.05" cy="63.37" r="0.55"/><circle cx="22.66" cy="33.6" r="0.75"/><circle cx="34.35" cy="58.24" r="0.59"/><circle cx="34.99" cy="57.9" r="0.77"/><circle cx="45.13" cy="40.9" r="0.39"/><circle cx="24.68" cy="57.81" r="0.36"/><circle cx="36.08" cy="60.52" r="0.59"/><circle cx="28.62" cy="32.19" r="0.58"/><circle cx="24.22" cy="62.9" r="0.53"/><circle cx="33.85" cy="45.61" r="0.77"/><circle cx="27.71" cy="36.13" r="0.52"/><circle cx="40.25" cy="47.8" r="0.42"/><circle cx="32.63" cy="40.96" r="0.65"/><circle cx="21.46" cy="57.06" r="0.78"/><circle cx="17.01" cy="36.52" r="0.43"/><circle cx="33.49" cy="43.67" r="0.7"/><circle cx="37.2" cy="44.12" r="0.47"/><circle cx="24.21" cy="45.13" r="0.41"/><circle cx="29.51" cy="55.18" r="0.68"/><circle cx="39.41" cy="50.19" r="0.59"/><circle cx="21.94" cy="45.96" r="0.83"/><circle cx="21.92" cy="63.07" r="0.62"/><circle cx="35.12" cy="50.54" r="0.49"/><circle cx="27.03" cy="39.45" r="0.6"/><circle cx="25.06" cy="58.91" r="0.9"/><circle cx="17.4" cy="58.48" r="0.55"/><circle cx="39.56" cy="32.91" r="0.88"/><circle cx="35.1" cy="44.84" r="0.5"/><circle cx="18.41" cy="55.63" r="0.55"/><circle cx="28.38" cy="58.59" r="0.43"/><circle cx="35.19" cy="42.13" r="0.75"/><circle cx="15.97" cy="56.39" r="0.79"/><circle cx="13.41" cy="45.42" r="0.85"/><circle cx="27.22" cy="32.67" r="0.61"/><circle cx="22.19" cy="62.12" r="0.48"/><circle cx="24.67" cy="44.95" r="0.37"/><circle cx="22.38" cy="34.53" r="0.78"/><circle cx="20.58" cy="32.25" r="0.81"/><circle cx="21.42" cy="54.78" r="0.38"/><circle cx="39.96" cy="42.66" r="0.52"/><circle cx="26.8" cy="39.99" r="0.74"/><circle cx="24.88" cy="58.51" r="0.69"/><circle cx="15.72" cy="36.87" r="0.38"/><circle cx="25.67" cy="44.05" r="0.83"/><circle cx="16.82" cy="35.88" r="0.77"/><circle cx="33.73" cy="64.38" r="0.8"/><circle cx="31.22" cy="34.36" r="0.41"/><circle cx="12.51" cy="41.34" r="0.65"/><circle cx="25.38" cy="42.75" r="0.54"/></g>
<path d="M17.39,31.98 L18.67,30.22 L20.52,29.81 L23.33,28.35 L25.38,27.92 L28.11,27.37 L30.47,27.24 L31.99,27.5 L34.42,28.04 L36.12,29.02 L38.06,29.91 L39.87,31.36 L41.01,32.61 L43.13,34.33 L44.38,36.58 L45,38.54 L45.81,40.95 L46.38,42.97 L46.62,44.7 L45.73,46.84 L45.12,49.07 L44.64,51.07 L43.51,52.63 L43.13,54.76 L42.65,56.89 L40.54,58.49 L39.04,60.2 L37.36,61.63 L35.38,63.82 L32.25,65.09 L29.8,65.99 L27.37,66.13 L25.58,66.1 L22.88,65.34 L21.07,64.79 L19.63,63.63 L18.01,61.51 L16.53,59.83 L15.94,57.76 L14.25,55.7 L13.68,53.33 L12.65,51.31 L11.64,48.94 L11.64,46.32 L10.87,43.55 L11.03,40.92 L11.16,38.64 L12.4,37.23 L12.83,35.37 L14.15,33.76 L15.21,32.75Z" fill="none" stroke="#d81c1c" stroke-width="0.75" stroke-linejoin="round"/>
<g stroke="#d8d098" stroke-width="0.7" fill="none"><path d="M3.5,67.4 V70.4 H45 V67.4"/></g>
<g font-size="3.2" fill="#d8d098" font-family="'Liberation Sans', Arial, sans-serif"><text x="3" y="66.4">0</text><text x="22" y="66.4">µm</text><text x="42" y="66.4">300</text></g>
</g>
<g transform="translate(630.5,204.8)" clip-path="url(#c33)">
<rect x="0" y="0" width="78.5" height="78.4" fill="#7b7b7b" filter="url(#mtex)"/>
<circle cx="42.5" cy="15.5" r="1.3" fill="#111"/>
<circle cx="56" cy="26" r="1.3" fill="#111"/>
<circle cx="8" cy="31" r="1" fill="#111"/>
<circle cx="16" cy="66" r="1" fill="#111"/>
<path d="M59.38,46.57 L58.3,47.75 L56.8,48.31 L55.35,48.98 L53.77,48.72 M67.89,46.22 L68.68,47.61 L70,48.5 L71.47,49.13 L72.57,50.3 L72.51,51.9 L71.7,53.28 L71.48,54.86 M70.62,5.78 L71.24,4.31 L71.73,2.78 L71.04,1.34 L70.62,-0.21 M58.77,22.01 L59.26,20.48 L60.58,19.58 L61.53,18.29 L62.33,16.91 L62.16,15.32 L61.61,13.81 L60.17,13.12 L58.64,13.59 M76.84,1.72 L77.6,3.13 L78.8,4.18 L80.04,5.19 L81.62,5.44 L83.06,6.14 L84.31,7.14 L85.63,8.04 M58.28,26.03 L56.81,25.41 L55.52,24.46 L54.92,22.97 L55.69,21.57 L57.03,20.7 M76.21,49.77 L76.58,48.21 L77.69,47.06 L79.28,46.93 L80.6,47.84 L81.12,49.35 L80.65,50.88 L80.45,52.47 L80.01,54 L79.28,55.43 M47.77,54.77 L46.89,53.43 L46.68,51.84 L46.18,50.32 L47.05,48.98 L46.68,47.42 L46.03,45.95 M73.29,39.12 L72.89,37.57 L71.7,36.51 L70.1,36.64 L68.97,35.51 L67.67,34.57 L66.41,33.6 L64.81,33.67 M59.2,27.58 L60.14,28.87 L60.28,30.47 L60.68,32.01 L60.33,33.58 L60.43,35.17 L60.01,36.72 L60.17,38.31 L61.35,39.38 L61.35,40.98 M64.37,7.21 L65.7,6.32 L67.3,6.35 L68.35,5.14 L69.81,4.48 L71.26,5.15 M42.05,14.32 L40.95,15.47 L39.35,15.56 L37.76,15.34 L36.19,15.05 L34.61,14.8 L33.06,14.39 M67.88,22.82 L69.45,22.49 L70.99,22.92 L72.28,23.86 L73.87,24.04 L75.37,24.6 M41.8,36.06 L42.04,37.64 L41.17,38.98 L40.76,40.53 L40.99,42.11 L41.8,43.5 L43.06,44.48" fill="none" stroke="#1a1a1a" stroke-width="0.55" opacity="0.75"/>
<g fill="#222" opacity="0.7"><circle cx="52.22" cy="30.33" r="0.45"/><circle cx="32.37" cy="42.7" r="0.57"/><circle cx="48.56" cy="64.99" r="0.38"/><circle cx="71.95" cy="25.22" r="0.66"/><circle cx="78.4" cy="22.97" r="0.42"/><circle cx="1.18" cy="66.97" r="0.43"/><circle cx="63.58" cy="17.49" r="0.69"/><circle cx="10.63" cy="29.17" r="0.31"/><circle cx="54.93" cy="22.61" r="0.55"/><circle cx="34.74" cy="18.82" r="0.66"/><circle cx="75.6" cy="18.97" r="0.46"/><circle cx="4.21" cy="46.92" r="0.3"/><circle cx="59.69" cy="30.48" r="0.47"/><circle cx="13.73" cy="73.92" r="0.62"/><circle cx="71.92" cy="0.75" r="0.46"/><circle cx="19.45" cy="65.87" r="0.55"/><circle cx="62.07" cy="41.34" r="0.38"/><circle cx="13.12" cy="77.64" r="0.48"/><circle cx="9.91" cy="7.17" r="0.42"/><circle cx="13.76" cy="39.5" r="0.32"/><circle cx="78.31" cy="60.06" r="0.45"/><circle cx="36.82" cy="72.69" r="0.33"/><circle cx="3.56" cy="2.19" r="0.42"/><circle cx="53.89" cy="3.4" r="0.63"/><circle cx="55.9" cy="18.31" r="0.43"/><circle cx="33.4" cy="50" r="0.48"/><circle cx="52.19" cy="39.19" r="0.56"/><circle cx="6.12" cy="76.12" r="0.37"/><circle cx="34.82" cy="32.24" r="0.54"/><circle cx="64.9" cy="53.47" r="0.64"/><circle cx="13.6" cy="24.44" r="0.35"/><circle cx="23.95" cy="27.57" r="0.56"/><circle cx="22.91" cy="33.42" r="0.63"/><circle cx="12.54" cy="57.11" r="0.41"/><circle cx="20.51" cy="19.86" r="0.58"/><circle cx="64.11" cy="57.98" r="0.54"/><circle cx="66.26" cy="61.09" r="0.65"/><circle cx="47.92" cy="18.89" r="0.37"/><circle cx="55.89" cy="16.56" r="0.6"/><circle cx="32.36" cy="23.76" r="0.36"/><circle cx="9.31" cy="7.39" r="0.32"/><circle cx="5.49" cy="19.31" r="0.32"/><circle cx="11.21" cy="44.88" r="0.59"/><circle cx="9.42" cy="5.88" r="0.56"/><circle cx="37.57" cy="65.64" r="0.53"/><circle cx="49.01" cy="51.8" r="0.6"/><circle cx="11.67" cy="17.36" r="0.62"/><circle cx="62.01" cy="76.94" r="0.57"/><circle cx="77.93" cy="58.93" r="0.53"/><circle cx="4.4" cy="0.02" r="0.42"/><circle cx="25.31" cy="21.33" r="0.45"/><circle cx="68.5" cy="59.03" r="0.56"/><circle cx="47.93" cy="51.54" r="0.32"/><circle cx="61.38" cy="38.43" r="0.46"/><circle cx="60.77" cy="11.73" r="0.61"/><circle cx="43" cy="38.24" r="0.3"/><circle cx="15.64" cy="61.91" r="0.32"/><circle cx="62.79" cy="24.18" r="0.56"/><circle cx="73.92" cy="1.64" r="0.69"/><circle cx="29.99" cy="47.94" r="0.32"/><circle cx="66.96" cy="28.42" r="0.43"/><circle cx="7.31" cy="70.76" r="0.55"/><circle cx="63.88" cy="45.75" r="0.48"/><circle cx="77.99" cy="38.5" r="0.48"/><circle cx="48.51" cy="16.79" r="0.49"/><circle cx="31.25" cy="9" r="0.67"/><circle cx="45.13" cy="10.22" r="0.5"/><circle cx="39.57" cy="23.09" r="0.51"/><circle cx="59.87" cy="4.02" r="0.51"/><circle cx="42.3" cy="43.66" r="0.41"/><circle cx="4" cy="0.84" r="0.66"/><circle cx="65.01" cy="11.71" r="0.51"/><circle cx="39.69" cy="0.75" r="0.62"/><circle cx="3.93" cy="5.69" r="0.43"/><circle cx="46.67" cy="31.45" r="0.65"/><circle cx="23.2" cy="4.38" r="0.65"/><circle cx="31.9" cy="24.48" r="0.69"/><circle cx="57.64" cy="23.89" r="0.69"/><circle cx="48.26" cy="19.86" r="0.54"/><circle cx="47.18" cy="40.74" r="0.65"/><circle cx="38.65" cy="0.74" r="0.6"/><circle cx="14.95" cy="63.41" r="0.66"/><circle cx="36.28" cy="63.59" r="0.53"/><circle cx="13.81" cy="6.15" r="0.44"/><circle cx="14.27" cy="25.44" r="0.67"/><circle cx="68.88" cy="36.91" r="0.52"/><circle cx="37.98" cy="38.41" r="0.39"/><circle cx="13.53" cy="56.49" r="0.49"/><circle cx="42.72" cy="72.81" r="0.56"/><circle cx="54.98" cy="65.33" r="0.68"/><circle cx="2.34" cy="0.15" r="0.58"/><circle cx="11.68" cy="73.87" r="0.63"/><circle cx="20.24" cy="56.81" r="0.42"/><circle cx="42.53" cy="46.41" r="0.33"/><circle cx="55.34" cy="53.43" r="0.52"/><circle cx="7.17" cy="51.59" r="0.46"/><circle cx="36.86" cy="35.6" r="0.64"/><circle cx="12.76" cy="68.31" r="0.55"/><circle cx="58.81" cy="19.48" r="0.42"/><circle cx="36.09" cy="33.61" r="0.67"/><circle cx="20.03" cy="60.69" r="0.45"/><circle cx="68.98" cy="4.73" r="0.48"/><circle cx="21.83" cy="47.03" r="0.47"/><circle cx="23.88" cy="51.92" r="0.43"/><circle cx="0.98" cy="48.28" r="0.45"/><circle cx="48.83" cy="0.66" r="0.52"/><circle cx="6.56" cy="40.91" r="0.44"/><circle cx="26.23" cy="25.18" r="0.38"/><circle cx="19.79" cy="77.8" r="0.65"/><circle cx="61.72" cy="77.06" r="0.65"/><circle cx="69.5" cy="12.62" r="0.57"/><circle cx="47.01" cy="49.84" r="0.49"/><circle cx="45.64" cy="61.8" r="0.51"/><circle cx="56.67" cy="41.57" r="0.51"/><circle cx="62.76" cy="18.64" r="0.51"/><circle cx="59.4" cy="67.44" r="0.46"/><circle cx="35" cy="30.32" r="0.42"/><circle cx="32.64" cy="46.97" r="0.33"/><circle cx="69.36" cy="56.88" r="0.6"/><circle cx="17.46" cy="57.17" r="0.46"/><circle cx="19.19" cy="29.97" r="0.45"/><circle cx="65.86" cy="72.44" r="0.44"/><circle cx="45.78" cy="12.42" r="0.41"/><circle cx="77.22" cy="7.39" r="0.48"/><circle cx="48.5" cy="48.79" r="0.53"/><circle cx="60.16" cy="50.7" r="0.51"/><circle cx="19.77" cy="13.56" r="0.62"/><circle cx="4.37" cy="34.79" r="0.57"/><circle cx="49.33" cy="51.19" r="0.5"/><circle cx="59.77" cy="67.18" r="0.59"/><circle cx="28.32" cy="19.21" r="0.38"/><circle cx="28.76" cy="58.22" r="0.44"/><circle cx="18.76" cy="1.66" r="0.5"/><circle cx="12.2" cy="73.79" r="0.61"/><circle cx="24.46" cy="41.05" r="0.61"/><circle cx="51" cy="36.92" r="0.32"/><circle cx="44.81" cy="48.81" r="0.5"/><circle cx="75.84" cy="76.84" r="0.56"/><circle cx="39.36" cy="57.37" r="0.45"/><circle cx="38.62" cy="8.73" r="0.36"/><circle cx="23.75" cy="11.28" r="0.39"/><circle cx="51.94" cy="61.03" r="0.46"/><circle cx="23.44" cy="45.77" r="0.62"/><circle cx="60.48" cy="55.43" r="0.55"/><circle cx="22.41" cy="14.13" r="0.66"/><circle cx="1.87" cy="63.29" r="0.3"/><circle cx="1.55" cy="21.95" r="0.49"/><circle cx="55.79" cy="56.71" r="0.4"/><circle cx="54.18" cy="60.93" r="0.61"/><circle cx="3.8" cy="29.14" r="0.55"/><circle cx="70.27" cy="72.02" r="0.3"/><circle cx="59.21" cy="40.23" r="0.4"/><circle cx="48.91" cy="21.14" r="0.35"/><circle cx="2.74" cy="76.37" r="0.5"/><circle cx="30.91" cy="51.19" r="0.49"/><circle cx="49.58" cy="77.45" r="0.69"/><circle cx="1.87" cy="41.5" r="0.47"/><circle cx="68.03" cy="9.18" r="0.38"/><circle cx="20.48" cy="6.29" r="0.56"/><circle cx="8.06" cy="69.04" r="0.56"/></g>
<path d="M18.51,28.74 L20.44,27.37 L22.82,25.33 L25.04,24.32 L26.63,23.45 L28.95,23.17 L31.12,23.65 L33.33,24.37 L34.71,25.26 L37.3,26.55 L39.11,27.74 L40.55,29.8 L41.64,31.89 L42.86,33.75 L44.45,35.32 L45.25,37.65 L45.92,39.76 L47.03,41.48 L48.12,43.77 L48.49,46.12 L49.36,48.21 L49.15,50.1 L47.9,51.8 L46.66,53.5 L45.21,54.58 L44.59,56.91 L43.59,58.16 L43.26,60.12 L41.35,61.53 L38.96,62.53 L37.38,63.64 L34.3,65.32 L32.14,65.98 L30.27,65.72 L27.46,66.03 L25.65,65.45 L23.47,65.24 L21.73,64.03 L20.07,62.63 L18.83,61.08 L17.8,59.15 L16.4,57.29 L15.3,55.19 L14.84,52.6 L14.53,49.46 L13.73,46.75 L13.86,43.91 L14.01,41.38 L13.65,38.38 L14.5,36.48 L14.93,34.59 L15.41,32.59 L16.78,30.92 L17.35,30.02Z" fill="#38ec38"/>
<path d="M35.38,48.29 L35.68,49.9 L36.21,51.1 L36.24,51.98 L35.35,52.39 L33.95,52.47 L32.54,52.69 L31.2,53.5 L29.83,54.44 L28.62,54.66 L27.65,53.67 L26.83,51.96 L26.1,50.06 L25.23,48.1 L24.46,45.96 L24.37,43.75 L25.47,41.22 L27.26,38.63 L28.82,36.92 L29.64,36.64 L30.23,37.24 L31.17,38.05 L33.01,38.75 L35.21,39.64 L36.66,41.02 L36.65,43.25 L35.9,45.97Z" fill="#1a1a1a" opacity="0.95" filter="url(#blur1)"/>
<path d="M30.5,41.82 L30.37,42.88 L30.14,43.94 L29.86,44.8 L29.55,45.43 L29.18,45.87 L28.71,46.06 L28.08,45.91 L27.35,45.5 L26.65,44.99 L25.98,44.44 L25.33,43.79 L24.84,42.99 L24.51,41.87 L24.34,40.61 L24.45,39.67 L24.95,39.3 L25.74,39.24 L26.57,39.22 L27.46,39.12 L28.39,39.06 L29.16,38.99 L29.66,38.81 L30,38.63 L30.24,38.81 L30.42,39.58 L30.51,40.7Z" fill="#1a1a1a" opacity="0.9" filter="url(#blur1)"/>
<path d="M37.14,52.42 L37.15,53 L36.98,53.42 L36.66,53.82 L36.2,54.26 L35.6,54.67 L34.94,54.9 L34.22,54.85 L33.45,54.63 L32.64,54.4 L31.71,54.3 L30.74,54.18 L30.09,53.82 L29.94,53.02 L30.11,51.97 L30.37,50.97 L30.62,50.08 L30.97,49.25 L31.56,48.61 L32.62,48.18 L33.93,47.95 L34.97,47.98 L35.46,48.32 L35.68,48.92 L35.93,49.64 L36.38,50.53 L36.85,51.55Z" fill="#1a1a1a" opacity="0.9" filter="url(#blur1)"/>
<path d="M41.18,56.82 L40.97,57.46 L40.47,58.22 L39.89,58.83 L39.26,59.14 L38.56,59.3 L37.93,59.41 L37.45,59.52 L37.05,59.59 L36.65,59.5 L36.21,59.2 L35.77,58.75 L35.38,58.22 L34.98,57.6 L34.63,56.9 L34.58,56.25 L35.04,55.66 L35.81,55.12 L36.55,54.71 L37.17,54.44 L37.76,54.31 L38.32,54.38 L38.86,54.78 L39.36,55.38 L39.84,55.92 L40.4,56.22 L40.94,56.46Z" fill="#1a1a1a" opacity="0.7" filter="url(#blur1)"/>
<path d="M25.03,57.54 L24.69,58.08 L24.03,58.75 L23.39,59.29 L22.88,59.57 L22.4,59.71 L21.91,59.75 L21.43,59.71 L20.95,59.57 L20.48,59.39 L19.98,59.2 L19.49,58.96 L19.19,58.6 L19.12,58.01 L19.24,57.29 L19.5,56.71 L19.91,56.36 L20.46,56.13 L21.06,55.97 L21.75,55.81 L22.5,55.7 L23.09,55.76 L23.37,56.11 L23.49,56.62 L23.68,57.04 L24.19,57.22 L24.77,57.31Z" fill="#1a1a1a" opacity="0.6" filter="url(#blur1)"/>
<g fill="#0a200a" opacity="0.85"><circle cx="20.94" cy="31.52" r="0.38"/><circle cx="42.69" cy="38.7" r="0.58"/><circle cx="36.65" cy="60.01" r="0.8"/><circle cx="25.17" cy="38.94" r="0.47"/><circle cx="39.27" cy="56.32" r="0.85"/><circle cx="21.66" cy="47.07" r="0.67"/><circle cx="20.62" cy="44.33" r="0.86"/><circle cx="21.14" cy="60.66" r="0.54"/><circle cx="16.37" cy="40.01" r="0.45"/><circle cx="45.2" cy="42.49" r="0.53"/><circle cx="17.67" cy="54.39" r="0.68"/><circle cx="19.86" cy="50.68" r="0.52"/><circle cx="43.05" cy="55.54" r="0.58"/><circle cx="16.08" cy="52.18" r="0.89"/><circle cx="20.75" cy="41" r="0.43"/><circle cx="29.66" cy="25.49" r="0.67"/><circle cx="39.17" cy="35.05" r="0.69"/><circle cx="20.06" cy="57.28" r="0.73"/><circle cx="17.42" cy="39.03" r="0.41"/><circle cx="16.13" cy="52.12" r="0.66"/><circle cx="30.83" cy="30.9" r="0.67"/><circle cx="26.33" cy="28.72" r="0.44"/><circle cx="33.07" cy="36.58" r="0.82"/><circle cx="27.37" cy="31.55" r="0.72"/><circle cx="43.47" cy="44.52" r="0.65"/><circle cx="19.57" cy="32.94" r="0.37"/><circle cx="21.85" cy="44.79" r="0.68"/><circle cx="36.63" cy="35.76" r="0.83"/><circle cx="31.07" cy="42.87" r="0.39"/><circle cx="25.48" cy="54.32" r="0.39"/><circle cx="30.24" cy="33.85" r="0.6"/><circle cx="20.22" cy="56.64" r="0.73"/><circle cx="16.82" cy="57.15" r="0.66"/><circle cx="41.65" cy="33.35" r="0.67"/><circle cx="28.25" cy="41.8" r="0.82"/><circle cx="27.62" cy="63.37" r="0.51"/><circle cx="35.56" cy="35.11" r="0.47"/><circle cx="30.82" cy="25.23" r="0.49"/><circle cx="23.92" cy="60.95" r="0.76"/><circle cx="29.53" cy="41.45" r="0.71"/><circle cx="38.89" cy="58.04" r="0.68"/><circle cx="22.86" cy="32.33" r="0.73"/><circle cx="17.64" cy="37.32" r="0.84"/><circle cx="18.56" cy="57.79" r="0.85"/><circle cx="43.32" cy="44.57" r="0.61"/><circle cx="28.63" cy="49.85" r="0.83"/><circle cx="39.13" cy="29.65" r="0.4"/><circle cx="36.99" cy="31.42" r="0.75"/><circle cx="18.5" cy="57.18" r="0.43"/><circle cx="32.97" cy="62.3" r="0.78"/><circle cx="20.01" cy="43.08" r="0.83"/><circle cx="32.66" cy="24.8" r="0.46"/><circle cx="43.38" cy="58.88" r="0.8"/><circle cx="21.39" cy="26.62" r="0.69"/><circle cx="24.31" cy="34.16" r="0.42"/><circle cx="31.43" cy="57.65" r="0.44"/><circle cx="22.96" cy="62.16" r="0.85"/><circle cx="17.06" cy="42.2" r="0.87"/><circle cx="29.92" cy="33.63" r="0.63"/><circle cx="39.89" cy="46.26" r="0.71"/><circle cx="38.23" cy="53.66" r="0.44"/><circle cx="23.37" cy="41.46" r="0.8"/><circle cx="42.28" cy="55.85" r="0.81"/><circle cx="25.75" cy="35.87" r="0.6"/><circle cx="37.95" cy="41.59" r="0.42"/><circle cx="30.18" cy="26.26" r="0.88"/><circle cx="27.44" cy="34.48" r="0.7"/><circle cx="23.79" cy="52.32" r="0.81"/><circle cx="25.54" cy="54.86" r="0.83"/><circle cx="48.11" cy="46.4" r="0.62"/><circle cx="26.5" cy="36.96" r="0.68"/><circle cx="39.23" cy="55.78" r="0.69"/><circle cx="22.28" cy="48.97" r="0.77"/><circle cx="18.34" cy="33.94" r="0.89"/><circle cx="47.97" cy="45.37" r="0.37"/><circle cx="38.3" cy="31.19" r="0.8"/><circle cx="20.9" cy="58.81" r="0.52"/><circle cx="19.91" cy="59.22" r="0.52"/><circle cx="46.93" cy="44.29" r="0.51"/><circle cx="29.5" cy="49.59" r="0.48"/><circle cx="36.34" cy="27.67" r="0.88"/><circle cx="38.07" cy="44.97" r="0.85"/><circle cx="48.72" cy="49.23" r="0.49"/><circle cx="37.44" cy="37.87" r="0.46"/><circle cx="24.63" cy="41.32" r="0.89"/><circle cx="44.02" cy="49.55" r="0.66"/><circle cx="19.35" cy="42.22" r="0.7"/><circle cx="14.49" cy="40.53" r="0.65"/><circle cx="33.59" cy="34.61" r="0.53"/><circle cx="30.29" cy="37.44" r="0.4"/></g>
<path d="M18.51,28.74 L20.44,27.37 L22.82,25.33 L25.04,24.32 L26.63,23.45 L28.95,23.17 L31.12,23.65 L33.33,24.37 L34.71,25.26 L37.3,26.55 L39.11,27.74 L40.55,29.8 L41.64,31.89 L42.86,33.75 L44.45,35.32 L45.25,37.65 L45.92,39.76 L47.03,41.48 L48.12,43.77 L48.49,46.12 L49.36,48.21 L49.15,50.1 L47.9,51.8 L46.66,53.5 L45.21,54.58 L44.59,56.91 L43.59,58.16 L43.26,60.12 L41.35,61.53 L38.96,62.53 L37.38,63.64 L34.3,65.32 L32.14,65.98 L30.27,65.72 L27.46,66.03 L25.65,65.45 L23.47,65.24 L21.73,64.03 L20.07,62.63 L18.83,61.08 L17.8,59.15 L16.4,57.29 L15.3,55.19 L14.84,52.6 L14.53,49.46 L13.73,46.75 L13.86,43.91 L14.01,41.38 L13.65,38.38 L14.5,36.48 L14.93,34.59 L15.41,32.59 L16.78,30.92 L17.35,30.02Z" fill="none" stroke="#d81c1c" stroke-width="0.75" stroke-linejoin="round"/>
<g stroke="#d8d098" stroke-width="0.7" fill="none"><path d="M3.5,67.4 V70.4 H45 V67.4"/></g>
<g font-size="3.2" fill="#d8d098" font-family="'Liberation Sans', Arial, sans-serif"><text x="3" y="66.4">0</text><text x="22" y="66.4">µm</text><text x="42" y="66.4">300</text></g>
</g>
<g transform="translate(466.7,287.1)" clip-path="url(#c34)">
<rect x="0" y="0" width="78.5" height="78.4" fill="#7b7b7b" filter="url(#mtex)"/>
<circle cx="31" cy="12" r="0.7" fill="#111"/>
<circle cx="35" cy="14" r="0.6" fill="#111"/>
<circle cx="42" cy="9" r="0.5" fill="#111"/>
<circle cx="20" cy="22" r="0.6" fill="#111"/>
<path d="M40.8,21.43 L41.13,19.86 L40.15,18.59 L38.71,17.9 L37.13,17.65 L36.28,16.29 L35.85,14.75 L35.5,13.19 M52.62,8.27 L53.32,6.83 L54.69,6.01 L54.97,4.44 L53.96,3.19 L53.61,1.63 L52.39,0.59 L51.51,-0.75 L50.63,-2.08 L49.58,-3.28 M38.36,29.42 L39.31,28.14 L40.38,26.95 L41.54,25.85 L42.78,24.84 M66.28,72.17 L67.84,71.82 L69.17,70.93 L70.75,71.18 L71.9,72.3 L72.33,73.84 M63.76,31.56 L62.63,32.7 L61.81,34.07 L60.33,34.68 L58.75,34.48 L57.34,35.23 L56.72,36.71 L56.27,38.24 M49.03,31.6 L48.37,30.14 L48.49,28.54 L47.83,27.08 L46.43,26.31 L45.03,25.53 L44.16,24.18 M63.8,57.36 L64.42,55.89 L65.71,54.94 L67.31,54.98 L68.42,53.83 L69.2,52.43 L68.69,50.92 L69.54,49.56 L70.18,48.09 M37.49,43.93 L35.9,43.76 L34.68,44.8 L33.55,45.93 L33.25,47.5" fill="none" stroke="#1a1a1a" stroke-width="0.55" opacity="0.75"/>
<g fill="#222" opacity="0.7"><circle cx="37.05" cy="14.06" r="0.39"/><circle cx="10.62" cy="14.09" r="0.64"/><circle cx="12.56" cy="28.5" r="0.53"/><circle cx="13.35" cy="13.44" r="0.41"/><circle cx="69.3" cy="68.63" r="0.56"/><circle cx="5.34" cy="16.31" r="0.59"/><circle cx="22.21" cy="8.94" r="0.43"/><circle cx="71.75" cy="14.34" r="0.63"/><circle cx="3.4" cy="50.18" r="0.6"/><circle cx="2.09" cy="35.02" r="0.67"/><circle cx="72.58" cy="45.66" r="0.38"/><circle cx="29.98" cy="21.53" r="0.55"/><circle cx="16.67" cy="58.32" r="0.57"/><circle cx="34.88" cy="29.2" r="0.63"/><circle cx="16.32" cy="42.71" r="0.32"/><circle cx="3.39" cy="37.49" r="0.39"/><circle cx="21.37" cy="22.05" r="0.35"/><circle cx="35.08" cy="23.1" r="0.66"/><circle cx="66.12" cy="37.01" r="0.36"/><circle cx="74.62" cy="26.18" r="0.3"/><circle cx="56.42" cy="14.45" r="0.67"/><circle cx="28.98" cy="1.12" r="0.6"/><circle cx="27.84" cy="10.62" r="0.33"/><circle cx="43.64" cy="6.95" r="0.38"/><circle cx="22.85" cy="39.3" r="0.47"/><circle cx="54.28" cy="68.14" r="0.66"/><circle cx="23.87" cy="58.54" r="0.64"/><circle cx="35.84" cy="45.34" r="0.57"/><circle cx="38.61" cy="42.37" r="0.69"/><circle cx="30.45" cy="3.47" r="0.44"/><circle cx="12.32" cy="53.64" r="0.49"/><circle cx="42.04" cy="60.58" r="0.6"/><circle cx="14.79" cy="69.46" r="0.7"/><circle cx="15.28" cy="9.24" r="0.38"/><circle cx="49.51" cy="30.09" r="0.67"/><circle cx="38.75" cy="22.34" r="0.37"/><circle cx="43.79" cy="8.9" r="0.52"/><circle cx="21.24" cy="54.99" r="0.5"/><circle cx="34.44" cy="55.53" r="0.32"/><circle cx="33.89" cy="28.47" r="0.65"/><circle cx="39.67" cy="28.16" r="0.54"/><circle cx="17.86" cy="57.99" r="0.68"/><circle cx="42.96" cy="70.54" r="0.35"/><circle cx="65.56" cy="65.2" r="0.44"/><circle cx="72.38" cy="45.35" r="0.6"/><circle cx="66.5" cy="16.5" r="0.4"/><circle cx="66.07" cy="37.53" r="0.38"/><circle cx="65.64" cy="29.5" r="0.4"/><circle cx="50.22" cy="13.88" r="0.54"/><circle cx="42.66" cy="42.51" r="0.5"/></g>
<path d="M24.64,24.05 L25.86,23.09 L27.6,22.36 L29.66,21.82 L31.66,22.16 L33.94,21.48 L35.88,21.83 L38.12,22.34 L40.12,22.97 L41.84,23.84 L44.05,24.97 L46.14,25.26 L47.61,26.6 L49.97,27.21 L51.35,28.5 L52.9,29.3 L54.14,29.78 L56.16,30.11 L57.05,31.25 L57.44,32.97 L57.91,34.82 L58.2,37.16 L57.72,39.53 L57.53,41.93 L57.05,43.8 L56.22,45.58 L54.29,47.16 L52.83,48.66 L51.22,49.63 L48.99,50.86 L47.21,52.05 L44.54,52.91 L42.84,53.18 L40.7,53.14 L38.52,53.01 L36.59,52.03 L34.45,51.3 L32.77,50.64 L30.32,49.51 L28.88,48.41 L26.49,47.45 L25.01,46.25 L23.27,44.71 L22.97,42.92 L21.7,41.08 L21.39,39.08 L20.85,37.46 L20.65,35.77 L20.8,34.56 L20.73,32.52 L21.2,30.71 L21.36,29.45 L22.6,27.54 L23.59,26.03Z" fill="#151515"/>
<g clip-path="url(#c35)"><rect x="0" y="0" width="78.5" height="78.4" fill="#000" opacity="1" filter="url(#grainL)"/></g>
<path d="M37.81,31.36 L37.68,31.68 L37.43,31.97 L37.13,32.2 L36.78,32.38 L36.38,32.52 L35.93,32.57 L35.38,32.55 L34.79,32.45 L34.33,32.23 L34.06,31.81 L33.92,31.27 L33.97,30.82 L34.26,30.51 L34.73,30.28 L35.3,30.12 L36.02,30.03 L36.84,30.01 L37.46,30.12 L37.75,30.46 L37.84,30.93Z" fill="#1f8f1f" filter="url(#blur05)"/>
<path d="M23.39,39.76 L23.28,40.11 L23.08,40.34 L22.89,40.55 L22.76,40.79 L22.64,41 L22.45,41.1 L22.12,41.06 L21.73,40.9 L21.46,40.58 L21.42,39.96 L21.51,39.17 L21.65,38.58 L21.86,38.35 L22.12,38.32 L22.38,38.27 L22.63,38.08 L22.87,37.87 L23.07,37.92 L23.23,38.41 L23.36,39.14Z" fill="#2ee82e" filter="url(#blur05)"/>
<path d="M56.86,31.28 L56.74,31.62 L56.52,31.97 L56.31,32.26 L56.15,32.47 L56,32.61 L55.83,32.62 L55.63,32.42 L55.42,32.08 L55.27,31.78 L55.16,31.62 L55.11,31.51 L55.17,31.32 L55.38,30.95 L55.69,30.51 L55.98,30.21 L56.2,30.14 L56.39,30.21 L56.56,30.36 L56.71,30.61 L56.83,30.94Z" fill="#b0d030" filter="url(#blur05)"/>
<path d="M51.63,48.45 L51.7,48.71 L51.76,48.97 L51.73,49.16 L51.57,49.25 L51.32,49.26 L51.03,49.22 L50.68,49.1 L50.3,48.92 L50.06,48.75 L50.05,48.62 L50.19,48.49 L50.36,48.32 L50.55,48.02 L50.77,47.69 L50.98,47.47 L51.17,47.46 L51.34,47.58 L51.48,47.74 L51.56,47.94 L51.6,48.2Z" fill="#2ee82e" filter="url(#blur05)"/>
<path d="M24.64,24.05 L25.86,23.09 L27.6,22.36 L29.66,21.82 L31.66,22.16 L33.94,21.48 L35.88,21.83 L38.12,22.34 L40.12,22.97 L41.84,23.84 L44.05,24.97 L46.14,25.26 L47.61,26.6 L49.97,27.21 L51.35,28.5 L52.9,29.3 L54.14,29.78 L56.16,30.11 L57.05,31.25 L57.44,32.97 L57.91,34.82 L58.2,37.16 L57.72,39.53 L57.53,41.93 L57.05,43.8 L56.22,45.58 L54.29,47.16 L52.83,48.66 L51.22,49.63 L48.99,50.86 L47.21,52.05 L44.54,52.91 L42.84,53.18 L40.7,53.14 L38.52,53.01 L36.59,52.03 L34.45,51.3 L32.77,50.64 L30.32,49.51 L28.88,48.41 L26.49,47.45 L25.01,46.25 L23.27,44.71 L22.97,42.92 L21.7,41.08 L21.39,39.08 L20.85,37.46 L20.65,35.77 L20.8,34.56 L20.73,32.52 L21.2,30.71 L21.36,29.45 L22.6,27.54 L23.59,26.03Z" fill="none" stroke="#d81c1c" stroke-width="0.75" stroke-linejoin="round"/>
<g stroke="#d8d098" stroke-width="0.7" fill="none"><path d="M3.5,67.4 V70.4 H45 V67.4"/></g>
<g font-size="3.2" fill="#d8d098" font-family="'Liberation Sans', Arial, sans-serif"><text x="3" y="66.4">0</text><text x="22" y="66.4">µm</text><text x="42" y="66.4">300</text></g>
</g>
<g transform="translate(548.1,287.1)" clip-path="url(#c36)">
<rect x="0" y="0" width="78.5" height="78.4" fill="#7b7b7b" filter="url(#mtex)"/>
<circle cx="66" cy="8.5" r="1.6" fill="#111"/>
<circle cx="72" cy="20" r="1.2" fill="#111"/>
<circle cx="58" cy="62" r="2.2" fill="#111"/>
<circle cx="63" cy="55" r="1.5" fill="#111"/>
<circle cx="4" cy="75" r="1" fill="#111"/>
<circle cx="15" cy="76" r="0.8" fill="#111"/>
<circle cx="28" cy="74" r="0.8" fill="#111"/>
<circle cx="77" cy="30" r="1.5" fill="#111"/>
<path d="M24.76,60.36 L26.28,59.86 L27.85,60.15 L29.26,59.39 L30.75,58.8 L32.18,59.5 L33.25,60.69 M17.44,54.16 L18.11,52.71 L19.35,51.7 L20.94,51.88 L22.51,52.19 L23.83,53.09 L24.23,54.64 L23.98,56.22 M61.66,16.23 L60.06,16.21 L59.04,17.44 L57.46,17.72 L55.89,18.01 L54.36,18.48 L53.55,19.86 L53.7,21.46 L54.93,22.48 L56.53,22.42 M61.79,29.27 L61.73,27.67 L62.86,26.53 L64.21,25.67 L65.75,26.1 L66.84,27.26 L68.44,27.21 L69.93,27.8 L71.46,28.26 M22.12,0.1 L23.17,1.31 L24.07,2.63 L24.14,4.23 L23.84,5.8 M65.25,64.05 L65.87,65.52 L66.47,67.01 L67.35,68.34 L68.33,69.61 L69.71,70.4 M76.4,28.61 L77.01,30.09 L76.59,31.64 L76.74,33.23 L76.08,34.69 M15.96,35.55 L17.52,35.93 L19.11,36.09 L20.7,36.25 L22.29,36.43 L23.54,35.43 L24.82,34.47 M20.77,16.65 L22.22,17.32 L22.87,18.78 L24.18,19.7 L25.67,20.3 L26.76,21.47 L27.32,22.97 L27.32,24.57 M24.92,74.32 L25.69,72.92 L25.56,71.33 L26.61,70.12 L27.85,69.11 L29.08,68.09 L30.57,67.51 L32.16,67.71 L33.57,66.96 M14.21,27.65 L14.78,29.14 L15.29,30.66 L14.84,32.2 L14.74,33.79 L13.66,34.98 L12.11,35.37 L10.53,35.6 L8.96,35.89 L7.68,36.85 M47.45,23.02 L49.03,22.79 L50.62,22.64 L51.86,23.66 L51.84,25.26 L52.42,26.75 L52.92,28.27 L53.1,29.86 L54.27,30.96 M53.22,8.46 L54.45,7.43 L54.69,5.85 L55.35,4.39 L56.38,3.17 L57.98,3.07 L59.41,3.79 L60.95,4.2 L62.42,4.85 M13.69,26.51 L12.35,27.38 L10.75,27.37 L9.47,26.41 L7.88,26.55 L6.4,25.95 M67.01,3.13 L68.05,4.35 L69.44,5.14 L70.98,4.71 L71.77,3.32 L72.49,1.89 L73.94,1.22 M18.58,63.96 L18.53,62.36 L18.72,60.77 L19.91,59.7 L20.26,58.14 M5.33,43.24 L4.69,41.78 L5.01,40.21 L4.88,38.62 L5.19,37.05 L4.41,35.65 M41.64,37.84 L40.17,38.48 L38.84,39.36 L37.53,40.28 L37.01,41.8 L36.08,43.1 M17.92,49.43 L19.32,48.66 L19.82,47.14 L19.18,45.67 L17.99,44.6 L16.4,44.68 L14.88,44.17 M16.38,39.94 L15.23,38.83 L13.69,38.4 L12.27,39.14 L10.74,39.61 L9.14,39.62 L7.76,40.42 M24.46,17.79 L24.69,16.21 L24.73,14.61 L24.32,13.06 L25.29,11.78 L25.78,10.26 L26.11,8.69 L25.87,7.11 M5.68,43.22 L4.88,44.61 L4.71,46.2 L4.63,47.8 L3.46,48.89 L2.14,49.79 M75.41,69.28 L74.22,68.2 L73.76,66.67 L73.1,65.21 L73.33,63.63 L72.89,62.09 L72.92,60.49 L74.06,59.37 L75.1,58.16 L74.87,56.57 M24.24,16.07 L22.76,15.46 L21.32,16.15 L19.72,16.19 L18.56,15.09 L17.18,14.27 L15.59,14.4 M39.43,25.38 L40.18,26.79 L39.85,28.36 L39.21,29.82 L37.86,30.7 L36.61,31.68 L35.37,32.7 L35.12,34.28 M10.68,39.56 L10.13,38.06 L8.8,37.17 L7.27,37.64 L5.7,37.3 M73.96,19.78 L72.52,20.46 L71.12,21.25 L70.29,22.61 L70.44,24.21 L71.08,25.67 L71.76,27.12 L72.04,28.7 L71.05,29.95 L69.45,30.01 M64.12,26.96 L64.67,28.46 L65.62,29.75 L67.17,30.14 L67.93,31.54 L68.68,32.96 M19.4,8.64 L18.6,7.26 L18.12,5.73 L18.25,4.14 L17.09,3.03 L15.81,2.08 L14.23,1.81 M21.05,30.97 L22.49,31.69 L23.05,33.19 L22.57,34.71 L23.31,36.13" fill="none" stroke="#1a1a1a" stroke-width="0.55" opacity="0.75"/>
<g fill="#222" opacity="0.7"><circle cx="62.74" cy="11.25" r="0.31"/><circle cx="22.72" cy="4.21" r="0.66"/><circle cx="27.21" cy="68.32" r="0.44"/><circle cx="78.14" cy="64.11" r="0.7"/><circle cx="48.57" cy="35.54" r="0.68"/><circle cx="35.17" cy="8.76" r="0.33"/><circle cx="47.57" cy="29.33" r="0.5"/><circle cx="5.02" cy="43.42" r="0.7"/><circle cx="20.09" cy="49.76" r="0.55"/><circle cx="74.88" cy="33.43" r="0.66"/><circle cx="21.17" cy="57.48" r="0.42"/><circle cx="29.72" cy="71.27" r="0.62"/><circle cx="32.1" cy="73.05" r="0.41"/><circle cx="73.2" cy="1.11" r="0.65"/><circle cx="39.86" cy="49.37" r="0.66"/><circle cx="13.29" cy="15.18" r="0.6"/><circle cx="69.11" cy="60.35" r="0.44"/><circle cx="13.41" cy="50.02" r="0.5"/><circle cx="29.59" cy="73.22" r="0.65"/><circle cx="51.35" cy="42.81" r="0.54"/><circle cx="70.25" cy="34.22" r="0.67"/><circle cx="51.94" cy="5.19" r="0.55"/><circle cx="34.61" cy="23.9" r="0.69"/><circle cx="1.89" cy="6.38" r="0.69"/><circle cx="36.26" cy="64.83" r="0.55"/><circle cx="66.01" cy="0.83" r="0.3"/><circle cx="54.7" cy="51.74" r="0.5"/><circle cx="7.46" cy="2.33" r="0.41"/><circle cx="11.32" cy="57.98" r="0.44"/><circle cx="13.19" cy="1.71" r="0.45"/><circle cx="8.87" cy="74.68" r="0.35"/><circle cx="55.76" cy="36.4" r="0.51"/><circle cx="0.99" cy="72.92" r="0.67"/><circle cx="0.14" cy="47.83" r="0.46"/><circle cx="74" cy="18.13" r="0.44"/><circle cx="57.47" cy="10.73" r="0.3"/><circle cx="73.48" cy="53.31" r="0.57"/><circle cx="71.07" cy="31.61" r="0.54"/><circle cx="15.13" cy="38.77" r="0.32"/><circle cx="77.43" cy="8.94" r="0.62"/><circle cx="28.03" cy="42.19" r="0.37"/><circle cx="14.28" cy="56.17" r="0.54"/><circle cx="58.92" cy="19.34" r="0.51"/><circle cx="21.32" cy="14.98" r="0.49"/><circle cx="21.66" cy="28.42" r="0.65"/><circle cx="77.59" cy="9.09" r="0.62"/><circle cx="71.34" cy="64.64" r="0.46"/><circle cx="72.97" cy="49.26" r="0.38"/><circle cx="27.83" cy="10.83" r="0.39"/><circle cx="73.8" cy="21.8" r="0.31"/><circle cx="69.07" cy="15.61" r="0.62"/><circle cx="52.43" cy="36.74" r="0.64"/><circle cx="28.27" cy="42.54" r="0.67"/><circle cx="59.18" cy="39.08" r="0.55"/><circle cx="24.85" cy="78.23" r="0.5"/><circle cx="78.07" cy="71.11" r="0.43"/><circle cx="24.77" cy="62.72" r="0.51"/><circle cx="77.39" cy="35.83" r="0.56"/><circle cx="20.45" cy="71.74" r="0.3"/><circle cx="29.28" cy="22.31" r="0.58"/><circle cx="59.92" cy="2.22" r="0.39"/><circle cx="31.67" cy="69.51" r="0.68"/><circle cx="33.49" cy="43.23" r="0.54"/><circle cx="21.88" cy="4.82" r="0.49"/><circle cx="70.87" cy="12.36" r="0.63"/><circle cx="53.45" cy="33.34" r="0.43"/><circle cx="7.71" cy="57.42" r="0.58"/><circle cx="56.77" cy="29.74" r="0.37"/><circle cx="44.05" cy="47.89" r="0.53"/><circle cx="45.88" cy="69.4" r="0.68"/><circle cx="45.33" cy="73.29" r="0.35"/><circle cx="70.2" cy="70.31" r="0.38"/><circle cx="7.49" cy="32.91" r="0.45"/><circle cx="43.06" cy="76.6" r="0.52"/><circle cx="1.64" cy="42.5" r="0.68"/><circle cx="38.49" cy="11.37" r="0.63"/><circle cx="74.57" cy="5.04" r="0.37"/><circle cx="54.91" cy="29.75" r="0.4"/><circle cx="51.16" cy="59.91" r="0.39"/><circle cx="9.98" cy="0.87" r="0.7"/><circle cx="43.1" cy="48.33" r="0.46"/><circle cx="5.84" cy="0.52" r="0.37"/><circle cx="33.75" cy="56.96" r="0.69"/><circle cx="54.34" cy="9.94" r="0.42"/><circle cx="21.99" cy="30.89" r="0.54"/><circle cx="7.86" cy="59.22" r="0.66"/><circle cx="46.66" cy="69.53" r="0.43"/><circle cx="47.26" cy="47.53" r="0.4"/><circle cx="25.11" cy="35.68" r="0.39"/><circle cx="53.23" cy="56.76" r="0.67"/><circle cx="41.82" cy="63.65" r="0.62"/><circle cx="47.6" cy="46.15" r="0.59"/><circle cx="36.22" cy="73" r="0.67"/><circle cx="66.95" cy="4.8" r="0.51"/><circle cx="71.77" cy="75.46" r="0.33"/><circle cx="40.25" cy="8.91" r="0.64"/><circle cx="6.24" cy="10.85" r="0.48"/><circle cx="45.07" cy="28.73" r="0.31"/><circle cx="25.85" cy="73.07" r="0.49"/><circle cx="35.6" cy="65.07" r="0.61"/><circle cx="44.31" cy="73.83" r="0.36"/><circle cx="47.05" cy="22.39" r="0.62"/><circle cx="21.46" cy="11.84" r="0.33"/><circle cx="17.93" cy="73.74" r="0.39"/><circle cx="19.98" cy="75.14" r="0.66"/><circle cx="43.07" cy="29.94" r="0.61"/><circle cx="3.08" cy="66.72" r="0.62"/><circle cx="54.19" cy="19.98" r="0.57"/><circle cx="51" cy="34.07" r="0.55"/><circle cx="43.64" cy="39.14" r="0.43"/><circle cx="21.43" cy="14.31" r="0.36"/><circle cx="57.04" cy="16.84" r="0.6"/><circle cx="28.99" cy="28.93" r="0.42"/><circle cx="23.11" cy="19.1" r="0.31"/><circle cx="74.5" cy="42.64" r="0.34"/><circle cx="22.85" cy="16.95" r="0.46"/><circle cx="20.11" cy="12.52" r="0.59"/><circle cx="45.34" cy="2.84" r="0.59"/><circle cx="53.47" cy="12.31" r="0.49"/><circle cx="68.97" cy="21.52" r="0.55"/></g>
<path d="M23.15,29.45 L24.92,28.41 L27.01,27.46 L28.94,27.06 L31.64,27.21 L34.11,27.32 L35.94,28.03 L38.67,28.87 L40.44,29.92 L42.31,31.17 L43.88,32.82 L45.92,34.82 L47.17,36.31 L48.65,38.88 L49.29,41.35 L50.34,43.78 L51.04,46.26 L51.45,48.74 L51.75,51.89 L50.76,54.26 L50.7,56.74 L49.19,58.59 L47.8,60.53 L46.47,61.78 L44,63.5 L42.67,64.52 L40.71,65.27 L38.25,65.94 L36.15,65.33 L33.16,65.16 L31.27,64.42 L28.96,64.09 L27,62.54 L25.39,61.42 L23.91,60.49 L22.53,58.67 L21.42,56.25 L20.03,54.87 L19.75,52.06 L18.81,50.75 L18.27,49 L18,47.96 L17.16,47.73 L16.04,46.87 L14.38,46.39 L13.69,45.72 L14.6,45.27 L14.88,43.56 L15.95,42.07 L16.73,40.67 L17.18,38.68 L17.61,36.1 L18.14,35.08 L18.8,33.77 L20.17,31.97 L20.98,31.1 L21.58,30.3Z" fill="#151515"/>
<g clip-path="url(#c37)"><rect x="0" y="0" width="78.5" height="78.4" fill="#000" opacity="1" filter="url(#grainL)"/></g>
<path d="M28.64,47.26 L28.28,47.77 L27.41,47.76 L26.24,48 L24.6,48.99 L22.66,50.23 L21.12,50.9 L20.27,50.7 L19.82,49.93 L19.58,48.8 L19.45,47.11 L19.53,45.05 L19.95,43.34 L20.88,42.22 L22.15,41.45 L23.37,41.03 L24.45,40.91 L25.48,41.14 L26.42,41.87 L27.39,43.51 L28.27,45.64Z" fill="#2ee82e" filter="url(#blur05)"/>
<path d="M22.67,48.31 L22.9,49.1 L23.07,49.89 L22.93,50.43 L22.3,50.56 L21.37,50.43 L20.42,50.27 L19.44,50.21 L18.46,50.13 L17.82,49.87 L17.7,49.36 L17.94,48.68 L18.36,47.99 L19.03,47.25 L19.89,46.49 L20.63,46 L21.12,45.87 L21.49,45.99 L21.83,46.31 L22.16,46.85 L22.44,47.57Z" fill="#2ee82e" filter="url(#blur05)"/>
<path d="M28.14,38.2 L27.81,39.14 L27.27,40.25 L26.74,41.15 L26.3,41.8 L25.86,42.26 L25.44,42.35 L24.99,41.9 L24.55,41.08 L24.26,40.25 L24.17,39.54 L24.23,38.81 L24.45,38.03 L24.87,37.02 L25.46,35.97 L26.05,35.36 L26.64,35.49 L27.24,36.06 L27.7,36.66 L28.01,37.1 L28.18,37.57Z" fill="#2ee82e" filter="url(#blur05)"/>
<path d="M48.44,57.61 L48.3,57.85 L48.04,58.06 L47.82,58.25 L47.71,58.45 L47.62,58.62 L47.47,58.67 L47.14,58.51 L46.73,58.21 L46.45,57.93 L46.38,57.73 L46.42,57.54 L46.53,57.33 L46.71,57.03 L46.95,56.72 L47.2,56.53 L47.49,56.52 L47.79,56.64 L48.04,56.81 L48.24,57.05 L48.39,57.34Z" fill="#2ee82e" filter="url(#blur05)"/>
<path d="M28.18,33.91 L28.13,34.15 L27.92,34.39 L27.68,34.6 L27.41,34.81 L27.09,35 L26.8,35.04 L26.54,34.85 L26.3,34.53 L26.16,34.23 L26.13,34.02 L26.2,33.84 L26.29,33.66 L26.39,33.44 L26.51,33.23 L26.67,33.09 L26.88,33.07 L27.14,33.14 L27.4,33.26 L27.71,33.44 L28.02,33.67Z" fill="#2ee82e" filter="url(#blur05)"/>
<path d="M23.15,29.45 L24.92,28.41 L27.01,27.46 L28.94,27.06 L31.64,27.21 L34.11,27.32 L35.94,28.03 L38.67,28.87 L40.44,29.92 L42.31,31.17 L43.88,32.82 L45.92,34.82 L47.17,36.31 L48.65,38.88 L49.29,41.35 L50.34,43.78 L51.04,46.26 L51.45,48.74 L51.75,51.89 L50.76,54.26 L50.7,56.74 L49.19,58.59 L47.8,60.53 L46.47,61.78 L44,63.5 L42.67,64.52 L40.71,65.27 L38.25,65.94 L36.15,65.33 L33.16,65.16 L31.27,64.42 L28.96,64.09 L27,62.54 L25.39,61.42 L23.91,60.49 L22.53,58.67 L21.42,56.25 L20.03,54.87 L19.75,52.06 L18.81,50.75 L18.27,49 L18,47.96 L17.16,47.73 L16.04,46.87 L14.38,46.39 L13.69,45.72 L14.6,45.27 L14.88,43.56 L15.95,42.07 L16.73,40.67 L17.18,38.68 L17.61,36.1 L18.14,35.08 L18.8,33.77 L20.17,31.97 L20.98,31.1 L21.58,30.3Z" fill="none" stroke="#d81c1c" stroke-width="0.75" stroke-linejoin="round"/>
<g stroke="#d8d098" stroke-width="0.7" fill="none"><path d="M3.5,67.4 V70.4 H45 V67.4"/></g>
<g font-size="3.2" fill="#d8d098" font-family="'Liberation Sans', Arial, sans-serif"><text x="3" y="66.4">0</text><text x="22" y="66.4">µm</text><text x="42" y="66.4">300</text></g>
</g>
<g transform="translate(630.5,287.1)" clip-path="url(#c38)">
<rect x="0" y="0" width="78.5" height="78.4" fill="#7b7b7b" filter="url(#mtex)"/>
<circle cx="65.5" cy="8" r="2.2" fill="#111"/>
<circle cx="58.5" cy="61" r="2.8" fill="#111"/>
<circle cx="3.5" cy="75" r="1.5" fill="#111"/>
<circle cx="28" cy="75" r="1.4" fill="#111"/>
<circle cx="76" cy="31" r="1.3" fill="#1a6a1a"/>
<path d="M61.55,31.8 L62.42,30.46 L63.92,29.89 L65.35,30.6 L66.13,32 M50.7,76.45 L51.51,77.83 L52.13,79.31 L52.99,80.65 L53.36,82.21 L52.96,83.76 L51.74,84.79 L50.14,84.95 M74.46,48.36 L72.94,47.88 L71.34,47.76 L70.25,46.59 L69.36,45.26 L68.11,44.26 L67.27,42.89 L65.72,42.52 L64.39,43.42 M73.13,27.58 L72.11,26.35 L70.56,25.95 L69.18,26.75 L68.19,28.01 M60.05,10.24 L60.88,11.6 L62.25,12.42 L63.83,12.15 L64.89,10.95 L65.18,9.37 L66.27,8.2 L67.85,8 M73.67,26.92 L75.22,27.3 L76.69,27.94 L78.2,27.41 L79.37,26.32 L80.92,25.92 L82.37,25.25 L83.95,24.99 L85.09,23.87 L85.49,22.32 M72.09,59.36 L73.65,59.69 L74.91,58.7 L76.11,57.65 L77.55,56.94 L79.04,56.38 L80,55.1 L81.53,54.6 L83,53.98 M53.38,10.12 L54.87,9.54 L55.36,8.01 L55.83,6.48 L56.47,5.02 L56.84,3.46 L58.15,2.54 L59.67,2.05 L61.17,1.5 L62.19,0.26 M71.74,55.78 L73.02,54.82 L73.53,53.3 L74.96,52.58 L76.5,53.02 M58.15,56.5 L59.63,55.9 L60.56,54.6 L60.25,53.03 L61.15,51.71 L61.64,50.19 L60.91,48.76 L60.75,47.17 L59.5,46.18 L58.27,45.15" fill="none" stroke="#1a1a1a" stroke-width="0.55" opacity="0.75"/>
<g fill="#222" opacity="0.7"><circle cx="51.97" cy="10.49" r="0.46"/><circle cx="39.58" cy="41.24" r="0.57"/><circle cx="62.52" cy="70.84" r="0.45"/><circle cx="20.53" cy="62.24" r="0.59"/><circle cx="26.6" cy="7.36" r="0.38"/><circle cx="7.71" cy="68.18" r="0.34"/><circle cx="42.84" cy="19.74" r="0.46"/><circle cx="6.19" cy="68.3" r="0.7"/><circle cx="22.48" cy="75.15" r="0.69"/><circle cx="47.09" cy="60.6" r="0.56"/><circle cx="51.49" cy="17.45" r="0.67"/><circle cx="41.43" cy="5.83" r="0.33"/><circle cx="60.67" cy="2.95" r="0.38"/><circle cx="38.09" cy="51.36" r="0.41"/><circle cx="35.06" cy="77.02" r="0.57"/><circle cx="25.73" cy="63.42" r="0.4"/><circle cx="58.91" cy="21.55" r="0.61"/><circle cx="41.39" cy="29.29" r="0.59"/><circle cx="17.18" cy="69.95" r="0.35"/><circle cx="77.99" cy="74.98" r="0.49"/><circle cx="59.86" cy="28.5" r="0.68"/><circle cx="17.77" cy="63.45" r="0.7"/><circle cx="42.42" cy="3.18" r="0.38"/><circle cx="61.4" cy="47.98" r="0.48"/><circle cx="31.64" cy="57.48" r="0.67"/><circle cx="64.74" cy="31.23" r="0.35"/><circle cx="10.43" cy="19.09" r="0.42"/><circle cx="70.76" cy="42.92" r="0.48"/><circle cx="39.13" cy="24.39" r="0.34"/><circle cx="56.36" cy="59.61" r="0.55"/><circle cx="3.39" cy="50.72" r="0.31"/><circle cx="52.64" cy="60.75" r="0.4"/><circle cx="20.55" cy="29.95" r="0.39"/><circle cx="12.67" cy="13.36" r="0.46"/><circle cx="32.26" cy="53.68" r="0.44"/><circle cx="51.09" cy="5.18" r="0.5"/><circle cx="75.91" cy="39.36" r="0.61"/><circle cx="41.53" cy="60.67" r="0.66"/><circle cx="28.62" cy="59.16" r="0.32"/><circle cx="64.21" cy="1.85" r="0.3"/><circle cx="46.29" cy="18.66" r="0.68"/><circle cx="24.65" cy="33.48" r="0.51"/><circle cx="77.06" cy="16.52" r="0.62"/><circle cx="56.99" cy="6.62" r="0.37"/><circle cx="63.25" cy="65.65" r="0.57"/><circle cx="46.72" cy="44.6" r="0.51"/><circle cx="28.1" cy="25.57" r="0.54"/><circle cx="72.26" cy="64.58" r="0.31"/><circle cx="54.7" cy="53.11" r="0.59"/><circle cx="54.89" cy="17.41" r="0.43"/><circle cx="78.18" cy="5.67" r="0.5"/><circle cx="36.2" cy="10.08" r="0.68"/><circle cx="67.99" cy="58.65" r="0.49"/><circle cx="28.14" cy="23.65" r="0.49"/><circle cx="31.18" cy="65.46" r="0.56"/><circle cx="50.6" cy="14.34" r="0.44"/><circle cx="47.7" cy="50.22" r="0.66"/><circle cx="64.95" cy="51.3" r="0.53"/><circle cx="1.13" cy="38.25" r="0.41"/><circle cx="16.58" cy="42.9" r="0.52"/></g>
<path d="M19.39,32.49 L21.87,30.89 L23.97,29.75 L25.57,29.12 L28.39,28.19 L30.22,27.77 L32.9,27.43 L35.31,27.92 L36.61,28.23 L39.32,29.65 L41.34,29.47 L43.76,29.72 L45.45,30.31 L46.1,31.42 L46.56,33.82 L46.78,35.39 L48.15,37.08 L48.99,39.18 L50.13,41.6 L51.67,43.19 L52.49,45.69 L52.92,47.18 L52.94,49.61 L53.23,52.31 L52.41,54.3 L50.87,57.26 L49.5,59.74 L47.77,61.88 L45.93,63.32 L43.76,64.94 L42.17,65.71 L40.05,67.08 L38.18,67.85 L36.39,68.43 L33.79,68.7 L32.2,67.34 L30.18,66.44 L27.93,65.72 L26.19,63.85 L25.2,62.83 L22.84,61.35 L21.24,59.49 L19.45,57.25 L18.5,55.57 L16.98,54.07 L15.7,51.96 L14.86,49.34 L13.2,46.39 L12.6,44.38 L12.4,42.31 L13.14,41.07 L14.02,39.27 L14.76,37.84 L15.89,36.46 L17.01,35.65 L17.85,34.38 L18.38,33.29Z" fill="#38ec38"/>
<path d="M40.03,46.34 L40.62,47.52 L41.12,48.37 L40.99,49.08 L39.89,49.6 L38.18,49.97 L36.43,50.44 L34.72,51.38 L32.97,52.43 L31.53,52.79 L30.56,52.03 L29.91,50.58 L29.41,48.94 L28.91,47.21 L28.57,45.29 L28.69,43.4 L29.45,41.5 L30.68,39.63 L32.12,38.14 L33.93,37.02 L35.97,36.28 L37.48,36.25 L37.99,37.23 L37.99,38.91 L38.12,40.72 L38.7,42.61 L39.42,44.64Z" fill="#1a1a1a" opacity="0.95" filter="url(#blur1)"/>
<path d="M33.93,56.59 L33.77,57.4 L33.53,58.18 L33.07,58.92 L32.22,59.77 L31.15,60.59 L30.2,60.97 L29.66,60.64 L29.25,59.87 L28.52,59.07 L26.96,58.36 L25.09,57.62 L24.01,56.85 L24.45,56.01 L25.68,55.15 L26.7,54.41 L26.97,53.84 L27.03,53.39 L27.41,52.96 L28.44,52.44 L29.78,51.94 L31.06,51.82 L32.24,52.28 L33.36,53.1 L34.11,53.98 L34.32,54.82 L34.16,55.72Z" fill="#1a1a1a" opacity="0.95" filter="url(#blur1)"/>
<path d="M44.44,51.52 L44.47,52.12 L44.51,52.78 L44.35,53.41 L43.88,54.07 L43.22,54.7 L42.57,55.18 L42.04,55.45 L41.52,55.55 L40.89,55.46 L39.98,55.16 L38.96,54.65 L38.25,53.93 L38.01,52.83 L38.08,51.52 L38.35,50.38 L38.8,49.56 L39.45,48.91 L40.18,48.37 L41.04,47.81 L42,47.36 L42.84,47.33 L43.54,48.02 L44.13,49.13 L44.53,50.1 L44.63,50.66 L44.53,51.06Z" fill="#1a1a1a" opacity="0.9" filter="url(#blur1)"/>
<path d="M28.21,39.61 L28.12,40.25 L27.93,41.05 L27.68,41.69 L27.38,42.02 L27.02,42.18 L26.54,42.23 L25.83,42.17 L25.01,42 L24.33,41.84 L23.91,41.82 L23.64,41.8 L23.43,41.59 L23.2,41 L23.03,40.21 L23.04,39.51 L23.32,39.01 L23.78,38.61 L24.29,38.2 L24.82,37.63 L25.4,37.06 L26,36.88 L26.7,37.38 L27.43,38.27 L27.96,38.99 L28.2,39.26 L28.25,39.35Z" fill="#1a1a1a" opacity="0.8" filter="url(#blur1)"/>
<path d="M47.11,35.85 L47.24,36.41 L47.28,37.03 L47.16,37.56 L46.85,38 L46.38,38.35 L45.78,38.56 L44.98,38.59 L44.05,38.48 L43.29,38.28 L42.77,38.01 L42.41,37.65 L42.28,37.2 L42.48,36.62 L42.9,35.96 L43.28,35.38 L43.49,34.97 L43.66,34.66 L43.9,34.38 L44.3,34.1 L44.77,33.86 L45.22,33.79 L45.61,33.95 L45.97,34.28 L46.3,34.64 L46.62,35 L46.91,35.4Z" fill="#1a1a1a" opacity="0.7" filter="url(#blur1)"/>
<path d="M22.27,48.57 L22.25,48.93 L22.02,49.16 L21.68,49.48 L21.19,50.1 L20.58,50.8 L20.05,51.19 L19.7,51.07 L19.44,50.64 L19.19,50.13 L18.9,49.56 L18.63,48.92 L18.42,48.37 L18.29,48.06 L18.24,47.85 L18.28,47.47 L18.41,46.68 L18.64,45.73 L18.98,45.06 L19.54,44.87 L20.21,44.97 L20.73,45.19 L20.92,45.49 L20.95,45.92 L21.07,46.45 L21.48,47.14 L21.97,47.92Z" fill="#1a1a1a" opacity="0.6" filter="url(#blur1)"/>
<path d="M41.51,63.41 L41.24,64.07 L40.64,64.83 L39.99,65.46 L39.4,65.9 L38.77,66.21 L38.14,66.35 L37.48,66.26 L36.83,66 L36.27,65.68 L35.81,65.35 L35.44,64.97 L35.18,64.53 L35.05,63.97 L35.03,63.35 L35.16,62.88 L35.44,62.67 L35.86,62.59 L36.44,62.5 L37.29,62.31 L38.29,62.09 L39.1,61.97 L39.51,61.96 L39.73,62.03 L40.02,62.22 L40.58,62.52 L41.21,62.92Z" fill="#1a1a1a" opacity="0.8" filter="url(#blur1)"/>
<g fill="#0a200a" opacity="0.85"><circle cx="30.84" cy="60.21" r="0.69"/><circle cx="17.95" cy="52.37" r="0.45"/><circle cx="36" cy="58.56" r="0.87"/><circle cx="47.93" cy="46.1" r="0.83"/><circle cx="45.33" cy="52.81" r="0.55"/><circle cx="27.05" cy="47.41" r="0.57"/><circle cx="30.73" cy="44.68" r="0.36"/><circle cx="43.83" cy="30.35" r="0.77"/><circle cx="29.89" cy="55.13" r="0.64"/><circle cx="27.83" cy="58.06" r="0.47"/><circle cx="21.1" cy="48.56" r="0.41"/><circle cx="39.11" cy="64.72" r="0.74"/><circle cx="34.87" cy="68" r="0.64"/><circle cx="44.36" cy="32.29" r="0.65"/><circle cx="15.71" cy="50.47" r="0.44"/><circle cx="26.98" cy="37.91" r="0.81"/><circle cx="36.74" cy="66.63" r="0.49"/><circle cx="37.22" cy="43.51" r="0.82"/><circle cx="16.4" cy="51.48" r="0.78"/><circle cx="27.67" cy="42.72" r="0.79"/><circle cx="25.84" cy="61.53" r="0.52"/><circle cx="28.23" cy="48.9" r="0.47"/><circle cx="20.17" cy="50.72" r="0.55"/><circle cx="41.43" cy="31.47" r="0.85"/><circle cx="33.01" cy="53.56" r="0.56"/><circle cx="14.8" cy="44.66" r="0.89"/><circle cx="37.5" cy="44.92" r="0.83"/><circle cx="22.29" cy="39.5" r="0.57"/><circle cx="36.72" cy="65.42" r="0.64"/><circle cx="28.2" cy="55.91" r="0.74"/><circle cx="28.42" cy="32.73" r="0.81"/><circle cx="39.81" cy="57.38" r="0.54"/><circle cx="30.15" cy="45.22" r="0.54"/><circle cx="43.71" cy="52.31" r="0.82"/><circle cx="36.24" cy="28.27" r="0.53"/><circle cx="36.89" cy="56.02" r="0.65"/><circle cx="32.43" cy="41.21" r="0.51"/><circle cx="37.92" cy="35.02" r="0.43"/><circle cx="28.31" cy="37.03" r="0.35"/><circle cx="16.69" cy="44.11" r="0.57"/><circle cx="30.38" cy="31.61" r="0.64"/><circle cx="41.99" cy="50.95" r="0.76"/><circle cx="26.83" cy="63.98" r="0.41"/><circle cx="14.23" cy="41.57" r="0.46"/><circle cx="30.18" cy="32.69" r="0.37"/><circle cx="15.26" cy="45.71" r="0.58"/><circle cx="44.41" cy="56.98" r="0.77"/><circle cx="33.09" cy="45.63" r="0.8"/><circle cx="45.36" cy="60.25" r="0.86"/><circle cx="22.96" cy="41.45" r="0.6"/><circle cx="19.56" cy="47.31" r="0.67"/><circle cx="50.13" cy="58.33" r="0.57"/><circle cx="43.69" cy="55.72" r="0.81"/><circle cx="28.08" cy="50.63" r="0.53"/><circle cx="20.65" cy="40.57" r="0.5"/><circle cx="36.95" cy="32.82" r="0.4"/><circle cx="26.53" cy="30.66" r="0.38"/><circle cx="18.27" cy="36.65" r="0.86"/><circle cx="14.89" cy="42.49" r="0.63"/><circle cx="23.65" cy="31.16" r="0.52"/><circle cx="19.92" cy="41.11" r="0.6"/><circle cx="13.87" cy="42.27" r="0.41"/><circle cx="48.01" cy="43.27" r="0.54"/><circle cx="42.16" cy="29.66" r="0.42"/><circle cx="23.66" cy="30.59" r="0.68"/><circle cx="44.58" cy="36.05" r="0.81"/><circle cx="48.25" cy="38.39" r="0.55"/><circle cx="50.26" cy="46.54" r="0.64"/><circle cx="23.58" cy="59.62" r="0.72"/><circle cx="49.44" cy="54.72" r="0.63"/><circle cx="18.15" cy="37.95" r="0.44"/><circle cx="42.84" cy="55.24" r="0.52"/><circle cx="33.67" cy="51.23" r="0.68"/><circle cx="37.2" cy="52.24" r="0.87"/><circle cx="48.21" cy="60.67" r="0.48"/><circle cx="30.71" cy="62.87" r="0.38"/><circle cx="22.37" cy="40.85" r="0.89"/><circle cx="40.73" cy="65.29" r="0.83"/><circle cx="48.31" cy="59.49" r="0.64"/><circle cx="31.67" cy="62.21" r="0.79"/><circle cx="36.2" cy="43.31" r="0.72"/><circle cx="30.12" cy="57.48" r="0.63"/><circle cx="25.74" cy="54.86" r="0.44"/><circle cx="45.32" cy="56.22" r="0.79"/><circle cx="23.57" cy="34.89" r="0.52"/><circle cx="37.19" cy="52.86" r="0.46"/><circle cx="49.88" cy="48.06" r="0.67"/><circle cx="31.66" cy="40.02" r="0.4"/><circle cx="23.35" cy="30.29" r="0.67"/><circle cx="48.81" cy="42.04" r="0.88"/></g>
<path d="M19.39,32.49 L21.87,30.89 L23.97,29.75 L25.57,29.12 L28.39,28.19 L30.22,27.77 L32.9,27.43 L35.31,27.92 L36.61,28.23 L39.32,29.65 L41.34,29.47 L43.76,29.72 L45.45,30.31 L46.1,31.42 L46.56,33.82 L46.78,35.39 L48.15,37.08 L48.99,39.18 L50.13,41.6 L51.67,43.19 L52.49,45.69 L52.92,47.18 L52.94,49.61 L53.23,52.31 L52.41,54.3 L50.87,57.26 L49.5,59.74 L47.77,61.88 L45.93,63.32 L43.76,64.94 L42.17,65.71 L40.05,67.08 L38.18,67.85 L36.39,68.43 L33.79,68.7 L32.2,67.34 L30.18,66.44 L27.93,65.72 L26.19,63.85 L25.2,62.83 L22.84,61.35 L21.24,59.49 L19.45,57.25 L18.5,55.57 L16.98,54.07 L15.7,51.96 L14.86,49.34 L13.2,46.39 L12.6,44.38 L12.4,42.31 L13.14,41.07 L14.02,39.27 L14.76,37.84 L15.89,36.46 L17.01,35.65 L17.85,34.38 L18.38,33.29Z" fill="none" stroke="#d81c1c" stroke-width="0.75" stroke-linejoin="round"/>
<g stroke="#d8d098" stroke-width="0.7" fill="none"><path d="M3.5,67.4 V70.4 H45 V67.4"/></g>
<g font-size="3.2" fill="#d8d098" font-family="'Liberation Sans', Arial, sans-serif"><text x="3" y="66.4">0</text><text x="22" y="66.4">µm</text><text x="42" y="66.4">300</text></g>
</g>
<text x="5.2" y="426.6" font-size="21" text-anchor="start" fill="#000" font-family="'Liberation Serif', 'Times New Roman', serif" font-weight="bold">c</text>
<text transform="translate(26.2,473.9) rotate(-90)" font-size="11.5" text-anchor="middle" fill="#000" textLength="50.5" lengthAdjust="spacingAndGlyphs" >Cell death</text>
<text transform="translate(39.6,473.9) rotate(-90)" font-size="11.5" text-anchor="middle" fill="#000" textLength="149.5" lengthAdjust="spacingAndGlyphs" >(Sytox Intensity (GCU x µm²))</text>
<text x="181.2" y="410.6" font-size="12.5" text-anchor="middle" fill="#000" >U87</text>
<line x1="135" y1="413.9" x2="228.8" y2="413.9" stroke="#444" stroke-width="1.2" />
<g stroke="#000" stroke-width="1.2" fill="none">
<line x1="117" y1="422.4" x2="117" y2="527.9" stroke="#000" stroke-width="1" />
<line x1="116.4" y1="527.3" x2="222.2" y2="527.3" stroke="#000" stroke-width="1" />
<line x1="111.9" y1="432.3" x2="117" y2="432.3" stroke="#000" stroke-width="1" />
<line x1="111.9" y1="456.1" x2="117" y2="456.1" stroke="#000" stroke-width="1" />
<line x1="111.9" y1="479.9" x2="117" y2="479.9" stroke="#000" stroke-width="1" />
<line x1="111.9" y1="503.7" x2="117" y2="503.7" stroke="#000" stroke-width="1" />
<line x1="111.9" y1="527.3" x2="117" y2="527.3" stroke="#000" stroke-width="1" />
<line x1="116.6" y1="527.3" x2="116.6" y2="532.3" stroke="#000" stroke-width="1" />
<line x1="145.8" y1="527.3" x2="145.8" y2="532.3" stroke="#000" stroke-width="1" />
<line x1="175.1" y1="527.3" x2="175.1" y2="532.3" stroke="#000" stroke-width="1" />
<line x1="204.3" y1="527.3" x2="204.3" y2="532.3" stroke="#000" stroke-width="1" />
</g>
<text y="435.6" font-size="13"><tspan x="57.85">2.0</tspan><tspan x="76.8" font-size="11.5" dy="1.26">×</tspan><tspan x="85.3" dy="-1.26">10</tspan><tspan x="100.7" font-size="7.5" dy="-4.4">6</tspan></text>
<text y="459.4" font-size="13"><tspan x="57.85">1.5</tspan><tspan x="76.8" font-size="11.5" dy="1.26">×</tspan><tspan x="85.3" dy="-1.26">10</tspan><tspan x="100.7" font-size="7.5" dy="-4.4">6</tspan></text>
<text y="483.2" font-size="13"><tspan x="57.85">1.0</tspan><tspan x="76.8" font-size="11.5" dy="1.26">×</tspan><tspan x="85.3" dy="-1.26">10</tspan><tspan x="100.7" font-size="7.5" dy="-4.4">6</tspan></text>
<text y="507" font-size="13"><tspan x="57.85">5.0</tspan><tspan x="76.8" font-size="11.5" dy="1.26">×</tspan><tspan x="85.3" dy="-1.26">10</tspan><tspan x="100.7" font-size="7.5" dy="-4.4">5</tspan></text>
<text x="104.5" y="531.7" font-size="12.5" text-anchor="end" fill="#000" >0</text>
<text x="116.8" y="546.6" font-size="13.3" text-anchor="middle" fill="#000" >0</text>
<text x="145.95" y="546.6" font-size="13.3" text-anchor="middle" fill="#000" >20</text>
<text x="175.15" y="546.6" font-size="13.3" text-anchor="middle" fill="#000" >40</text>
<text x="204.3" y="546.6" font-size="13.3" text-anchor="middle" fill="#000" >60</text>
<text x="170" y="565.2" font-size="14.2" text-anchor="middle" fill="#000" textLength="81" lengthAdjust="spacingAndGlyphs" >Time (hours)</text>
<polyline points="116.6,524.4 122.45,522.5 128.29,521.5 134.14,519.8 139.99,519.2 145.83,517.8 151.68,517 157.53,515.9 163.37,515 169.22,515 175.07,514.6 180.91,512.1 186.76,510.4 192.61,510.4 198.46,508.8 204.3,508.3 210.15,507.2 216,506.8 221.84,505.5" fill="none" stroke="#2aa5c8" stroke-width="1.0" stroke-linejoin="round"/>
<path d="M151.68,516V518M150.08,516H153.28M150.08,518H153.28M157.53,514.9V516.9M155.93,514.9H159.13M155.93,516.9H159.13M163.37,513.5V516.5M161.77,513.5H164.97M161.77,516.5H164.97M169.22,513.5V516.5M167.62,513.5H170.82M167.62,516.5H170.82M175.07,512.6V516.6M173.47,512.6H176.67M173.47,516.6H176.67M180.91,508.6V515.6M179.31,508.6H182.51M179.31,515.6H182.51M186.76,507.4V513.4M185.16,507.4H188.36M185.16,513.4H188.36M192.61,508.4V512.4M191.01,508.4H194.21M191.01,512.4H194.21M198.46,505.8V511.8M196.86,505.8H200.06M196.86,511.8H200.06M204.3,505.3V511.3M202.7,505.3H205.9M202.7,511.3H205.9M210.15,503.7V510.7M208.55,503.7H211.75M208.55,510.7H211.75M216,503.8V509.8M214.4,503.8H217.6M214.4,509.8H217.6M221.84,502V509M220.24,502H223.44M220.24,509H223.44" stroke="#2aa5c8" stroke-width="0.9" fill="none"/>
<g fill="#2aa5c8"><circle cx="116.6" cy="524.4" r="1.7"/><circle cx="122.45" cy="522.5" r="1.7"/><circle cx="128.29" cy="521.5" r="1.7"/><circle cx="134.14" cy="519.8" r="1.7"/><circle cx="139.99" cy="519.2" r="1.7"/><circle cx="145.83" cy="517.8" r="1.7"/><circle cx="151.68" cy="517" r="1.7"/><circle cx="157.53" cy="515.9" r="1.7"/><circle cx="163.37" cy="515" r="1.7"/><circle cx="169.22" cy="515" r="1.7"/><circle cx="175.07" cy="514.6" r="1.7"/><circle cx="180.91" cy="512.1" r="1.7"/><circle cx="186.76" cy="510.4" r="1.7"/><circle cx="192.61" cy="510.4" r="1.7"/><circle cx="198.46" cy="508.8" r="1.7"/><circle cx="204.3" cy="508.3" r="1.7"/><circle cx="210.15" cy="507.2" r="1.7"/><circle cx="216" cy="506.8" r="1.7"/><circle cx="221.84" cy="505.5" r="1.7"/></g>
<polyline points="116.6,524.4 122.45,522 128.29,520.8 134.14,519.2 139.99,518.7 145.83,516.5 151.68,514.2 157.53,512.9 163.37,512 169.22,512 175.07,510.4 180.91,506.3 186.76,508.3 192.61,511.3 198.46,508.3 204.3,508.8 210.15,508.3 216,509.3 221.84,509.3" fill="none" stroke="#22cc22" stroke-width="1.0" stroke-linejoin="round"/>
<path d="M151.68,513.2V515.2M150.08,513.2H153.28M150.08,515.2H153.28M157.53,511.9V513.9M155.93,511.9H159.13M155.93,513.9H159.13M163.37,510.5V513.5M161.77,510.5H164.97M161.77,513.5H164.97M169.22,510.5V513.5M167.62,510.5H170.82M167.62,513.5H170.82M175.07,508.4V512.4M173.47,508.4H176.67M173.47,512.4H176.67M180.91,502.8V509.8M179.31,502.8H182.51M179.31,509.8H182.51M186.76,505.3V511.3M185.16,505.3H188.36M185.16,511.3H188.36M192.61,509.3V513.3M191.01,509.3H194.21M191.01,513.3H194.21M198.46,505.3V511.3M196.86,505.3H200.06M196.86,511.3H200.06M204.3,505.8V511.8M202.7,505.8H205.9M202.7,511.8H205.9M210.15,504.8V511.8M208.55,504.8H211.75M208.55,511.8H211.75M216,506.3V512.3M214.4,506.3H217.6M214.4,512.3H217.6M221.84,505.8V512.8M220.24,505.8H223.44M220.24,512.8H223.44" stroke="#22cc22" stroke-width="0.9" fill="none"/>
<g fill="#22cc22"><circle cx="116.6" cy="524.4" r="1.9"/><circle cx="122.45" cy="522" r="1.9"/><circle cx="128.29" cy="520.8" r="1.9"/><circle cx="134.14" cy="519.2" r="1.9"/><circle cx="139.99" cy="518.7" r="1.9"/><circle cx="145.83" cy="516.5" r="1.9"/><circle cx="151.68" cy="514.2" r="1.9"/><circle cx="157.53" cy="512.9" r="1.9"/><circle cx="163.37" cy="512" r="1.9"/><circle cx="169.22" cy="512" r="1.9"/><circle cx="175.07" cy="510.4" r="1.9"/><circle cx="180.91" cy="506.3" r="1.9"/><circle cx="186.76" cy="508.3" r="1.9"/><circle cx="192.61" cy="511.3" r="1.9"/><circle cx="198.46" cy="508.3" r="1.9"/><circle cx="204.3" cy="508.8" r="1.9"/><circle cx="210.15" cy="508.3" r="1.9"/><circle cx="216" cy="509.3" r="1.9"/><circle cx="221.84" cy="509.3" r="1.9"/></g>
<polyline points="116.6,524.4 122.45,522.5 128.29,521 134.14,519.5 139.99,518.5 145.83,516.5 151.68,507.7 157.53,497.8 163.37,490.7 169.22,483.3 175.07,477.2 180.91,464.5 186.76,462.9 192.61,459.9 198.46,457.5 204.3,449.6 210.15,447.3 216,446.4 221.84,443.5" fill="none" stroke="#ff2020" stroke-width="1.0" stroke-linejoin="round"/>
<path d="M151.68,505.2V510.2M150.08,505.2H153.28M150.08,510.2H153.28M157.53,492.2V503.4M155.93,492.2H159.13M155.93,503.4H159.13M163.37,487V494.4M161.77,487H164.97M161.77,494.4H164.97M169.22,480.2V486.4M167.62,480.2H170.82M167.62,486.4H170.82M175.07,470V484.4M173.47,470H176.67M173.47,484.4H176.67M180.91,454.6V474.4M179.31,454.6H182.51M179.31,474.4H182.51M186.76,453.9V471.9M185.16,453.9H188.36M185.16,471.9H188.36M192.61,450.6V469.2M191.01,450.6H194.21M191.01,469.2H194.21M198.46,450.3V464.7M196.86,450.3H200.06M196.86,464.7H200.06M204.3,436.7V462.5M202.7,436.7H205.9M202.7,462.5H205.9M210.15,424.4V470.2M208.55,424.4H211.75M208.55,470.2H211.75M216,427.7V465.1M214.4,427.7H217.6M214.4,465.1H217.6M221.84,429.8V457.2M220.24,429.8H223.44M220.24,457.2H223.44" stroke="#ff2020" stroke-width="0.9" fill="none"/>
<g fill="#ff2020"><circle cx="116.6" cy="524.4" r="1.9"/><circle cx="122.45" cy="522.5" r="1.9"/><circle cx="128.29" cy="521" r="1.9"/><circle cx="134.14" cy="519.5" r="1.9"/><circle cx="139.99" cy="518.5" r="1.9"/><circle cx="145.83" cy="516.5" r="1.9"/><circle cx="151.68" cy="507.7" r="1.9"/><circle cx="157.53" cy="497.8" r="1.9"/><circle cx="163.37" cy="490.7" r="1.9"/><circle cx="169.22" cy="483.3" r="1.9"/><circle cx="175.07" cy="477.2" r="1.9"/><circle cx="180.91" cy="464.5" r="1.9"/><circle cx="186.76" cy="462.9" r="1.9"/><circle cx="192.61" cy="459.9" r="1.9"/><circle cx="198.46" cy="457.5" r="1.9"/><circle cx="204.3" cy="449.6" r="1.9"/><circle cx="210.15" cy="447.3" r="1.9"/><circle cx="216" cy="446.4" r="1.9"/><circle cx="221.84" cy="443.5" r="1.9"/></g>
<polyline points="116.6,524.4 122.45,518.3 128.29,515 134.14,511.6 139.99,512.1 145.83,514 151.68,513.7 157.53,514.2 163.37,511.6 169.22,511.3 175.07,514.6 180.91,509.6 186.76,511.3 192.61,516.5 198.46,517 204.3,517.5 210.15,517.5 216,517.8 221.84,517.8" fill="none" stroke="#000" stroke-width="1.0" stroke-linejoin="round"/>
<path d="M134.14,510.6V512.6M132.54,510.6H135.74M132.54,512.6H135.74M139.99,510.1V514.1M138.39,510.1H141.59M138.39,514.1H141.59M145.83,511.5V516.5M144.23,511.5H147.43M144.23,516.5H147.43M151.68,510.7V516.7M150.08,510.7H153.28M150.08,516.7H153.28M157.53,511.7V516.7M155.93,511.7H159.13M155.93,516.7H159.13M163.37,507.1V516.1M161.77,507.1H164.97M161.77,516.1H164.97M169.22,506.8V515.8M167.62,506.8H170.82M167.62,515.8H170.82M175.07,512.1V517.1M173.47,512.1H176.67M173.47,517.1H176.67M180.91,505.1V514.1M179.31,505.1H182.51M179.31,514.1H182.51M186.76,505.3V517.3M185.16,505.3H188.36M185.16,517.3H188.36M192.61,514V519M191.01,514H194.21M191.01,519H194.21M198.46,514.5V519.5M196.86,514.5H200.06M196.86,519.5H200.06M204.3,515.5V519.5M202.7,515.5H205.9M202.7,519.5H205.9M210.15,515.5V519.5M208.55,515.5H211.75M208.55,519.5H211.75M216,515.8V519.8M214.4,515.8H217.6M214.4,519.8H217.6M221.84,515.8V519.8M220.24,515.8H223.44M220.24,519.8H223.44" stroke="#000" stroke-width="0.9" fill="none"/>
<g fill="#000"><circle cx="116.6" cy="524.4" r="1.9"/><circle cx="122.45" cy="518.3" r="1.9"/><circle cx="128.29" cy="515" r="1.9"/><circle cx="134.14" cy="511.6" r="1.9"/><circle cx="139.99" cy="512.1" r="1.9"/><circle cx="145.83" cy="514" r="1.9"/><circle cx="151.68" cy="513.7" r="1.9"/><circle cx="157.53" cy="514.2" r="1.9"/><circle cx="163.37" cy="511.6" r="1.9"/><circle cx="169.22" cy="511.3" r="1.9"/><circle cx="175.07" cy="514.6" r="1.9"/><circle cx="180.91" cy="509.6" r="1.9"/><circle cx="186.76" cy="511.3" r="1.9"/><circle cx="192.61" cy="516.5" r="1.9"/><circle cx="198.46" cy="517" r="1.9"/><circle cx="204.3" cy="517.5" r="1.9"/><circle cx="210.15" cy="517.5" r="1.9"/><circle cx="216" cy="517.8" r="1.9"/><circle cx="221.84" cy="517.8" r="1.9"/></g>
<line x1="246.5" y1="429" x2="265.3" y2="429" stroke="#444" stroke-width="1.3" />
<circle cx="256" cy="429" r="1.8" fill="#000"/>
<text x="276.5" y="433" font-size="11.5" text-anchor="start" fill="#000" >DMSO</text>
<line x1="246.5" y1="442.5" x2="265.3" y2="442.5" stroke="#22cc22" stroke-width="1.3" />
<circle cx="256" cy="442.5" r="1.8" fill="#22cc22"/>
<text x="276.5" y="446.5" font-size="11.5" text-anchor="start" fill="#000" >IKE 5µM</text>
<line x1="246.5" y1="458.1" x2="265.3" y2="458.1" stroke="#ff2020" stroke-width="1.3" />
<circle cx="256" cy="458.1" r="1.8" fill="#ff2020"/>
<text x="276.5" y="462.1" font-size="11.5" text-anchor="start" fill="#000" >IKE+DHAA 2mM</text>
<line x1="246.5" y1="472.9" x2="265.3" y2="472.9" stroke="#2aa5c8" stroke-width="1.3" />
<circle cx="256" cy="472.9" r="1.8" fill="#2aa5c8"/>
<text x="276.5" y="476.9" font-size="11.5" text-anchor="start" fill="#000" textLength="110.3" lengthAdjust="spacingAndGlyphs" >IKE+DHAA 2mM+Fer</text>
<text x="444.6" y="429.4" font-size="21" text-anchor="start" fill="#000" font-family="'Liberation Serif', 'Times New Roman', serif" font-weight="bold">d</text>
<text transform="translate(465.8,468.4) rotate(-90)" font-size="11.5" text-anchor="middle" fill="#000" textLength="50.3" lengthAdjust="spacingAndGlyphs" >Cell death</text>
<text transform="translate(478.6,467.9) rotate(-90)" font-size="11.5" text-anchor="middle" fill="#000" textLength="149.9" lengthAdjust="spacingAndGlyphs" >(Sytox Intensity (GCU x µm²))</text>
<text x="606" y="410.4" font-size="12.5" text-anchor="middle" fill="#000" >22Rv1</text>
<line x1="558.6" y1="413.2" x2="652.5" y2="413.2" stroke="#444" stroke-width="1.2" />
<line x1="544.3" y1="416.2" x2="544.3" y2="526.3" stroke="#6a6a6a" stroke-width="1.1" />
<line x1="539.6" y1="521.3" x2="650" y2="521.3" stroke="#6a6a6a" stroke-width="1.1" />
<line x1="539.1" y1="431.4" x2="544.3" y2="431.4" stroke="#6a6a6a" stroke-width="1.1" />
<line x1="539.1" y1="461.4" x2="544.3" y2="461.4" stroke="#6a6a6a" stroke-width="1.1" />
<line x1="539.1" y1="491.4" x2="544.3" y2="491.4" stroke="#6a6a6a" stroke-width="1.1" />
<line x1="566.2" y1="521.3" x2="566.2" y2="526.3" stroke="#6a6a6a" stroke-width="1.1" />
<line x1="588" y1="521.3" x2="588" y2="526.3" stroke="#6a6a6a" stroke-width="1.1" />
<line x1="609.8" y1="521.3" x2="609.8" y2="526.3" stroke="#6a6a6a" stroke-width="1.1" />
<line x1="631.6" y1="521.3" x2="631.6" y2="526.3" stroke="#6a6a6a" stroke-width="1.1" />
<text y="435.1" font-size="13.3"><tspan x="485.2">3.0</tspan><tspan x="504.4" font-size="11.5" dy="1.26">×</tspan><tspan x="513.1" dy="-1.26">10</tspan><tspan x="528.5" font-size="7.5" dy="-5">6</tspan></text>
<text y="465.1" font-size="13.3"><tspan x="485.2">2.0</tspan><tspan x="504.4" font-size="11.5" dy="1.26">×</tspan><tspan x="513.1" dy="-1.26">10</tspan><tspan x="528.5" font-size="7.5" dy="-5">6</tspan></text>
<text y="495.1" font-size="13.3"><tspan x="485.2">1.0</tspan><tspan x="504.4" font-size="11.5" dy="1.26">×</tspan><tspan x="513.1" dy="-1.26">10</tspan><tspan x="528.5" font-size="7.5" dy="-5">6</tspan></text>
<text x="532.3" y="525" font-size="12.2" text-anchor="end" fill="#000" >0</text>
<text x="544.4" y="540.8" font-size="13" text-anchor="middle" fill="#000" >0</text>
<text x="566.2" y="540.8" font-size="13" text-anchor="middle" fill="#000" >10</text>
<text x="588" y="540.8" font-size="13" text-anchor="middle" fill="#000" >20</text>
<text x="609.8" y="540.8" font-size="13" text-anchor="middle" fill="#000" >30</text>
<text x="631.6" y="540.8" font-size="13" text-anchor="middle" fill="#000" >40</text>
<text x="596.9" y="556.8" font-size="10.8" text-anchor="middle" fill="#000" textLength="62.5" lengthAdjust="spacingAndGlyphs" >Time (hours)</text>
<polyline points="544.4,514.2 553.12,514.2 561.84,514.2 570.56,514.5 579.28,514.5 588,514.2 596.72,505.8 605.44,499 614.16,491.4 622.88,482 631.6,473.2 640.32,465.3 649.04,462.8" fill="none" stroke="#48e0b0" stroke-width="1.0" stroke-linejoin="round"/>
<path d="M588,513.2V515.2M586.4,513.2H589.6M586.4,515.2H589.6M596.72,504.8V506.8M595.12,504.8H598.32M595.12,506.8H598.32M605.44,497.5V500.5M603.84,497.5H607.04M603.84,500.5H607.04M614.16,489.4V493.4M612.56,489.4H615.76M612.56,493.4H615.76M622.88,479V485M621.28,479H624.48M621.28,485H624.48M631.6,469.7V476.7M630,469.7H633.2M630,476.7H633.2M640.32,461.3V469.3M638.72,461.3H641.92M638.72,469.3H641.92M649.04,458.3V467.3M647.44,458.3H650.64M647.44,467.3H650.64" stroke="#48e0b0" stroke-width="0.9" fill="none"/>
<g fill="#48e0b0"><circle cx="544.4" cy="514.2" r="2.1"/><circle cx="553.12" cy="514.2" r="2.1"/><circle cx="561.84" cy="514.2" r="2.1"/><circle cx="570.56" cy="514.5" r="2.1"/><circle cx="579.28" cy="514.5" r="2.1"/><circle cx="588" cy="514.2" r="2.1"/><circle cx="596.72" cy="505.8" r="2.1"/><circle cx="605.44" cy="499" r="2.1"/><circle cx="614.16" cy="491.4" r="2.1"/><circle cx="622.88" cy="482" r="2.1"/><circle cx="631.6" cy="473.2" r="2.1"/><circle cx="640.32" cy="465.3" r="2.1"/><circle cx="649.04" cy="462.8" r="2.1"/></g>
<polyline points="544.4,516.7 553.12,517.2 561.84,517.2 570.56,517.2 579.28,512.9 588,499 596.72,485.8 605.44,473.7 614.16,461 622.88,448.4 631.6,441.3 640.32,437 649.04,437.5" fill="none" stroke="#ff2424" stroke-width="1.0" stroke-linejoin="round"/>
<path d="M588,498V500M586.4,498H589.6M586.4,500H589.6M596.72,483.8V487.8M595.12,483.8H598.32M595.12,487.8H598.32M605.44,472.7V474.7M603.84,472.7H607.04M603.84,474.7H607.04M614.16,460V462M612.56,460H615.76M612.56,462H615.76M622.88,445.4V451.4M621.28,445.4H624.48M621.28,451.4H624.48M631.6,438.3V444.3M630,438.3H633.2M630,444.3H633.2M640.32,432.5V441.5M638.72,432.5H641.92M638.72,441.5H641.92M649.04,432V443M647.44,432H650.64M647.44,443H650.64" stroke="#ff2424" stroke-width="0.9" fill="none"/>
<g fill="#ff2424"><circle cx="544.4" cy="516.7" r="2.1"/><circle cx="553.12" cy="517.2" r="2.1"/><circle cx="561.84" cy="517.2" r="2.1"/><circle cx="570.56" cy="517.2" r="2.1"/><circle cx="579.28" cy="512.9" r="2.1"/><circle cx="588" cy="499" r="2.1"/><circle cx="596.72" cy="485.8" r="2.1"/><circle cx="605.44" cy="473.7" r="2.1"/><circle cx="614.16" cy="461" r="2.1"/><circle cx="622.88" cy="448.4" r="2.1"/><circle cx="631.6" cy="441.3" r="2.1"/><circle cx="640.32" cy="437" r="2.1"/><circle cx="649.04" cy="437.5" r="2.1"/></g>
<polyline points="544.4,514.2 553.12,514.2 561.84,514.2 570.56,514.5 579.28,514.5 588,514.2 596.72,512 605.44,509.6 614.16,507 622.88,505.3 631.6,505.3 640.32,505.3 649.04,504.8" fill="none" stroke="#22cc22" stroke-width="1.0" stroke-linejoin="round"/>
<path d="M596.72,511V513M595.12,511H598.32M595.12,513H598.32M605.44,508.6V510.6M603.84,508.6H607.04M603.84,510.6H607.04M614.16,505.5V508.5M612.56,505.5H615.76M612.56,508.5H615.76M622.88,503.3V507.3M621.28,503.3H624.48M621.28,507.3H624.48M631.6,503.8V506.8M630,503.8H633.2M630,506.8H633.2M640.32,503.8V506.8M638.72,503.8H641.92M638.72,506.8H641.92M649.04,503.3V506.3M647.44,503.3H650.64M647.44,506.3H650.64" stroke="#22cc22" stroke-width="0.9" fill="none"/>
<g fill="#22cc22"><circle cx="544.4" cy="514.2" r="2.1"/><circle cx="553.12" cy="514.2" r="2.1"/><circle cx="561.84" cy="514.2" r="2.1"/><circle cx="570.56" cy="514.5" r="2.1"/><circle cx="579.28" cy="514.5" r="2.1"/><circle cx="588" cy="514.2" r="2.1"/><circle cx="596.72" cy="512" r="2.1"/><circle cx="605.44" cy="509.6" r="2.1"/><circle cx="614.16" cy="507" r="2.1"/><circle cx="622.88" cy="505.3" r="2.1"/><circle cx="631.6" cy="505.3" r="2.1"/><circle cx="640.32" cy="505.3" r="2.1"/><circle cx="649.04" cy="504.8" r="2.1"/></g>
<polyline points="544.4,509.6 553.12,511.6 561.84,511.6 570.56,512.1 579.28,511.6 588,510.9 596.72,508.6 605.44,504.6 614.16,499.7 622.88,496.5 631.6,491.4 640.32,487.6 649.04,486.8" fill="none" stroke="#1515ff" stroke-width="1.0" stroke-linejoin="round"/>
<path d="M544.4,508.6V510.6M542.8,508.6H546M542.8,510.6H546M596.72,507.6V509.6M595.12,507.6H598.32M595.12,509.6H598.32M605.44,503.1V506.1M603.84,503.1H607.04M603.84,506.1H607.04M614.16,497.7V501.7M612.56,497.7H615.76M612.56,501.7H615.76M622.88,494V499M621.28,494H624.48M621.28,499H624.48M631.6,488.9V493.9M630,488.9H633.2M630,493.9H633.2M640.32,484.6V490.6M638.72,484.6H641.92M638.72,490.6H641.92M649.04,483.8V489.8M647.44,483.8H650.64M647.44,489.8H650.64" stroke="#1515ff" stroke-width="0.9" fill="none"/>
<g fill="#1515ff"><circle cx="544.4" cy="509.6" r="2.1"/><circle cx="553.12" cy="511.6" r="2.1"/><circle cx="561.84" cy="511.6" r="2.1"/><circle cx="570.56" cy="512.1" r="2.1"/><circle cx="579.28" cy="511.6" r="2.1"/><circle cx="588" cy="510.9" r="2.1"/><circle cx="596.72" cy="508.6" r="2.1"/><circle cx="605.44" cy="504.6" r="2.1"/><circle cx="614.16" cy="499.7" r="2.1"/><circle cx="622.88" cy="496.5" r="2.1"/><circle cx="631.6" cy="491.4" r="2.1"/><circle cx="640.32" cy="487.6" r="2.1"/><circle cx="649.04" cy="486.8" r="2.1"/></g>
<polyline points="544.4,512.9 553.12,511.6 561.84,512.2 570.56,512.2 579.28,512.2 588,512.2 596.72,512.2 605.44,511.6 614.16,512.2 622.88,512.2 631.6,512.2 640.32,512.2 649.04,512.4" fill="none" stroke="#000" stroke-width="1.0" stroke-linejoin="round"/>
<g fill="#000"><circle cx="544.4" cy="512.9" r="2.1"/><circle cx="553.12" cy="511.6" r="2.1"/><circle cx="561.84" cy="512.2" r="2.1"/><circle cx="570.56" cy="512.2" r="2.1"/><circle cx="579.28" cy="512.2" r="2.1"/><circle cx="588" cy="512.2" r="2.1"/><circle cx="596.72" cy="512.2" r="2.1"/><circle cx="605.44" cy="511.6" r="2.1"/><circle cx="614.16" cy="512.2" r="2.1"/><circle cx="622.88" cy="512.2" r="2.1"/><circle cx="631.6" cy="512.2" r="2.1"/><circle cx="640.32" cy="512.2" r="2.1"/><circle cx="649.04" cy="512.4" r="2.1"/></g>
<line x1="666.5" y1="438.7" x2="685.7" y2="438.7" stroke="#000" stroke-width="1.3" />
<circle cx="676" cy="438.7" r="2.1" fill="#000"/>
<text x="696.3" y="442.7" font-size="11.5" text-anchor="start" fill="#000" >DMSO</text>
<line x1="666.5" y1="452.7" x2="685.7" y2="452.7" stroke="#22cc22" stroke-width="1.3" />
<circle cx="676" cy="452.7" r="2.1" fill="#22cc22"/>
<text x="696.3" y="456.7" font-size="11.5" text-anchor="start" fill="#000" >IKE 1 µM</text>
<line x1="666.5" y1="466.6" x2="685.7" y2="466.6" stroke="#ff2424" stroke-width="1.3" />
<circle cx="676" cy="466.6" r="2.1" fill="#ff2424"/>
<text x="696.3" y="470.6" font-size="11.5" text-anchor="start" fill="#000" textLength="90" lengthAdjust="spacingAndGlyphs" >IKE+ DHAA 2mM</text>
<line x1="666.5" y1="482.5" x2="685.7" y2="482.5" stroke="#48e0b0" stroke-width="1.3" />
<circle cx="676" cy="482.5" r="2.1" fill="#48e0b0"/>
<text x="696.3" y="486.5" font-size="11.5" text-anchor="start" fill="#000" >IKE+DHAA+ Fer-1</text>
<line x1="666.5" y1="497" x2="685.7" y2="497" stroke="#1515ff" stroke-width="1.3" />
<circle cx="676" cy="497" r="2.1" fill="#1515ff"/>
<text x="696.3" y="501" font-size="11.5" text-anchor="start" fill="#000" >DHAA 2 mM</text>
<text x="342.7" y="606.8" font-size="13" text-anchor="start" fill="#000" textLength="126.2" lengthAdjust="spacingAndGlyphs" >Normal Neurospheres</text>
<line x1="240.4" y1="610.7" x2="572" y2="610.7" stroke="#555" stroke-width="1.4" />
<text x="142.6" y="648.4" font-size="21" text-anchor="start" fill="#000" font-family="'Liberation Serif', 'Times New Roman', serif" font-weight="bold">e</text>
<text transform="translate(99.7,742.5) rotate(-90)" font-size="11.5" text-anchor="middle" fill="#000" textLength="50.7" lengthAdjust="spacingAndGlyphs" >Cell death</text>
<text transform="translate(109,741.3) rotate(-90)" font-size="11.5" text-anchor="middle" fill="#000" textLength="150.9" lengthAdjust="spacingAndGlyphs" >(Sytox Intensity (GCU x µm²))</text>
<g stroke="#000" stroke-width="1.1" fill="none">
<line x1="169.3" y1="687.3" x2="169.3" y2="793.4" stroke="#000" stroke-width="1" />
<line x1="168.8" y1="792.9" x2="274.8" y2="792.9" stroke="#000" stroke-width="1" />
<line x1="164.5" y1="705.3" x2="169.3" y2="705.3" stroke="#000" stroke-width="1" />
<line x1="164.5" y1="734.7" x2="169.3" y2="734.7" stroke="#000" stroke-width="1" />
<line x1="164.5" y1="763.8" x2="169.3" y2="763.8" stroke="#000" stroke-width="1" />
<line x1="164.5" y1="792.9" x2="169.3" y2="792.9" stroke="#000" stroke-width="1" />
<line x1="196.3" y1="792.9" x2="196.3" y2="796.9" stroke="#000" stroke-width="1" />
<line x1="235.6" y1="792.9" x2="235.6" y2="796.9" stroke="#000" stroke-width="1" />
<line x1="274.6" y1="792.9" x2="274.6" y2="796.9" stroke="#000" stroke-width="1" />
</g>
<text y="707.9" font-size="11.2"><tspan x="120.25">1.5</tspan><tspan x="136.3" font-size="10" dy="1.1">×</tspan><tspan x="144.55" dy="-1.1">10</tspan><tspan x="158.6" font-size="7" dy="-3.8">5</tspan></text>
<text y="737.3" font-size="11.2"><tspan x="120.25">1.0</tspan><tspan x="136.3" font-size="10" dy="1.1">×</tspan><tspan x="144.55" dy="-1.1">10</tspan><tspan x="158.6" font-size="7" dy="-3.8">5</tspan></text>
<text y="766.4" font-size="11.2"><tspan x="120.25">5.0</tspan><tspan x="136.3" font-size="10" dy="1.1">×</tspan><tspan x="144.55" dy="-1.1">10</tspan><tspan x="158.6" font-size="7" dy="-3.8">4</tspan></text>
<text x="161.2" y="796.5" font-size="10.8" text-anchor="end" fill="#000" >0</text>
<text x="196.2" y="810.6" font-size="10.8" text-anchor="middle" fill="#000" >10</text>
<text x="235.5" y="810.6" font-size="10.8" text-anchor="middle" fill="#000" >20</text>
<text x="274.6" y="810.6" font-size="10.8" text-anchor="middle" fill="#000" >30</text>
<text x="222.5" y="826.6" font-size="12.3" text-anchor="middle" fill="#000" textLength="71" lengthAdjust="spacingAndGlyphs" >Time (hours)</text>
<polyline points="168.86,747.9 180.62,744.1 192.38,744.4 204.14,744.8 215.9,745.6 227.66,747.9 239.42,747.1 251.18,744.5 262.94,745.1 274.7,745.1" fill="none" stroke="#000" stroke-width="1.0" stroke-linejoin="round"/>
<path d="M168.86,744.4V751.4M167.46,744.4H170.26M167.46,751.4H170.26M180.62,740.1V748.1M179.22,740.1H182.02M179.22,748.1H182.02M192.38,740.4V748.4M190.98,740.4H193.78M190.98,748.4H193.78M204.14,740.8V748.8M202.74,740.8H205.54M202.74,748.8H205.54M215.9,741.6V749.6M214.5,741.6H217.3M214.5,749.6H217.3M227.66,743.9V751.9M226.26,743.9H229.06M226.26,751.9H229.06M239.42,742.6V751.6M238.02,742.6H240.82M238.02,751.6H240.82M251.18,741V748M249.78,741H252.58M249.78,748H252.58M262.94,741.1V749.1M261.54,741.1H264.34M261.54,749.1H264.34M274.7,740.1V750.1M273.3,740.1H276.1M273.3,750.1H276.1" stroke="#000" stroke-width="0.9" fill="none"/>
<g fill="#000"><circle cx="168.86" cy="747.9" r="1.9"/><circle cx="180.62" cy="744.1" r="1.9"/><circle cx="192.38" cy="744.4" r="1.9"/><circle cx="204.14" cy="744.8" r="1.9"/><circle cx="215.9" cy="745.6" r="1.9"/><circle cx="227.66" cy="747.9" r="1.9"/><circle cx="239.42" cy="747.1" r="1.9"/><circle cx="251.18" cy="744.5" r="1.9"/><circle cx="262.94" cy="745.1" r="1.9"/><circle cx="274.7" cy="745.1" r="1.9"/></g>
<polyline points="168.86,743.3 180.62,735.2 192.38,731.1 204.14,735.7 215.9,734.6 227.66,735.7 239.42,738.7 251.18,739.2 262.94,736.5 274.7,736.8" fill="none" stroke="#ff2020" stroke-width="1.0" stroke-linejoin="round"/>
<path d="M168.86,739.3V747.3M167.46,739.3H170.26M167.46,747.3H170.26M180.62,730.2V740.2M179.22,730.2H182.02M179.22,740.2H182.02M192.38,726.1V736.1M190.98,726.1H193.78M190.98,736.1H193.78M204.14,730.7V740.7M202.74,730.7H205.54M202.74,740.7H205.54M215.9,729.6V739.6M214.5,729.6H217.3M214.5,739.6H217.3M227.66,730.7V740.7M226.26,730.7H229.06M226.26,740.7H229.06M239.42,733.7V743.7M238.02,733.7H240.82M238.02,743.7H240.82M251.18,734.2V744.2M249.78,734.2H252.58M249.78,744.2H252.58M262.94,731.5V741.5M261.54,731.5H264.34M261.54,741.5H264.34M274.7,731.8V741.8M273.3,731.8H276.1M273.3,741.8H276.1" stroke="#ff2020" stroke-width="0.9" fill="none"/>
<g fill="#ff2020"><circle cx="168.86" cy="743.3" r="1.9"/><circle cx="180.62" cy="735.2" r="1.9"/><circle cx="192.38" cy="731.1" r="1.9"/><circle cx="204.14" cy="735.7" r="1.9"/><circle cx="215.9" cy="734.6" r="1.9"/><circle cx="227.66" cy="735.7" r="1.9"/><circle cx="239.42" cy="738.7" r="1.9"/><circle cx="251.18" cy="739.2" r="1.9"/><circle cx="262.94" cy="736.5" r="1.9"/><circle cx="274.7" cy="736.8" r="1.9"/></g>
<polyline points="168.86,734.9 180.62,725.5 192.38,727 204.14,722.5 215.9,723.5 227.66,726.1 239.42,726.6 251.18,726.6 262.94,725.1 274.7,726.6" fill="none" stroke="#1f8f1f" stroke-width="1.0" stroke-linejoin="round"/>
<path d="M168.86,730.3V739.5M167.46,730.3H170.26M167.46,739.5H170.26M180.62,718.5V732.5M179.22,718.5H182.02M179.22,732.5H182.02M192.38,720V734M190.98,720H193.78M190.98,734H193.78M204.14,714.1V730.9M202.74,714.1H205.54M202.74,730.9H205.54M215.9,715.1V731.9M214.5,715.1H217.3M214.5,731.9H217.3M227.66,719V733.2M226.26,719H229.06M226.26,733.2H229.06M239.42,718.2V735M238.02,718.2H240.82M238.02,735H240.82M251.18,720.1V733.1M249.78,720.1H252.58M249.78,733.1H252.58M262.94,717.5V732.7M261.54,717.5H264.34M261.54,732.7H264.34M274.7,720.1V733.1M273.3,720.1H276.1M273.3,733.1H276.1" stroke="#1f8f1f" stroke-width="0.9" fill="none"/>
<g fill="#1f8f1f"><circle cx="168.86" cy="734.9" r="1.9"/><circle cx="180.62" cy="725.5" r="1.9"/><circle cx="192.38" cy="727" r="1.9"/><circle cx="204.14" cy="722.5" r="1.9"/><circle cx="215.9" cy="723.5" r="1.9"/><circle cx="227.66" cy="726.1" r="1.9"/><circle cx="239.42" cy="726.6" r="1.9"/><circle cx="251.18" cy="726.6" r="1.9"/><circle cx="262.94" cy="725.1" r="1.9"/><circle cx="274.7" cy="726.6" r="1.9"/></g>
<polyline points="168.86,740.3 180.62,735.2 192.38,732.2 204.14,736.8 215.9,734.2 227.66,738 239.42,737.2 251.18,739.5 262.94,736.8 274.7,732.2" fill="none" stroke="#1a1aff" stroke-width="1.0" stroke-linejoin="round"/>
<path d="M168.86,735.3V745.3M167.46,735.3H170.26M167.46,745.3H170.26M180.62,729.7V740.7M179.22,729.7H182.02M179.22,740.7H182.02M192.38,724.2V740.2M190.98,724.2H193.78M190.98,740.2H193.78M204.14,730.8V742.8M202.74,730.8H205.54M202.74,742.8H205.54M215.9,728.2V740.2M214.5,728.2H217.3M214.5,740.2H217.3M227.66,732V744M226.26,732H229.06M226.26,744H229.06M239.42,731.2V743.2M238.02,731.2H240.82M238.02,743.2H240.82M251.18,733.5V745.5M249.78,733.5H252.58M249.78,745.5H252.58M262.94,730.8V742.8M261.54,730.8H264.34M261.54,742.8H264.34M274.7,726.2V738.2M273.3,726.2H276.1M273.3,738.2H276.1" stroke="#1a1aff" stroke-width="0.9" fill="none"/>
<g fill="#1a1aff"><circle cx="168.86" cy="740.3" r="1.9"/><circle cx="180.62" cy="735.2" r="1.9"/><circle cx="192.38" cy="732.2" r="1.9"/><circle cx="204.14" cy="736.8" r="1.9"/><circle cx="215.9" cy="734.2" r="1.9"/><circle cx="227.66" cy="738" r="1.9"/><circle cx="239.42" cy="737.2" r="1.9"/><circle cx="251.18" cy="739.5" r="1.9"/><circle cx="262.94" cy="736.8" r="1.9"/><circle cx="274.7" cy="732.2" r="1.9"/></g>
<line x1="294.4" y1="714.4" x2="313.1" y2="714.4" stroke="#000" stroke-width="1.1" />
<circle cx="303.5" cy="714.4" r="1.6" fill="#000"/>
<text x="319.8" y="718" font-size="10.3" text-anchor="start" fill="#000" >DMSO</text>
<line x1="294.4" y1="727.6" x2="313.1" y2="727.6" stroke="#1a1aff" stroke-width="1.1" />
<circle cx="303.5" cy="727.6" r="1.6" fill="#1a1aff"/>
<text x="319.8" y="731.2" font-size="10.3" text-anchor="start" fill="#000" textLength="47.5" lengthAdjust="spacingAndGlyphs" >DHA 2mM</text>
<line x1="294.4" y1="742.2" x2="313.1" y2="742.2" stroke="#ff2020" stroke-width="1.1" />
<circle cx="303.5" cy="742.2" r="1.6" fill="#ff2020"/>
<text x="319.8" y="745.8" font-size="10.3" text-anchor="start" fill="#000" >IKE 5µM</text>
<line x1="294.4" y1="755.9" x2="313.1" y2="755.9" stroke="#1f8f1f" stroke-width="1.1" />
<circle cx="303.5" cy="755.9" r="1.6" fill="#1f8f1f"/>
<text x="319.8" y="759.5" font-size="10.3" text-anchor="start" fill="#000" >IKE+DHA</text>
<text x="425.2" y="647.8" font-size="21.5" text-anchor="start" fill="#000" font-family="'Liberation Serif', 'Times New Roman', serif" font-weight="bold">f</text>
<text x="542.3" y="644.8" font-size="13" text-anchor="middle" fill="#000" textLength="94.2" lengthAdjust="spacingAndGlyphs" >Primary rat NSC</text>
<rect x="455.3" y="652.3" width="162.4" height="12" fill="#fff" stroke="#2a2a2a" stroke-width="1.1" />
<line x1="536.2" y1="652.3" x2="536.2" y2="664.3" stroke="#2a2a2a" stroke-width="1.1" />
<rect x="455.3" y="749.1" width="162.4" height="12" fill="#fff" stroke="#2a2a2a" stroke-width="1.1" />
<line x1="536.2" y1="749.1" x2="536.2" y2="761.1" stroke="#2a2a2a" stroke-width="1.1" />
<text x="495" y="662.4" font-size="11" text-anchor="middle" fill="#000" textLength="32" lengthAdjust="spacingAndGlyphs" >DMSO</text>
<text x="580.3" y="662.4" font-size="11" text-anchor="middle" fill="#000" textLength="57.7" lengthAdjust="spacingAndGlyphs" >DHAA 2mM</text>
<text x="494.5" y="759.2" font-size="11" text-anchor="middle" fill="#000" textLength="41.7" lengthAdjust="spacingAndGlyphs" >IKE 5µM</text>
<text x="580.2" y="759.2" font-size="11" text-anchor="middle" fill="#000" textLength="55" lengthAdjust="spacingAndGlyphs" >IKE+DHAA</text>
<line x1="472.9" y1="845.8" x2="605.1" y2="845.8" stroke="#555" stroke-width="1.2" />
<text x="539.1" y="859" font-size="11.1" text-anchor="middle" fill="#2aa82a" textLength="140" lengthAdjust="spacingAndGlyphs" >Cell death, Sytox green 30 h</text>
<g transform="translate(456,666.9)" clip-path="url(#c39)">
<rect x="0" y="0" width="78.2" height="78.1" fill="#5b5b5b" filter="url(#ntex)"/>
<g fill="#a0a0a0" opacity="0.55"><circle cx="62.35" cy="74.15" r="0.47"/><circle cx="19.99" cy="59.04" r="0.41"/><circle cx="62.67" cy="26.5" r="0.47"/><circle cx="61.9" cy="1.41" r="0.4"/><circle cx="31.14" cy="23.03" r="0.58"/><circle cx="5.41" cy="35" r="0.39"/><circle cx="10.46" cy="9.11" r="0.57"/><circle cx="28.94" cy="71.96" r="0.41"/><circle cx="26.25" cy="14.26" r="0.32"/><circle cx="0.59" cy="59.92" r="0.57"/><circle cx="73.66" cy="56.34" r="0.56"/><circle cx="46.91" cy="37.29" r="0.58"/><circle cx="43.2" cy="13.77" r="0.47"/><circle cx="68.33" cy="58.9" r="0.46"/><circle cx="57.56" cy="21.64" r="0.5"/><circle cx="47.67" cy="4.74" r="0.58"/><circle cx="65.92" cy="61.23" r="0.38"/><circle cx="60.87" cy="27.92" r="0.32"/><circle cx="70.5" cy="55.34" r="0.38"/><circle cx="36.29" cy="14.32" r="0.57"/><circle cx="25.76" cy="65.98" r="0.43"/><circle cx="45.23" cy="21.03" r="0.31"/><circle cx="2.29" cy="13.62" r="0.42"/><circle cx="5.7" cy="37.22" r="0.37"/><circle cx="21.08" cy="30.27" r="0.39"/><circle cx="36.06" cy="45.25" r="0.47"/><circle cx="0.34" cy="11.35" r="0.32"/><circle cx="39.53" cy="37.38" r="0.4"/><circle cx="32.46" cy="11.51" r="0.41"/><circle cx="45.07" cy="65.52" r="0.44"/><circle cx="54.34" cy="4.02" r="0.52"/><circle cx="40.07" cy="42.65" r="0.54"/><circle cx="56.76" cy="27.55" r="0.42"/><circle cx="74.45" cy="56.02" r="0.58"/><circle cx="38.3" cy="59.25" r="0.49"/><circle cx="43.79" cy="48.63" r="0.5"/><circle cx="27.25" cy="21.31" r="0.55"/><circle cx="56.41" cy="28.17" r="0.45"/><circle cx="74.53" cy="59.82" r="0.59"/><circle cx="71.48" cy="16.96" r="0.46"/><circle cx="68.19" cy="73.05" r="0.6"/><circle cx="21.51" cy="26.52" r="0.5"/><circle cx="20.75" cy="8.12" r="0.45"/><circle cx="59.24" cy="38.42" r="0.46"/><circle cx="34.68" cy="3.88" r="0.51"/><circle cx="70.59" cy="68.44" r="0.44"/><circle cx="29.44" cy="67.46" r="0.36"/><circle cx="3.36" cy="68.69" r="0.41"/><circle cx="26.24" cy="28.32" r="0.35"/><circle cx="75.04" cy="42.79" r="0.59"/><circle cx="30.89" cy="46.27" r="0.48"/><circle cx="1.16" cy="54.87" r="0.34"/><circle cx="69.03" cy="45.8" r="0.53"/><circle cx="63.25" cy="11.87" r="0.33"/><circle cx="43.85" cy="62.68" r="0.31"/><circle cx="51.46" cy="17.77" r="0.45"/><circle cx="32.43" cy="18.61" r="0.58"/><circle cx="44.99" cy="21.8" r="0.32"/><circle cx="63.86" cy="67.81" r="0.33"/><circle cx="9.79" cy="49.61" r="0.37"/><circle cx="62.02" cy="58.8" r="0.48"/><circle cx="1.67" cy="59.45" r="0.4"/><circle cx="39.73" cy="19.59" r="0.4"/><circle cx="3.39" cy="39.8" r="0.39"/><circle cx="76.75" cy="39.92" r="0.53"/><circle cx="57.19" cy="26.65" r="0.3"/><circle cx="26.92" cy="49.65" r="0.44"/><circle cx="59.97" cy="2.14" r="0.49"/><circle cx="17.31" cy="34.84" r="0.57"/><circle cx="58.02" cy="42.93" r="0.6"/><circle cx="11.59" cy="20.84" r="0.33"/><circle cx="48.89" cy="60.03" r="0.56"/><circle cx="8.14" cy="52.1" r="0.54"/><circle cx="9.92" cy="77.85" r="0.53"/><circle cx="74.15" cy="16.09" r="0.46"/><circle cx="16.5" cy="35.75" r="0.5"/><circle cx="39.52" cy="37.74" r="0.53"/><circle cx="70.28" cy="23.54" r="0.31"/><circle cx="29.72" cy="0.95" r="0.39"/><circle cx="73.58" cy="23.66" r="0.37"/><circle cx="73.11" cy="49.96" r="0.42"/><circle cx="68.11" cy="70.45" r="0.5"/><circle cx="58.57" cy="45.88" r="0.34"/><circle cx="36.71" cy="35.58" r="0.46"/><circle cx="58.94" cy="12.9" r="0.6"/><circle cx="68.8" cy="28.12" r="0.52"/><circle cx="53.8" cy="14.11" r="0.54"/><circle cx="50.4" cy="53.64" r="0.33"/><circle cx="56.11" cy="46.93" r="0.32"/><circle cx="75.87" cy="49.82" r="0.52"/><circle cx="34.18" cy="71.39" r="0.56"/><circle cx="19.95" cy="65.86" r="0.58"/><circle cx="32.81" cy="27.28" r="0.57"/><circle cx="2.92" cy="7.19" r="0.58"/><circle cx="51.12" cy="51.76" r="0.38"/><circle cx="47.8" cy="12.97" r="0.46"/><circle cx="7.69" cy="7.52" r="0.3"/><circle cx="29.99" cy="53.66" r="0.39"/><circle cx="57.22" cy="74.44" r="0.49"/><circle cx="55.06" cy="16.19" r="0.41"/><circle cx="3.85" cy="37.4" r="0.52"/><circle cx="40.91" cy="7.25" r="0.54"/><circle cx="41.43" cy="26.58" r="0.53"/><circle cx="58.92" cy="43.74" r="0.32"/><circle cx="47.27" cy="37.77" r="0.35"/><circle cx="40.1" cy="61.94" r="0.43"/><circle cx="73.76" cy="10.41" r="0.35"/><circle cx="37.87" cy="51.88" r="0.35"/><circle cx="78.09" cy="65.71" r="0.38"/><circle cx="29.01" cy="44.09" r="0.31"/><circle cx="60.3" cy="55.98" r="0.38"/><circle cx="39.65" cy="54.63" r="0.36"/><circle cx="61.51" cy="47.59" r="0.51"/><circle cx="46.74" cy="46.29" r="0.42"/><circle cx="10.67" cy="42.52" r="0.51"/><circle cx="13.84" cy="27.12" r="0.46"/><circle cx="30.89" cy="52.8" r="0.32"/><circle cx="31.85" cy="31.25" r="0.53"/><circle cx="30.91" cy="14.82" r="0.6"/><circle cx="58.71" cy="37.86" r="0.37"/><circle cx="10.4" cy="59.03" r="0.52"/><circle cx="32.3" cy="50.65" r="0.48"/><circle cx="65.35" cy="65.89" r="0.52"/><circle cx="32.53" cy="17.97" r="0.58"/><circle cx="59.88" cy="23.81" r="0.36"/><circle cx="23.6" cy="2.01" r="0.58"/><circle cx="52.82" cy="38.18" r="0.42"/><circle cx="50.42" cy="12.29" r="0.31"/><circle cx="62.23" cy="40.21" r="0.45"/><circle cx="57.03" cy="78.05" r="0.59"/><circle cx="11.65" cy="64.05" r="0.4"/><circle cx="7.85" cy="67.96" r="0.41"/><circle cx="67.54" cy="50.32" r="0.48"/><circle cx="59.73" cy="0.32" r="0.36"/><circle cx="24.71" cy="67.92" r="0.58"/><circle cx="33.83" cy="9.77" r="0.32"/><circle cx="24.81" cy="48.88" r="0.31"/><circle cx="14.77" cy="63.1" r="0.34"/><circle cx="14.99" cy="71.89" r="0.48"/><circle cx="46.55" cy="32.51" r="0.39"/><circle cx="62.24" cy="65.4" r="0.31"/><circle cx="50.63" cy="42.08" r="0.47"/><circle cx="24.66" cy="14.92" r="0.34"/><circle cx="11.21" cy="5.12" r="0.54"/><circle cx="75.33" cy="65.58" r="0.37"/><circle cx="48.77" cy="42.31" r="0.6"/><circle cx="28.51" cy="19.87" r="0.51"/><circle cx="23.68" cy="6.83" r="0.52"/><circle cx="62.58" cy="63.78" r="0.56"/><circle cx="16.78" cy="29.14" r="0.36"/><circle cx="76.1" cy="75" r="0.49"/><circle cx="47.89" cy="75.58" r="0.37"/><circle cx="40.44" cy="46.16" r="0.32"/><circle cx="26.24" cy="25.22" r="0.32"/><circle cx="9.38" cy="54.53" r="0.3"/><circle cx="15.85" cy="11.17" r="0.44"/><circle cx="66.49" cy="64.93" r="0.59"/><circle cx="3.97" cy="45.42" r="0.42"/><circle cx="32.36" cy="55.6" r="0.4"/><circle cx="71.39" cy="12.22" r="0.53"/><circle cx="4.38" cy="12.33" r="0.39"/><circle cx="7.13" cy="35.7" r="0.46"/><circle cx="70.42" cy="54.58" r="0.44"/><circle cx="28.34" cy="44.87" r="0.44"/><circle cx="37.98" cy="9.59" r="0.39"/><circle cx="26.36" cy="16.36" r="0.49"/><circle cx="31.71" cy="6.45" r="0.47"/><circle cx="65.07" cy="1.23" r="0.42"/><circle cx="77.59" cy="52.84" r="0.59"/><circle cx="56.14" cy="35.09" r="0.55"/><circle cx="63.23" cy="21.73" r="0.34"/><circle cx="44.89" cy="40.01" r="0.37"/><circle cx="24.11" cy="77.37" r="0.59"/><circle cx="33.11" cy="29.42" r="0.31"/><circle cx="73.45" cy="46.9" r="0.55"/><circle cx="58.47" cy="34.9" r="0.38"/><circle cx="70.93" cy="54.19" r="0.57"/><circle cx="63.67" cy="30.83" r="0.52"/><circle cx="43.69" cy="34.91" r="0.54"/><circle cx="27.09" cy="39.45" r="0.38"/><circle cx="10.63" cy="17.26" r="0.39"/><circle cx="23.46" cy="10.17" r="0.45"/><circle cx="72.93" cy="8.69" r="0.53"/><circle cx="55.16" cy="47.61" r="0.47"/><circle cx="35.17" cy="48.38" r="0.58"/><circle cx="29.23" cy="20.46" r="0.51"/><circle cx="12.09" cy="15.38" r="0.38"/><circle cx="47.34" cy="27.03" r="0.32"/><circle cx="70.06" cy="33.08" r="0.41"/><circle cx="27.72" cy="25.91" r="0.57"/><circle cx="29.06" cy="44.08" r="0.6"/><circle cx="13.74" cy="25.72" r="0.42"/><circle cx="31.45" cy="74.18" r="0.59"/><circle cx="32.55" cy="66.94" r="0.36"/><circle cx="47.33" cy="59.45" r="0.56"/><circle cx="8.57" cy="59.39" r="0.44"/><circle cx="4.22" cy="22.78" r="0.45"/><circle cx="60.29" cy="30.93" r="0.37"/><circle cx="76.9" cy="53.81" r="0.51"/><circle cx="9.62" cy="67.05" r="0.47"/><circle cx="37.24" cy="23.67" r="0.34"/><circle cx="7.68" cy="14.33" r="0.36"/><circle cx="74.98" cy="17.14" r="0.45"/><circle cx="2.15" cy="6.88" r="0.55"/><circle cx="20.04" cy="60.21" r="0.44"/><circle cx="28.06" cy="35.05" r="0.47"/><circle cx="23.61" cy="9.29" r="0.57"/><circle cx="17.34" cy="69.62" r="0.54"/><circle cx="52.76" cy="3.51" r="0.57"/><circle cx="69.24" cy="73.51" r="0.59"/><circle cx="67.64" cy="36.85" r="0.53"/><circle cx="74.44" cy="52.27" r="0.33"/><circle cx="26.35" cy="63.22" r="0.52"/><circle cx="0.49" cy="31.58" r="0.56"/><circle cx="45.35" cy="65.86" r="0.35"/><circle cx="52.96" cy="5.35" r="0.57"/><circle cx="8.4" cy="32.34" r="0.59"/><circle cx="52.8" cy="54.31" r="0.34"/><circle cx="4.54" cy="10.41" r="0.55"/><circle cx="74.36" cy="21.34" r="0.49"/><circle cx="45.21" cy="36.66" r="0.57"/><circle cx="15.99" cy="38.85" r="0.5"/><circle cx="4.02" cy="20.91" r="0.34"/><circle cx="50.34" cy="60.86" r="0.48"/><circle cx="37.71" cy="50.37" r="0.4"/><circle cx="36.89" cy="49.15" r="0.51"/><circle cx="37.49" cy="69.82" r="0.4"/><circle cx="12.19" cy="63.13" r="0.56"/><circle cx="62.39" cy="35.58" r="0.33"/><circle cx="19.05" cy="22.99" r="0.37"/><circle cx="26.78" cy="14.43" r="0.37"/><circle cx="68.03" cy="3.38" r="0.4"/><circle cx="36.17" cy="40.87" r="0.54"/><circle cx="69.63" cy="3.49" r="0.55"/><circle cx="36.3" cy="52.55" r="0.36"/><circle cx="25.72" cy="3.13" r="0.47"/><circle cx="60.41" cy="34.15" r="0.58"/><circle cx="31.79" cy="64.95" r="0.39"/><circle cx="39.79" cy="49.19" r="0.38"/><circle cx="57.76" cy="39.78" r="0.39"/></g>
<circle cx="63" cy="9" r="2.6" fill="#686868" stroke="#a8a8a8" stroke-width="0.7" opacity="0.85" filter="url(#blur03)"/>
<circle cx="63" cy="9" r="1.3" fill="#2e962e" filter="url(#blur03)"/>
<circle cx="5" cy="12" r="1.5" fill="#686868" stroke="#a8a8a8" stroke-width="0.7" opacity="0.85" filter="url(#blur03)"/>
<circle cx="4" cy="13" r="1.8" fill="#686868" stroke="#a8a8a8" stroke-width="0.7" opacity="0.85" filter="url(#blur03)"/>
<circle cx="12" cy="26" r="2" fill="#686868" stroke="#a8a8a8" stroke-width="0.7" opacity="0.85" filter="url(#blur03)"/>
<circle cx="23" cy="38" r="2.4" fill="#686868" stroke="#a8a8a8" stroke-width="0.7" opacity="0.85" filter="url(#blur03)"/>
<circle cx="23" cy="38" r="1.2" fill="#2e962e" filter="url(#blur03)"/>
<circle cx="27" cy="34" r="2" fill="#686868" stroke="#a8a8a8" stroke-width="0.7" opacity="0.85" filter="url(#blur03)"/>
<circle cx="45" cy="34" r="2" fill="#686868" stroke="#a8a8a8" stroke-width="0.7" opacity="0.85" filter="url(#blur03)"/>
<circle cx="52" cy="33" r="2.4" fill="#686868" stroke="#a8a8a8" stroke-width="0.7" opacity="0.85" filter="url(#blur03)"/>
<circle cx="61" cy="37" r="2.4" fill="#686868" stroke="#a8a8a8" stroke-width="0.7" opacity="0.85" filter="url(#blur03)"/>
<circle cx="61" cy="37" r="1.2" fill="#2e962e" filter="url(#blur03)"/>
<circle cx="31" cy="51" r="2.4" fill="#686868" stroke="#a8a8a8" stroke-width="0.7" opacity="0.85" filter="url(#blur03)"/>
<circle cx="31" cy="51" r="1.2" fill="#2e962e" filter="url(#blur03)"/>
<circle cx="25" cy="51" r="1.6" fill="#686868" stroke="#a8a8a8" stroke-width="0.7" opacity="0.85" filter="url(#blur03)"/>
<circle cx="24" cy="58" r="2" fill="#686868" stroke="#a8a8a8" stroke-width="0.7" opacity="0.85" filter="url(#blur03)"/>
<circle cx="26" cy="66" r="2.2" fill="#686868" stroke="#a8a8a8" stroke-width="0.7" opacity="0.85" filter="url(#blur03)"/>
<circle cx="37" cy="61" r="1.6" fill="#686868" stroke="#a8a8a8" stroke-width="0.7" opacity="0.85" filter="url(#blur03)"/>
<circle cx="44" cy="67" r="2" fill="#686868" stroke="#a8a8a8" stroke-width="0.7" opacity="0.85" filter="url(#blur03)"/>
<circle cx="74" cy="54" r="2.4" fill="#686868" stroke="#a8a8a8" stroke-width="0.7" opacity="0.85" filter="url(#blur03)"/>
<circle cx="74" cy="54" r="1.2" fill="#2e962e" filter="url(#blur03)"/>
<circle cx="56" cy="57" r="1.6" fill="#686868" stroke="#a8a8a8" stroke-width="0.7" opacity="0.85" filter="url(#blur03)"/>
<circle cx="71" cy="73" r="2" fill="#686868" stroke="#a8a8a8" stroke-width="0.7" opacity="0.85" filter="url(#blur03)"/>
<circle cx="2" cy="37" r="1.6" fill="#686868" stroke="#a8a8a8" stroke-width="0.7" opacity="0.85" filter="url(#blur03)"/>
<circle cx="2" cy="57" r="2" fill="#686868" stroke="#a8a8a8" stroke-width="0.7" opacity="0.85" filter="url(#blur03)"/>
<circle cx="2" cy="57" r="1" fill="#2e962e" filter="url(#blur03)"/>
<circle cx="7" cy="70" r="2.5" fill="#686868" stroke="#a8a8a8" stroke-width="0.7" opacity="0.85" filter="url(#blur03)"/>
<circle cx="7" cy="70" r="1.25" fill="#2e962e" filter="url(#blur03)"/>
<circle cx="17" cy="34" r="1.4" fill="#686868" stroke="#a8a8a8" stroke-width="0.7" opacity="0.85" filter="url(#blur03)"/>
<circle cx="27" cy="29" r="1.5" fill="#686868" stroke="#a8a8a8" stroke-width="0.7" opacity="0.85" filter="url(#blur03)"/>
<g stroke="#b0a860" stroke-width="0.5"><line x1="3" y1="72.1" x2="22" y2="72.1"/></g>
</g>
<g transform="translate(541.3,666.9)" clip-path="url(#c40)">
<rect x="0" y="0" width="78.2" height="78.1" fill="#5b5b5b" filter="url(#ntex)"/>
<g fill="#a0a0a0" opacity="0.55"><circle cx="50" cy="49.1" r="0.37"/><circle cx="63.09" cy="26.28" r="0.41"/><circle cx="56.15" cy="27.47" r="0.58"/><circle cx="35.91" cy="29.13" r="0.31"/><circle cx="59.2" cy="16.69" r="0.44"/><circle cx="52.82" cy="36.45" r="0.59"/><circle cx="30.81" cy="27.98" r="0.33"/><circle cx="2.25" cy="9.24" r="0.47"/><circle cx="9.02" cy="38.98" r="0.34"/><circle cx="62.11" cy="2.8" r="0.53"/><circle cx="73.09" cy="73.98" r="0.44"/><circle cx="63.37" cy="13.34" r="0.59"/><circle cx="76.36" cy="56.18" r="0.59"/><circle cx="48.82" cy="75.89" r="0.42"/><circle cx="6.34" cy="16.24" r="0.56"/><circle cx="65.84" cy="29.99" r="0.51"/><circle cx="70.45" cy="27.26" r="0.38"/><circle cx="77.01" cy="28.81" r="0.58"/><circle cx="19.85" cy="75.18" r="0.31"/><circle cx="27.64" cy="34.25" r="0.32"/><circle cx="63.55" cy="73.43" r="0.42"/><circle cx="54.32" cy="20.63" r="0.39"/><circle cx="52.32" cy="40.12" r="0.33"/><circle cx="77.4" cy="77.28" r="0.48"/><circle cx="72.25" cy="26.17" r="0.43"/><circle cx="49.79" cy="5.83" r="0.31"/><circle cx="40.09" cy="15.27" r="0.53"/><circle cx="49.54" cy="31.86" r="0.45"/><circle cx="54.02" cy="10.02" r="0.53"/><circle cx="65.1" cy="15.99" r="0.34"/><circle cx="58.9" cy="51.43" r="0.54"/><circle cx="78.12" cy="55.96" r="0.58"/><circle cx="16.17" cy="31.36" r="0.57"/><circle cx="55.75" cy="50.2" r="0.42"/><circle cx="18.28" cy="67.58" r="0.31"/><circle cx="70.21" cy="65.4" r="0.58"/><circle cx="2.86" cy="42.14" r="0.52"/><circle cx="31.62" cy="74.3" r="0.5"/><circle cx="65.37" cy="3.32" r="0.59"/><circle cx="13.81" cy="24.41" r="0.41"/><circle cx="59.41" cy="7.36" r="0.43"/><circle cx="66.98" cy="45.47" r="0.4"/><circle cx="44.14" cy="12.33" r="0.33"/><circle cx="35.06" cy="19.08" r="0.47"/><circle cx="8.92" cy="13.42" r="0.51"/><circle cx="61.84" cy="10.7" r="0.55"/><circle cx="59.6" cy="54.36" r="0.47"/><circle cx="8.75" cy="22.79" r="0.31"/><circle cx="67.46" cy="66.75" r="0.32"/><circle cx="67.78" cy="18.11" r="0.59"/><circle cx="54.24" cy="28.06" r="0.45"/><circle cx="49.74" cy="38.46" r="0.47"/><circle cx="63.09" cy="5.6" r="0.41"/><circle cx="73.57" cy="53.15" r="0.44"/><circle cx="0.04" cy="62.01" r="0.4"/><circle cx="38.95" cy="18.13" r="0.36"/><circle cx="75.55" cy="22.02" r="0.55"/><circle cx="7.79" cy="62.8" r="0.52"/><circle cx="49.84" cy="36.04" r="0.38"/><circle cx="7.8" cy="45.62" r="0.58"/><circle cx="38.22" cy="53.46" r="0.38"/><circle cx="41.82" cy="64.7" r="0.58"/><circle cx="37.31" cy="54.66" r="0.53"/><circle cx="49.15" cy="20.76" r="0.31"/><circle cx="60.36" cy="9.64" r="0.51"/><circle cx="28.01" cy="51.66" r="0.4"/><circle cx="6.28" cy="46" r="0.49"/><circle cx="56.46" cy="28.99" r="0.56"/><circle cx="37.97" cy="3.16" r="0.4"/><circle cx="12.94" cy="8.79" r="0.36"/><circle cx="45.57" cy="3.69" r="0.36"/><circle cx="13.05" cy="23.32" r="0.39"/><circle cx="68.61" cy="63.42" r="0.58"/><circle cx="4.49" cy="19.08" r="0.43"/><circle cx="42.05" cy="12.82" r="0.36"/><circle cx="71.06" cy="38.7" r="0.35"/><circle cx="23.13" cy="23.23" r="0.49"/><circle cx="19.03" cy="6.86" r="0.35"/><circle cx="18.47" cy="62.41" r="0.38"/><circle cx="74.97" cy="16.75" r="0.34"/><circle cx="46.55" cy="12.02" r="0.55"/><circle cx="59.94" cy="43.57" r="0.33"/><circle cx="55.23" cy="58.47" r="0.39"/><circle cx="26.67" cy="44.79" r="0.53"/><circle cx="70.07" cy="10.23" r="0.4"/><circle cx="8.1" cy="0.88" r="0.33"/><circle cx="18.76" cy="11.88" r="0.49"/><circle cx="64.46" cy="53.49" r="0.31"/><circle cx="32.91" cy="21.44" r="0.58"/><circle cx="11.57" cy="12.88" r="0.42"/><circle cx="2.57" cy="75.38" r="0.35"/><circle cx="51.08" cy="62.97" r="0.44"/><circle cx="48.91" cy="56.06" r="0.56"/><circle cx="36.18" cy="11.31" r="0.41"/><circle cx="40.78" cy="21.23" r="0.5"/><circle cx="38.53" cy="72.34" r="0.39"/><circle cx="21" cy="27.96" r="0.48"/><circle cx="39.21" cy="40.04" r="0.42"/><circle cx="11.62" cy="12.99" r="0.33"/><circle cx="55.1" cy="62.09" r="0.52"/><circle cx="56.65" cy="59.43" r="0.41"/><circle cx="9.66" cy="49.07" r="0.57"/><circle cx="1.42" cy="9.11" r="0.44"/><circle cx="74.14" cy="34.9" r="0.41"/><circle cx="8.28" cy="51.51" r="0.3"/><circle cx="36.72" cy="30.12" r="0.4"/><circle cx="41.09" cy="65.27" r="0.46"/><circle cx="29.54" cy="15.05" r="0.42"/><circle cx="55.24" cy="45.48" r="0.55"/><circle cx="9.27" cy="22.6" r="0.31"/><circle cx="71.07" cy="0.99" r="0.48"/><circle cx="31.17" cy="0.5" r="0.44"/><circle cx="54.36" cy="48.99" r="0.31"/><circle cx="32.4" cy="38" r="0.31"/><circle cx="0.7" cy="23.13" r="0.38"/><circle cx="42.76" cy="3.12" r="0.34"/><circle cx="46.12" cy="29.52" r="0.52"/><circle cx="39.9" cy="28.35" r="0.56"/><circle cx="49.4" cy="39.54" r="0.44"/><circle cx="58.28" cy="60.07" r="0.37"/><circle cx="23.78" cy="77.49" r="0.5"/><circle cx="72.63" cy="41.64" r="0.4"/><circle cx="71.93" cy="56.02" r="0.49"/><circle cx="77.11" cy="65.23" r="0.45"/><circle cx="17.86" cy="69.02" r="0.58"/><circle cx="67.89" cy="32.33" r="0.34"/><circle cx="22.95" cy="0.05" r="0.58"/><circle cx="34.92" cy="55.73" r="0.38"/><circle cx="61.71" cy="59.97" r="0.41"/><circle cx="73.84" cy="7.2" r="0.54"/><circle cx="56.05" cy="24.76" r="0.48"/><circle cx="49.36" cy="44.52" r="0.35"/><circle cx="72.96" cy="70.75" r="0.36"/><circle cx="15.45" cy="7.84" r="0.39"/><circle cx="75.94" cy="25.03" r="0.3"/><circle cx="21.83" cy="15.85" r="0.5"/><circle cx="22.18" cy="1.52" r="0.38"/><circle cx="74.84" cy="41.63" r="0.34"/><circle cx="39.72" cy="21.81" r="0.34"/><circle cx="60.84" cy="56.68" r="0.38"/><circle cx="28.9" cy="27.77" r="0.33"/><circle cx="36.45" cy="43.69" r="0.34"/><circle cx="8.69" cy="33.91" r="0.46"/><circle cx="76.97" cy="19.04" r="0.5"/><circle cx="46.57" cy="8.13" r="0.52"/><circle cx="20.96" cy="72.39" r="0.35"/><circle cx="68.03" cy="28.41" r="0.4"/><circle cx="72.98" cy="43.02" r="0.48"/><circle cx="52.92" cy="52.4" r="0.5"/><circle cx="49.31" cy="24.52" r="0.48"/><circle cx="52.95" cy="3.68" r="0.34"/><circle cx="54.42" cy="28.41" r="0.45"/><circle cx="29.2" cy="65.33" r="0.49"/><circle cx="0.28" cy="77.82" r="0.34"/><circle cx="48.44" cy="23.78" r="0.55"/><circle cx="67.77" cy="32.62" r="0.48"/><circle cx="1.95" cy="47.79" r="0.33"/><circle cx="48.9" cy="44.73" r="0.38"/><circle cx="54.83" cy="41.74" r="0.58"/><circle cx="51.58" cy="25.48" r="0.59"/><circle cx="22.14" cy="0.94" r="0.35"/><circle cx="63.43" cy="73.97" r="0.34"/><circle cx="25.01" cy="63.68" r="0.5"/><circle cx="66.87" cy="59.77" r="0.34"/><circle cx="1.27" cy="9.44" r="0.46"/><circle cx="61.47" cy="29.74" r="0.41"/><circle cx="16.43" cy="51.12" r="0.4"/><circle cx="57.59" cy="73.69" r="0.52"/><circle cx="38.87" cy="55.54" r="0.31"/><circle cx="22.08" cy="19.13" r="0.33"/><circle cx="39.06" cy="10.74" r="0.49"/><circle cx="65.95" cy="5.49" r="0.41"/><circle cx="47.42" cy="67.69" r="0.43"/><circle cx="49.33" cy="27.89" r="0.44"/><circle cx="58.14" cy="38.4" r="0.32"/><circle cx="50.16" cy="19.31" r="0.4"/><circle cx="34.09" cy="44.69" r="0.39"/><circle cx="34.21" cy="41.49" r="0.58"/><circle cx="44.57" cy="7.9" r="0.49"/><circle cx="49.08" cy="21.41" r="0.41"/><circle cx="22.71" cy="8.76" r="0.37"/><circle cx="61.71" cy="32.48" r="0.4"/><circle cx="3.89" cy="60.79" r="0.59"/><circle cx="32.46" cy="43.36" r="0.59"/><circle cx="62.98" cy="12.22" r="0.41"/><circle cx="62.96" cy="24.16" r="0.46"/><circle cx="20.04" cy="14.34" r="0.41"/><circle cx="35.34" cy="65.39" r="0.52"/><circle cx="60.93" cy="75.34" r="0.59"/><circle cx="22.65" cy="60.5" r="0.59"/><circle cx="64.89" cy="52.59" r="0.52"/><circle cx="57" cy="65.23" r="0.43"/><circle cx="2.07" cy="66.85" r="0.34"/><circle cx="16.63" cy="48.66" r="0.3"/><circle cx="4.04" cy="36.2" r="0.32"/><circle cx="2.23" cy="3.02" r="0.36"/><circle cx="40.48" cy="68.3" r="0.34"/><circle cx="57.48" cy="44.97" r="0.34"/><circle cx="54.95" cy="22.42" r="0.41"/><circle cx="38.4" cy="41.82" r="0.49"/><circle cx="78.14" cy="14.77" r="0.51"/><circle cx="29.27" cy="48.61" r="0.47"/><circle cx="36.31" cy="77.7" r="0.48"/><circle cx="40.48" cy="75.42" r="0.48"/><circle cx="60.24" cy="32.23" r="0.35"/><circle cx="34.57" cy="44.92" r="0.5"/><circle cx="74.85" cy="50.54" r="0.51"/><circle cx="65.65" cy="29.78" r="0.5"/><circle cx="64" cy="60.22" r="0.51"/><circle cx="41.28" cy="54.08" r="0.39"/><circle cx="24.76" cy="55.93" r="0.59"/><circle cx="54.03" cy="11.49" r="0.46"/><circle cx="37.57" cy="57.49" r="0.53"/><circle cx="26.49" cy="76.69" r="0.47"/><circle cx="27.12" cy="77.31" r="0.39"/><circle cx="64.83" cy="10.24" r="0.6"/><circle cx="20.02" cy="63.25" r="0.44"/><circle cx="22.82" cy="0.76" r="0.44"/><circle cx="75.38" cy="71.27" r="0.49"/><circle cx="17.14" cy="11.47" r="0.42"/><circle cx="70.45" cy="53.03" r="0.31"/><circle cx="32.29" cy="55.56" r="0.6"/><circle cx="62.56" cy="41.42" r="0.35"/><circle cx="0.58" cy="42.02" r="0.43"/><circle cx="57.25" cy="53.26" r="0.55"/><circle cx="12.79" cy="2.24" r="0.58"/><circle cx="48.51" cy="29.59" r="0.53"/><circle cx="48.89" cy="3.15" r="0.45"/><circle cx="8.65" cy="71.66" r="0.33"/><circle cx="72.88" cy="27.74" r="0.6"/><circle cx="41.39" cy="72" r="0.4"/><circle cx="34.53" cy="19.93" r="0.43"/><circle cx="16.87" cy="28.29" r="0.38"/><circle cx="10.79" cy="63.37" r="0.55"/><circle cx="40.66" cy="19.03" r="0.51"/><circle cx="24.5" cy="46.67" r="0.32"/><circle cx="41.35" cy="43.65" r="0.35"/><circle cx="25.67" cy="37.03" r="0.57"/><circle cx="2.51" cy="31.25" r="0.36"/><circle cx="50.85" cy="5.09" r="0.56"/></g>
<circle cx="33" cy="10" r="3" fill="#686868" stroke="#a8a8a8" stroke-width="0.7" opacity="0.85" filter="url(#blur03)"/>
<circle cx="33" cy="10" r="1.5" fill="#2e962e" filter="url(#blur03)"/>
<circle cx="53" cy="7" r="1.5" fill="#686868" stroke="#a8a8a8" stroke-width="0.7" opacity="0.85" filter="url(#blur03)"/>
<circle cx="17" cy="15" r="2.2" fill="#686868" stroke="#a8a8a8" stroke-width="0.7" opacity="0.85" filter="url(#blur03)"/>
<circle cx="21" cy="28" r="2.4" fill="#686868" stroke="#a8a8a8" stroke-width="0.7" opacity="0.85" filter="url(#blur03)"/>
<circle cx="21" cy="28" r="1.2" fill="#2e962e" filter="url(#blur03)"/>
<circle cx="34" cy="29" r="1.8" fill="#686868" stroke="#a8a8a8" stroke-width="0.7" opacity="0.85" filter="url(#blur03)"/>
<circle cx="42" cy="31" r="2" fill="#686868" stroke="#a8a8a8" stroke-width="0.7" opacity="0.85" filter="url(#blur03)"/>
<circle cx="42" cy="31" r="1" fill="#2e962e" filter="url(#blur03)"/>
<circle cx="37" cy="35" r="2.4" fill="#686868" stroke="#a8a8a8" stroke-width="0.7" opacity="0.85" filter="url(#blur03)"/>
<circle cx="37" cy="35" r="1.2" fill="#2e962e" filter="url(#blur03)"/>
<circle cx="53" cy="34" r="2.6" fill="#686868" stroke="#a8a8a8" stroke-width="0.7" opacity="0.85" filter="url(#blur03)"/>
<circle cx="53" cy="34" r="1.3" fill="#2e962e" filter="url(#blur03)"/>
<circle cx="75" cy="32" r="2.2" fill="#686868" stroke="#a8a8a8" stroke-width="0.7" opacity="0.85" filter="url(#blur03)"/>
<circle cx="75" cy="32" r="1.1" fill="#2e962e" filter="url(#blur03)"/>
<circle cx="57" cy="55" r="2" fill="#686868" stroke="#a8a8a8" stroke-width="0.7" opacity="0.85" filter="url(#blur03)"/>
<circle cx="77" cy="52" r="2" fill="#686868" stroke="#a8a8a8" stroke-width="0.7" opacity="0.85" filter="url(#blur03)"/>
<circle cx="77" cy="52" r="1" fill="#2e962e" filter="url(#blur03)"/>
<circle cx="43" cy="47" r="1.6" fill="#686868" stroke="#a8a8a8" stroke-width="0.7" opacity="0.85" filter="url(#blur03)"/>
<circle cx="16" cy="67" r="2" fill="#686868" stroke="#a8a8a8" stroke-width="0.7" opacity="0.85" filter="url(#blur03)"/>
<circle cx="40" cy="56" r="2" fill="#686868" stroke="#a8a8a8" stroke-width="0.7" opacity="0.85" filter="url(#blur03)"/>
<circle cx="55" cy="70" r="1.6" fill="#686868" stroke="#a8a8a8" stroke-width="0.7" opacity="0.85" filter="url(#blur03)"/>
<circle cx="70" cy="70" r="1.6" fill="#686868" stroke="#a8a8a8" stroke-width="0.7" opacity="0.85" filter="url(#blur03)"/>
<circle cx="2" cy="60" r="2" fill="#686868" stroke="#a8a8a8" stroke-width="0.7" opacity="0.85" filter="url(#blur03)"/>
<circle cx="2" cy="60" r="1" fill="#2e962e" filter="url(#blur03)"/>
<circle cx="27" cy="45" r="1.6" fill="#686868" stroke="#a8a8a8" stroke-width="0.7" opacity="0.85" filter="url(#blur03)"/>
<circle cx="11" cy="48" r="1.5" fill="#686868" stroke="#a8a8a8" stroke-width="0.7" opacity="0.85" filter="url(#blur03)"/>
<g stroke="#b0a860" stroke-width="0.5"><line x1="3" y1="72.1" x2="22" y2="72.1"/></g>
</g>
<g transform="translate(456,762.7)" clip-path="url(#c41)">
<rect x="0" y="0" width="78.2" height="78.1" fill="#5b5b5b" filter="url(#ntex)"/>
<g fill="#a0a0a0" opacity="0.55"><circle cx="39.53" cy="13.16" r="0.41"/><circle cx="63.12" cy="54.49" r="0.35"/><circle cx="69.31" cy="67.26" r="0.31"/><circle cx="50.4" cy="29.6" r="0.32"/><circle cx="24.95" cy="50.38" r="0.33"/><circle cx="25.16" cy="53.74" r="0.37"/><circle cx="68.39" cy="44.73" r="0.49"/><circle cx="2.95" cy="5.42" r="0.48"/><circle cx="13.58" cy="40.94" r="0.57"/><circle cx="46.26" cy="34.65" r="0.33"/><circle cx="9.82" cy="19.35" r="0.59"/><circle cx="58.95" cy="13.25" r="0.31"/><circle cx="76" cy="75.45" r="0.46"/><circle cx="21.34" cy="41.81" r="0.57"/><circle cx="19.63" cy="61.22" r="0.45"/><circle cx="42.84" cy="73.24" r="0.3"/><circle cx="23.44" cy="7.8" r="0.35"/><circle cx="67.75" cy="2.54" r="0.59"/><circle cx="27.86" cy="47.34" r="0.45"/><circle cx="8.52" cy="19.33" r="0.36"/><circle cx="25.88" cy="0.59" r="0.47"/><circle cx="19" cy="53.29" r="0.46"/><circle cx="65.75" cy="74.86" r="0.4"/><circle cx="49.64" cy="61.08" r="0.39"/><circle cx="46.74" cy="57.43" r="0.56"/><circle cx="59.84" cy="38.93" r="0.45"/><circle cx="29.77" cy="50.11" r="0.59"/><circle cx="1.62" cy="53.41" r="0.52"/><circle cx="33.2" cy="1.43" r="0.38"/><circle cx="71.55" cy="59.33" r="0.5"/><circle cx="73.45" cy="70.02" r="0.3"/><circle cx="34.73" cy="54.63" r="0.54"/><circle cx="37.07" cy="5.15" r="0.49"/><circle cx="52.64" cy="32.04" r="0.31"/><circle cx="14.36" cy="13.19" r="0.44"/><circle cx="64.57" cy="12.15" r="0.4"/><circle cx="16.29" cy="9.95" r="0.35"/><circle cx="42.79" cy="60.65" r="0.58"/><circle cx="71.62" cy="75.45" r="0.46"/><circle cx="60.78" cy="21.6" r="0.49"/><circle cx="66.2" cy="22.62" r="0.36"/><circle cx="18.8" cy="47.87" r="0.5"/><circle cx="33.27" cy="17.44" r="0.45"/><circle cx="11.86" cy="62.4" r="0.55"/><circle cx="8.5" cy="29.35" r="0.57"/><circle cx="20.17" cy="66.12" r="0.57"/><circle cx="55.44" cy="54.66" r="0.42"/><circle cx="19.75" cy="34.23" r="0.32"/><circle cx="9.51" cy="49.94" r="0.38"/><circle cx="18.74" cy="74.39" r="0.51"/><circle cx="38.83" cy="41.25" r="0.31"/><circle cx="72.77" cy="32.11" r="0.38"/><circle cx="13.74" cy="59.03" r="0.46"/><circle cx="40.77" cy="35.84" r="0.59"/><circle cx="76.92" cy="34.12" r="0.32"/><circle cx="76.96" cy="20.11" r="0.55"/><circle cx="0.25" cy="61.82" r="0.44"/><circle cx="68.93" cy="17.87" r="0.48"/><circle cx="76.99" cy="26.86" r="0.32"/><circle cx="68.43" cy="58.35" r="0.3"/><circle cx="27.41" cy="11.42" r="0.42"/><circle cx="61.72" cy="44.09" r="0.43"/><circle cx="37.94" cy="58.67" r="0.32"/><circle cx="37.06" cy="51.65" r="0.5"/><circle cx="38.55" cy="74.26" r="0.4"/><circle cx="6.36" cy="68.84" r="0.57"/><circle cx="49.98" cy="73.3" r="0.45"/><circle cx="37.14" cy="29.96" r="0.42"/><circle cx="31.98" cy="32.01" r="0.38"/><circle cx="31.67" cy="5.69" r="0.33"/><circle cx="52.61" cy="38.21" r="0.56"/><circle cx="43.43" cy="8.36" r="0.48"/><circle cx="53.92" cy="60.7" r="0.52"/><circle cx="75.28" cy="19.77" r="0.47"/><circle cx="21.49" cy="9.88" r="0.54"/><circle cx="10.83" cy="12.03" r="0.42"/><circle cx="15.42" cy="6.62" r="0.35"/><circle cx="56.43" cy="38.19" r="0.58"/><circle cx="21.06" cy="27.33" r="0.44"/><circle cx="36.45" cy="62.47" r="0.54"/><circle cx="42.61" cy="24.87" r="0.48"/><circle cx="12.81" cy="70.52" r="0.33"/><circle cx="44.03" cy="64.27" r="0.36"/><circle cx="26.8" cy="45.93" r="0.54"/><circle cx="77.23" cy="73.31" r="0.58"/><circle cx="61.71" cy="49.14" r="0.33"/><circle cx="74.27" cy="36.01" r="0.5"/><circle cx="30.63" cy="68.88" r="0.5"/><circle cx="56.21" cy="67.9" r="0.4"/><circle cx="30.71" cy="30.8" r="0.4"/><circle cx="0" cy="28.65" r="0.59"/><circle cx="46.52" cy="37.58" r="0.58"/><circle cx="39.78" cy="54.55" r="0.51"/><circle cx="60.65" cy="4.66" r="0.54"/><circle cx="28.85" cy="47.23" r="0.32"/><circle cx="49.68" cy="17.94" r="0.4"/><circle cx="64.76" cy="48.93" r="0.6"/><circle cx="65.5" cy="63.13" r="0.43"/><circle cx="26.38" cy="31.76" r="0.6"/><circle cx="64.44" cy="47.29" r="0.41"/><circle cx="60.2" cy="48.39" r="0.35"/><circle cx="77.18" cy="22.52" r="0.5"/><circle cx="40.28" cy="6.92" r="0.35"/><circle cx="57.03" cy="77.14" r="0.42"/><circle cx="32.53" cy="13.3" r="0.47"/><circle cx="54.18" cy="76.02" r="0.36"/><circle cx="68.35" cy="32.31" r="0.59"/><circle cx="25.2" cy="75.35" r="0.36"/><circle cx="71.2" cy="63.05" r="0.43"/><circle cx="40.74" cy="36.81" r="0.42"/><circle cx="57.96" cy="15.74" r="0.37"/><circle cx="34.69" cy="56.46" r="0.42"/><circle cx="60.94" cy="77.76" r="0.34"/><circle cx="35.68" cy="29.5" r="0.35"/><circle cx="44.99" cy="66.8" r="0.32"/><circle cx="24.86" cy="45.61" r="0.34"/><circle cx="28.87" cy="51.48" r="0.49"/><circle cx="67.93" cy="27.07" r="0.41"/><circle cx="57.27" cy="1.89" r="0.41"/><circle cx="33.7" cy="60.2" r="0.5"/><circle cx="58.71" cy="14.77" r="0.47"/><circle cx="20.43" cy="16.89" r="0.6"/><circle cx="14.24" cy="51.64" r="0.31"/><circle cx="55.47" cy="55.84" r="0.52"/><circle cx="53.39" cy="18.64" r="0.51"/><circle cx="49.03" cy="57.93" r="0.48"/><circle cx="49" cy="33.14" r="0.59"/><circle cx="75.77" cy="10.3" r="0.53"/><circle cx="47.31" cy="54.19" r="0.4"/><circle cx="28.59" cy="34.93" r="0.38"/><circle cx="6.54" cy="42.73" r="0.57"/><circle cx="58.51" cy="0.83" r="0.38"/><circle cx="73.71" cy="44.05" r="0.57"/><circle cx="48.86" cy="61.13" r="0.53"/><circle cx="69.99" cy="37.16" r="0.31"/><circle cx="57.23" cy="17.89" r="0.38"/><circle cx="68.97" cy="19.33" r="0.53"/><circle cx="25.01" cy="65.1" r="0.36"/><circle cx="11.76" cy="50.76" r="0.4"/><circle cx="49.58" cy="43.28" r="0.6"/><circle cx="68.5" cy="21.23" r="0.54"/><circle cx="20.45" cy="65.86" r="0.4"/><circle cx="52.67" cy="69.59" r="0.58"/><circle cx="45.05" cy="43.63" r="0.53"/><circle cx="14.53" cy="67.71" r="0.55"/><circle cx="52.12" cy="59" r="0.54"/><circle cx="31.01" cy="0.93" r="0.46"/><circle cx="32.92" cy="76.74" r="0.43"/><circle cx="57.83" cy="36.64" r="0.42"/><circle cx="65.85" cy="32.27" r="0.45"/><circle cx="17.19" cy="48.87" r="0.41"/><circle cx="26.6" cy="70.4" r="0.39"/><circle cx="77.87" cy="72.69" r="0.54"/><circle cx="31.62" cy="61.12" r="0.47"/><circle cx="60.27" cy="64.42" r="0.43"/><circle cx="63.91" cy="68.95" r="0.39"/><circle cx="10.9" cy="29.22" r="0.39"/><circle cx="4.14" cy="65.58" r="0.53"/><circle cx="16.31" cy="55.14" r="0.37"/><circle cx="24.45" cy="68.78" r="0.44"/><circle cx="37.69" cy="61.54" r="0.45"/><circle cx="44.62" cy="43.38" r="0.48"/><circle cx="42.04" cy="6.07" r="0.45"/><circle cx="2.67" cy="43.77" r="0.54"/><circle cx="53.17" cy="68" r="0.46"/><circle cx="12.78" cy="15.26" r="0.42"/><circle cx="40.84" cy="67.15" r="0.45"/><circle cx="53.12" cy="47.02" r="0.54"/><circle cx="44" cy="69.53" r="0.31"/><circle cx="74.27" cy="30.29" r="0.32"/><circle cx="7.26" cy="3.74" r="0.46"/><circle cx="54.22" cy="15.38" r="0.39"/><circle cx="71.36" cy="42.89" r="0.53"/><circle cx="63.21" cy="76.44" r="0.36"/><circle cx="40.52" cy="74.27" r="0.33"/><circle cx="34.7" cy="39.46" r="0.56"/><circle cx="50.04" cy="35.23" r="0.55"/><circle cx="35.56" cy="38.01" r="0.33"/><circle cx="63.42" cy="45.63" r="0.34"/><circle cx="12.86" cy="72.36" r="0.33"/><circle cx="27.08" cy="77.84" r="0.44"/><circle cx="27.43" cy="12.97" r="0.48"/><circle cx="6.78" cy="61.33" r="0.37"/><circle cx="66.85" cy="4.23" r="0.34"/><circle cx="32.14" cy="59.45" r="0.54"/><circle cx="42.6" cy="6.82" r="0.51"/><circle cx="72.29" cy="16.73" r="0.46"/><circle cx="72.95" cy="49.79" r="0.31"/><circle cx="29.19" cy="12.34" r="0.32"/><circle cx="63.67" cy="77.13" r="0.38"/><circle cx="44.81" cy="33.38" r="0.44"/><circle cx="34.56" cy="73.55" r="0.52"/><circle cx="55.11" cy="34.23" r="0.56"/><circle cx="54.68" cy="48.87" r="0.47"/><circle cx="18.55" cy="0.55" r="0.53"/><circle cx="24.06" cy="74.08" r="0.43"/><circle cx="17.66" cy="21.7" r="0.47"/><circle cx="40.37" cy="27.16" r="0.58"/><circle cx="13.64" cy="66.85" r="0.48"/><circle cx="19.09" cy="35.71" r="0.54"/><circle cx="34.92" cy="28.18" r="0.58"/><circle cx="74.3" cy="4.52" r="0.39"/><circle cx="25.33" cy="61.79" r="0.34"/><circle cx="17.93" cy="59.74" r="0.57"/><circle cx="63.57" cy="48.7" r="0.48"/><circle cx="3.1" cy="17.34" r="0.6"/><circle cx="42.15" cy="10.9" r="0.32"/><circle cx="70.05" cy="55.1" r="0.51"/><circle cx="4.1" cy="51.88" r="0.4"/><circle cx="51.75" cy="13.38" r="0.42"/><circle cx="38.64" cy="70.49" r="0.52"/><circle cx="76.75" cy="58.69" r="0.36"/><circle cx="51.04" cy="40.92" r="0.36"/><circle cx="15.16" cy="73.04" r="0.49"/><circle cx="21.27" cy="23.13" r="0.34"/><circle cx="31.32" cy="46.21" r="0.34"/><circle cx="44.93" cy="77.33" r="0.56"/><circle cx="24.06" cy="69.63" r="0.31"/><circle cx="1.42" cy="30.19" r="0.43"/><circle cx="10.13" cy="55.72" r="0.48"/><circle cx="39.63" cy="75.7" r="0.44"/><circle cx="20.56" cy="31.12" r="0.46"/><circle cx="52.91" cy="33.24" r="0.52"/><circle cx="0.51" cy="77.14" r="0.36"/><circle cx="48.14" cy="19.7" r="0.32"/><circle cx="71" cy="65.73" r="0.57"/><circle cx="28.78" cy="41.51" r="0.49"/><circle cx="50.79" cy="64.22" r="0.48"/><circle cx="11.1" cy="67.37" r="0.58"/><circle cx="44.1" cy="66.99" r="0.46"/><circle cx="2.68" cy="62.85" r="0.32"/><circle cx="9.65" cy="68.66" r="0.59"/><circle cx="3.28" cy="74.73" r="0.47"/><circle cx="73.08" cy="76.03" r="0.33"/><circle cx="68.7" cy="8.84" r="0.51"/><circle cx="77.05" cy="20.87" r="0.57"/><circle cx="19.5" cy="62.21" r="0.36"/><circle cx="46.26" cy="26.53" r="0.58"/><circle cx="66.67" cy="32.6" r="0.35"/><circle cx="28.54" cy="10.47" r="0.52"/></g>
<circle cx="11" cy="4" r="2.4" fill="#686868" stroke="#a8a8a8" stroke-width="0.7" opacity="0.85" filter="url(#blur03)"/>
<circle cx="11" cy="4" r="1.2" fill="#2e962e" filter="url(#blur03)"/>
<circle cx="19" cy="8" r="2" fill="#686868" stroke="#a8a8a8" stroke-width="0.7" opacity="0.85" filter="url(#blur03)"/>
<circle cx="19" cy="8" r="1" fill="#2e962e" filter="url(#blur03)"/>
<circle cx="25" cy="11" r="1.8" fill="#686868" stroke="#a8a8a8" stroke-width="0.7" opacity="0.85" filter="url(#blur03)"/>
<circle cx="25" cy="11" r="0.9" fill="#2e962e" filter="url(#blur03)"/>
<circle cx="37" cy="8" r="2" fill="#686868" stroke="#a8a8a8" stroke-width="0.7" opacity="0.85" filter="url(#blur03)"/>
<circle cx="52" cy="4" r="2" fill="#686868" stroke="#a8a8a8" stroke-width="0.7" opacity="0.85" filter="url(#blur03)"/>
<circle cx="67" cy="8" r="2.6" fill="#686868" stroke="#a8a8a8" stroke-width="0.7" opacity="0.85" filter="url(#blur03)"/>
<circle cx="67" cy="8" r="1.3" fill="#2e962e" filter="url(#blur03)"/>
<circle cx="49" cy="17" r="2" fill="#686868" stroke="#a8a8a8" stroke-width="0.7" opacity="0.85" filter="url(#blur03)"/>
<circle cx="49" cy="17" r="1" fill="#2e962e" filter="url(#blur03)"/>
<circle cx="58" cy="15" r="1.6" fill="#686868" stroke="#a8a8a8" stroke-width="0.7" opacity="0.85" filter="url(#blur03)"/>
<circle cx="12" cy="23" r="2.2" fill="#686868" stroke="#a8a8a8" stroke-width="0.7" opacity="0.85" filter="url(#blur03)"/>
<circle cx="12" cy="23" r="1.1" fill="#2e962e" filter="url(#blur03)"/>
<circle cx="14" cy="28" r="1.6" fill="#686868" stroke="#a8a8a8" stroke-width="0.7" opacity="0.85" filter="url(#blur03)"/>
<circle cx="27" cy="31" r="2.2" fill="#686868" stroke="#a8a8a8" stroke-width="0.7" opacity="0.85" filter="url(#blur03)"/>
<circle cx="27" cy="31" r="1.1" fill="#2e962e" filter="url(#blur03)"/>
<circle cx="20" cy="38" r="1.6" fill="#686868" stroke="#a8a8a8" stroke-width="0.7" opacity="0.85" filter="url(#blur03)"/>
<circle cx="8" cy="43" r="2" fill="#686868" stroke="#a8a8a8" stroke-width="0.7" opacity="0.85" filter="url(#blur03)"/>
<circle cx="8" cy="43" r="1" fill="#2e962e" filter="url(#blur03)"/>
<circle cx="31" cy="48" r="2" fill="#686868" stroke="#a8a8a8" stroke-width="0.7" opacity="0.85" filter="url(#blur03)"/>
<circle cx="41" cy="54" r="1.5" fill="#686868" stroke="#a8a8a8" stroke-width="0.7" opacity="0.85" filter="url(#blur03)"/>
<circle cx="2" cy="63" r="1.6" fill="#686868" stroke="#a8a8a8" stroke-width="0.7" opacity="0.85" filter="url(#blur03)"/>
<circle cx="54" cy="73" r="2.4" fill="#686868" stroke="#a8a8a8" stroke-width="0.7" opacity="0.85" filter="url(#blur03)"/>
<circle cx="54" cy="73" r="1.2" fill="#2e962e" filter="url(#blur03)"/>
<circle cx="73" cy="33" r="1.6" fill="#686868" stroke="#a8a8a8" stroke-width="0.7" opacity="0.85" filter="url(#blur03)"/>
<circle cx="17" cy="55" r="1.5" fill="#686868" stroke="#a8a8a8" stroke-width="0.7" opacity="0.85" filter="url(#blur03)"/>
<circle cx="60" cy="42" r="1.5" fill="#686868" stroke="#a8a8a8" stroke-width="0.7" opacity="0.85" filter="url(#blur03)"/>
<g stroke="#b0a860" stroke-width="0.5"><line x1="3" y1="72.1" x2="22" y2="72.1"/></g>
</g>
<g transform="translate(541.3,762.7)" clip-path="url(#c42)">
<rect x="0" y="0" width="78.2" height="78.1" fill="#5b5b5b" filter="url(#ntex)"/>
<g fill="#a0a0a0" opacity="0.55"><circle cx="13.37" cy="27.64" r="0.36"/><circle cx="24.31" cy="69.85" r="0.31"/><circle cx="61.63" cy="54.65" r="0.31"/><circle cx="2.69" cy="43.53" r="0.57"/><circle cx="32.86" cy="56.86" r="0.55"/><circle cx="77.41" cy="50.21" r="0.41"/><circle cx="58.87" cy="46.63" r="0.44"/><circle cx="65.28" cy="32.91" r="0.49"/><circle cx="55.66" cy="68.58" r="0.34"/><circle cx="64.59" cy="71.23" r="0.32"/><circle cx="17.29" cy="41.26" r="0.43"/><circle cx="69.75" cy="5.13" r="0.3"/><circle cx="66.77" cy="54.27" r="0.44"/><circle cx="23.09" cy="41.82" r="0.57"/><circle cx="57.89" cy="37.74" r="0.34"/><circle cx="26.52" cy="36.23" r="0.52"/><circle cx="69.21" cy="57.36" r="0.53"/><circle cx="67.27" cy="43.56" r="0.35"/><circle cx="72.51" cy="37.61" r="0.56"/><circle cx="48.1" cy="44.47" r="0.45"/><circle cx="16.96" cy="60.32" r="0.34"/><circle cx="45.28" cy="13.33" r="0.35"/><circle cx="51.54" cy="76.83" r="0.5"/><circle cx="32.83" cy="23.05" r="0.54"/><circle cx="56.35" cy="55.49" r="0.58"/><circle cx="20.02" cy="74.88" r="0.42"/><circle cx="44.28" cy="3.16" r="0.48"/><circle cx="67.89" cy="24.21" r="0.32"/><circle cx="41.26" cy="60.2" r="0.39"/><circle cx="20.26" cy="11.15" r="0.46"/><circle cx="52.26" cy="31.91" r="0.57"/><circle cx="40.87" cy="73.03" r="0.5"/><circle cx="12.48" cy="62.45" r="0.34"/><circle cx="66.91" cy="44.31" r="0.34"/><circle cx="23.28" cy="27.48" r="0.42"/><circle cx="18.86" cy="6.22" r="0.39"/><circle cx="65.92" cy="37.4" r="0.4"/><circle cx="14.82" cy="76.47" r="0.31"/><circle cx="8.97" cy="0.44" r="0.51"/><circle cx="9.74" cy="5.22" r="0.58"/><circle cx="10.35" cy="31.26" r="0.37"/><circle cx="73.93" cy="50.81" r="0.38"/><circle cx="2.57" cy="11.08" r="0.49"/><circle cx="26.57" cy="51.16" r="0.44"/><circle cx="36.06" cy="35.89" r="0.4"/><circle cx="28.24" cy="11.28" r="0.39"/><circle cx="64.24" cy="14" r="0.36"/><circle cx="50.18" cy="54.48" r="0.32"/><circle cx="55.65" cy="40.84" r="0.58"/><circle cx="1.25" cy="15.72" r="0.55"/><circle cx="50.68" cy="68.99" r="0.4"/><circle cx="76.3" cy="31.72" r="0.56"/><circle cx="2.94" cy="41.96" r="0.41"/><circle cx="39.75" cy="70.94" r="0.32"/><circle cx="48.11" cy="50.08" r="0.52"/><circle cx="68.59" cy="25.18" r="0.36"/><circle cx="19.79" cy="51.24" r="0.4"/><circle cx="21.01" cy="7.07" r="0.35"/><circle cx="56.54" cy="46.24" r="0.45"/><circle cx="37.77" cy="1.5" r="0.6"/><circle cx="1.26" cy="14.08" r="0.38"/><circle cx="39.39" cy="67.23" r="0.33"/><circle cx="28.33" cy="35.89" r="0.3"/><circle cx="59.24" cy="21.06" r="0.58"/><circle cx="74.91" cy="69.96" r="0.45"/><circle cx="15.61" cy="7.21" r="0.33"/><circle cx="69.36" cy="58.69" r="0.52"/><circle cx="18.18" cy="11.86" r="0.59"/><circle cx="58.65" cy="55.7" r="0.58"/><circle cx="30.97" cy="52.49" r="0.44"/><circle cx="57.85" cy="40.84" r="0.48"/><circle cx="73.52" cy="29.65" r="0.37"/><circle cx="73.26" cy="56.97" r="0.45"/><circle cx="16.63" cy="50.65" r="0.32"/><circle cx="41.47" cy="9.81" r="0.53"/><circle cx="14.87" cy="31.31" r="0.46"/><circle cx="62.56" cy="60.56" r="0.48"/><circle cx="10.35" cy="52.66" r="0.5"/><circle cx="53.83" cy="0.2" r="0.46"/><circle cx="16.47" cy="2.49" r="0.6"/><circle cx="69.8" cy="31.26" r="0.59"/><circle cx="46.01" cy="3.51" r="0.59"/><circle cx="56.63" cy="72.12" r="0.3"/><circle cx="23.48" cy="12.34" r="0.44"/><circle cx="52.9" cy="14.03" r="0.39"/><circle cx="9.97" cy="69.99" r="0.51"/><circle cx="16.31" cy="51.5" r="0.38"/><circle cx="15.35" cy="17.16" r="0.56"/><circle cx="57.57" cy="72.98" r="0.38"/><circle cx="10.87" cy="42.81" r="0.55"/><circle cx="44.28" cy="39.83" r="0.38"/><circle cx="68.78" cy="25.93" r="0.33"/><circle cx="53.28" cy="17.79" r="0.56"/><circle cx="65.66" cy="12.34" r="0.35"/><circle cx="18.25" cy="60.68" r="0.46"/><circle cx="44.36" cy="3.92" r="0.35"/><circle cx="21.98" cy="74.42" r="0.39"/><circle cx="62.91" cy="44.38" r="0.51"/><circle cx="61.31" cy="41.1" r="0.41"/><circle cx="29.17" cy="11.89" r="0.55"/><circle cx="13.24" cy="62.96" r="0.44"/><circle cx="75.33" cy="30.81" r="0.31"/><circle cx="42.41" cy="50.58" r="0.59"/><circle cx="7.73" cy="60.49" r="0.55"/><circle cx="42.76" cy="66.12" r="0.47"/><circle cx="77.29" cy="61.67" r="0.57"/><circle cx="43.86" cy="8.73" r="0.42"/><circle cx="70.09" cy="48.62" r="0.43"/><circle cx="33" cy="30.23" r="0.39"/><circle cx="22.65" cy="1.52" r="0.43"/><circle cx="36.01" cy="24.83" r="0.57"/><circle cx="1.89" cy="66.4" r="0.57"/><circle cx="62.41" cy="27.19" r="0.49"/><circle cx="53.15" cy="11.94" r="0.43"/><circle cx="65.03" cy="70.02" r="0.6"/><circle cx="41.99" cy="36.46" r="0.33"/><circle cx="57.81" cy="10.27" r="0.46"/><circle cx="50.84" cy="37.01" r="0.39"/><circle cx="36.41" cy="30.28" r="0.6"/><circle cx="1.93" cy="43.22" r="0.57"/><circle cx="50.65" cy="38.16" r="0.43"/><circle cx="26.09" cy="17.63" r="0.51"/><circle cx="19.41" cy="73.09" r="0.44"/><circle cx="22.8" cy="11.44" r="0.38"/><circle cx="42.58" cy="60.74" r="0.48"/><circle cx="17.62" cy="67.55" r="0.39"/><circle cx="30.24" cy="72.47" r="0.51"/><circle cx="45.98" cy="55.1" r="0.32"/><circle cx="74.6" cy="50.97" r="0.49"/><circle cx="32.17" cy="26.14" r="0.35"/><circle cx="75.62" cy="14.11" r="0.37"/><circle cx="52.32" cy="40.64" r="0.45"/><circle cx="53.36" cy="17.9" r="0.31"/><circle cx="23.59" cy="40.69" r="0.44"/><circle cx="73.1" cy="37.25" r="0.46"/><circle cx="4.67" cy="31.61" r="0.45"/><circle cx="40.14" cy="67.9" r="0.51"/><circle cx="61.04" cy="28.29" r="0.36"/><circle cx="10.28" cy="54.58" r="0.44"/><circle cx="35.86" cy="4.01" r="0.31"/><circle cx="19.72" cy="51.05" r="0.46"/><circle cx="15.92" cy="4.43" r="0.52"/><circle cx="41.33" cy="61.21" r="0.36"/><circle cx="73.08" cy="5.28" r="0.35"/><circle cx="28.4" cy="5.31" r="0.58"/><circle cx="72.09" cy="61.54" r="0.48"/><circle cx="76.59" cy="52.58" r="0.46"/><circle cx="67.72" cy="54.46" r="0.52"/><circle cx="72.18" cy="2.62" r="0.3"/><circle cx="50.67" cy="2.13" r="0.44"/><circle cx="29.62" cy="60.58" r="0.32"/><circle cx="53.84" cy="20.22" r="0.58"/><circle cx="51.43" cy="56.12" r="0.55"/><circle cx="68.74" cy="66.69" r="0.42"/><circle cx="64.25" cy="27.18" r="0.51"/><circle cx="28.7" cy="15.69" r="0.32"/><circle cx="40.42" cy="72.91" r="0.34"/><circle cx="16.27" cy="13.57" r="0.59"/><circle cx="70.84" cy="14.48" r="0.3"/><circle cx="0.85" cy="11.64" r="0.37"/><circle cx="36.23" cy="51.13" r="0.45"/><circle cx="62.36" cy="23.14" r="0.41"/><circle cx="25.63" cy="62.44" r="0.47"/><circle cx="68.88" cy="25.18" r="0.4"/><circle cx="68.06" cy="8.84" r="0.35"/><circle cx="60.11" cy="32.79" r="0.43"/><circle cx="35.94" cy="1.27" r="0.41"/><circle cx="36.19" cy="46.24" r="0.5"/><circle cx="67.38" cy="18.29" r="0.43"/><circle cx="42.87" cy="7.66" r="0.55"/><circle cx="61.73" cy="72.52" r="0.39"/><circle cx="44.27" cy="39.78" r="0.39"/><circle cx="18.07" cy="1.56" r="0.51"/><circle cx="19.56" cy="46.86" r="0.32"/><circle cx="7.88" cy="19.34" r="0.31"/><circle cx="57.32" cy="28.37" r="0.46"/><circle cx="38.52" cy="13.35" r="0.47"/><circle cx="76.7" cy="48.05" r="0.48"/><circle cx="50.23" cy="10.76" r="0.49"/><circle cx="70.47" cy="23.34" r="0.36"/><circle cx="5.85" cy="54.65" r="0.43"/><circle cx="8.82" cy="2.98" r="0.47"/><circle cx="74.93" cy="20.34" r="0.33"/><circle cx="30.59" cy="74.67" r="0.53"/><circle cx="46.97" cy="76.77" r="0.45"/><circle cx="31.98" cy="18.59" r="0.38"/><circle cx="62.75" cy="23.51" r="0.53"/><circle cx="19.26" cy="13.34" r="0.41"/><circle cx="52.58" cy="41.32" r="0.49"/><circle cx="9.14" cy="68.15" r="0.41"/><circle cx="70.13" cy="4.04" r="0.33"/><circle cx="38.57" cy="66.19" r="0.32"/><circle cx="2.26" cy="53.53" r="0.32"/><circle cx="4.41" cy="49.31" r="0.4"/><circle cx="74.52" cy="51.58" r="0.49"/><circle cx="76.35" cy="51.7" r="0.56"/><circle cx="64.16" cy="63.16" r="0.47"/><circle cx="31.64" cy="10.59" r="0.42"/><circle cx="34" cy="15.73" r="0.44"/><circle cx="70.68" cy="37.07" r="0.32"/><circle cx="42.93" cy="22.06" r="0.49"/><circle cx="23.03" cy="61.46" r="0.46"/><circle cx="77.56" cy="30.31" r="0.4"/><circle cx="16.75" cy="20.62" r="0.53"/><circle cx="65.4" cy="68.68" r="0.5"/><circle cx="27.82" cy="7.19" r="0.37"/><circle cx="32.98" cy="15.58" r="0.46"/><circle cx="10.83" cy="17.41" r="0.47"/><circle cx="60.06" cy="56.46" r="0.39"/><circle cx="19.19" cy="6.73" r="0.59"/><circle cx="50.86" cy="53.95" r="0.54"/><circle cx="11.35" cy="72.62" r="0.45"/><circle cx="61.45" cy="21.46" r="0.47"/><circle cx="43.09" cy="64.61" r="0.6"/><circle cx="73.63" cy="76.8" r="0.54"/><circle cx="75.82" cy="41.87" r="0.32"/><circle cx="59.72" cy="64.29" r="0.53"/><circle cx="20.89" cy="30.34" r="0.51"/><circle cx="71.83" cy="69.94" r="0.55"/><circle cx="65.39" cy="64.42" r="0.59"/><circle cx="26.8" cy="37.35" r="0.43"/><circle cx="54.91" cy="45.29" r="0.51"/><circle cx="50.32" cy="37.56" r="0.51"/><circle cx="73.51" cy="5.15" r="0.42"/><circle cx="1.71" cy="38.01" r="0.55"/><circle cx="20.95" cy="10.8" r="0.32"/><circle cx="7.94" cy="76.94" r="0.32"/><circle cx="16.35" cy="68.39" r="0.39"/><circle cx="8.61" cy="45.45" r="0.57"/><circle cx="16.15" cy="56.91" r="0.57"/><circle cx="34.5" cy="44.88" r="0.45"/><circle cx="67.66" cy="75.76" r="0.48"/><circle cx="60.43" cy="72.52" r="0.57"/><circle cx="20.96" cy="34.47" r="0.32"/><circle cx="34.79" cy="55.29" r="0.31"/><circle cx="31.06" cy="44" r="0.53"/><circle cx="41.47" cy="50.12" r="0.46"/><circle cx="13.53" cy="25.83" r="0.48"/><circle cx="51.73" cy="30.3" r="0.52"/><circle cx="46.15" cy="20.99" r="0.54"/></g>
<circle cx="45" cy="11" r="2.6" fill="#686868" stroke="#a8a8a8" stroke-width="0.7" opacity="0.85" filter="url(#blur03)"/>
<circle cx="45" cy="11" r="1.3" fill="#2e962e" filter="url(#blur03)"/>
<circle cx="49" cy="21" r="2.6" fill="#686868" stroke="#a8a8a8" stroke-width="0.7" opacity="0.85" filter="url(#blur03)"/>
<circle cx="49" cy="21" r="1.3" fill="#2e962e" filter="url(#blur03)"/>
<circle cx="71" cy="17" r="1.6" fill="#686868" stroke="#a8a8a8" stroke-width="0.7" opacity="0.85" filter="url(#blur03)"/>
<circle cx="20" cy="33" r="2.2" fill="#686868" stroke="#a8a8a8" stroke-width="0.7" opacity="0.85" filter="url(#blur03)"/>
<circle cx="20" cy="33" r="1.1" fill="#2e962e" filter="url(#blur03)"/>
<circle cx="14" cy="34" r="2" fill="#686868" stroke="#a8a8a8" stroke-width="0.7" opacity="0.85" filter="url(#blur03)"/>
<circle cx="74" cy="33" r="2.6" fill="#686868" stroke="#a8a8a8" stroke-width="0.7" opacity="0.85" filter="url(#blur03)"/>
<circle cx="74" cy="33" r="1.3" fill="#2e962e" filter="url(#blur03)"/>
<circle cx="70" cy="45" r="2" fill="#686868" stroke="#a8a8a8" stroke-width="0.7" opacity="0.85" filter="url(#blur03)"/>
<circle cx="70" cy="45" r="1" fill="#2e962e" filter="url(#blur03)"/>
<circle cx="40" cy="42" r="2" fill="#686868" stroke="#a8a8a8" stroke-width="0.7" opacity="0.85" filter="url(#blur03)"/>
<circle cx="59" cy="23" r="1.6" fill="#686868" stroke="#a8a8a8" stroke-width="0.7" opacity="0.85" filter="url(#blur03)"/>
<circle cx="19" cy="57" r="1.6" fill="#686868" stroke="#a8a8a8" stroke-width="0.7" opacity="0.85" filter="url(#blur03)"/>
<circle cx="19" cy="57" r="0.8" fill="#2e962e" filter="url(#blur03)"/>
<circle cx="70" cy="48" r="1.5" fill="#686868" stroke="#a8a8a8" stroke-width="0.7" opacity="0.85" filter="url(#blur03)"/>
<circle cx="2" cy="50" r="1.5" fill="#686868" stroke="#a8a8a8" stroke-width="0.7" opacity="0.85" filter="url(#blur03)"/>
<circle cx="65" cy="70" r="2" fill="#686868" stroke="#a8a8a8" stroke-width="0.7" opacity="0.85" filter="url(#blur03)"/>
<circle cx="20" cy="73" r="2" fill="#686868" stroke="#a8a8a8" stroke-width="0.7" opacity="0.85" filter="url(#blur03)"/>
<circle cx="35" cy="60" r="1.5" fill="#686868" stroke="#a8a8a8" stroke-width="0.7" opacity="0.85" filter="url(#blur03)"/>
<g stroke="#b0a860" stroke-width="0.5"><line x1="3" y1="72.1" x2="22" y2="72.1"/></g>
</g>
</svg></div></body></html>
